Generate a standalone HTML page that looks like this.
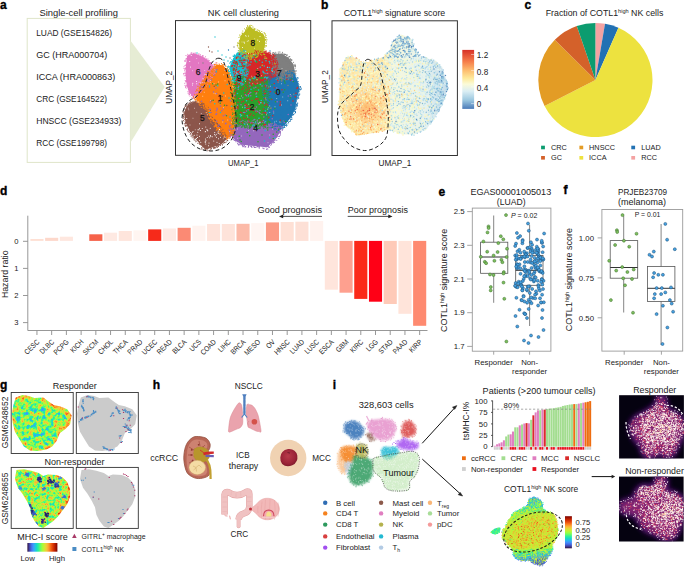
<!DOCTYPE html>
<html><head><meta charset="utf-8">
<style>
html,body{margin:0;padding:0;background:#fff;}
body{width:685px;height:569px;overflow:hidden;position:relative;font-family:"Liberation Sans",sans-serif;}
svg{position:absolute;left:0;top:0;}
svg text{font-family:"Liberation Sans",sans-serif;fill:#222;}
.pl{font-weight:bold;font-size:12px;fill:#000;stroke:#000;stroke-width:0.35px;}
.t9{font-size:8.8px;}
.t8{font-size:8.2px;}
</style></head><body>
<svg id="main" width="685" height="569" viewBox="0 0 685 569">


<text class="pl" x="0" y="9.2">a</text>
<text class="t9" x="39.4" y="16" font-size="9.2" textLength="78.6" lengthAdjust="spacingAndGlyphs">Single-cell profiling</text>
<rect x="27.2" y="18.4" width="103.2" height="144" fill="none" stroke="#dfe5c9" stroke-width="1"/>
<polygon points="130.4,40.5 130.4,142.7 164.7,87" fill="#e6ecd4"/>
<g class="t8">
<text x="36.2" y="36.2" font-size="8.7" textLength="75.8" lengthAdjust="spacingAndGlyphs">LUAD (GSE154826)</text>
<text x="36.2" y="58.1" font-size="8.7" textLength="71" lengthAdjust="spacingAndGlyphs">GC (HRA000704)</text>
<text x="36.2" y="80" font-size="8.7" textLength="79" lengthAdjust="spacingAndGlyphs">ICCA (HRA000863)</text>
<text x="36.2" y="101.9" font-size="8.7" textLength="70.8" lengthAdjust="spacingAndGlyphs">CRC (GSE164522)</text>
<text x="36.2" y="123.8" font-size="8.7" textLength="85.3" lengthAdjust="spacingAndGlyphs">HNSCC (GSE234933)</text>
<text x="36.2" y="145.7" font-size="8.7" textLength="70.8" lengthAdjust="spacingAndGlyphs">RCC (GSE199798)</text>
</g>
<text class="t9" x="207.8" y="16" textLength="71.1" lengthAdjust="spacingAndGlyphs">NK cell clustering</text>
<text class="t8" x="228.1" y="166" textLength="30.5" lengthAdjust="spacingAndGlyphs">UMAP_1</text>
<text class="t8" transform="translate(171.5,87.3) rotate(-90)" text-anchor="middle">UMAP_2</text>

<g id="umapA">
<path d="M269.3 74.6 L264.3 84.6 L264.3 84.7 L264.2 84.8 L264.2 84.9 L264.2 85 L264.2 85.1 L265.2 100 L266.1 122 L266.1 122.1 L266.1 122.2 L266.1 122.3 L266.2 122.4 L266.2 122.4 L266.3 122.5 L269.4 126.5 L269.4 126.6 L269.5 126.6 L269.5 126.7 L269.6 126.7 L269.7 126.7 L269.8 126.8 L269.8 126.8 L279 128.8 L279.1 128.8 L279.2 128.8 L279.3 128.8 L279.3 128.8 L279.4 128.8 L279.5 128.8 L279.5 128.7 L279.6 128.7 L279.7 128.6 L284.6 125 L284.6 125 L284.7 124.9 L290.9 117.5 L291 117.4 L291 117.4 L294.7 110 L294.7 109.9 L294.8 109.8 L294.8 109.8 L297.2 97.5 L299.7 88.9 L299.7 88.8 L299.7 88.8 L299.7 88.7 L299.7 88.6 L299.7 88.5 L299.7 88.5 L297.2 80.2 L297.1 80.1 L293.7 71.7 L293.7 71.6 L293.7 71.6 L293.6 71.5 L293.6 71.4 L293.5 71.4 L293.5 71.3 L293.4 71.3 L293.3 71.3 L293.2 71.2 L293.2 71.2 L293.1 71.2 L293 71.2 L292.9 71.2 L292.9 71.2 L292.8 71.2 L292.7 71.3 L292.6 71.3 L288.7 73.3 L279.9 76.2 L270.2 74.2 L270.1 74.2 L270 74.2 L269.9 74.2 L269.8 74.2 L269.8 74.2 L269.7 74.3 L269.6 74.3 L269.5 74.3 L269.5 74.4 L269.4 74.4 L269.4 74.5 L269.3 74.6 Z" fill="#1f77b4"/>
<path d="M272.2 54.6 L273.5 65.7 L273.5 65.7 L274.7 74.3 L274.7 74.4 L274.7 74.5 L274.8 74.5 L274.8 74.6 L274.8 74.7 L274.9 74.7 L274.9 74.8 L279.8 79.7 L279.9 79.7 L280 79.8 L280 79.8 L280.1 79.8 L280.2 79.9 L280.2 79.9 L280.3 79.9 L280.4 79.9 L280.5 79.9 L280.5 79.9 L280.6 79.9 L289.2 77.5 L289.3 77.4 L289.4 77.4 L289.4 77.4 L289.5 77.3 L289.6 77.3 L294.6 72.3 L294.6 72.2 L294.7 72.1 L294.7 72.1 L294.7 72 L294.8 71.9 L294.8 71.9 L294.8 71.8 L294.8 71.7 L294.8 71.6 L294.8 71.6 L293.5 64.3 L293.5 64.2 L293.4 64.1 L293.4 64 L293.4 64 L293.3 63.9 L288.4 57.7 L288.4 57.7 L288.3 57.6 L288.3 57.6 L288.2 57.5 L282.1 53.8 L282.1 53.8 L282 53.8 L281.9 53.7 L281.8 53.7 L281.8 53.7 L281.7 53.7 L273 53.7 L272.9 53.7 L272.8 53.7 L272.8 53.7 L272.7 53.8 L272.6 53.8 L272.6 53.8 L272.5 53.9 L272.4 53.9 L272.4 54 L272.3 54.1 L272.3 54.1 L272.3 54.2 L272.2 54.3 L272.2 54.4 L272.2 54.4 L272.2 54.5 Z" fill="#7f7f7f"/>
<path d="M231.7 124.9 L230.2 133.9 L230.2 133.9 L230.2 134 L230.2 134.1 L230.2 134.2 L230.2 134.2 L230.3 134.3 L230.3 134.4 L230.3 134.5 L230.4 134.5 L235.4 140.5 L235.4 140.6 L235.5 140.6 L235.6 140.7 L241.9 144.7 L241.9 144.7 L242 144.7 L242.1 144.8 L242.1 144.8 L242.2 144.8 L254.5 146.1 L254.5 146.1 L266.8 147.3 L266.9 147.3 L267 147.3 L267.1 147.3 L267.1 147.3 L267.2 147.2 L267.3 147.2 L267.3 147.2 L267.4 147.1 L267.5 147.1 L277.3 137.3 L277.3 137.2 L277.4 137.2 L277.4 137.1 L277.4 137 L281.1 128.8 L281.2 128.8 L281.2 128.7 L281.2 128.6 L281.2 128.5 L281.2 128.4 L281.2 128.4 L281.2 128.3 L281.1 128.2 L281.1 128.1 L281.1 128.1 L281 128 L281 127.9 L280.9 127.9 L280.8 127.8 L280.8 127.8 L280.7 127.8 L269.7 123.3 L269.6 123.2 L269.6 123.2 L269.5 123.2 L269.4 123.2 L258 123.2 L245.1 122.2 L245 122.2 L244.9 122.2 L232.4 124.2 L232.3 124.2 L232.2 124.2 L232.2 124.3 L232.1 124.3 L232 124.4 L232 124.4 L231.9 124.5 L231.9 124.5 L231.8 124.6 L231.8 124.6 L231.8 124.7 L231.7 124.8 Z" fill="#9467bd"/>
<path d="M233.7 79 L233.2 95 L233.2 95 L233.7 110 L233.7 124 L233.7 124.1 L233.7 124.2 L233.7 124.2 L233.8 124.3 L233.8 124.4 L233.8 124.4 L233.9 124.5 L233.9 124.6 L234 124.6 L234.1 124.7 L234.1 124.7 L234.2 124.7 L234.3 124.8 L234.3 124.8 L234.4 124.8 L244.9 125.8 L254.9 126.8 L255 126.8 L266 126.8 L266.1 126.8 L266.2 126.8 L266.2 126.8 L266.3 126.7 L266.4 126.7 L266.5 126.7 L266.5 126.6 L266.6 126.6 L266.6 126.5 L266.7 126.4 L266.7 126.4 L268.7 122.4 L268.7 122.3 L268.8 122.2 L268.8 122.1 L268.8 122 L268.8 122 L267.8 100 L267.8 79 L267.8 78.9 L267.8 78.8 L267.8 78.8 L267.7 78.7 L267.7 78.6 L267.7 78.6 L267.6 78.5 L267.6 78.4 L267.5 78.4 L267.4 78.3 L267.4 78.3 L267.3 78.3 L267.2 78.2 L267.2 78.2 L267.1 78.2 L267 78.2 L266.9 78.2 L266.8 78.2 L257 80.2 L245.1 78.2 L245.1 78.2 L245 78.2 L234.5 78.2 L234.4 78.2 L234.3 78.2 L234.3 78.2 L234.2 78.3 L234.1 78.3 L234.1 78.3 L234 78.4 L233.9 78.4 L233.9 78.5 L233.8 78.5 L233.8 78.6 L233.8 78.7 L233.7 78.7 L233.7 78.8 L233.7 78.9 Z" fill="#2ca02c"/>
<path d="M245.2 55.6 L244 61.7 L244 61.8 L244 61.9 L244 71.7 L244 71.8 L244 71.9 L244 71.9 L244.1 72 L247.8 80.7 L247.8 80.8 L247.8 80.9 L247.9 80.9 L248 81 L248 81 L248.1 81.1 L248.2 81.1 L248.2 81.2 L248.3 81.2 L248.4 81.2 L256.9 82.4 L257 82.4 L257 82.4 L257.1 82.4 L257.2 82.4 L267.1 79.9 L267.2 79.8 L267.3 79.8 L267.3 79.8 L274.7 74.9 L274.8 74.8 L274.9 74.8 L274.9 74.7 L275 74.6 L275 74.6 L275 74.5 L275.1 74.4 L277.5 65.8 L277.5 65.7 L277.5 65.7 L277.5 65.6 L277.5 65.5 L277.5 65.4 L277.5 65.4 L277.4 65.3 L273.7 56.7 L273.7 56.6 L273.7 56.5 L273.6 56.5 L273.5 56.4 L273.5 56.4 L273.4 56.3 L267.3 52.6 L267.3 52.6 L267.2 52.6 L267.1 52.5 L267 52.5 L267 52.5 L266.9 52.5 L255.8 52.5 L255.7 52.5 L255.7 52.5 L255.6 52.5 L245.8 55 L245.7 55 L245.6 55.1 L245.6 55.1 L245.5 55.2 L245.4 55.2 L245.4 55.3 L245.3 55.3 L245.3 55.4 L245.3 55.5 L245.2 55.6 Z" fill="#d62728"/>
<path d="M236.7 52.9 L233 59 L233 59.1 L229.3 67.7 L229.2 67.8 L229.2 67.8 L229.2 67.9 L229.2 68 L229.2 68.1 L229.2 68.2 L229.2 68.2 L232.9 80.6 L233 80.7 L233 80.8 L233 80.8 L233.1 80.9 L233.1 81 L233.2 81 L233.2 81.1 L233.3 81.1 L233.4 81.1 L233.5 81.2 L240.8 83.6 L240.8 83.6 L240.9 83.6 L241 83.6 L241.1 83.6 L241.1 83.6 L241.2 83.6 L241.3 83.5 L241.4 83.5 L241.4 83.5 L241.5 83.4 L241.5 83.4 L241.6 83.3 L241.6 83.3 L241.7 83.2 L246.7 74.6 L246.7 74.5 L246.8 74.4 L246.8 74.4 L246.8 74.3 L246.8 74.2 L246.8 61.9 L246.8 61.8 L246.8 61.8 L246.8 61.7 L244.3 51.8 L244.3 51.7 L244.2 51.7 L244.2 51.6 L244.1 51.5 L244.1 51.5 L244 51.4 L244 51.4 L243.9 51.3 L243.9 51.3 L243.8 51.3 L243.7 51.2 L243.6 51.2 L243.6 51.2 L243.5 51.2 L243.4 51.2 L243.3 51.2 L237.2 52.5 L237.2 52.5 L237.1 52.6 L237 52.6 L236.9 52.6 L236.9 52.7 L236.8 52.8 L236.8 52.8 Z" fill="#17becf"/>
<path d="M249 26.5 L246.9 29 L243.9 32.5 L243.9 32.5 L240.4 37 L240.3 37.1 L240.3 37.1 L240.3 37.2 L240.2 37.3 L240.2 37.4 L239 43.9 L239 43.9 L239 44 L239 44.1 L239.7 50.1 L239.7 50.2 L239.7 50.3 L239.8 50.3 L239.8 50.4 L239.9 50.5 L239.9 50.5 L244.4 55.5 L244.5 55.6 L244.5 55.6 L244.6 55.7 L244.6 55.7 L248.6 57.7 L248.7 57.7 L248.8 57.8 L248.9 57.8 L249 57.8 L249 57.8 L249.1 57.8 L249.2 57.8 L249.3 57.8 L256.3 55.3 L256.3 55.2 L262.3 52.7 L262.4 52.7 L262.4 52.7 L262.5 52.6 L262.6 52.6 L262.6 52.5 L262.7 52.4 L262.7 52.4 L262.7 52.3 L264.7 47.3 L264.8 47.2 L264.8 47.1 L264.8 47 L265.2 40 L265.2 40 L265.2 39.9 L265.2 39.8 L263.8 34.8 L263.7 34.7 L263.7 34.6 L263.7 34.6 L263.6 34.5 L263.6 34.4 L263.5 34.4 L263.4 34.3 L263.4 34.3 L259.4 32.3 L259.3 32.3 L255.4 30.8 L252.5 28.4 L250.1 26.4 L250 26.3 L250 26.3 L249.9 26.3 L249.8 26.2 L249.8 26.2 L249.7 26.2 L249.6 26.2 L249.5 26.2 L249.5 26.2 L249.4 26.2 L249.3 26.3 L249.2 26.3 L249.2 26.3 L249.1 26.4 L249 26.4 Z" fill="#bcbd22"/>
<path d="M191.3 53.8 L187.6 56.3 L187.5 56.4 L187.4 56.4 L187.4 56.5 L187.3 56.6 L187.3 56.6 L187.3 56.7 L187.2 56.8 L187.2 56.9 L186 64.3 L186 64.4 L185.4 74.2 L185.4 74.2 L185.4 74.3 L186.6 84.1 L186.6 84.2 L186.6 84.2 L189 91.6 L189.1 91.7 L189.1 91.8 L189.1 91.9 L192.3 96.5 L192.4 96.5 L192.4 96.6 L192.5 96.6 L192.6 96.7 L192.6 96.7 L192.7 96.7 L192.8 96.8 L192.9 96.8 L192.9 96.8 L193 96.8 L193.1 96.8 L193.2 96.8 L193.2 96.8 L193.3 96.7 L193.4 96.7 L193.5 96.7 L193.5 96.6 L199 92 L199.1 92 L204 87.1 L204 87 L204.1 86.9 L206.5 83.2 L206.5 83.2 L210.2 77.1 L213.8 72.2 L213.9 72.1 L213.9 72 L214 72 L214 71.9 L214 71.8 L214 71.7 L214 71.6 L214 71.5 L212.8 65.4 L212.8 65.4 L212.7 65.3 L212.7 65.2 L212.7 65.2 L212.6 65.1 L212.6 65 L208.9 61.3 L208.8 61.3 L203.9 57.6 L203.8 57.5 L203.8 57.5 L197.6 54.4 L197.5 54.4 L197.4 54.3 L197.4 54.3 L197.3 54.3 L191.8 53.7 L191.7 53.7 L191.6 53.7 L191.5 53.7 L191.5 53.7 L191.4 53.8 L191.3 53.8 Z" fill="#e377c2"/>
<path d="M186.6 106.2 L184.1 113 L184.1 113.1 L184.1 113.2 L184.1 113.3 L184.1 113.3 L184.1 113.4 L185.4 122 L185.4 122.1 L185.4 122.2 L185.5 122.2 L189.1 129.6 L189.1 129.7 L194.1 137.1 L194.2 137.2 L200.3 144.5 L200.3 144.6 L205.2 149.6 L205.3 149.6 L205.3 149.7 L205.4 149.7 L205.5 149.7 L205.6 149.8 L205.6 149.8 L205.7 149.8 L205.8 149.8 L205.9 149.8 L205.9 149.8 L206 149.8 L206.1 149.7 L212.3 147.3 L220.8 144.8 L220.9 144.7 L221 144.7 L221 144.7 L221.1 144.6 L221.2 144.6 L226.1 139.7 L226.1 139.6 L226.2 139.5 L226.2 139.5 L226.2 139.4 L226.3 139.3 L226.3 139.3 L226.3 139.2 L226.3 139.1 L226.3 139 L226.3 139 L226.3 138.9 L226.2 138.8 L226.2 138.7 L222.5 131.3 L222.5 131.3 L222.4 131.2 L222.4 131.1 L217.5 126.3 L212.7 119 L207.7 109.2 L207.7 109.2 L207.6 109.1 L207.6 109 L207.5 109 L201.4 104.1 L201.3 104 L201.3 104 L201.2 104 L195.1 101.5 L195 101.4 L194.9 101.4 L194.9 101.4 L194.8 101.4 L194.7 101.4 L194.6 101.4 L194.5 101.4 L194.5 101.5 L194.4 101.5 L187 105.8 L186.9 105.9 L186.9 105.9 L186.8 106 L186.8 106 L186.7 106.1 L186.7 106.2 Z" fill="#8c564b"/>
<path d="M216.3 64.9 L208.9 72.4 L208.9 72.5 L208.8 72.6 L204.3 79.6 L204.3 79.6 L199.3 87.6 L199.3 87.7 L195.3 96.7 L195.2 96.7 L195.2 96.8 L195.2 96.9 L195.2 97 L195.2 97.1 L195.2 97.1 L195.2 97.2 L195.2 97.3 L195.3 97.3 L195.3 97.4 L195.4 97.5 L198.4 101.5 L198.4 101.5 L206.3 110.1 L211.3 119.8 L211.3 119.8 L216.2 127.4 L216.3 127.5 L216.3 127.6 L221.2 132.6 L226.4 138 L226.5 138.1 L226.5 138.2 L226.6 138.2 L226.7 138.2 L226.7 138.3 L226.8 138.3 L226.9 138.3 L227 138.3 L227 138.3 L227.1 138.3 L227.2 138.3 L227.3 138.3 L227.3 138.2 L227.4 138.2 L233.4 134.7 L233.5 134.6 L233.5 134.6 L233.6 134.5 L233.6 134.5 L233.7 134.4 L233.7 134.4 L233.7 134.3 L233.8 134.2 L233.8 134.1 L233.8 134.1 L235.3 115.9 L235.3 115.8 L235.3 115.7 L233.8 96.9 L233.8 96.9 L231.8 79.9 L231.8 79.8 L231.8 79.8 L231.7 79.7 L227.7 69.7 L227.7 69.6 L227.7 69.6 L227.6 69.5 L227.6 69.4 L227.5 69.4 L222.5 65.4 L222.4 65.3 L222.4 65.3 L222.3 65.3 L222.2 65.2 L222.2 65.2 L222.1 65.2 L217 64.7 L216.9 64.7 L216.8 64.7 L216.7 64.7 L216.7 64.7 L216.6 64.8 L216.5 64.8 L216.5 64.8 L216.4 64.9 Z" fill="#ff7f0e"/>
<path transform="scale(.25)" d="M1164 284h0m-80 12h0m35 2h0m7-2h0m5 0h0m4 0h0m9-7h0m6 4h0m1-2h0m14 3h0m1 3h0m4-6h0m1 5h0m1 11h0m-2-2h0m-8-4h0m-15 7h0m-3-3h0m-11 3h0m-7-2h0m-12 3h0m-23-4h0m-1-4h0m-3-1h0m-23 19h0m2-7h0m1 10h0m10-8h0m11 4h0m11 0h0m9 0h0m67 3h0m0-1h0m5 2h0m8-5h0m5-5h0m-7 23h0m0-3h0m-1-5h0m-1 7h0m-1-8h0m-102 5h0m-4-4h0m-5 0h0m-1 0h0m-8 6h0m-3 0h0m-9 10h0m9 0h0m1-2h0m6 2h0m28 4h0m93-1h0m2-7h0m6 0h0m9 14h0m-1 5h0m-1-8h0m-6 9h0m-7-6h0m-6-1h0m-48 3h0m-7-2h0m-26 6h0m-36-3h0m-5-4h0m-1-1h0m-9 7h0m1 5h0m10 3h0m3 4h0m88-5h0m34 6h0m9-6h0m2 11h0m-1 4h0m-10-8h0m-14 0h0m-4 4h0m-39 7h0m-4-8h0m-3-1h0m-52 3h0m0-1h0m0 5h0m-3 1h0m-11-4h0m-2 1h0m11 9h0m7 5h0m29-2h0m17 1h0m58 3h0m10-6h0m5-4h0m0 4h0m-20 15h0m-14-2h0m-38 4h0m-51-10h0m-2 7h0m-10-5h0m-1 1h0m3 15h0m1-3h0m7 6h0m0-8h0m6-1h0m3 5h0m55 5h0m0-1h0m40-9h0m9 7h0m1 0h0m3 3h0m4 4h0m0 0h0m-1 4h0m-5 2h0m-4-1h0m-56 4h0m-48 0h0m-12-11h0m-5 0h0m1 21h0m8-5h0m29-4h0m4 5h0m22 3h0m27-5h0m24 0h0m7 2h0m0 1h0m2-1h0m2-2h0m-2 14h0m0 2h0m-13 4h0m-4-3h0m-2-4h0m-71 1h0m-8 5h0m-8-9h0m-2 4h0m-5 1h0m-12-2h0m0 5h0m-1-1h0m4 13h0m1 0h0m4-8h0m8 10h0m82-8h0m5 5h0m9-6h0m-1 18h0m-1-6h0m-1-2h0m-2 0h0m-3 8h0m-4-3h0m-9-1h0m-62-3h0m-14 0h0m-6 2h0m-9 12h0m2 1h0m0-4h0m15 2h0m52 1h0m8 1h0m3-2h0m4 7h0m3-9h0m0 9h0m10 1h0m8-7h0m-50 12h0m-13 6h0m-11-1h0m-1 3h0m-3-10h0m-3 0h0m0 1h0m-15 9h0m-1-5h0m-3-4h0m18 16h0m0 1h0m5-1h0m10-6h0m4 0h0m2 1h0m2 1h0m14 8h0m1-2h0m4-5h0m2 6h0m5-4h0m2 4h0m0-5h0m3 3h0m12-7h0m-41 15h0m-6 0h0" stroke="#1f77b4" stroke-width="4.8" stroke-linecap="round" fill="none"/>
<path transform="scale(.25)" d="M1100 215h0m-1-3h0m-17 1h0m1 14h0m6-3h0m7-7h0m4 9h0m11-7h0m8 8h0m5-11h0m7 4h0m10 7h0m6-5h0m0 0h0m17 15h0m-2-2h0m-3 2h0m-6-9h0m-15 5h0m-25-4h0m-14 9h0m-1-3h0m-10 1h0m-1 0h0m-3-8h0m4 15h0m10 7h0m1-8h0m0 3h0m15 0h0m3-5h0m28 0h0m9 5h0m11-4h0m3-1h0m13 21h0m-17-2h0m-1 3h0m-1-1h0m-39 0h0m-25-6h0m-7-2h0m2 19h0m7-4h0m1 2h0m32-1h0m30-3h0m1 2h0m1 1h0m0 6h0m17-10h0m2 20h0m-17-6h0m-2 0h0m-62 0h0m-4 5h0m-5-3h0m-1 18h0m3-10h0m7 10h0m2-9h0m3 7h0m3 0h0m6-7h0m1 8h0m60-10h0m-9 12h0m-1 8h0m-7 0h0m-2-5h0m-3 5h0m-4-4h0m-3-2h0m-4 4h0m-7-1h0m-3-2h0m-1 1h0m-1 5h0m-6-4h0m-28-2h0m10 9h0m1 3h0m1 6h0m3 1h0m4-3h0m6-3h0m1 4h0m3-8h0m1 11h0m8-6h0m6 3h0m8-1h0" stroke="#7f7f7f" stroke-width="4.8" stroke-linecap="round" fill="none"/>
<path transform="scale(.25)" d="M938 490h0m16 0h0m9-5h0m8 5h0m2-7h0m20 1h0m4 0h0m18 7h0m14-6h0m9 3h0m3 1h0m2 1h0m0-4h0m7-1h0m10 4h0m6-1h0m0 0h0m47 15h0m-5-1h0m-4-2h0m-5 2h0m-6 0h0m-8 0h0m-1-3h0m-1 2h0m-1 1h0m-17-2h0m-2 3h0m-4-11h0m-9 7h0m0-1h0m-7-6h0m-17 6h0m-22-4h0m-14 7h0m-10-7h0m-11 9h0m-7-7h0m-26 5h0m-4-5h0m-9 6h0m-4 1h0m-1 2h0m0-1h0m5 10h0m16-3h0m10-6h0m10 0h0m0 0h0m45 0h0m2 10h0m6-9h0m2-2h0m38 2h0m14 0h0m16 5h0m3-5h0m8-2h0m2 10h0m4 0h0m0-2h0m9-6h0m0 5h0m5-7h0m1 6h0m11-5h0m3 15h0m-6-2h0m-20-2h0m0 0h0m-14 6h0m-88-3h0m-47 1h0m-22-2h0m-3 8h0m-2-3h0m-8 3h0m-2-7h0m2 11h0m12 6h0m7 3h0m112-1h0m32-5h0m12 5h0m15-8h0m7 5h0m0 0h0m3-7h0m4 4h0m-23 19h0m-4-11h0m-1 0h0m-2 4h0m-26-2h0m-27 5h0m-92 3h0m0-1h0m-5-5h0m-10-2h0m1 16h0m9 5h0m4-7h0m5 6h0m1 0h0m1 0h0m7-4h0m8-5h0m8 4h0m116-5h0m15 9h0m-10 8h0m-5-1h0m-4 4h0m-3 1h0m-1-8h0m-35 0h0m-8 9h0m-8 0h0m-3-1h0m-7-2h0m0 1h0m-2 2h0m-31-1h0m-3 1h0m-6-3h0m-2 0h0m-2-5h0m-6 7h0m-1-9h0m-3 2h0m-1 1h0m-2 8h0m-6-7h0m0 0h0m-3 12h0m0 0h0m0-3h0m17 10h0m9 0h0m15-4h0m19 1h0m7-3h0m5-4h0m2 10h0m1-2h0m25-8h0m1 2h0m7-1h0m12 7h0m11-8h0m-10 11h0m-5 8h0m-16-2h0m-28-6h0m-5 1h0m-5 1h0m-24-1h0m-13-1h0" stroke="#9467bd" stroke-width="4.8" stroke-linecap="round" fill="none"/>
<path transform="scale(.25)" d="M1064 311h0m-1-3h0m-13 0h0m-8 2h0m-73-4h0m-1 3h0m-4-4h0m-7 0h0m-10 0h0m-8 6h0m-8 5h0m5 4h0m0-4h0m5 6h0m4-8h0m8 6h0m3-4h0m3-2h0m3 8h0m13 1h0m33-6h0m17 3h0m16-7h0m3 3h0m3-4h0m0 1h0m11 10h0m1-3h0m5-6h0m4 9h0m3-4h0m7 9h0m-5-1h0m-2 1h0m-1 0h0m-6 6h0m-4-1h0m-1-2h0m-2-5h0m-3 2h0m0-2h0m-7 3h0m-12-4h0m-6 0h0m-4-1h0m-4 6h0m-3 2h0m-4-7h0m-19 2h0m-3 0h0m-11-2h0m-2 0h0m-25-1h0m-5 1h0m-4 2h0m-1 5h0m-2 1h0m-1-3h0m-11-1h0m-3 5h0m2 7h0m23-2h0m37 8h0m10-2h0m34-5h0m15 7h0m9-11h0m1 1h0m1 2h0m3 8h0m3 0h0m3-2h0m10 0h0m1 9h0m-5-1h0m-3 2h0m-4-7h0m-126 4h0m-11 16h0m6 2h0m1-10h0m0 4h0m10 4h0m61 1h0m4 1h0m18-9h0m35 2h0m4 7h0m5-5h0m-3 15h0m-14 0h0m-28-8h0m-28 11h0m-34-2h0m-31-9h0m-6 8h0m-4 14h0m4-9h0m35 8h0m29-7h0m6-1h0m2 4h0m58 1h0m5-1h0m7 3h0m0-7h0m6 14h0m0 2h0m-75 6h0m-76 0h0m11 4h0m124-1h0m1 9h0m0-9h0m0 9h0m0-2h0m3-6h0m5 7h0m2-4h0m2-5h0m4 18h0m-11 4h0m-2-9h0m-5 0h0m-105 4h0m-1-5h0m-19 7h0m-7-5h0m-1 14h0m1 5h0m4-10h0m5 5h0m5 3h0m4-6h0m1 8h0m14 0h0m25-5h0m1-2h0m28 0h0m39 6h0m17-2h0m4-7h0m0 2h0m5 4h0m-14 17h0m-4-5h0m-3-3h0m-41 1h0m-22 4h0m-48-5h0m-3 5h0m-6 3h0m-10-11h0m39 20h0m93-1h0m10-6h0m5 3h0m-59 13h0m-78-2h0m-1 7h0m-1-1h0m-7 6h0m7 3h0m3 0h0m5 1h0m8 3h0m1-10h0m8 5h0m2 5h0m1-7h0m6 6h0m2-3h0m9 5h0m21-4h0m17-1h0m26 2h0m18-3h0m9-2h0m3 7h0m3 0h0m-1 3h0m-1 1h0m-6 7h0m-25-7h0m-1 5h0m-6-1h0m-8-3h0m-5 3h0m-1-1h0m-11-1h0m-18 0h0m-1-4h0m-4 1h0m0 9h0m-8-6h0m-17-3h0m-7 4h0m-1-4h0m-8 5h0m-19-2h0m-2 0h0m37 13h0m1-2h0m0-3h0m13 4h0m7-3h0m10 8h0m3-3h0m1 1h0m31 1h0m5 0h0m15-5h0m2 7h0m5-9h0m11 6h0" stroke="#2ca02c" stroke-width="4.8" stroke-linecap="round" fill="none"/>
<path transform="scale(.25)" d="M1080 209h0m-7 3h0m-16-4h0m-1-2h0m0 0h0m-1 4h0m-4-5h0m-4 1h0m-4 0h0m-10 1h0m-10 0h0m-15 8h0m-27 0h0m-8 8h0m2-4h0m3-1h0m3 0h0m16-2h0m9 6h0m18 1h0m3-5h0m0-1h0m1 4h0m5 3h0m9-8h0m4 6h0m14 4h0m8 0h0m6-3h0m2-6h0m5 0h0m3 10h0m9-2h0m2-8h0m1 4h0m3 5h0m2 10h0m-11-8h0m-58 8h0m-16 0h0m-24-7h0m0 0h0m-8 4h0m-1-4h0m-6 10h0m-2-4h0m-5 1h0m40 15h0m6-9h0m5 8h0m62-9h0m11 8h0m16 2h0m-13 9h0m-2 1h0m-30-7h0m-17 2h0m-19 4h0m-14-1h0m-32 2h0m-3 1h0m0-6h0m-9 0h0m0 17h0m0-7h0m11-2h0m2 4h0m1 0h0m3-4h0m2 6h0m28 0h0m75 5h0m4-2h0m4-9h0m8 5h0m0 12h0m0 4h0m-17-1h0m0 1h0m-64 2h0m-22-8h0m-16-2h0m0 8h0m-7-5h0m-6-1h0m-2 7h0m-1 6h0m23-4h0m8 11h0m1-2h0m3-9h0m8 4h0m66 5h0m3-5h0m14 1h0m2-2h0m3-2h0m4 6h0m-8 7h0m-2 5h0m-3-7h0m-2 5h0m-5 0h0m-75 4h0m-2-2h0m-13-1h0m-10-4h0m-2 3h0m-2 6h0m-1-3h0m-1-2h0m-2 12h0m4-3h0m3 8h0m9-1h0m5 1h0m45-2h0m5-1h0m2-3h0m8-5h0m1 2h0m23-2h0m-25 16h0m-6-1h0m-12 0h0m-4 5h0m-11 1h0m-9-9h0m-14 6h0m-10-6h0m-3 5h0" stroke="#d62728" stroke-width="4.8" stroke-linecap="round" fill="none"/>
<path transform="scale(.25)" d="M953 203h0m13 0h0m19 6h0m-10 6h0m-12 0h0m-3-8h0m-1 8h0m-6-1h0m0-3h0m-16 10h0m12-5h0m3 3h0m8 8h0m14-4h0m0 3h0m3-7h0m0 1h0m2 5h0m0-4h0m1-4h0m3 7h0m0 8h0m-13-4h0m-12 9h0m-11 0h0m-11-1h0m-2-2h0m-3 8h0m3 3h0m8-4h0m33 8h0m2-7h0m7 2h0m2 3h0m8-6h0m-7 17h0m-11-3h0m-52 1h0m-13 10h0m0 5h0m3-3h0m8 1h0m1 1h0m10-2h0m24-2h0m16 5h0m0-4h0m5 1h0m2-3h0m12 11h0m-7 4h0m-5-1h0m-2 8h0m0-8h0m-3 0h0m-47-1h0m-5 9h0m-1-1h0m-7 0h0m-1-4h0m0-1h0m11 14h0m1 4h0m7-8h0m11-1h0m43 9h0m7 0h0m-4 7h0m-5 3h0m-3 2h0m-1-6h0m-8 6h0m-7 0h0m-2-1h0m-19-1h0m-8-4h0m-4 5h0m-4-8h0m-4 0h0m24 18h0m27-2h0m4-2h0m3 3h0m-11 15h0m-5-5h0m-4 5h0m-14-6h0m-14 1h0m-9-2h0m21 9h0m17 3h0m1 2h0m5-3h0m3-1h0" stroke="#17becf" stroke-width="4.8" stroke-linecap="round" fill="none"/>
<path transform="scale(.25)" d="M990 103h0m8 0h0m3 4h0m30 12h0m-19-11h0m-1 0h0m-6 9h0m-2-6h0m-7 4h0m-1 2h0m0-5h0m-7-2h0m-17 14h0m11-4h0m3 5h0m6 6h0m2-8h0m9 2h0m4-3h0m2 9h0m8-11h0m2 8h0m12-1h0m8-3h0m4 6h0m7 3h0m0 8h0m-4-5h0m-16-3h0m-12 0h0m-6 3h0m-35 1h0m0 2h0m-1 0h0m-5 4h0m-2-2h0m-12 9h0m11-2h0m9 0h0m61-4h0m12 5h0m2-3h0m4-1h0m6 5h0m5 17h0m-4-9h0m-8 6h0m-5 3h0m-38-10h0m-39 9h0m-6-6h0m-15 16h0m2-4h0m3 2h0m7-6h0m1 6h0m2 5h0m1-6h0m2 3h0m4 1h0m6 1h0m21-5h0m65 0h0m1 10h0m-6-1h0m-6 2h0m-3 3h0m-3 3h0m-60-7h0m-18-2h0m-21 1h0m7 10h0m4 1h0m4 6h0m82-7h0m4 1h0m11 13h0m-8 3h0m-26 5h0m-2-2h0m-5-3h0m-32 5h0m-4-5h0m-3-1h0m-2 1h0m-11 4h0m-2 1h0m-10-4h0m7 6h0m10 10h0m5 1h0m20-9h0m1 7h0m2-3h0m2-5h0m6 1h0m2 4h0m3 0h0m8-5h0m20 0h0m5 3h0m-24 8h0m-17 2h0m0 5h0m-2-4h0m-16-1h0m-5 2h0m-5-3h0" stroke="#bcbd22" stroke-width="4.8" stroke-linecap="round" fill="none"/>
<path transform="scale(.25)" d="M782 212h0m-5 3h0m-1-3h0m-2 2h0m-6-2h0m-24 10h0m13-2h0m0-1h0m16-2h0m1 0h0m1 4h0m1 1h0m5-2h0m10 4h0m3-8h0m6 8h0m7 1h0m4 2h0m16 12h0m0-3h0m-13-2h0m-2-2h0m0 1h0m0 4h0m-13 0h0m-2-3h0m-5-3h0m-7 8h0m-1-8h0m-21-2h0m-24 14h0m5-3h0m12 3h0m61-1h0m2-2h0m1 6h0m15 0h0m5 5h0m2-1h0m17 12h0m-14-9h0m-3 7h0m-75-4h0m-9 3h0m-13 3h0m-9 5h0m0 7h0m12-6h0m3 3h0m13-7h0m82 10h0m12-10h0m1 6h0m1 7h0m-3 1h0m-5 3h0m-22-3h0m-13 5h0m-15-1h0m-19-5h0m-43 1h0m-6 17h0m1 1h0m0-2h0m4-2h0m9 6h0m0 1h0m11-3h0m23-1h0m58-7h0m12 4h0m3 6h0m-5 12h0m-8-4h0m-10 0h0m-2-2h0m-3 3h0m-1 2h0m-30 2h0m-50-2h0m-9-6h0m4 19h0m4-8h0m72 0h0m13 1h0m6 10h0m-3 1h0m-72 3h0m-3 2h0m-1 4h0m-2 0h0m0 0h0m-12-8h0m-3 14h0m9 3h0m1 1h0m1-5h0m4 4h0m3-5h0m5 7h0m42-4h0m2 3h0m6-1h0m18-7h0m-16 20h0m-3-6h0m-1 0h0m-3-2h0m0 8h0m0-2h0m-1-1h0m-5-1h0m-4 2h0m-5-1h0m-32-4h0m0 1h0m-2 4h0m-7 11h0m4-3h0m6 8h0m9-7h0m5 6h0m2-1h0m4-2h0m4-5h0m2 8h0m3-3h0m9-3h0m3-4h0m7 0h0m-20 15h0m-13-1h0m-20 2h0m-1-4h0m-4 0h0m8 12h0m17 1h0m1 7h0m7-6h0" stroke="#e377c2" stroke-width="4.8" stroke-linecap="round" fill="none"/>
<path transform="scale(.25)" d="M785 400h0m-1 6h0m-42 13h0m13-3h0m2-5h0m5 3h0m1 3h0m0-8h0m5 3h0m7 5h0m2-7h0m6 3h0m1 0h0m7-1h0m28 10h0m-8 9h0m-1-7h0m-2-3h0m-2 10h0m-2 0h0m-11-10h0m-1-1h0m-5 0h0m-20 8h0m-1 1h0m-5 1h0m-5-6h0m-3 5h0m-15 0h0m14 5h0m16 0h0m37-1h0m4 1h0m5 2h0m17 8h0m-44 10h0m-19 0h0m-20 0h0m-16-10h0m-1 16h0m3 5h0m13-8h0m19 5h0m21 0h0m4 5h0m2-9h0m48 7h0m18 13h0m0-1h0m-10-6h0m-8 5h0m-2 0h0m-2 3h0m-2-6h0m-45 0h0m-1 4h0m-23-7h0m-12 5h0m-15 3h0m-3-9h0m-3 3h0m11 18h0m5-9h0m6 3h0m42 4h0m5 0h0m39-3h0m2-5h0m4 7h0m1-5h0m2 1h0m8 7h0m6 0h0m12 12h0m-6 1h0m-3-5h0m-5-5h0m-3 2h0m-11-2h0m-45 5h0m-6-3h0m-5 2h0m-33-5h0m-9 1h0m-3 10h0m-10-8h0m21 20h0m3-4h0m7-7h0m89 3h0m5 0h0m16-1h0m1 1h0m4 8h0m8 8h0m-5-2h0m-2 3h0m-6 3h0m-2-10h0m-40 6h0m-22-1h0m-38 1h0m-4-6h0m-3 2h0m0 1h0m-1 2h0m0-4h0m-15 8h0m-2-4h0m6 7h0m17 8h0m47-6h0m63 6h0m1 1h0m4-9h0m4 3h0m7 0h0m-2 15h0m-4 4h0m-2-5h0m-3 1h0m-4-4h0m-5 1h0m-6 1h0m-6 5h0m-82-10h0m-6 6h0m-9-4h0m5 17h0m1-4h0m32 5h0m1-5h0m20 3h0m55 1h0m5-4h0m3 2h0m18-4h0m-7 16h0m-14-1h0m-7 1h0m-12-2h0m-15 3h0m-1 5h0m-13-7h0m-14 0h0m-16 7h0m-2-2h0m-3 0h0m-1-6h0m-21-3h0m-2 3h0m19 9h0m16 1h0m1 8h0m24-3h0m0-5h0m4 0h0m2 9h0m3-3h0m2-2h0m12 3h0m5-1h0m3 3h0m8-5h0m8-1h0m-20 9h0m-10 4h0m-3-1h0m-3 0h0m-1-3h0m-7 5h0m-16-2h0m-10 9h0m19 0h0" stroke="#8c564b" stroke-width="4.8" stroke-linecap="round" fill="none"/>
<path transform="scale(.25)" d="M867 251h0m9 5h0m0 0h0m-28 17h0m11-7h0m0 4h0m1 5h0m0-2h0m13-8h0m19 0h0m1 2h0m11-2h0m4 9h0m7 4h0m-11 7h0m-3-5h0m-9 0h0m-40-1h0m-10 7h0m-8-1h0m-3-1h0m-7 10h0m3-1h0m7 5h0m4-2h0m1-1h0m49-2h0m3-2h0m15-3h0m10 1h0m3 20h0m-1 2h0m-10-11h0m-9 5h0m-38 3h0m-25-1h0m-2-4h0m-9 3h0m-3-4h0m-12 21h0m3-1h0m8-3h0m8-2h0m96 2h0m6-2h0m0 13h0m-8 5h0m-2-2h0m-1 2h0m-11-1h0m-43-9h0m-1 10h0m-38-6h0m-13-3h0m-4-1h0m-3 17h0m9-6h0m55 10h0m11-9h0m36 10h0m1-7h0m4 0h0m2 6h0m7-5h0m1 4h0m2-8h0m2 9h0m0 8h0m-2 5h0m-5-5h0m0-4h0m-13 0h0m-65 9h0m-23-6h0m-23 0h0m-6-3h0m-11 6h0m-3 5h0m4 1h0m2-1h0m1 5h0m8 5h0m6-3h0m66-8h0m2 5h0m45-2h0m0 2h0m0-5h0m7 5h0m2 1h0m12 3h0m-12 5h0m-8 8h0m-32-1h0m-58-6h0m-18-1h0m-16 3h0m-9 4h0m-1-5h0m-1 2h0m0-1h0m-1 4h0m-5-5h0m-6 10h0m2 7h0m13-6h0m2 2h0m6 5h0m2 0h0m68 0h0m54-9h0m9 3h0m1 4h0m3-8h0m-49 16h0m-70-3h0m-6 9h0m-2-2h0m-15-6h0m-1 3h0m-1 4h0m-1-6h0m-2 0h0m9 12h0m13 8h0m6-9h0m0 0h0m3 7h0m11-1h0m39-6h0m4 3h0m17-4h0m38 6h0m7-6h0m6 5h0m2-3h0m-6 12h0m0 8h0m-4-3h0m-6 3h0m-51-4h0m0-1h0m-26-1h0m-41-5h0m-9 2h0m16 13h0m4 3h0m11 4h0m3-4h0m19-6h0m65 6h0m1-6h0m9 11h0m10-11h0m-2 21h0m-5-6h0m-8 7h0m-73 1h0m-6-8h0m0 2h0m-4-4h0m-6 10h0m-1-10h0m-10 6h0m8 11h0m3-5h0m8 2h0m49 1h0m50-2h0m2 3h0m5 17h0m-17-5h0m-4 5h0m-3-2h0m-3-6h0m-61 0h0m-4 9h0m1 7h0m8-2h0m23-1h0m3 1h0m26 4h0m21-5h0m2-2h0m1-1h0m4 14h0m-18 0h0m-34 4h0m-22-5h0m-4 5h0m-4 2h0m0 3h0m-5 0h0m0-4h0m-12-7h0m20 19h0m0-3h0m6-4h0m0 10h0m5-5h0m0 1h0m16 3h0m5 0h0m18-4h0m11 1h0m8 0h0m2-6h0m2 9h0m0-9h0m-5 23h0m-3-10h0m-1-1h0m-5 1h0m-1 3h0m-32 3h0m-1 2h0m-1-5h0m-11-4h0m-3 1h0m0 1h0m-2 1h0m-3 1h0m-4-4h0m-1 5h0m10 8h0m18 5h0m5 5h0m13-8h0m9 8h0m1-9h0m13 3h0m1 4h0m-15 9h0m-9-3h0m-10 1h0m-5-4h0m-2 8h0m-7-5h0" stroke="#ff7f0e" stroke-width="4.8" stroke-linecap="round" fill="none"/>
<path transform="scale(.25)" d="M1176 281h0m-17 1h0m-9 4h0m-81 13h0m5-6h0m5 1h0m7 0h0m10 1h0m13 0h0m34-1h0m2-3h0m13 2h0m5 1h0m1-3h0m3-2h0m10 7h0m6 7h0m-14 2h0m-13 4h0m-18 0h0m0-3h0m-1-4h0m-14 1h0m-1 3h0m-5-3h0m-9 2h0m-1-3h0m-4 4h0m-26 2h0m-1-5h0m-6 7h0m-1-5h0m-2 1h0m-7 16h0m11-9h0m3 2h0m1 3h0m2-4h0m3 3h0m21-4h0m5 2h0m32-3h0m26 2h0m1 8h0m7-4h0m3-5h0m5 10h0m3-8h0m6-3h0m1 13h0m-10 10h0m-31-6h0m-13-2h0m-19 2h0m-62 12h0m0-5h0m6 2h0m1 5h0m0-6h0m5 1h0m27 9h0m14-3h0m91 3h0m3-1h0m0 13h0m-3-3h0m-5-5h0m-1-3h0m-7 5h0m-22-2h0m-41-1h0m-48 2h0m-3 4h0m0-3h0m-8 6h0m-3-7h0m-11 12h0m1 6h0m4-8h0m3 9h0m11-1h0m11-4h0m9-4h0m38 6h0m14 1h0m21-3h0m18 4h0m2-5h0m2-4h0m3 10h0m-18 5h0m-21 7h0m-88-10h0m-5 3h0m-4 3h0m3 11h0m5 1h0m0-1h0m3-5h0m6 2h0m1-3h0m12 6h0m21-6h0m1 5h0m14 6h0m32-2h0m40-2h0m4 2h0m-4 3h0m-3 8h0m-1 0h0m-6-5h0m-4 4h0m-2 0h0m0-5h0m-103 1h0m0 3h0m-2 5h0m-5-8h0m-4 8h0m14 6h0m13 1h0m31-3h0m57-1h0m12 8h0m2-5h0m3-1h0m-6 10h0m-2 3h0m-2-2h0m-3 2h0m-3 5h0m-14-10h0m-1 11h0m-40-10h0m-14 9h0m-50 1h0m4 1h0m2 1h0m0 10h0m8-8h0m93 6h0m1 2h0m15-2h0m5-9h0m-5 13h0m-9 10h0m-5-5h0m-2 1h0m-33-5h0m-53 8h0m-3-7h0m-3 6h0m-15-5h0m2 17h0m4-3h0m10-1h0m2 2h0m81-4h0m0-3h0m3 1h0m3 7h0m5 0h0m3-2h0m5-4h0m-11 20h0m-10-1h0m-1-9h0m-21 0h0m-58 10h0m-8-4h0m-4 16h0m6-7h0m28 2h0m42 2h0m19-2h0m4 0h0m-8 10h0m-4 6h0m-2-2h0m-1 2h0m-6-9h0m-1 7h0m0 1h0m-42 3h0m-10-9h0m-3 5h0m-16-2h0m18 14h0m7-3h0m1 0h0m3 7h0m2-3h0m8-8h0m4 2h0m14 6h0m3-8h0m9 1h0m1-1h0m1 4h0m1 1h0m-25 12h0m-2 1h0m-7-6h0m-10 0h0" stroke="#1f77b4" stroke-width="4.8" stroke-linecap="round" fill="none"/>
<path transform="scale(.25)" d="M1120 208h0m-1 0h0m-4 5h0m-12-4h0m-11 2h0m-10 2h0m17 3h0m1 2h0m4 4h0m2-5h0m1 2h0m4 2h0m19 6h0m5-2h0m2-7h0m4-1h0m2 1h0m14 9h0m0 0h0m2-1h0m0 0h0m-4 6h0m-55-1h0m4 9h0m8 11h0m2 0h0m17-5h0m29 3h0m0-5h0m14 5h0m7 14h0m-1-6h0m-3 4h0m-7 0h0m-1-4h0m-14-5h0m-4 2h0m-32-1h0m-8 1h0m-4 8h0m-15-3h0m-4 16h0m2-1h0m2-8h0m2 3h0m5 0h0m1 6h0m0-7h0m3-2h0m2-1h0m8 8h0m50-5h0m1 2h0m8-2h0m7-3h0m2 7h0m-2 13h0m-7-2h0m-2 0h0m-1 2h0m-5-2h0m-6 0h0m-46 4h0m-2-7h0m-4 1h0m-2-2h0m-1 3h0m-1-4h0m-11 3h0m0 14h0m2 2h0m0-3h0m21-1h0m13 4h0m6 1h0m15 0h0m6-2h0m9 0h0m6 3h0m5-7h0m1 2h0m2 0h0m4-6h0m1 9h0m-9 7h0m-55 5h0m-6-3h0m3 16h0m24-10h0m9 6h0m3 0h0m4-4h0" stroke="#7f7f7f" stroke-width="4.8" stroke-linecap="round" fill="none"/>
<path transform="scale(.25)" d="M934 489h0m3 0h0m28-3h0m4-3h0m11 3h0m5 5h0m6-8h0m3 7h0m0-5h0m2 3h0m8 1h0m0-1h0m5 2h0m0-7h0m5 7h0m37-2h0m0 1h0m0 1h0m7-1h0m3-4h0m61 18h0m-5-1h0m-18-7h0m-1 4h0m-1-3h0m-1 6h0m-2 0h0m-5 1h0m-53-9h0m-3 2h0m-17 6h0m-24 0h0m-10-1h0m-6-8h0m-11 9h0m-2-8h0m-15 4h0m-1 3h0m-5-2h0m-1 0h0m-20 1h0m-2 4h0m9 11h0m33-10h0m50 3h0m0-3h0m46 5h0m22-3h0m22 5h0m12-6h0m3 1h0m3 5h0m7-4h0m4 12h0m-8 6h0m-10-8h0m-26 3h0m-40 3h0m-5-5h0m-17 3h0m-8-2h0m-55 7h0m-25-9h0m-5 9h0m-13 8h0m3 4h0m5-1h0m6-1h0m2-9h0m35 2h0m7 4h0m45 0h0m10 1h0m41-6h0m22 5h0m19-2h0m3-4h0m2 18h0m-3 0h0m-8-1h0m-6-2h0m-68-1h0m-54-2h0m-23 3h0m-14 5h0m-3-6h0m-5-2h0m-1 5h0m-2-5h0m-1 8h0m-2-7h0m-5 5h0m-2 4h0m-2-8h0m17 17h0m0 1h0m3 2h0m14-5h0m3 5h0m30-8h0m4 6h0m4 1h0m40 0h0m43 0h0m20 1h0m4-2h0m14-6h0m-18 15h0m-3-3h0m-5 4h0m-11-4h0m-24 8h0m0-3h0m-22 4h0m-1-8h0m-7 8h0m-2-2h0m-10 2h0m-4-6h0m0 3h0m-12-2h0m-4-3h0m-19-1h0m-8 5h0m-3-4h0m-18 0h0m14 9h0m5 0h0m4 3h0m5 4h0m0-3h0m9 6h0m2 1h0m19-3h0m3 2h0m1 1h0m1-1h0m1-6h0m10 1h0m1-4h0m3 5h0m12 5h0m0-8h0m1 8h0m2 0h0m12-11h0m10 8h0m5 3h0m5-3h0m3 1h0m1-9h0m4 13h0m-1 1h0m-25 2h0m-14 1h0m0-2h0m-18-2h0m-11 1h0" stroke="#9467bd" stroke-width="4.8" stroke-linecap="round" fill="none"/>
<path transform="scale(.25)" d="M1051 311h0m-3-1h0m-64 0h0m-2-1h0m-6-3h0m-2 1h0m-33 0h0m-3 4h0m-8 6h0m0-3h0m3 3h0m10 5h0m6-3h0m3 0h0m1-7h0m6 1h0m9 4h0m2-2h0m11 8h0m1-7h0m13 3h0m4-6h0m5 10h0m3-6h0m0-2h0m1 4h0m2-5h0m1-2h0m2 5h0m8-4h0m0 10h0m7-1h0m11-5h0m9-2h0m1 0h0m11 0h0m13 1h0m-6 9h0m-9 2h0m-12 3h0m-5-6h0m-15 6h0m-2-4h0m-20 5h0m-1-2h0m-7 6h0m-2-10h0m-13 1h0m-3 9h0m-31-11h0m-15 11h0m-2-3h0m6 9h0m10-2h0m1 2h0m0 5h0m1-10h0m60 6h0m24-5h0m15 10h0m11-11h0m1 10h0m9 0h0m5-9h0m4 4h0m0 9h0m-17 3h0m-2 4h0m-29-1h0m-9-2h0m-17-2h0m-4 4h0m-12-7h0m-31-1h0m-18 11h0m4 8h0m3 1h0m6-5h0m102 0h0m4 6h0m4-8h0m4 8h0m14 13h0m-7-4h0m-12-1h0m-2 4h0m-27-8h0m-16 4h0m0-4h0m-36 6h0m-6 3h0m-32-9h0m-14 10h0m1 1h0m2 4h0m9 5h0m8-5h0m109-2h0m4 0h0m10 0h0m1-2h0m3 0h0m1 8h0m-9 14h0m-9-8h0m-31 4h0m-81 3h0m-1-8h0m-5 7h0m0 1h0m-9-7h0m3 12h0m14 3h0m118-1h0m4 1h0m5-3h0m4 21h0m-6-4h0m-2-3h0m-4 3h0m-1 2h0m-2-8h0m-59 0h0m-9 6h0m-23-5h0m-25-1h0m0 5h0m-14 0h0m-4 13h0m1-6h0m65 1h0m39 9h0m26-4h0m0-5h0m3 0h0m3 9h0m0-5h0m3 3h0m7-4h0m-8 17h0m-1-7h0m-5 1h0m-46-4h0m-12 5h0m-27 4h0m-29-5h0m-4 0h0m-7 7h0m-1-4h0m-5-1h0m0 7h0m5 9h0m2-1h0m5-1h0m5-6h0m1 3h0m26 5h0m39 1h0m49-7h0m1 7h0m3-8h0m5 4h0m4 4h0m1-1h0m4-4h0m-12 14h0m-6-4h0m-63 2h0m-57-3h0m-6 0h0m-7 3h0m3 10h0m2-3h0m11 8h0m5 0h0m49 0h0m0 0h0m66-8h0m7 9h0m4-3h0m1 14h0m-7-8h0m-20 6h0m-6 0h0m-5-2h0m-17 3h0m-17-4h0m-11 3h0m-40-4h0m-1 7h0m-11-3h0m-3-6h0m-8-1h0m7 12h0m5 2h0m4-2h0m17 4h0m11-4h0m9 5h0m8 0h0m10-1h0m11-1h0m1 0h0m1 6h0m7-5h0m2-3h0m1 7h0m6 2h0m1-10h0m8 3h0m15 3h0m11 2h0m5-1h0m1-4h0" stroke="#2ca02c" stroke-width="4.8" stroke-linecap="round" fill="none"/>
<path transform="scale(.25)" d="M1021 202h0m58 11h0m-2-2h0m-10 1h0m-1-8h0m-6 0h0m-3 4h0m-7 1h0m-1 6h0m-9-5h0m-2 4h0m-12-6h0m-6 6h0m-10 0h0m-2-1h0m-2 2h0m-16 0h0m-2 0h0m-13 5h0m3 2h0m1-5h0m3 6h0m14-6h0m2-1h0m1 9h0m0-7h0m13 2h0m1-2h0m15 4h0m11-2h0m8-3h0m4 0h0m10 5h0m28-6h0m5 3h0m1 3h0m-1 12h0m-8 4h0m-2-9h0m-3 2h0m-1 1h0m-2-1h0m0 4h0m-65-6h0m-24-1h0m-5 9h0m-2-7h0m-6 9h0m14 7h0m33-5h0m48 6h0m29-2h0m2-2h0m1 2h0m1-2h0m6 5h0m-1 9h0m0-5h0m-7 11h0m-3-4h0m-50 3h0m-20-8h0m-7 0h0m-15 3h0m-18 1h0m-16 3h0m-3-7h0m-1 10h0m2 10h0m9-8h0m19 5h0m11 0h0m95 0h0m3-7h0m-5 12h0m-11 0h0m-4 8h0m-5-7h0m-1 8h0m-95-8h0m-3 6h0m-5 15h0m2-2h0m4-4h0m3 2h0m4-4h0m0 4h0m2 5h0m103-9h0m4 0h0m1 9h0m6-6h0m-4 12h0m-2 0h0m-3-2h0m-5 7h0m-6 0h0m-3-9h0m-17 8h0m-2 0h0m-2-2h0m0 4h0m-62 0h0m-8-10h0m0 6h0m-3-4h0m-10 4h0m-1 3h0m-7-9h0m18 21h0m10-7h0m1 2h0m1 3h0m14-6h0m2 8h0m4-1h0m4 0h0m1-1h0m13-2h0m2-1h0m1 2h0m31-4h0m2 8h0m-21 3h0m-22 4h0m-3 0h0m-12 3h0m-10 2h0m-4-3h0m-12-8h0m-5 4h0" stroke="#d62728" stroke-width="4.8" stroke-linecap="round" fill="none"/>
<path transform="scale(.25)" d="M960 202h0m23 2h0m-1 5h0m-1-4h0m-1-1h0m-3 1h0m-1 2h0m-12 3h0m-2 4h0m-30 10h0m2 2h0m1 0h0m2-6h0m1 2h0m16 5h0m5-10h0m18 5h0m3-6h0m1 5h0m6 6h0m2 3h0m-5 0h0m-1 3h0m-10-1h0m-30-4h0m0 2h0m-6-2h0m-14 18h0m0 3h0m5-2h0m4 1h0m2 2h0m9-9h0m29 3h0m7-3h0m1 3h0m6 2h0m7 0h0m-6 15h0m-3-1h0m-7-6h0m-1-1h0m-14 5h0m-6 0h0m-9-4h0m-4 9h0m-7-3h0m-3-2h0m-7 13h0m4 1h0m1-2h0m4-5h0m17 10h0m27-5h0m4-3h0m12 17h0m-4-4h0m-17-3h0m-22 2h0m-28-3h0m-2 18h0m9-3h0m16-1h0m40 5h0m4 0h0m3-4h0m-9 10h0m-11 6h0m-16 1h0m-15 2h0m-11-5h0m-1-1h0m-1 5h0m-4-4h0m-6 4h0m8 6h0m4 7h0m4 0h0m11 1h0m3 0h0m4-1h0m12-2h0m13 1h0m2-4h0m1-1h0m-6 16h0m-6 2h0m-7-3h0m-2-1h0m-7 4h0m-6-9h0m-16 3h0m14 8h0" stroke="#17becf" stroke-width="4.8" stroke-linecap="round" fill="none"/>
<path transform="scale(.25)" d="M990 104h0m11-3h0m17 18h0m-1-2h0m-1-4h0m-10 5h0m-8-9h0m-7 3h0m-4-1h0m-2 8h0m-1-1h0m-6-3h0m5 7h0m1 2h0m13-3h0m8 3h0m0-4h0m6 9h0m2-9h0m12 6h0m10-4h0m2 6h0m24 7h0m0 0h0m-3-3h0m-13 3h0m-8-2h0m-1 7h0m-1-6h0m-3 3h0m-1-4h0m-5-1h0m-6 2h0m-3 0h0m-14 8h0m-20-10h0m-2 6h0m-9-5h0m-4-1h0m-4 8h0m-6 0h0m3 6h0m4 2h0m12 3h0m4-5h0m59-1h0m4 5h0m13-2h0m1 15h0m-7 4h0m-1 0h0m-4-10h0m-1 9h0m-55 0h0m-6-10h0m-17 1h0m-10 10h0m-6 4h0m12-1h0m6-1h0m76 12h0m-12 8h0m-17-8h0m-3 6h0m-43 2h0m-5-8h0m-10 11h0m6 7h0m2-3h0m3 5h0m2 2h0m4-7h0m53-3h0m19 10h0m10-3h0m7 5h0m-11 3h0m-64 2h0m-1 3h0m-3-5h0m0-1h0m-1 7h0m-5-10h0m-1 2h0m-4 4h0m-11 0h0m0-2h0m4 9h0m11 5h0m20-3h0m4 2h0m1 0h0m1 4h0m11-1h0m1-1h0m4-1h0m12-2h0m4-4h0m10 2h0m3 1h0m-26 9h0m-12 2h0m-2 6h0m-4 1h0m-2-3h0m-4 4h0m-9-3h0m-4-3h0" stroke="#bcbd22" stroke-width="4.8" stroke-linecap="round" fill="none"/>
<path transform="scale(.25)" d="M753 223h0m1-1h0m2 1h0m9-6h0m11 10h0m1-7h0m7-4h0m3 9h0m1-3h0m4 3h0m5-9h0m5 3h0m30 17h0m-8-1h0m-6-3h0m-1 4h0m0 1h0m-8-2h0m-3 0h0m-5-6h0m-24-1h0m-7 1h0m-5 0h0m-19 6h0m9 11h0m60 1h0m6-3h0m1-4h0m11 2h0m22 15h0m-21 1h0m0 2h0m-9-7h0m-9 5h0m-9-2h0m-26 2h0m-4 3h0m-20-1h0m0-7h0m-3 9h0m-14 0h0m1 12h0m0 1h0m3-4h0m9-3h0m5-2h0m30 0h0m36 5h0m15-6h0m4 10h0m12-7h0m4 3h0m2 11h0m-15 3h0m-5 1h0m-9-3h0m-4 0h0m-39 3h0m-51-3h0m14 5h0m8 9h0m25-1h0m12-8h0m34 11h0m9 0h0m1-1h0m3-8h0m0 0h0m15 2h0m-13 17h0m-14-3h0m0-4h0m-3 9h0m-1-6h0m-49-3h0m-25 9h0m-2 0h0m-10-10h0m34 11h0m18 9h0m25-5h0m2 7h0m5-4h0m6-2h0m1 4h0m7-2h0m1-6h0m0 0h0m-83 16h0m-8 3h0m-4-8h0m-1 2h0m-1 1h0m-5 6h0m4 12h0m4-3h0m3 2h0m7-3h0m1 2h0m52 2h0m3 1h0m5-10h0m1 19h0m-8-3h0m-1-2h0m-3 8h0m0-3h0m-13-1h0m-4 0h0m0 0h0m-10 0h0m-10-4h0m-3 5h0m-4 3h0m-9 0h0m0-1h0m-3-6h0m-6 1h0m18 8h0m4 4h0m16 3h0m1-4h0m0-2h0m1 10h0m3-10h0m1 5h0m1 4h0m3-1h0m4 1h0m8-8h0m-15 21h0m-8-10h0m-3 0h0m-4 5h0m-4 2h0m-2 2h0m-1-2h0m0 10h0m16-4h0" stroke="#e377c2" stroke-width="4.8" stroke-linecap="round" fill="none"/>
<path transform="scale(.25)" d="M781 405h0m-18 2h0m-3 8h0m6-5h0m0 9h0m4-7h0m1 7h0m6-10h0m8 3h0m5 3h0m8-2h0m3-5h0m6 4h0m5 7h0m0-1h0m15 6h0m-10 2h0m0 0h0m-7-2h0m-14-1h0m-2-1h0m-29 2h0m-4 5h0m-6-7h0m-2 3h0m-14 7h0m1 6h0m0-1h0m1 2h0m5 0h0m7 3h0m2-3h0m0-3h0m10 7h0m25-5h0m23-5h0m4 5h0m9-1h0m2 3h0m7-3h0m9 14h0m-15-5h0m0 6h0m-10 2h0m-66-4h0m0-5h0m-1 4h0m-11-2h0m-8 2h0m1 7h0m71 2h0m28 1h0m1 1h0m10 5h0m-11 3h0m-79 3h0m-1 1h0m-7 4h0m-2-8h0m-12 6h0m10 15h0m7-3h0m24 5h0m74-11h0m6 10h0m1 1h0m8-9h0m14 21h0m-4-4h0m-2-6h0m-1 3h0m-12 0h0m-1 3h0m-1 1h0m-3 0h0m-1 1h0m-17-5h0m-1-1h0m-2 3h0m-45-5h0m-38 9h0m-4-7h0m-1 6h0m-2-9h0m-1 8h0m3 4h0m61 7h0m40 3h0m16-8h0m2 5h0m7-4h0m2 1h0m5-4h0m5 2h0m1 3h0m3 3h0m6 6h0m0-2h0m0 3h0m-2-1h0m-57 3h0m-40 3h0m-17 3h0m-11 0h0m0-5h0m-2 4h0m-3-3h0m0-4h0m-9-2h0m11 20h0m1-3h0m3-6h0m5 8h0m2 0h0m7-3h0m59 3h0m43 3h0m12-3h0m4-8h0m6 15h0m-16 3h0m-53-6h0m-55 3h0m-1-2h0m0 9h0m-1-2h0m-2 3h0m-6-7h0m-1 1h0m-1-5h0m11 13h0m2 8h0m17 1h0m1-8h0m13 6h0m25-5h0m10-1h0m42-2h0m7 6h0m2 0h0m7-3h0m6 7h0m1-1h0m-4 3h0m-14 9h0m0-6h0m-7 3h0m-14-2h0m-20 7h0m-20-7h0m-13 1h0m-9 11h0m1 0h0m3 2h0m17 4h0m1 0h0m14 0h0m6-8h0m2-2h0m14 3h0m0 6h0m3-6h0m2 2h0m-11 8h0m-4 1h0m-3 3h0m-8-5h0m-15 3h0m-5 3h0m-1-4h0m-4 8h0m-14-2h0m23 7h0" stroke="#8c564b" stroke-width="4.8" stroke-linecap="round" fill="none"/>
<path transform="scale(.25)" d="M895 258h0m-3 2h0m-1-1h0m-23-2h0m-10 0h0m-5 8h0m20 3h0m1-1h0m18 6h0m9-9h0m7 10h0m2-2h0m1 11h0m-4 2h0m0-4h0m-4 6h0m-2-6h0m-4-5h0m-11 0h0m-24 3h0m-3 8h0m-5-3h0m-3 2h0m-5 0h0m-2 1h0m-5 0h0m-8-2h0m-2 10h0m8-5h0m2 6h0m55-3h0m23-2h0m1 4h0m8 12h0m-1 1h0m-2-3h0m-6-3h0m-6 6h0m-5-1h0m-49-3h0m-27 7h0m-4-1h0m-3-6h0m-3 2h0m-6 2h0m4 6h0m1 2h0m2 6h0m7-5h0m51-1h0m37 0h0m8 0h0m2 16h0m-60-2h0m-4-6h0m-40 5h0m0 6h0m-4-3h0m-3 2h0m-10 0h0m-5 0h0m-8 11h0m6-9h0m8 1h0m6 5h0m2-4h0m6 1h0m30 4h0m71 1h0m8-5h0m2-3h0m1 1h0m4 10h0m-1 11h0m-2-1h0m-4-4h0m-4 1h0m-13 2h0m-100-3h0m0 0h0m-1-2h0m0 2h0m-3-1h0m-1-4h0m-2 10h0m-6-10h0m-9 6h0m-7 11h0m5-3h0m12-1h0m10 4h0m12 2h0m4 2h0m27-7h0m5 2h0m72 5h0m7 3h0m-4 5h0m-6 0h0m-4-3h0m-1 8h0m-99 0h0m-25-5h0m-2 4h0m-16 0h0m-6 9h0m6 3h0m5-5h0m3 3h0m6 4h0m3-8h0m39 8h0m58-3h0m0 1h0m36-2h0m4-3h0m2-1h0m0 1h0m-26 12h0m-49 5h0m-28 1h0m-10-3h0m-2 3h0m-15-3h0m-16-4h0m-4 9h0m7 0h0m8 4h0m1 1h0m11 0h0m34-5h0m7 11h0m4-9h0m19 4h0m53-4h0m4 6h0m3 2h0m9 10h0m-9 2h0m-9-8h0m-85 3h0m-8 4h0m-8-6h0m-2 4h0m-4-6h0m-7 7h0m-5-8h0m-2 9h0m-4-7h0m20 17h0m6 4h0m2-7h0m64 1h0m30-5h0m2 0h0m4 0h0m7 1h0m10 18h0m-21-7h0m0 3h0m-62 7h0m-20 0h0m-4-1h0m-2 10h0m3 4h0m9-6h0m20-1h0m15 3h0m44-5h0m4 9h0m1-11h0m2 3h0m2 7h0m6 11h0m-6-1h0m-3-3h0m-5 6h0m-3 0h0m-12-9h0m-58 2h0m-2-1h0m-1 8h0m-15-8h0m-1-2h0m-4 1h0m7 18h0m6-5h0m54 7h0m8-4h0m7 3h0m8 2h0m1-11h0m2 2h0m10-1h0m0 6h0m1 2h0m5 5h0m-8 5h0m-1-1h0m-2 5h0m0 0h0m-36-11h0m-30 9h0m-17-5h0m6 9h0m4 0h0m4 1h0m7 6h0m3-2h0m19 4h0m3 0h0m32-8h0m3 0h0m1 17h0m-2 4h0m-2-5h0m-10-3h0m-18 7h0m-7-2h0m-2 2h0m-3-9h0m-1 3h0m-1-4h0m-2 0h0m-6 3h0m-11 0h0m22 17h0m5-1h0m11-2h0m29 7h0m-2 8h0m-15-2h0m-1 5h0m-16-5h0m-1-3h0m-5-2h0m16 14h0m9-2h0" stroke="#ff7f0e" stroke-width="4.8" stroke-linecap="round" fill="none"/>
<path transform="scale(.25)" d="M1172 282h0m-13 2h0m-1 3h0m-77 3h0m13 4h0m18 2h0m22-1h0m15 4h0m4-5h0m1 0h0m15-3h0m3 1h0m4 1h0m1 0h0m12 17h0m-10-10h0m-3 1h0m-2 7h0m-6-6h0m-1 9h0m-17-7h0m-3-2h0m-2 5h0m-6 2h0m-4 1h0m-3-3h0m-2 1h0m-15-6h0m-5 8h0m-1-4h0m-1 0h0m0-5h0m-1 5h0m-23-5h0m-5 3h0m-5 3h0m-3-7h0m-12 23h0m2-1h0m11-5h0m6-2h0m3 4h0m13-7h0m7 2h0m14-1h0m0 0h0m21-1h0m3 1h0m10 6h0m26-5h0m0 5h0m12-3h0m7 11h0m-1 7h0m-5-3h0m-2-6h0m-4 7h0m-3-4h0m-101-1h0m-3 0h0m-3 3h0m-15-5h0m6 22h0m4 0h0m16-9h0m9 6h0m38-5h0m52 1h0m9-1h0m1 17h0m-1-1h0m-29-1h0m-92-3h0m-2 1h0m-4 0h0m-1 7h0m-5-6h0m-3 1h0m-4-2h0m2 10h0m17 1h0m12 7h0m30-9h0m37 6h0m35-4h0m9-2h0m3 11h0m-2 10h0m-1-4h0m-8-2h0m-2-4h0m-3 9h0m0-4h0m-108-4h0m-1-1h0m0 2h0m-4 6h0m-1-6h0m-7 2h0m-5 5h0m0 10h0m14 1h0m1-3h0m7-4h0m34 10h0m10-1h0m34 1h0m24 0h0m4-4h0m0 1h0m13 0h0m-123 4h0m-2 1h0m-15 4h0m3 11h0m13-1h0m1 6h0m43-2h0m36 1h0m12-3h0m12-3h0m15 6h0m-2 4h0m-11 10h0m-3-5h0m-1 6h0m-3-4h0m0-7h0m-11 5h0m-76-5h0m-8 1h0m-1 9h0m-1-10h0m-14 23h0m2-9h0m10 0h0m1-2h0m3 9h0m0-4h0m56-2h0m39 1h0m12 11h0m-2-1h0m-3 9h0m-16-5h0m-35 0h0m-30-1h0m-1-1h0m-24 5h0m-1-9h0m-5 6h0m-1-4h0m1 14h0m9 6h0m2-3h0m0-5h0m1 6h0m5 1h0m42-6h0m35-3h0m0 10h0m15-7h0m-8 18h0m-12-5h0m-4 3h0m-86-3h0m-1 7h0m0-3h0m-6 4h0m10 2h0m1-2h0m6 10h0m4-9h0m3 9h0m10-6h0m13-3h0m31 7h0m5 2h0m10-4h0m-4 10h0m-4 6h0m-1-1h0m-1-5h0m-4 4h0m-8 0h0m-11 0h0m-23-2h0m-4 3h0m0-6h0m-1 4h0m-9 3h0m-1-8h0m-1 4h0m-8 2h0m-2-8h0m-4 0h0m15 17h0m22-3h0m1 7h0m9-9h0m0 0h0m11 11h0m5 0h0m10-5h0" stroke="#1f77b4" stroke-width="4.8" stroke-linecap="round" fill="none"/>
<path transform="scale(.25)" d="M1136 215h0m-6-6h0m-1 4h0m-16-5h0m-20 2h0m-4 6h0m8 1h0m8 0h0m0 9h0m13-2h0m5-2h0m9-2h0m5-2h0m1 7h0m10-4h0m0-3h0m14 21h0m-11-2h0m-4-6h0m-2 5h0m0 3h0m-5-4h0m-1 3h0m-4-10h0m-2 1h0m-12-1h0m-18 2h0m0 5h0m-1 4h0m-1-11h0m-4 9h0m-1-4h0m0 5h0m-10-10h0m-1 14h0m4 9h0m1-6h0m12-1h0m42-1h0m6 2h0m9 6h0m5-2h0m2-9h0m-49 19h0m-11-7h0m-5 10h0m-2-5h0m-4 3h0m-6-2h0m1 14h0m4-4h0m1 0h0m6-1h0m1-1h0m6 1h0m1 3h0m23 4h0m21-4h0m11 3h0m6-2h0m4 2h0m10 9h0m-12-4h0m-17 9h0m-58 0h0m-7-2h0m0-1h0m0 4h0m8 7h0m7-4h0m3 2h0m21 3h0m1-2h0m5 1h0m48-1h0m-13 15h0m-5-5h0m-3 1h0m-8 0h0m-6 5h0m-14-4h0m-7-1h0m-5 2h0m-2 2h0m-12 2h0m-2-10h0m5 14h0m14 7h0m18-7h0m11 3h0m-28 7h0" stroke="#7f7f7f" stroke-width="4.8" stroke-linecap="round" fill="none"/>
<path transform="scale(.25)" d="M941 488h0m17 0h0m4 0h0m22 0h0m7-3h0m10 6h0m6-2h0m16-3h0m0 0h0m84 14h0m-3-3h0m-3-1h0m-16-2h0m-2 0h0m-3 5h0m-1 1h0m-1 3h0m-1-7h0m-1 4h0m-10 0h0m-7 1h0m-8 1h0m-10-1h0m-14 0h0m-3-7h0m-4 7h0m-1-6h0m-2 6h0m-1-3h0m-4-2h0m-1-1h0m-6-2h0m-3 1h0m-5 7h0m-6-9h0m-3 4h0m-22 7h0m-5-5h0m0 0h0m-7 4h0m-5 0h0m-9-4h0m-22 8h0m0 1h0m2 4h0m18 3h0m7-9h0m7 10h0m2-9h0m41 2h0m2 2h0m41-5h0m1 0h0m6 0h0m28-1h0m3 4h0m14 3h0m5-2h0m29 0h0m4-3h0m1 5h0m2 6h0m-9 1h0m-4 9h0m-10-8h0m-3 4h0m-49-7h0m-16 10h0m-34-6h0m-29 7h0m-6-11h0m-13 11h0m-30-9h0m-11 4h0m-1-3h0m22 18h0m0-1h0m60 1h0m104 2h0m1-11h0m12 4h0m5 0h0m1-3h0m1 3h0m0 7h0m-2 2h0m-13-1h0m-2 3h0m-9 2h0m-43 5h0m-36-4h0m-40 2h0m-36-4h0m0 7h0m-12-8h0m-13 0h0m20 10h0m6 5h0m0 2h0m5-3h0m5 1h0m6 1h0m54 3h0m4 0h0m37 1h0m30-7h0m8 4h0m3 11h0m-17 2h0m0-6h0m-54 3h0m-8-3h0m-14 6h0m-7-5h0m-3 2h0m-23 0h0m-2-3h0m-8-1h0m-7 8h0m-1-7h0m0 8h0m6 4h0m8 0h0m6 5h0m1-3h0m4 5h0m1-8h0m2 4h0m15-5h0m1 10h0m0-4h0m0 1h0m1-4h0m17-4h0m4 9h0m10-4h0m4-3h0m4 1h0m3 8h0m0-6h0m1 2h0m1-6h0m9 6h0m8 4h0m2-3h0m7 2h0m1-8h0m1 4h0m1-5h0m0-1h0m3 8h0m2-4h0m2-4h0m8 5h0m-15 14h0m-2 2h0m-10-2h0m-37-5h0" stroke="#9467bd" stroke-width="4.8" stroke-linecap="round" fill="none"/>
<path transform="scale(.25)" d="M1068 306h0m-4 3h0m-6-1h0m-12 2h0m-59 1h0m-14-2h0m-32-1h0m-2 6h0m6-1h0m0 8h0m19-1h0m3-5h0m7 1h0m17 4h0m2-8h0m7 0h0m1 8h0m3-5h0m9-3h0m2 9h0m0 2h0m3-8h0m0 6h0m5-4h0m14 3h0m11-6h0m9 5h0m11 4h0m11 1h0m-8 6h0m0-1h0m-2-1h0m-29 0h0m-1 4h0m-7-2h0m-20-4h0m-8-1h0m-4 2h0m-4-1h0m-2 3h0m-14 0h0m-1-3h0m-24-2h0m-7 3h0m0 6h0m-2-1h0m-1-2h0m0-2h0m-9 3h0m-4-3h0m-5 10h0m7 4h0m7 5h0m0 0h0m4-9h0m14 4h0m8 2h0m17-4h0m0 1h0m25 6h0m5-2h0m43-4h0m10-1h0m5 9h0m-5 5h0m-9-2h0m-22 1h0m-61-5h0m0 4h0m-31 4h0m-4-8h0m-7 6h0m34 12h0m92-4h0m13 6h0m4 5h0m-1 1h0m-7 3h0m-89-4h0m-44 2h0m-4 7h0m0-2h0m-3 12h0m4-8h0m5 4h0m82-3h0m23 6h0m19 3h0m14 4h0m0 0h0m-11-2h0m-49 3h0m-67-1h0m-3 9h0m0-8h0m-4 6h0m-2-9h0m0 5h0m-3 0h0m-7-2h0m9 10h0m0 10h0m56-4h0m28-2h0m35-2h0m13 2h0m4 16h0m-13-4h0m-2 2h0m-22-4h0m-13 6h0m-8-5h0m-32 7h0m-25-4h0m-8 2h0m-1-5h0m-10 4h0m-7-8h0m6 21h0m126 2h0m5-2h0m10 13h0m-18-8h0m-22-1h0m-17-1h0m-5 8h0m-30 0h0m-29-3h0m-11-3h0m0 5h0m-1-1h0m-3 5h0m-1-4h0m-11 2h0m-2 5h0m10 5h0m3-2h0m3 3h0m21 2h0m58-6h0m35-4h0m0 6h0m1 2h0m11 3h0m5 5h0m-4 2h0m-4 0h0m-44-2h0m-12 4h0m-22 3h0m-42 0h0m-5-7h0m-1-1h0m-1 8h0m-4-4h0m-3 2h0m-3-8h0m-1 19h0m8-1h0m12 4h0m18 0h0m25-3h0m5-5h0m42 4h0m24 4h0m3-3h0m2 2h0m6-2h0m3-2h0m2 4h0m-12 10h0m-1-3h0m-23-1h0m0 1h0m0 5h0m-21 1h0m-12-1h0m-1-8h0m-7 0h0m-13 0h0m-6 5h0m-2 3h0m-12-1h0m-8-1h0m0-4h0m-3-2h0m0 6h0m-5 3h0m-17 0h0m-4-8h0m8 10h0m8-1h0m6 2h0m13 1h0m7-3h0m2 0h0m0 7h0m3-1h0m1 1h0m5-4h0m1 0h0m2 5h0m7 0h0m1-4h0m0 4h0m0-6h0m6 0h0m12 3h0m10 4h0m7 1h0m4-2h0m5 0h0m20-2h0m9 1h0" stroke="#2ca02c" stroke-width="4.8" stroke-linecap="round" fill="none"/>
<path transform="scale(.25)" d="M1032 203h0m43 6h0m-3 5h0m-9-9h0m0 4h0m-1 4h0m-5-3h0m-28 2h0m-1 1h0m-2-8h0m0 5h0m-8-1h0m-2 6h0m-25 0h0m-14 3h0m2 0h0m4 5h0m13-2h0m8-2h0m12 5h0m0-1h0m32-6h0m9 4h0m5-5h0m3 6h0m2-2h0m4 6h0m1-10h0m12 5h0m8-4h0m9 6h0m4 10h0m-3 6h0m-4-4h0m-2-3h0m-5-1h0m-29 4h0m-68-5h0m-24 21h0m3-11h0m2 10h0m3-9h0m1 10h0m6 0h0m53-3h0m15-6h0m14 8h0m23-4h0m6-4h0m5 4h0m2-6h0m5 3h0m5 13h0m-15 1h0m-3 2h0m-103-2h0m-5-5h0m0 1h0m-2 8h0m-7 1h0m-1-1h0m-7 1h0m4 12h0m13-3h0m2-7h0m49 11h0m71-8h0m3 6h0m-4 11h0m0-2h0m-9 1h0m0-4h0m-47 3h0m-41-2h0m-27-3h0m-4 6h0m-8 14h0m11-9h0m16 11h0m6-1h0m63-6h0m9 3h0m3-1h0m17 4h0m10-3h0m-3 9h0m-12 4h0m-8-5h0m-4 2h0m-4-4h0m-7 2h0m0 6h0m-2 2h0m-6-1h0m-32-1h0m-29-7h0m-10 7h0m-5 3h0m0 0h0m2 7h0m2-6h0m4 1h0m7 1h0m7 4h0m21-4h0m1 3h0m0 2h0m1-1h0m1-4h0m5 5h0m7 3h0m16-6h0m2-5h0m0 5h0m4 5h0m5-7h0m10 3h0m4-3h0m-28 16h0m-20 3h0m0-2h0m-5 0h0m-2-5h0m-2-1h0m-10 8h0m0-4h0m-5-5h0m-1 7h0m-5 1h0m-2 1h0m-6-6h0" stroke="#d62728" stroke-width="4.8" stroke-linecap="round" fill="none"/>
<path transform="scale(.25)" d="M973 201h0m1-1h0m7 2h0m-9 3h0m-3 9h0m-31 11h0m0-5h0m34 3h0m5-2h0m5 5h0m4-6h0m1 1h0m0 5h0m2-3h0m2 12h0m-16 1h0m-3 1h0m-3-7h0m-22 8h0m-2-9h0m-7 4h0m-11 6h0m-7 12h0m5-4h0m11 4h0m18-6h0m24 1h0m4 1h0m11-6h0m0 21h0m0-6h0m-3-4h0m-5 11h0m-3-10h0m-1 6h0m-2 4h0m-1-5h0m-3-5h0m-37 7h0m-19-7h0m-5 11h0m3 2h0m4 9h0m4-5h0m4 3h0m3-4h0m46 5h0m13-10h0m-6 14h0m-7 9h0m-2-2h0m-2 2h0m-22-11h0m-5 4h0m0 0h0m-19-1h0m-1-3h0m-4 7h0m-4 3h0m-3 1h0m-1-6h0m-5-5h0m6 21h0m4-1h0m7-3h0m17 3h0m31 2h0m0-9h0m5 10h0m6-10h0m0 15h0m-6-3h0m-42 9h0m-13-2h0m0 13h0m5 2h0m5-5h0m5-1h0m2 6h0m0-11h0m6 3h0m0 5h0m6 3h0m0-4h0m5 3h0m1 1h0m3-9h0m19 1h0m-16 20h0m-6-10h0m-5 3h0m-9 3h0m-10-4h0" stroke="#17becf" stroke-width="4.8" stroke-linecap="round" fill="none"/>
<path transform="scale(.25)" d="M992 105h0m15-3h0m16 14h0m-5-1h0m-6 4h0m-14 0h0m-12-6h0m-1 15h0m7-6h0m1-2h0m1 5h0m5-4h0m13 8h0m3-4h0m1 0h0m5 6h0m7-8h0m11 1h0m8 2h0m9 5h0m8 11h0m-3-3h0m-17-1h0m-11-2h0m-27-4h0m-8 9h0m-12-5h0m-16-3h0m0 3h0m0 3h0m-4 3h0m-2 11h0m2-7h0m1-2h0m2 7h0m2-4h0m5 7h0m0-9h0m1 0h0m3 0h0m5 7h0m66 3h0m2-9h0m4 9h0m4-8h0m5 4h0m2 8h0m-3 1h0m-4-3h0m0 4h0m-6-5h0m-5 9h0m0-1h0m-2-2h0m-33-3h0m-53 6h0m-2-1h0m-2-3h0m2 12h0m4-5h0m1 11h0m2 0h0m59-9h0m17 7h0m5-3h0m10 4h0m4-6h0m-2 16h0m-13-8h0m-50 4h0m-22 0h0m-8 4h0m-16-1h0m0-5h0m4 20h0m3-6h0m12 4h0m0 3h0m10-8h0m72 1h0m2-1h0m1 4h0m4 0h0m-4 13h0m-4-7h0m-3 1h0m-12 9h0m-5-4h0m-11 4h0m-9-2h0m-9 2h0m-40-10h0m-5 2h0m14 11h0m1 7h0m22-6h0m10 4h0m4-1h0m0-3h0m3 2h0m3 2h0m20 0h0m19-5h0m-31 13h0m-25 0h0m-7 1h0m-2 4h0m-4-2h0" stroke="#bcbd22" stroke-width="4.8" stroke-linecap="round" fill="none"/>
<path transform="scale(.25)" d="M765 211h0m-1 2h0m-14 11h0m0 2h0m1-9h0m6 10h0m1-1h0m10-8h0m2 8h0m3-8h0m8 6h0m6 2h0m1-3h0m12 1h0m10-1h0m2-1h0m10 5h0m1 10h0m-9 1h0m-1-10h0m-2 1h0m-1 10h0m-2-1h0m-6 0h0m-15-7h0m-8-3h0m-1 1h0m0 1h0m-19 7h0m-3 1h0m0 1h0m-1-11h0m-1 7h0m-1-4h0m-2 0h0m-2-3h0m-4 6h0m-1 2h0m-4 9h0m2-1h0m9 0h0m4 2h0m21-2h0m37-1h0m2 4h0m11-5h0m0 0h0m5 2h0m0 0h0m1 0h0m5-2h0m8 7h0m7 13h0m-4-4h0m-6-3h0m-11 0h0m-1 7h0m-26-9h0m-32 6h0m-19 2h0m-1 1h0m-1-1h0m-1-6h0m-1 2h0m-6 3h0m-2 13h0m48-7h0m1 1h0m21 4h0m3 3h0m11-7h0m20 4h0m1-5h0m16 13h0m-6 8h0m-49-11h0m-14 2h0m-29 7h0m-17-4h0m-6 12h0m11-4h0m33 9h0m13-5h0m34 4h0m9-8h0m1 0h0m3 2h0m2 2h0m13 1h0m-32 16h0m-76-1h0m-7 14h0m6-7h0m26-3h0m34 6h0m17 4h0m2-1h0m1-10h0m5 5h0m-3 10h0m-18 3h0m-3 4h0m-48-1h0m-6-8h0m-1 6h0m-13 13h0m5-7h0m4 3h0m9 7h0m14-7h0m41 1h0m3-3h0m6 6h0m-22 10h0m-1 1h0m-8 4h0m-3-2h0m-50-8h0m15 14h0m1 7h0m6 0h0m4-7h0m4 7h0m6-3h0m12 0h0m2-6h0m9 9h0m5-3h0m-21 13h0m-7 2h0m-2-10h0m-1 2h0m-9 7h0m-8-4h0m-1-5h0m-1 7h0m16 15h0m5-3h0" stroke="#e377c2" stroke-width="4.8" stroke-linecap="round" fill="none"/>
<path transform="scale(.25)" d="M784 405h0m-11 0h0m-25 11h0m5 2h0m3-2h0m3-2h0m11-6h0m0 11h0m35-1h0m2-4h0m1 5h0m0-9h0m1 2h0m0 7h0m4-5h0m4 2h0m16 13h0m-17 2h0m-11-4h0m-2-2h0m-2 2h0m-3 3h0m-2-4h0m-5-4h0m-24 9h0m-1-4h0m-12-6h0m-7 1h0m-3 3h0m-2-1h0m-1 2h0m4 16h0m1-6h0m4 7h0m58-11h0m2 2h0m4 4h0m1-1h0m8-5h0m0 1h0m7 6h0m12 3h0m-7 8h0m-12 3h0m-46-1h0m-33-8h0m-4 11h0m-1-7h0m-6 11h0m0 5h0m1 1h0m1-6h0m5-3h0m59 10h0m39 0h0m19 13h0m-7-10h0m-8 8h0m-4-7h0m-1-2h0m-23 2h0m-1 4h0m-58 5h0m-5-6h0m-8 4h0m-1 0h0m0-5h0m-7 10h0m2 2h0m14-1h0m2 3h0m57-4h0m44 9h0m7-8h0m1-2h0m4 13h0m-7 5h0m-7-4h0m-101 8h0m-1-10h0m-8 1h0m2 12h0m8 7h0m1 0h0m8-6h0m3 5h0m1 1h0m3-1h0m1-2h0m51-1h0m18 2h0m2 1h0m6 1h0m11-9h0m16 4h0m3-4h0m1 1h0m5 1h0m-13 17h0m-1-6h0m0-1h0m-17 6h0m-77-3h0m-3 8h0m-22-9h0m31 21h0m13-1h0m7-4h0m20 3h0m25-3h0m15 0h0m5 0h0m14-6h0m5 9h0m5 1h0m9-3h0m3 3h0m8 5h0m-6-3h0m0 6h0m-8-3h0m0-1h0m-7 8h0m-18-8h0m-17 9h0m-31-9h0m-34 5h0m-13 0h0m-5 4h0m0 0h0m-5-7h0m31 10h0m75 6h0m17-8h0m9 0h0m5 1h0m4 0h0m-5 16h0m-1 2h0m-3-2h0m-24 4h0m-4-1h0m-8-4h0m-21-3h0m-24 8h0m-12-8h0m-6 9h0m-6-1h0m8 5h0m4 1h0m8 8h0m10-7h0m11 5h0m3-8h0m8 3h0m3 0h0m3-2h0m2 7h0m22-1h0m7-2h0m9-4h0m-23 10h0m-7 1h0m-15 10h0m-2-4h0m-1-6h0m-6 0h0m-5 7h0m-1-6h0m-13 8h0m-9-8h0m0 5h0m29 6h0" stroke="#8c564b" stroke-width="4.8" stroke-linecap="round" fill="none"/>
<path transform="scale(.25)" d="M892 262h0m-3-3h0m-3-5h0m-2 7h0m-6-4h0m-3 6h0m-9-3h0m-4-1h0m-2-2h0m-2 2h0m-3 10h0m6 3h0m2-5h0m11 1h0m4 1h0m1 3h0m1 0h0m5 1h0m1-4h0m3-2h0m5-1h0m2 4h0m11 14h0m-8-6h0m-31 8h0m-4-10h0m-12 2h0m-5 3h0m-6-2h0m2 17h0m1-7h0m1 3h0m44 1h0m15-3h0m8 2h0m9 4h0m6 9h0m-15-2h0m-63-2h0m-11 8h0m-2-4h0m-2 2h0m-1 0h0m-1-1h0m-3 0h0m-5 1h0m-2-1h0m-1 5h0m-9 8h0m6-4h0m7-1h0m98 0h0m0 1h0m6-3h0m3 23h0m-3-9h0m-3 6h0m-7-7h0m-64 5h0m-4-6h0m-25 2h0m-1 4h0m-4-4h0m-8 7h0m-6-5h0m-6 11h0m2 0h0m3 3h0m11-2h0m4-2h0m23-1h0m75 5h0m1-2h0m11-4h0m6 2h0m-5 20h0m-4-6h0m0 7h0m-8-3h0m-102 0h0m-8 0h0m-5-4h0m-4 2h0m-1-1h0m-4 0h0m-5-5h0m-4 11h0m1 2h0m10 3h0m1-3h0m12 6h0m27 1h0m22-2h0m42-6h0m19 9h0m1 0h0m10-8h0m7 17h0m-13-4h0m-2 4h0m-1 0h0m-12-5h0m-42 10h0m-23-9h0m-9 0h0m-30 1h0m-8 3h0m-5-6h0m-15 5h0m10 14h0m3 2h0m2 2h0m1-3h0m1-7h0m4 4h0m30 5h0m34-2h0m61-3h0m13 6h0m5 1h0m-34 1h0m-51 8h0m-54 2h0m0-8h0m-2 0h0m-2 3h0m-3-1h0m-7 1h0m-2-6h0m-6 2h0m-1 3h0m-3-5h0m19 23h0m0-4h0m8-7h0m2 1h0m2-1h0m116 3h0m1 6h0m1-8h0m9 3h0m5-1h0m2 7h0m-8 11h0m-2-9h0m-6 5h0m0 3h0m-48-3h0m-40-1h0m-8 0h0m-2 7h0m-2-7h0m-13-2h0m-9 8h0m9 2h0m5 3h0m9 2h0m1-3h0m7 7h0m0-2h0m69-5h0m25 7h0m1-5h0m8 0h0m1 3h0m7-7h0m-13 17h0m-4-2h0m-14 7h0m-59-10h0m-14 4h0m-11-3h0m-5 5h0m16 6h0m45 4h0m50-3h0m7-1h0m-15 21h0m-2 0h0m-1-1h0m-14 1h0m-61-2h0m-1 2h0m-3-3h0m-8-1h0m-1 4h0m0-1h0m-4-2h0m8 8h0m11 0h0m7 9h0m65-7h0m8 4h0m12-2h0m-13 16h0m-8-9h0m-62 4h0m-2-4h0m-4 15h0m1-4h0m12 6h0m3-1h0m0 5h0m8-2h0m4 2h0m1 0h0m4 1h0m21-4h0m24-3h0m8-3h0m-4 13h0m-1 3h0m-14 6h0m-28 0h0m-1-3h0m-2 1h0m-1 0h0m-23-8h0m-3 2h0m10 9h0m4 6h0m11 2h0m1 1h0m3-1h0m2-1h0m20-3h0m7 3h0m3 1h0m4 0h0m8-8h0m1 10h0m-8 3h0m-14 1h0m-8 0h0m-5 3h0m-6 1h0m7 11h0m5-3h0" stroke="#ff7f0e" stroke-width="4.8" stroke-linecap="round" fill="none"/>
<path transform="scale(.25)" d="M1051 323h0m-8 8h0m-14 3h0m-3 1h0m-4-2h0m0-1h0m-10-1h0m-9 2h0m-30-2h0m-11-6h0m-5 0h0m-1 9h0m-9-4h0m-5 8h0m4-2h0m5 9h0m6-9h0m27 4h0m6 7h0m1-11h0m14 0h0m0 2h0m3 4h0m13-4h0m39 4h0m2 5h0m-30 5h0m-33 1h0m-7 3h0m-19-5h0m-5 6h0m-25 6h0m36 7h0m5-10h0m13 5h0m24 1h0m8 1h0m27-3h0m6 10h0m-4 1h0m-64-2h0m-2 2h0m-12 7h0m-39-10h0m0 15h0m14 7h0m72 1h0m32-1h0m-25 12h0m-2-10h0m-10 1h0m-14 5h0m-14-6h0m-6 2h0m-14 7h0m-22 4h0m15-1h0m14 11h0m3-2h0m53-7h0m1 2h0m7-4h0m6 5h0m13 3h0m-5 5h0m-58 5h0m-11-3h0m-4 1h0m-34 1h0m-1 6h0m-10 3h0m11 0h0m34 0h0m6 3h0m0-3h0m5-1h0m2 8h0m13-1h0m3 2h0m4-10h0m35 4h0m11 15h0m-1-1h0m0 5h0m-4-5h0m-8 1h0m-27-2h0m-45-3h0m-2 9h0m-11-4h0m-5-2h0m29 13h0m8 0h0m5-6h0m10 6h0m26 17h0m-45 0h0m-9-5h0m-11-1h0m-14 5h0m-10-6h0m-9 1h0m17 17h0m11 1h0m26-2h0m52-3h0m14 12h0m-3 1h0m-3 1h0m-49-7h0" stroke="#d62728" stroke-width="6.4" stroke-linecap="round" fill="none"/>
<path transform="scale(.25)" d="M998 331h0m-43 14h0m13-5h0m32 4h0m48 0h0m-25 5h0m-7 3h0m-63 5h0m-11-5h0m61 18h0m21 6h0m-21 7h0m-5-10h0m-4 6h0m-8 4h0m-4-4h0m-44 3h0m33 9h0m93 8h0m-100 20h0m73-2h0m-11 11h0m-46 3h0m0-8h0m-30-2h0m-5 16h0m75-2h0m20 7h0m0 12h0m-3-4h0m-6-5h0m-7-1h0m-38 0h0m-12 6h0m81 18h0m-36 10h0m-4 2h0m14 1h0m25 1h0m-23 10h0" stroke="#9467bd" stroke-width="6.4" stroke-linecap="round" fill="none"/>
<path transform="scale(.25)" d="M1041 338h0m1-1h0m-38 20h0m-51-7h0m81 10h0m-84 14h0m44 10h0m32 2h0m19 16h0m-59 1h0m57 8h0m14 1h0m-78 18h0m14 9h0m75 13h0m-6-8h0m-83 6h0m-18 8h0m2 6h0m26-2h0m47 11h0m-14 16h0m40-3h0m-46 15h0m-37-4h0" stroke="#17becf" stroke-width="6.4" stroke-linecap="round" fill="none"/>
<path transform="scale(.25)" d="M1024 221h0m-12 10h0m-24 7h0m16 10h0m17-4h0m5 4h0m12-7h0m11 8h0m15-6h0m13 3h0m2 6h0m-79 7h0m41 10h0m16-5h0m13 6h0m8 0h0m12 4h0m-1 2h0m-2 6h0m-20-1h0m-15 4h0m-62 0h0m-1 13h0m64-9h0m4 3h0m7 2h0m33-6h0m-26 22h0m-5 1h0m-5-3h0m-4 3h0m-36 0h0m-3-4h0m-20 11h0m2 0h0m1 2h0m14-6h0m1 1h0m12 3h0m39-4h0" stroke="#17becf" stroke-width="6.4" stroke-linecap="round" fill="none"/>
<path transform="scale(.25)" d="M1014 222h0m10 4h0m3-1h0m28 13h0m-29 11h0m0-3h0m51 34h0m-50-1h0m-34 2h0m38 18h0m25 0h0m-4 12h0m-15-2h0m-27 2h0m19 3h0" stroke="#2ca02c" stroke-width="6.4" stroke-linecap="round" fill="none"/>
<path transform="scale(.25)" d="M987 226h0m42 0h0m29-8h0m8 15h0m-6-5h0m-33 1h0m-9 10h0m-33 10h0m115 6h0m-51 6h0m-40 51h0m19 7h0" stroke="#bcbd22" stroke-width="6.4" stroke-linecap="round" fill="none"/>
<path transform="scale(.25)" d="M1147 304h0m-36 18h0m36-5h0m15 3h0m-49 9h0m-16 5h0m93 16h0m-2 4h0m-60 5h0m-30-8h0m-27 2h0m9 14h0m2-1h0m102 7h0m-80 0h0m77 14h0m-9 17h0m-51 3h0m-34-9h0m34 18h0m-1 6h0m-49-2h0m20 43h0m-16 6h0m46 12h0" stroke="#d62728" stroke-width="6.4" stroke-linecap="round" fill="none"/>
<path transform="scale(.25)" d="M1169 303h0m-64 15h0m8 11h0m-46 14h0m85-1h0m-77 6h0m100 29h0m-94 56h0m4-1h0m38 57h0m10-5h0m-44 10h0" stroke="#7f7f7f" stroke-width="6.4" stroke-linecap="round" fill="none"/>
<path transform="scale(.25)" d="M1122 318h0m45-2h0m6 10h0m-33 6h0m-2-8h0m-50 15h0m51 20h0m-41 9h0m17-5h0m18 6h0m-49 26h0m77-4h0m-59 16h0m-3 27h0m44 52h0" stroke="#2ca02c" stroke-width="6.4" stroke-linecap="round" fill="none"/>
<path transform="scale(.25)" d="M1170 322h0m-63 30h0m46 32h0m11 0h0m-55 23h0m55 13h0m-70 25h0m59 13h0m-64 17h0m48 15h0" stroke="#9467bd" stroke-width="6.4" stroke-linecap="round" fill="none"/>
<path transform="scale(.25)" d="M903 281h0m-35-3h0m-3 11h0m-8 12h0m-31 21h0m19-2h0m18 33h0m-25-4h0m-32-1h0m48 20h0m12 6h0m56 29h0m-116 2h0m35 3h0m41 16h0m-43 15h0m2-2h0m25 6h0m2-10h0m1 4h0m18 6h0m6-8h0m-27 20h0m-23-5h0m21 8h0m29 5h0m8-3h0m-34 25h0m25-4h0m28 2h0m-16 10h0m-2 2h0m-25 4h0m-4 7h0m53 11h0" stroke="#9467bd" stroke-width="6.4" stroke-linecap="round" fill="none"/>
<path transform="scale(.25)" d="M865 285h0m-27 59h0m33-1h0m38-5h0m-14 34h0m21 20h0m-36 13h0m-21 10h0m67 10h0m-44 25h0m-44 0h0m82 18h0" stroke="#17becf" stroke-width="6.4" stroke-linecap="round" fill="none"/>
<path transform="scale(.25)" d="M851 335h0m13 5h0m7-4h0m52 35h0m-70 30h0m28 12h0m17 8h0m8 42h0" stroke="#2ca02c" stroke-width="6.4" stroke-linecap="round" fill="none"/>
<path transform="scale(.25)" d="M957 217h0m1 0h0m11 8h0m3-2h0m-11 9h0m-9-4h0m-5 2h0m-1 3h0m-12 17h0m3-7h0m4 5h0m4-1h0m3 2h0m9-7h0m3 6h0m1-7h0m5 8h0m6-6h0m4-3h0m4 2h0m-3 21h0m-10-7h0m-18-2h0m0 5h0m-7-4h0m-4 8h0m-2-11h0m-5 10h0m-5 2h0m2 2h0m6 7h0m3 1h0m9-5h0m7-5h0m7 2h0m14 0h0m2 2h0m-19 16h0m-3 2h0m-4 1h0m-4-10h0m-3 7h0m-1-3h0m-5-5h0m-3 6h0m-1-3h0m2 12h0m3 8h0m4-5h0m4-4h0m6-2h0m2 1h0m2 6h0m4 2h0m4 1h0m2-9h0m16 3h0m-19 15h0m-1-2h0m-14-4h0m-11 5h0m7 16h0m2-3h0m3-7h0m1 3h0m3 4h0m5-4h0m12-1h0m-6 11h0m0 3h0" stroke="#d62728" stroke-width="6.4" stroke-linecap="round" fill="none"/>
<path transform="scale(.25)" d="M945 250h0m21-9h0m12 22h0m-39 1h0m28 2h0m11 20h0m-43-8h0m40 29h0m-5 1h0m-2 6h0" stroke="#2ca02c" stroke-width="6.4" stroke-linecap="round" fill="none"/>
<path transform="scale(.25)" d="M1049 499h0m-50 1h0m-64 13h0m13-9h0m31 3h0m49 7h0m62-5h0m25 8h0m-44 3h0m-138 19h0m56-9h0m104 7h0m14-9h0m-59 12h0m-49 3h0m-42 2h0m3 15h0m133-6h0m-61 13h0m-67-1h0" stroke="#2ca02c" stroke-width="6.4" stroke-linecap="round" fill="none"/>
<path transform="scale(.25)" d="M1011 503h0m9 11h0m41 9h0m38 27h0m-20 1h0m-21 13h0" stroke="#17becf" stroke-width="6.4" stroke-linecap="round" fill="none"/>
<path transform="scale(.25)" d="M765 222h0m-6 24h0m3 22h0m58 29h0m-8 18h0m-9 17h0m-16 3h0m-1-9h0m-15 7h0m-1 7h0" stroke="#ffffff" stroke-width="4.4" stroke-linecap="round" fill="none"/>
<path transform="scale(.25)" d="M982 143h0m12 1h0m46 2h0m-2 19h0m-7-5h0m-38 3h0m-17 5h0m1 1h0m-7 21h0m24 23h0m-11-8h0m32 14h0" stroke="#ffffff" stroke-width="4.4" stroke-linecap="round" fill="none"/>
<path transform="scale(.25)" d="M747 474h0m51 21h0m25 13h0m-51 18h0m100 2h0m-74 17h0m-8 5h0m87 24h0" stroke="#ffffff" stroke-width="4.4" stroke-linecap="round" fill="none"/>
<path transform="scale(.25)" d="M857 345h0m20 36h0m12 5h0m-43 17h0m28 5h0m33 14h0" stroke="#8c564b" stroke-width="6.4" stroke-linecap="round" fill="none"/>
<path transform="scale(.25)" d="M1126 335h0m-45 10h0m80 33h0m-54 16h0m24-6h0m20 15h0m-25 17h0m-26 7h0m-21-3h0m-6 7h0m-2 6h0m24 15h0m-16-2h0m19 38h0m7-3h0m14 3h0" stroke="#ffffff" stroke-width="3.6" stroke-linecap="round" stroke-opacity="0.7" fill="none"/>
<path transform="scale(.25)" d="M1128 274h0m16 9h0m-22-1h0m-3 11h0" stroke="#ffffff" stroke-width="3.6" stroke-linecap="round" stroke-opacity="0.7" fill="none"/>
<path transform="scale(.25)" d="M990 497h0m-53 18h0m154 2h0m-77 6h0m-20-1h0m-44-6h0m129 24h0m-113 4h0m-15 9h0m121 18h0" stroke="#ffffff" stroke-width="3.6" stroke-linecap="round" stroke-opacity="0.7" fill="none"/>
<path transform="scale(.25)" d="M1029 333h0m-18 2h0m-29-9h0m45 46h0m-67 22h0m6-10h0m97 8h0m-68 25h0m49-6h0m-74 18h0m-3 32h0m81-4h0m18 2h0m-75 9h0m-46 6h0m92 17h0m3-2h0m-6 6h0" stroke="#ffffff" stroke-width="3.6" stroke-linecap="round" stroke-opacity="0.7" fill="none"/>
<path transform="scale(.25)" d="M1060 234h0m-75 18h0m46 22h0m39-5h0m19 16h0m-18 8h0m-25 10h0m-39 2h0" stroke="#ffffff" stroke-width="3.6" stroke-linecap="round" stroke-opacity="0.7" fill="none"/>
<path transform="scale(.25)" d="M954 263h0m-9 26h0m2 4h0m17 0h0" stroke="#ffffff" stroke-width="3.6" stroke-linecap="round" stroke-opacity="0.7" fill="none"/>
<path transform="scale(.25)" d="M986 145h0m33 10h0m-30 11h0m-21 2h0m10 6h0m40 19h0" stroke="#ffffff" stroke-width="3.6" stroke-linecap="round" stroke-opacity="0.7" fill="none"/>
<path transform="scale(.25)" d="M787 234h0m7 18h0m25 30h0m-49 1h0m58 14h0m-19 33h0m-13-1h0m-7 23h0" stroke="#ffffff" stroke-width="3.6" stroke-linecap="round" stroke-opacity="0.7" fill="none"/>
<path transform="scale(.25)" d="M753 433h0m2 6h0m23-6h0m49 18h0m-22 3h0m-18-5h0m42 9h0m11 14h0m-68 1h0m-12 27h0m21 19h0m112 36h0" stroke="#ffffff" stroke-width="3.6" stroke-linecap="round" stroke-opacity="0.7" fill="none"/>
<path transform="scale(.25)" d="M900 282h0m-5 17h0m-54 23h0m59 1h0m17 9h0m-43-4h0m-18 6h0m-15-5h0m-21 2h0m-3 38h0m46 6h0m-7-2h0m-45 12h0m91-1h0m-59 18h0m51 29h0m-3 57h0m20-8h0m15 9h0m-7 37h0" stroke="#ffffff" stroke-width="3.6" stroke-linecap="round" stroke-opacity="0.7" fill="none"/>
<path transform="scale(.25)" d="M798 513h0m11 1h0m32-1h0m37 5h0m-3 6h0m-44-1h0m-2-2h0m-1-3h0m-6 8h0m-1 1h0m-19-5h0m-6-3h0m-4 0h0m-23 10h0m22 0h0m67 8h0m1-7h0m6 7h0m8-3h0m7 2h0m17 12h0m-15 1h0m-16 0h0m-5-6h0m-12 4h0m-6-1h0m-1-4h0m-3 9h0m-4-7h0m-6 6h0m-41-10h0m-11 1h0m9 13h0m12 7h0m24-5h0m2 7h0m50-8h0m-6 14h0m-13-5h0m-19 8h0m-15-2h0m0-5h0m-18 4h0m20 7h0m11 7h0" stroke="#ffffff" stroke-width="4.4" stroke-linecap="round" fill="none"/>
<path transform="scale(.25)" d="M860 148h0" stroke="#17becf" stroke-width="5.2" stroke-linecap="round" fill="none"/>
<path transform="scale(.25)" d="M872 204h0" stroke="#17becf" stroke-width="5.2" stroke-linecap="round" fill="none"/>
<path transform="scale(.25)" d="M888 220h0" stroke="#17becf" stroke-width="5.2" stroke-linecap="round" fill="none"/>
<path transform="scale(.25)" d="M914 200h0" stroke="#1f77b4" stroke-width="5.2" stroke-linecap="round" fill="none"/>
<path transform="scale(.25)" d="M834 188h0" stroke="#8c564b" stroke-width="5.2" stroke-linecap="round" fill="none"/>
<path transform="scale(.25)" d="M838 204h0" stroke="#8c564b" stroke-width="5.2" stroke-linecap="round" fill="none"/>
<path transform="scale(.25)" d="M848 208h0" stroke="#8c564b" stroke-width="5.2" stroke-linecap="round" fill="none"/>
<path transform="scale(.25)" d="M904 228h0" stroke="#17becf" stroke-width="5.2" stroke-linecap="round" fill="none"/>
<path transform="scale(.25)" d="M896 240h0" stroke="#17becf" stroke-width="5.2" stroke-linecap="round" fill="none"/>
<path transform="scale(.25)" d="M912 244h0" stroke="#17becf" stroke-width="5.2" stroke-linecap="round" fill="none"/>
<path transform="scale(.25)" d="M920 232h0" stroke="#7f7f7f" stroke-width="5.2" stroke-linecap="round" fill="none"/>
<path transform="scale(.25)" d="M812 252h0" stroke="#7f7f7f" stroke-width="5.2" stroke-linecap="round" fill="none"/>
<path transform="scale(.25)" d="M864 252h0" stroke="#e377c2" stroke-width="5.2" stroke-linecap="round" fill="none"/>
<path transform="scale(.25)" d="M936 188h0" stroke="#7f7f7f" stroke-width="5.2" stroke-linecap="round" fill="none"/>
<path transform="scale(.25)" d="M788 212h0" stroke="#17becf" stroke-width="5.2" stroke-linecap="round" fill="none"/>
<path transform="scale(.25)" d="M1064 184h0" stroke="#bcbd22" stroke-width="5.2" stroke-linecap="round" fill="none"/>
<path transform="scale(.25)" d="M952 232h0" stroke="#bcbd22" stroke-width="5.2" stroke-linecap="round" fill="none"/>
<path transform="scale(.25)" d="M1080 204h0" stroke="#1f77b4" stroke-width="5.2" stroke-linecap="round" fill="none"/>
<path d="M219 58.2C220.1 58.3 221.4 58.8 222.3 59.8C223.2 60.8 223.8 62 224.5 64C225.2 66 225.8 68.9 226.6 72C227.4 75.1 228.3 79.4 229.2 82.8C230 86.2 230.7 87.9 231.7 92.4C232.7 96.9 234.4 104.7 235.2 109.6C236 114.5 236.5 117.9 236.4 121.9C236.3 125.9 235.6 130.1 234.4 133.5C233.2 136.9 231.7 139.9 229.5 142.5C227.3 145.1 224.1 147.6 221 149C217.9 150.4 214.2 151 210.8 151C207.4 151 203.8 150.5 200.5 149.2C197.2 147.9 193.7 145.8 191 143C188.3 140.2 186.1 136.5 184.6 132.5C183.1 128.5 182 123.2 182 119C182 114.8 183.2 110.1 184.5 107C185.8 103.9 188.1 101.9 190 100.2C191.9 98.5 194.3 98.5 196 97C197.7 95.5 198.6 93.3 200 91.5C201.4 89.7 203.1 88 204.2 86C205.3 84 205.9 82.1 206.6 79.5C207.3 76.9 207.7 73.2 208.6 70.5C209.5 67.8 210.7 64.9 211.8 63C213 61.1 214.3 60.1 215.5 59.3C216.7 58.5 217.9 58.1 219 58.2Z" fill="none" stroke="#1e1e1e" stroke-width="1" stroke-dasharray="3.8 2.6"/>
<text x="252.8" y="46" text-anchor="middle" font-size="8.4" style="fill:#111;stroke:#111;stroke-width:0.25px">8</text>
<text x="198.2" y="74.7" text-anchor="middle" font-size="8.4" style="fill:#111;stroke:#111;stroke-width:0.25px">6</text>
<text x="220" y="101.3" text-anchor="middle" font-size="8.4" style="fill:#111;stroke:#111;stroke-width:0.25px">1</text>
<text x="202.3" y="121" text-anchor="middle" font-size="8.4" style="fill:#111;stroke:#111;stroke-width:0.25px">5</text>
<text x="239" y="81.1" text-anchor="middle" font-size="8.4" style="fill:#111;stroke:#111;stroke-width:0.25px">9</text>
<text x="257.5" y="77" text-anchor="middle" font-size="8.4" style="fill:#111;stroke:#111;stroke-width:0.25px">3</text>
<text x="279.4" y="76.4" text-anchor="middle" font-size="8.4" style="fill:#111;stroke:#111;stroke-width:0.25px">7</text>
<text x="278.2" y="95.3" text-anchor="middle" font-size="8.4" style="fill:#111;stroke:#111;stroke-width:0.25px">0</text>
<text x="252.1" y="109.6" text-anchor="middle" font-size="8.4" style="fill:#111;stroke:#111;stroke-width:0.25px">2</text>
<text x="255.6" y="131" text-anchor="middle" font-size="8.4" style="fill:#111;stroke:#111;stroke-width:0.25px">4</text>
</g>
<rect x="175.5" y="20.6" width="135.2" height="134.7" fill="none" stroke="#333" stroke-width="1"/>

<text class="pl" x="320.9" y="8.8">b</text>
<text class="t9" x="343.7" y="16">COTL1<tspan font-size="5.6" dy="-3.2">high</tspan><tspan dy="3.2"> signature score</tspan></text>
<rect x="332" y="20.8" width="125.4" height="134.7" fill="none" stroke="#333" stroke-width="1"/>
<text class="t8" x="394.9" y="166" text-anchor="middle">UMAP_1</text>
<text class="t8" transform="translate(327.5,86.7) rotate(-90)" text-anchor="middle">UMAP_2</text>
<defs>
<linearGradient id="rdylbu" x1="0" y1="0" x2="0" y2="1">
<stop offset="0" stop-color="#d73027"/><stop offset="0.2" stop-color="#f67e4b"/><stop offset="0.35" stop-color="#fdbe70"/>
<stop offset="0.48" stop-color="#fee99a"/><stop offset="0.58" stop-color="#fbfbd8"/><stop offset="0.7" stop-color="#dbeef4"/>
<stop offset="0.85" stop-color="#9cc8e0"/><stop offset="1" stop-color="#4a7ab8"/>
</linearGradient>
</defs>
<rect x="462.3" y="49.9" width="11.8" height="59" fill="url(#rdylbu)"/>
<path d="M471.1 54.5H474.1M471.1 70.6H474.1M471.1 86.9H474.1M471.1 103.6H474.1" stroke="#fff" stroke-width="0.6" stroke-opacity="0.8"/>
<g class="t8">
<text x="476.8" y="57.8">1.2</text>
<text x="476.8" y="74.6">0.8</text>
<text x="476.8" y="90.7">0.4</text>
<text x="476.8" y="106.9">0</text>
</g>

<g id="umapB">
<defs><linearGradient id="bgB" x1="339" y1="0" x2="448" y2="0" gradientUnits="userSpaceOnUse"><stop offset="0" stop-color="#fdeab0"/><stop offset="0.4" stop-color="#fde8b0"/><stop offset="0.5" stop-color="#f8f8dc"/><stop offset="0.8" stop-color="#e6f1ee"/><stop offset="1" stop-color="#c4dcea"/></linearGradient><radialGradient id="hiB" cx="366" cy="108" r="24" gradientUnits="userSpaceOnUse"><stop offset="0" stop-color="#fdb46a" stop-opacity="0.8"/><stop offset="1" stop-color="#fdb46a" stop-opacity="0"/></radialGradient></defs>
<path d="M346.4 57 L352 56.5 L356 58.5 L362 62 L368 62 L375 60 L383 57 L389 52 L392.5 42 L400.8 34.5 L408 37 L412.4 39.7 L414.5 48.2 L420.8 56.6 L435.6 60.8 L441.9 67.1 L448.2 86.1 L444 100.8 L437.7 113.5 L427.1 128.2 L414.5 134.5 L401.9 134.5 L391.3 130.3 L385 130 L374.6 132.7 L357.4 135.4 L345 125 L339 106.4 L339.6 90 L339.6 70.7 Z" fill="url(#bgB)"/>
<path d="M346.4 57 L352 56.5 L356 58.5 L362 62 L368 62 L375 60 L383 57 L389 52 L392.5 42 L400.8 34.5 L408 37 L412.4 39.7 L414.5 48.2 L420.8 56.6 L435.6 60.8 L441.9 67.1 L448.2 86.1 L444 100.8 L437.7 113.5 L427.1 128.2 L414.5 134.5 L401.9 134.5 L391.3 130.3 L385 130 L374.6 132.7 L357.4 135.4 L345 125 L339 106.4 L339.6 90 L339.6 70.7 Z" fill="url(#hiB)"/>
<path transform="scale(.25)" d="M1544 215h0m-31 35h0m9 4h0m-132 9h0m44 6h0m320 9h0m-88 5h0m78 39h0m10 4h0m-336 18h0m256 26h0m-80 13h0m-5-8h0m-15-2h0m-81 13h0m34 1h0m23 29h0m67 7h0m-2 1h0m14 15h0m44 10h0m-78 6h0m-26 11h0m24-7h0m79 20h0m-106 22h0m-86-2h0m90 20h0" stroke="#ebf7e4" stroke-width="5.4" stroke-linecap="round" fill="none"/>
<path transform="scale(.25)" d="M1634 185h0m-238 65h0m16 22h0m2 3h0m272 78h0m-155 0h0m-124 35h0m276-2h0m-329 19h0m126 50h0m-105 30h0m299 24h0m7 4h0m-244 9h0" stroke="#fff6b1" stroke-width="5.4" stroke-linecap="round" fill="none"/>
<path transform="scale(.25)" d="M1388 292h0m59 1h0m-81 33h0m150 26h0m-127 28h0m168 37h0m-106 8h0m-48 2h0m71 91h0" stroke="#fecd7e" stroke-width="5.4" stroke-linecap="round" fill="none"/>
<path transform="scale(.25)" d="M1638 153h0m-105 79h0m58 9h0m143 0h0m11 16h0m-56 17h0m-313 2h0m211 18h0m68-1h0m108 24h0m-192 51h0m27-3h0m180 27h0m-7 9h0m-143 56h0m85 28h0" stroke="#98cae1" stroke-width="5.4" stroke-linecap="round" fill="none"/>
<path transform="scale(.25)" d="M1625 235h0m-64 1h0m-7 2h0m145 11h0m-1 11h0m-77-6h0m-6 13h0m37-2h0m39 8h0m-19 8h0m-6 16h0m10 5h0m-270 7h0m-22 9h0m101 33h0m-88 23h0m144 14h0m27 30h0m99 25h0m-36 2h0m50 56h0m-263-9h0m186 17h0m-18 8h0m-142 23h0" stroke="#f3fad5" stroke-width="5.4" stroke-linecap="round" fill="none"/>
<path transform="scale(.25)" d="M1482 274h0m185 6h0m6 30h0m-79 60h0m116-10h0m-74 27h0m-40 30h0m126-7h0m-221 26h0m121 19h0m29 12h0" stroke="#e7f6ec" stroke-width="5.4" stroke-linecap="round" fill="none"/>
<path transform="scale(.25)" d="M1649 257h0m-90 23h0m-78 13h0m-94 29h0m23 7h0m254 54h0m-103 38h0m-118 79h0m34 11h0m65-2h0m97 6h0" stroke="#fff3ac" stroke-width="5.4" stroke-linecap="round" fill="none"/>
<path transform="scale(.25)" d="M1626 187h0m37 23h0m122 111h0m-74 174h0" stroke="#93c6de" stroke-width="5.4" stroke-linecap="round" fill="none"/>
<path transform="scale(.25)" d="M1611 250h0m-16 26h0m-179 67h0m39 44h0m139 68h0m106 4h0m-60 23h0m-159 47h0" stroke="#fdfec2" stroke-width="5.4" stroke-linecap="round" fill="none"/>
<path transform="scale(.25)" d="M1571 302h0m-21 18h0m-73 41h0m167 12h0m37 12h0m-274 32h0m185-4h0m129 13h0m-67 13h0m-235 42h0m90 4h0m184 0h0m-186 25h0m-64 6h0m73 12h0" stroke="#f9fdcb" stroke-width="5.4" stroke-linecap="round" fill="none"/>
<path transform="scale(.25)" d="M1491 437h0m-47 84h0" stroke="#fa9656" stroke-width="5.4" stroke-linecap="round" fill="none"/>
<path transform="scale(.25)" d="M1611 168h0m-179 103h0m155 1h0m147 3h0m-335 20h0m303-4h0m36 0h0m-25 19h0m-44-10h0m-11 5h0m-302 26h0m382 28h0m0 36h0m-189 2h0m164 24h0m-54 9h0m34 20h0m-91 52h0m57 29h0" stroke="#c7e7f1" stroke-width="5.4" stroke-linecap="round" fill="none"/>
<path transform="scale(.25)" d="M1410 225h0m339 32h0m-187-3h0m66 37h0m-156 24h0m79 46h0m-31 17h0m-152 54h0m135 1h0m103 10h0m-205 2h0m65 45h0" stroke="#fff6b2" stroke-width="5.4" stroke-linecap="round" fill="none"/>
<path transform="scale(.25)" d="M1383 234h0m130 8h0m-111 102h0m277 8h0m-269 15h0m76 15h0m-57 46h0m-55 5h0m111 85h0m-37 19h0" stroke="#fedc8c" stroke-width="5.4" stroke-linecap="round" fill="none"/>
<path transform="scale(.25)" d="M1583 287h0m-75 31h0m114 11h0m-109 4h0m101 21h0m-260 59h0m239 82h0m50 19h0m-33 19h0" stroke="#eef9de" stroke-width="5.4" stroke-linecap="round" fill="none"/>
<path transform="scale(.25)" d="M1417 245h0m93 17h0m-7 0h0m-123 15h0m318 17h0m-257 11h0m106 16h0m49-8h0m-64 33h0m79 5h0m-230 16h0m283-4h0m-36 44h0m64 19h0m-128 40h0m68-8h0m43 52h0" stroke="#f0f9da" stroke-width="5.4" stroke-linecap="round" fill="none"/>
<path transform="scale(.25)" d="M1582 157h0m35 46h0m3 25h0m96 104h0m-8 38h0m73 12h0m-187 24h0" stroke="#6ea6cd" stroke-width="5.4" stroke-linecap="round" fill="none"/>
<path transform="scale(.25)" d="M1652 273h0m-159 59h0m68 72h0m83 36h0m-217 12h0" stroke="#e4f5f1" stroke-width="5.4" stroke-linecap="round" fill="none"/>
<path transform="scale(.25)" d="M1563 188h0m-144 76h0m235 0h0m-21 12h0m-193 40h0m139 26h0m5-2h0m117 10h0m-87 21h0m58 20h0m-206 11h0m237 25h0m-46 0h0m-62 9h0m83 3h0m-61 22h0m-18 8h0m86 12h0m-254 46h0m220 12h0" stroke="#e4f5f0" stroke-width="5.4" stroke-linecap="round" fill="none"/>
<path transform="scale(.25)" d="M1724 238h0m-297 77h0m250 56h0m-162 1h0m-14 44h0m16 56h0m-89 2h0m163 13h0m-174 17h0m53 9h0m32 1h0m95 13h0" stroke="#feeda3" stroke-width="5.4" stroke-linecap="round" fill="none"/>
<path transform="scale(.25)" d="M1485 241h0m-90 90h0m160 61h0m-192 50h0m27 21h0m146 8h0m5 19h0m-49 16h0m-59 20h0" stroke="#fdc274" stroke-width="5.4" stroke-linecap="round" fill="none"/>
<path transform="scale(.25)" d="M1534 402h0m-94 43h0m3 92h0" stroke="#fdac60" stroke-width="5.4" stroke-linecap="round" fill="none"/>
<path transform="scale(.25)" d="M1427 251h0m-34 24h0m66-10h0m46 15h0m-92 5h0m152 48h0m24 17h0m-120 8h0m41 22h0m123 24h0m69 8h0m7 15h0m-324 38h0m241 11h0m18 14h0" stroke="#eff9dc" stroke-width="5.4" stroke-linecap="round" fill="none"/>
<path transform="scale(.25)" d="M1649 235h0m13 9h0m-63 29h0m-184 56h0m75 16h0m133-5h0m33 47h0m71 8h0m-156 2h0m131 20h0m-39 10h0m-78 26h0m-4 9h0m112 0h0" stroke="#dff3f8" stroke-width="5.4" stroke-linecap="round" fill="none"/>
<path transform="scale(.25)" d="M1646 233h0m53 44h0m-17 24h0m-271 15h0m271 25h0m-129 12h0m-96-2h0m268 19h0m-150 10h0m-174 62h0m203 21h0m128-4h0m-48 17h0m-89-7h0m111 21h0m-135 11h0m68 28h0" stroke="#d8eff6" stroke-width="5.4" stroke-linecap="round" fill="none"/>
<path transform="scale(.25)" d="M1593 154h0m-4 36h0m87 33h0m3 44h0m27 1h0m80 60h0m-21 46h0m-64 27h0m-128 47h0m133 39h0m17 8h0m-138 4h0" stroke="#a5d4e6" stroke-width="5.4" stroke-linecap="round" fill="none"/>
<path transform="scale(.25)" d="M1750 264h0m39 93h0m-48 23h0m-2-2h0m-159-3h0m44 136h0" stroke="#7cb3d4" stroke-width="5.4" stroke-linecap="round" fill="none"/>
<path transform="scale(.25)" d="M1617 241h0m41 3h0m-26 44h0m49 37h0m-182 13h0m71 27h0m85 61h0m-144 27h0m-8 61h0m-77 9h0" stroke="#fafdc9" stroke-width="5.4" stroke-linecap="round" fill="none"/>
<path transform="scale(.25)" d="M1594 263h0m-149 46h0m-22 22h0m171 14h0m21-7h0m-193 19h0m-41-5h0m129 62h0m-50 99h0m64 5h0" stroke="#fff5b0" stroke-width="5.4" stroke-linecap="round" fill="none"/>
<path transform="scale(.25)" d="M1595 271h0m135 9h0m-18-3h0m-313 11h0m188 51h0m203 15h0m-37-2h0m-20-2h0m-115 9h0m-36-7h0m165 16h0m43-6h0m-135 35h0m-42 13h0m135 20h0m-16-8h0m-118 45h0" stroke="#bde2ee" stroke-width="5.4" stroke-linecap="round" fill="none"/>
<path transform="scale(.25)" d="M1530 356h0m135 48h0m-167 12h0m37 13h0m-135 10h0m216 35h0m-124 28h0m22 9h0m22 12h0" stroke="#fed081" stroke-width="5.4" stroke-linecap="round" fill="none"/>
<path transform="scale(.25)" d="M1698 260h0m-119-5h0m134 9h0m36 14h0m-300-2h0m106 32h0m-105 6h0m247 0h0m-316 18h0m308 14h0m-220 15h0m297 28h0m-128 28h0m-17 16h0m26 13h0m-3-1h0m-6 14h0m-31 25h0m53 4h0m-23 25h0m5-3h0m44 7h0" stroke="#e0f3f8" stroke-width="5.4" stroke-linecap="round" fill="none"/>
<path transform="scale(.25)" d="M1552 229h0m44 29h0m-184 8h0m80 14h0m-66 5h0m-12-7h0m-19-1h0m241 27h0m-269 33h0m22 61h0m16 11h0m96 3h0m-27 64h0m67 28h0m-136 15h0" stroke="#fffebe" stroke-width="5.4" stroke-linecap="round" fill="none"/>
<path transform="scale(.25)" d="M1454 250h0m40-7h0m85-3h0m113 6h0m52 17h0m-235 6h0m-148 11h0m158 13h0m100 41h0m-101 41h0m-160 3h0m337 24h0m-121 19h0m-216 5h0m319 98h0" stroke="#eff9dd" stroke-width="5.4" stroke-linecap="round" fill="none"/>
<path transform="scale(.25)" d="M1503 262h0m93 6h0m-202 16h0m53 10h0m-44 15h0m-21 9h0m18-5h0m45 34h0m119 22h0m-55 50h0" stroke="#f1fad8" stroke-width="5.4" stroke-linecap="round" fill="none"/>
<path transform="scale(.25)" d="M1538 219h0m-12 31h0m-34 7h0m197 26h0m-206 38h0m22 8h0m-28 5h0m60 33h0m83 23h0m-82 43h0m-121 24h0m133 10h0m111 21h0m-272 20h0" stroke="#f5fbd2" stroke-width="5.4" stroke-linecap="round" fill="none"/>
<path transform="scale(.25)" d="M1406 256h0m250 33h0m-94 20h0m-131 9h0m209 23h0m-30 26h0m-41 67h0m-172 28h0m10 2h0" stroke="#edf8df" stroke-width="5.4" stroke-linecap="round" fill="none"/>
<path transform="scale(.25)" d="M1558 241h0m120 19h0m-90 2h0m-23-8h0m-74 22h0m-45 34h0m268 18h0m-139 1h0m69 13h0m-263 7h0m190 15h0m112 0h0m-44 18h0m19 29h0m-285 44h0m330 7h0m13 4h0m-89 25h0m-50 8h0" stroke="#e8f6e9" stroke-width="5.4" stroke-linecap="round" fill="none"/>
<path transform="scale(.25)" d="M1606 240h0m77 14h0m-109 20h0m-15 9h0m130 25h0m-35 21h0m113 16h0m-141 51h0m-25 15h0m162-2h0m-112 13h0m-12 28h0m-115 2h0m81 50h0" stroke="#d4edf5" stroke-width="5.4" stroke-linecap="round" fill="none"/>
<path transform="scale(.25)" d="M1392 246h0m73 3h0m32-6h0m-104 13h0m330 21h0m-342 21h0m-14 47h0m34 0h0m253 4h0m-225 18h0m38 24h0m217 13h0m-325 29h0m28 5h0m314 28h0m-152 18h0m-61 18h0m-68 1h0" stroke="#fff2ab" stroke-width="5.4" stroke-linecap="round" fill="none"/>
<path transform="scale(.25)" d="M1724 259h0m-294 19h0m-41 84h0m209 21h0m-135-4h0m44 66h0m192 45h0m-94 9h0" stroke="#f1f9d9" stroke-width="5.4" stroke-linecap="round" fill="none"/>
<path transform="scale(.25)" d="M1543 291h0m-104 16h0m219 15h0m-262 17h0m141 1h0m-146 29h0m33-4h0m276-5h0m-338 33h0m58-6h0m-3 23h0m257 19h0m-140-3h0m-27 25h0m-137 9h0m143-3h0m38 2h0m-162 15h0m149 29h0m-130-2h0m22 36h0m227-9h0" stroke="#fee699" stroke-width="5.4" stroke-linecap="round" fill="none"/>
<path transform="scale(.25)" d="M1664 237h0m-282 0h0m288 24h0m-294 8h0m153 2h0m239 11h0m-176 3h0m-222 8h0m150 4h0m246 3h0m4 14h0m-65 10h0m-17 7h0m-68 4h0m16 31h0m71 12h0m-95-6h0m-24 29h0m-3 10h0m111 9h0m-126 14h0m174 2h0m-115 16h0m84 8h0m-55 14h0m-85 53h0" stroke="#cae8f2" stroke-width="5.4" stroke-linecap="round" fill="none"/>
<path transform="scale(.25)" d="M1542 252h0m-128 15h0m-9 37h0m262 11h0m-200 14h0m209 9h0m-170 40h0m-49 15h0m129 36h0m-27-5h0m-45 0h0m21 14h0m148 26h0m-79 24h0m25-2h0m-82 9h0m-85 18h0m-36 4h0" stroke="#fffdbc" stroke-width="5.4" stroke-linecap="round" fill="none"/>
<path transform="scale(.25)" d="M1574 247h0m137-5h0m43 17h0m-6 48h0m-271 29h0m217 82h0m44 21h0m-9 45h0" stroke="#d1ecf4" stroke-width="5.4" stroke-linecap="round" fill="none"/>
<path transform="scale(.25)" d="M1567 237h0m-113 11h0m30 31h0m11 61h0m86 62h0m-78 19h0m10 57h0m-116-7h0m57 34h0m29 17h0" stroke="#feeba0" stroke-width="5.4" stroke-linecap="round" fill="none"/>
<path transform="scale(.25)" d="M1530 273h0m-153 34h0m21 39h0m34 22h0m209 5h0m-246 22h0m162 21h0m-160 13h0m49 21h0m-33-4h0" stroke="#fedd8d" stroke-width="5.4" stroke-linecap="round" fill="none"/>
<path transform="scale(.25)" d="M1512 257h0m-62 29h0m77 20h0m-116 6h0m43 5h0m71 38h0m-167 4h0m190 6h0m12 10h0m-168 76h0m244 26h0m-1 0h0m20 12h0m-216 11h0m-48 4h0m117 9h0" stroke="#fee79b" stroke-width="5.4" stroke-linecap="round" fill="none"/>
<path transform="scale(.25)" d="M1464 410h0" stroke="#fed282" stroke-width="5.4" stroke-linecap="round" fill="none"/>
<path transform="scale(.25)" d="M1558 470h0" stroke="#f99455" stroke-width="5.4" stroke-linecap="round" fill="none"/>
<path transform="scale(.25)" d="M1649 178h0m54 145h0m-135 139h0m72 0h0m11 55h0" stroke="#aad8e8" stroke-width="5.4" stroke-linecap="round" fill="none"/>
<path transform="scale(.25)" d="M1473 325h0m-59 11h0m41 54h0m52 9h0m-50 3h0m287 25h0m-272 21h0m-35 24h0m-57 13h0m23 5h0m122 28h0m-99 22h0" stroke="#fee598" stroke-width="5.4" stroke-linecap="round" fill="none"/>
<path transform="scale(.25)" d="M1538 328h0m-32 15h0m195 18h0m-250 36h0m96 53h0m133 24h0m-76 39h0m-6 15h0" stroke="#feffc0" stroke-width="5.4" stroke-linecap="round" fill="none"/>
<path transform="scale(.25)" d="M1430 304h0m8 22h0m116 28h0m-72 11h0m-55 13h0m124 21h0m-167-1h0m101 48h0m-74 0h0m186 29h0m-104 10h0m15-5h0m-109 16h0" stroke="#fee496" stroke-width="5.4" stroke-linecap="round" fill="none"/>
<path transform="scale(.25)" d="M1590 181h0m-139 90h0m59-4h0m196 19h0m36 2h0m-236 48h0m116 26h0m116 55h0m-103 60h0m-19 5h0" stroke="#bbe1ed" stroke-width="5.4" stroke-linecap="round" fill="none"/>
<path transform="scale(.25)" d="M1456 426h0m-30 52h0m-30 10h0" stroke="#fed889" stroke-width="5.4" stroke-linecap="round" fill="none"/>
<path transform="scale(.25)" d="M1598 166h0m25 8h0m-30 11h0m42 29h0m-18 39h0m84 22h0m20 24h0m47 31h0m-167-2h0m-185 10h0m181 57h0m182 1h0m-9 4h0m-153 133h0m39 8h0" stroke="#afdbea" stroke-width="5.4" stroke-linecap="round" fill="none"/>
<path transform="scale(.25)" d="M1564 217h0m74 2h0m17 16h0m-120 23h0m-56 3h0m238 19h0m-249 1h0m-7 27h0m304 20h0m-115 4h0m-76-8h0m-56 5h0m52 13h0m196 0h0m-112 7h0m27 16h0m18 8h0m-97 3h0m122 61h0m-89 53h0m76-9h0m-219 50h0m105 3h0" stroke="#dcf1f7" stroke-width="5.4" stroke-linecap="round" fill="none"/>
<path transform="scale(.25)" d="M1703 245h0m-235 39h0m180 23h0m-89 7h0m-194 19h0m152 41h0m-33 21h0m-112 38h0m290 10h0m-255 8h0m227 39h0m-110 2h0" stroke="#fcfec5" stroke-width="5.4" stroke-linecap="round" fill="none"/>
<path transform="scale(.25)" d="M1695 238h0m-245 30h0m89 37h0m-118 70h0m57 34h0m157 21h0m98 17h0m-239 36h0" stroke="#e7f6eb" stroke-width="5.4" stroke-linecap="round" fill="none"/>
<path transform="scale(.25)" d="M1394 246h0m287 3h0m-77 16h0m3-1h0m46 22h0m-250 60h0m-19 9h0m150 19h0m120 32h0m-106-5h0m-133 26h0m-4 7h0m244 14h0m-235 22h0m284 46h0m-110 18h0" stroke="#fffcba" stroke-width="5.4" stroke-linecap="round" fill="none"/>
<path transform="scale(.25)" d="M1447 283h0m-25 0h0m197 32h0m1 1h0m118 13h0m-270 7h0m173 0h0m-79 29h0m130 0h0m10 6h0m-151 8h0m59 20h0m-160 17h0m194 42h0m22 18h0m-6 15h0m33 0h0m-131 31h0" stroke="#b9e0ed" stroke-width="5.4" stroke-linecap="round" fill="none"/>
<path transform="scale(.25)" d="M1632 152h0m-85 123h0m121 112h0m26 118h0" stroke="#7eb5d6" stroke-width="5.4" stroke-linecap="round" fill="none"/>
<path transform="scale(.25)" d="M1632 154h0m21 33h0m-91 41h0m31 15h0m17 5h0m81 33h0m33 24h0m-8 2h0m-83 87h0m106-10h0m-124 44h0m-251 15h0m312 70h0m-46 17h0" stroke="#c5e6f0" stroke-width="5.4" stroke-linecap="round" fill="none"/>
<path transform="scale(.25)" d="M1457 265h0m102 26h0m-8 74h0m107 113h0m-224 10h0m155 43h0" stroke="#fbfec6" stroke-width="5.4" stroke-linecap="round" fill="none"/>
<path transform="scale(.25)" d="M1549 220h0m-137 89h0m54 19h0m-61 22h0m118 20h0m101 7h0m-41-2h0m-188 15h0m238 4h0m68 1h0m19-4h0m-250 12h0m155 7h0m97 21h0m-68 43h0m-49 5h0" stroke="#ffffbe" stroke-width="5.4" stroke-linecap="round" fill="none"/>
<path transform="scale(.25)" d="M1476 319h0m0 89h0m48 16h0m-67 35h0m1 46h0" stroke="#fed485" stroke-width="5.4" stroke-linecap="round" fill="none"/>
<path transform="scale(.25)" d="M1625 174h0m78 82h0m-159 18h0m4-4h0m34 16h0m45 25h0m-151-8h0m242 10h0m-134 66h0m146 9h0m-79 16h0m-25-6h0m68 49h0m-19 2h0m-100 78h0" stroke="#b7dfec" stroke-width="5.4" stroke-linecap="round" fill="none"/>
<path transform="scale(.25)" d="M1404 476h0" stroke="#f36a42" stroke-width="5.4" stroke-linecap="round" fill="none"/>
<path transform="scale(.25)" d="M1594 153h0m27 52h0m-62 5h0m-1 20h0m36 44h0m121 28h0m74 34h0m4 16h0m-205 30h0m143 5h0m-92 138h0" stroke="#95c7df" stroke-width="5.4" stroke-linecap="round" fill="none"/>
<path transform="scale(.25)" d="M1661 227h0m-304 88h0m394 36h0m-47 56h0m-115-1h0m161 15h0m-165 59h0m95 3h0m-70 45h0" stroke="#bce1ee" stroke-width="5.4" stroke-linecap="round" fill="none"/>
<path transform="scale(.25)" d="M1713 398h0m-33 13h0" stroke="#75aed1" stroke-width="5.4" stroke-linecap="round" fill="none"/>
<path transform="scale(.25)" d="M1579 211h0m57 14h0m0 3h0m65 42h0m21 7h0m-73 19h0m62 2h0m-345 21h0m387 3h0m-81 22h0m20 2h0m22-2h0m-97 22h0m41 63h0" stroke="#addaea" stroke-width="5.4" stroke-linecap="round" fill="none"/>
<path transform="scale(.25)" d="M1708 252h0m-267 0h0m-47 5h0m-13 11h0m242 11h0m-61 8h0m-61 1h0m92 3h0m61 18h0m-186 23h0m-74 15h0m93 17h0m-4 29h0m-79 34h0m255 7h0m-49 18h0m-58 16h0m20 52h0m-164-3h0" stroke="#fffab8" stroke-width="5.4" stroke-linecap="round" fill="none"/>
<path transform="scale(.25)" d="M1501 268h0m125-3h0m26 9h0m-49 34h0m-24-2h0m-123 19h0m-36 22h0m231 2h0m-250 18h0m223 10h0m-217 13h0m106-5h0m151-1h0m-17 130h0" stroke="#fbfdc7" stroke-width="5.4" stroke-linecap="round" fill="none"/>
<path transform="scale(.25)" d="M1625 192h0m-67 29h0m-195 96h0m314-4h0m-56 125h0m79 77h0" stroke="#85bbd8" stroke-width="5.4" stroke-linecap="round" fill="none"/>
<path transform="scale(.25)" d="M1646 165h0m-90 46h0m-74 64h0m99-7h0m100-3h0m-98 13h0m88 25h0m24 22h0m-92 2h0m78 10h0m-178 50h0m259 16h0m-130 97h0" stroke="#d7eff5" stroke-width="5.4" stroke-linecap="round" fill="none"/>
<path transform="scale(.25)" d="M1450 251h0m69 61h0m-58 39h0m293 27h0m-43 22h0m-61 71h0" stroke="#c9e8f1" stroke-width="5.4" stroke-linecap="round" fill="none"/>
<path transform="scale(.25)" d="M1641 236h0m-188 18h0m73 21h0m-87 16h0m236 8h0m-4 80h0m-16 35h0m-84 8h0m50 33h0m7 3h0m77 15h0m-106-4h0m-18 8h0m-126 45h0" stroke="#e8f6ea" stroke-width="5.4" stroke-linecap="round" fill="none"/>
<path transform="scale(.25)" d="M1631 191h0m-81 45h0m67 5h0m-49 13h0m-137-2h0m148 34h0m-188-5h0m239 10h0m-179 31h0m54 0h0m-138 5h0m359 9h0m-200 27h0m194 13h0m-28-4h0m-287 6h0m-22 26h0m282 25h0m-301-8h0m191 29h0m61 21h0m-239 1h0" stroke="#f9fdca" stroke-width="5.4" stroke-linecap="round" fill="none"/>
<path transform="scale(.25)" d="M1628 149h0m-48 13h0m46 6h0m6 7h0m2 13h0m42 36h0m-37 5h0m122 72h0m27 37h0m-20 44h0" stroke="#4575b4" stroke-width="5.4" stroke-linecap="round" fill="none"/>
<path transform="scale(.25)" d="M1550 210h0m-4 25h0m1 11h0m131 9h0m-75 6h0m-14 0h0m-185-3h0m133 8h0m-49 19h0m-14 7h0m180 1h0m-89 67h0m166 14h0m-38 1h0m-80 13h0m27 48h0m38 22h0m-51 24h0m69 37h0" stroke="#e3f4f3" stroke-width="5.4" stroke-linecap="round" fill="none"/>
<path transform="scale(.25)" d="M1561 252h0m-119 59h0m52 13h0m-14 6h0m-112 18h0m89 36h0m35 4h0m20 13h0m5 16h0m-90 28h0m283 15h0m-332 22h0m14 9h0m102-5h0m22 33h0" stroke="#feea9f" stroke-width="5.4" stroke-linecap="round" fill="none"/>
<path transform="scale(.25)" d="M1537 233h0m-160 15h0m172 7h0m-165 2h0m26 24h0m25 13h0m-4 35h0m120 26h0m-175 4h0m40 9h0m125 22h0m-142 9h0m133 32h0m-150-3h0m-1-6h0m60 27h0m217 52h0m-99 7h0m-48 8h0m-101 6h0" stroke="#feeba1" stroke-width="5.4" stroke-linecap="round" fill="none"/>
<path transform="scale(.25)" d="M1626 175h0m76 72h0m-225 51h0m292 0h0m-196 10h0m-1 27h0m-205-11h0m332 150h0" stroke="#a4d4e6" stroke-width="5.4" stroke-linecap="round" fill="none"/>
<path transform="scale(.25)" d="M1530 241h0m-147 34h0m-24 78h0m107 20h0m-86 4h0m155 14h0m-87 8h0m-28 26h0m132 12h0m-138 23h0m31 16h0m-24-1h0m21 31h0" stroke="#fee395" stroke-width="5.4" stroke-linecap="round" fill="none"/>
<path transform="scale(.25)" d="M1610 168h0m89 68h0m-141 16h0m98 193h0" stroke="#dbf0f6" stroke-width="5.4" stroke-linecap="round" fill="none"/>
<path transform="scale(.25)" d="M1611 156h0m124 83h0m-241 10h0m162-8h0m34 17h0m-65 6h0m19 5h0m118 9h0m15 56h0m-70-7h0m21 54h0m-24 14h0m-14 36h0m-10 36h0m-51 5h0m-60 20h0m74 15h0m-8 9h0" stroke="#daf0f6" stroke-width="5.4" stroke-linecap="round" fill="none"/>
<path transform="scale(.25)" d="M1589 273h0m-54 34h0m-142 11h0m40-1h0m53 27h0m124 38h0m-125 55h0m-53 46h0m36 5h0" stroke="#fee192" stroke-width="5.4" stroke-linecap="round" fill="none"/>
<path transform="scale(.25)" d="M1399 232h0m7 114h0m147 3h0m-18 0h0m-51 3h0m-3 5h0m-4 18h0m-15 40h0m67 10h0m-125 0h0m28 9h0m86 19h0m-79 0h0m-57 25h0m167 33h0m-112 10h0" stroke="#fecf80" stroke-width="5.4" stroke-linecap="round" fill="none"/>
<path transform="scale(.25)" d="M1654 236h0m-46 25h0m-36 76h0m-8 18h0m119 22h0m-81 5h0m52 9h0m103 3h0m-35 16h0m-175 35h0m153 33h0m21 17h0m-64 7h0" stroke="#d0ebf3" stroke-width="5.4" stroke-linecap="round" fill="none"/>
<path transform="scale(.25)" d="M1510 332h0m22 28h0m50 36h0m-143 21h0m60-8h0m-43 97h0m99 5h0m-138 18h0" stroke="#fed687" stroke-width="5.4" stroke-linecap="round" fill="none"/>
<path transform="scale(.25)" d="M1686 234h0m-261-1h0m297 36h0m-79 13h0m-74-5h0m219 50h0m-30 14h0m-8 13h0m-4 4h0m-193 14h0m194 29h0m-145 16h0" stroke="#a2d2e5" stroke-width="5.4" stroke-linecap="round" fill="none"/>
<path transform="scale(.25)" d="M1543 306h0m-1 65h0m1 0h0m115-9h0m-148 11h0m-41 62h0m73 40h0m-25 47h0m-93 14h0" stroke="#fed182" stroke-width="5.4" stroke-linecap="round" fill="none"/>
<path transform="scale(.25)" d="M1679 261h0m-315 25h0m275 25h0m-69 0h0m84 2h0m5 41h0m-55 16h0m63 24h0m57 19h0m-60 30h0m84 1h0m-21 33h0m-45 3h0" stroke="#eaf7e6" stroke-width="5.4" stroke-linecap="round" fill="none"/>
<path transform="scale(.25)" d="M1430 242h0m77 34h0m160 42h0m-261 30h0m97 69h0m141 18h0m-81 16h0m15 10h0m66 9h0m-95 0h0m157 13h0m-219 17h0m10 9h0m69 0h0" stroke="#f6fccf" stroke-width="5.4" stroke-linecap="round" fill="none"/>
<path transform="scale(.25)" d="M1524 295h0m-54 26h0m61-1h0m-57 59h0m-49 8h0m91 23h0m-154 21h0m64 18h0m22 29h0" stroke="#fed788" stroke-width="5.4" stroke-linecap="round" fill="none"/>
<path transform="scale(.25)" d="M1484 475h0m7 13h0" stroke="#fdc678" stroke-width="5.4" stroke-linecap="round" fill="none"/>
<path transform="scale(.25)" d="M1385 246h0m106 0h0m112 39h0m-38-5h0m-174 19h0m165-7h0m144 0h0m-31 14h0m-8 6h0m-223 42h0m289 7h0m-190 20h0m95 6h0m117 20h0m-277-5h0m135 88h0m-13 2h0m-198 22h0m226-10h0" stroke="#f4fbd3" stroke-width="5.4" stroke-linecap="round" fill="none"/>
<path transform="scale(.25)" d="M1403 256h0m170 14h0m-209 45h0m133 49h0m82 4h0m-133 4h0m154 103h0" stroke="#e5f5ee" stroke-width="5.4" stroke-linecap="round" fill="none"/>
<path transform="scale(.25)" d="M1437 265h0m113 12h0m185 41h0m-278 17h0m103 5h0m-11 33h0m116 25h0m-215 19h0m238 0h0m-69 34h0m-164 20h0m78 14h0m-143 14h0" stroke="#fff4af" stroke-width="5.4" stroke-linecap="round" fill="none"/>
<path transform="scale(.25)" d="M1364 431h0m320 85h0" stroke="#fafdc7" stroke-width="5.4" stroke-linecap="round" fill="none"/>
<path transform="scale(.25)" d="M1506 439h0m-24 72h0" stroke="#f67c4a" stroke-width="5.4" stroke-linecap="round" fill="none"/>
<path transform="scale(.25)" d="M1419 385h0" stroke="#f7804c" stroke-width="5.4" stroke-linecap="round" fill="none"/>
<path transform="scale(.25)" d="M1597 141h0m32 12h0" stroke="#5c91c2" stroke-width="5.4" stroke-linecap="round" fill="none"/>
<path transform="scale(.25)" d="M1401 290h0m250 24h0m-68 70h0m88 42h0m-27 29h0m-10 0h0m47 13h0m-58 0h0m-165 44h0" stroke="#f3fad6" stroke-width="5.4" stroke-linecap="round" fill="none"/>
<path transform="scale(.25)" d="M1508 248h0m235-1h0m-350 12h0m11 18h0m287 17h0m-8 6h0m-308 9h0m315 12h0m19-9h0m-17 20h0m-3 51h0m-33 7h0m-48 49h0m110 3h0m-125 52h0" stroke="#eef8de" stroke-width="5.4" stroke-linecap="round" fill="none"/>
<path transform="scale(.25)" d="M1559 204h0m-27 31h0m-30 37h0m42-8h0m224 42h0m1 20h0m-391 3h0m267 85h0m77 32h0" stroke="#87bcd9" stroke-width="5.4" stroke-linecap="round" fill="none"/>
<path transform="scale(.25)" d="M1515 250h0m20 47h0m84 39h0m-136 50h0m142 36h0" stroke="#fee597" stroke-width="5.4" stroke-linecap="round" fill="none"/>
<path transform="scale(.25)" d="M1769 288h0" stroke="#4b7db8" stroke-width="5.4" stroke-linecap="round" fill="none"/>
<path transform="scale(.25)" d="M1457 332h0m101 73h0m-5-1h0m75 16h0m-250 1h0m111 33h0m-108 0h0m-10-9h0m39 62h0" stroke="#fed586" stroke-width="5.4" stroke-linecap="round" fill="none"/>
<path transform="scale(.25)" d="M1439 306h0m-19 88h0m-3 131h0" stroke="#fecb7d" stroke-width="5.4" stroke-linecap="round" fill="none"/>
<path transform="scale(.25)" d="M1568 316h0m-75 33h0m84 159h0" stroke="#aad9e9" stroke-width="5.4" stroke-linecap="round" fill="none"/>
<path transform="scale(.25)" d="M1598 196h0m67 85h0m84 75h0m-10-2h0m-140 35h0m157-3h0m-12 34h0" stroke="#89beda" stroke-width="5.4" stroke-linecap="round" fill="none"/>
<path transform="scale(.25)" d="M1412 292h0m156 45h0m-198 36h0m150 18h0m-31 16h0m-24 36h0m27-3h0m-33 14h0m175 31h0" stroke="#fed989" stroke-width="5.4" stroke-linecap="round" fill="none"/>
<path transform="scale(.25)" d="M1582 190h0m152 201h0m-50 115h0" stroke="#5a8ec1" stroke-width="5.4" stroke-linecap="round" fill="none"/>
<path transform="scale(.25)" d="M1426 267h0m31 20h0m-88 29h0m60 73h0m61 4h0m65 3h0m-95 1h0m169 11h0m-217 68h0m25 48h0m1 14h0" stroke="#fee191" stroke-width="5.4" stroke-linecap="round" fill="none"/>
<path transform="scale(.25)" d="M1599 153h0m-10 35h0m86 58h0m98 34h0m-50 80h0m-54 43h0m-55 39h0m110 43h0" stroke="#96c8e0" stroke-width="5.4" stroke-linecap="round" fill="none"/>
<path transform="scale(.25)" d="M1419 263h0m125 12h0m126 9h0m-227-7h0m-49 15h0m43-2h0m-58 53h0m35-6h0m-34 30h0m97 16h0m-86 26h0m140 17h0m-23 17h0m-94 28h0m173 17h0m70 9h0m-196 22h0m38 10h0" stroke="#feeea5" stroke-width="5.4" stroke-linecap="round" fill="none"/>
<path transform="scale(.25)" d="M1680 235h0m-64-2h0m34 13h0m71 6h0m-40 45h0m-11 18h0m-31 21h0m106 7h0m-357 88h0" stroke="#d7eef5" stroke-width="5.4" stroke-linecap="round" fill="none"/>
<path transform="scale(.25)" d="M1461 254h0m233 19h0m73 42h0m-26 17h0m16 34h0m11 10h0" stroke="#83b9d8" stroke-width="5.4" stroke-linecap="round" fill="none"/>
<path transform="scale(.25)" d="M1496 461h0" stroke="#f88b51" stroke-width="5.4" stroke-linecap="round" fill="none"/>
<path transform="scale(.25)" d="M1603 245h0m-47 11h0m-78 16h0m-18 14h0m-102-9h0m232 17h0m86-1h0m-160 38h0m-104 5h0m16 8h0m194 12h0m-255 15h0m-4 39h0m311 5h0m1 7h0m-309 10h0m126 30h0m61 20h0m134 13h0m-131 0h0m-49 32h0m-82-9h0" stroke="#fff9b6" stroke-width="5.4" stroke-linecap="round" fill="none"/>
<path transform="scale(.25)" d="M1500 237h0m203 22h0m-80-6h0m-187 16h0m194 11h0m-73-4h0m-77 21h0m7-4h0m-14 21h0m-100 26h0m351 3h0m-280 16h0m136 26h0m-58 13h0m-15 20h0m-143 19h0m318 2h0m35 27h0m20 11h0m-174-2h0m-101 17h0m181 34h0m-167 7h0" stroke="#fafdc8" stroke-width="5.4" stroke-linecap="round" fill="none"/>
<path transform="scale(.25)" d="M1618 191h0m-53-8h0m17 38h0m-125 50h0m-68 11h0m193 40h0m159-7h0m22 110h0m-174 43h0" stroke="#9ccde3" stroke-width="5.4" stroke-linecap="round" fill="none"/>
<path transform="scale(.25)" d="M1608 270h0m17 8h0m34 65h0m85-4h0m24 4h0m-84 19h0m85 14h0m-109 82h0" stroke="#c2e4ef" stroke-width="5.4" stroke-linecap="round" fill="none"/>
<path transform="scale(.25)" d="M1407 262h0m308 7h0m-154 11h0m-37-3h0m51 21h0m59-8h0m66 53h0m17-2h0m65-5h0m9 2h0m-395 15h0m157 10h0m84 17h0m-56-4h0m-100-1h0m250 31h0m-10-6h0m-144 6h0m91 6h0m-45 35h0m-42 17h0m10 23h0m-67 7h0m5 20h0m164 7h0" stroke="#d6eef5" stroke-width="5.4" stroke-linecap="round" fill="none"/>
<path transform="scale(.25)" d="M1620 160h0m30 88h0m83 19h0m-114 19h0m111 61h0m-166 76h0m122 43h0" stroke="#a6d5e7" stroke-width="5.4" stroke-linecap="round" fill="none"/>
<path transform="scale(.25)" d="M1615 370h0m117 22h0m-163 113h0m5 14h0" stroke="#d1ebf4" stroke-width="5.4" stroke-linecap="round" fill="none"/>
<path transform="scale(.25)" d="M1624 226h0m29 8h0m85 75h0m-29-7h0m-84-1h0m-16 11h0m138 20h0m-86 10h0m-31 39h0m28 25h0m-42-6h0m-53 15h0m46 11h0m-93 12h0m46 9h0m56 34h0m15 50h0" stroke="#c1e4ef" stroke-width="5.4" stroke-linecap="round" fill="none"/>
<path transform="scale(.25)" d="M1593 241h0m2 31h0m-209 19h0m254 5h0m-73 6h0m116 27h0m102 14h0m-370 9h0m158 17h0m7 20h0m82 7h0m20 57h0m-46 11h0m81 24h0m-156 12h0" stroke="#b1dceb" stroke-width="5.4" stroke-linecap="round" fill="none"/>
<path transform="scale(.25)" d="M1714 239h0m-69-4h0m-85 16h0m78 1h0m-214 0h0m86 24h0m240 33h0m-106 71h0m51 40h0m35 64h0m-68 30h0" stroke="#bbe1ee" stroke-width="5.4" stroke-linecap="round" fill="none"/>
<path transform="scale(.25)" d="M1509 237h0m69 12h0m41-1h0m-153 26h0m19 20h0m147 25h0m64-1h0m-24 18h0m91 15h0m-356 7h0m78 12h0m208 9h0m-19 36h0m52 14h0m-35 50h0m-97-9h0m-78 49h0m95 12h0" stroke="#ffffbf" stroke-width="5.4" stroke-linecap="round" fill="none"/>
<path transform="scale(.25)" d="M1438 309h0m44 102h0m-17 18h0" stroke="#f98f53" stroke-width="5.4" stroke-linecap="round" fill="none"/>
<path transform="scale(.25)" d="M1372 251h0m142 12h0m20 90h0m4 26h0m-70 18h0m-17 0h0m275 11h0m-231 14h0m-101 40h0m264 57h0" stroke="#feeea6" stroke-width="5.4" stroke-linecap="round" fill="none"/>
<path transform="scale(.25)" d="M1438 250h0m195 25h0m-230 11h0m213 6h0m39 17h0m125 83h0m-289 4h0m186 33h0m-6 39h0m-74 3h0m72 48h0m-26 4h0" stroke="#ebf7e3" stroke-width="5.4" stroke-linecap="round" fill="none"/>
<path transform="scale(.25)" d="M1592 215h0m70 4h0m-109 14h0m205 91h0m-120 9h0m84 74h0m-70 10h0m1 76h0m-2 27h0" stroke="#9bcce2" stroke-width="5.4" stroke-linecap="round" fill="none"/>
<path transform="scale(.25)" d="M1374 427h0m145 5h0m-139 22h0" stroke="#fecc7d" stroke-width="5.4" stroke-linecap="round" fill="none"/>
<path transform="scale(.25)" d="M1650 160h0m-97 71h0m198 105h0m14 20h0m-31-4h0m-11 23h0m0 7h0m-111 92h0m98 20h0" stroke="#a1d1e5" stroke-width="5.4" stroke-linecap="round" fill="none"/>
<path transform="scale(.25)" d="M1445 250h0m-32 16h0m86 20h0m-33 16h0m-27 11h0m18 3h0m132 6h0m89 10h0m36 9h0m-240 9h0m137 62h0m-50 28h0m159 0h0m18 8h0m-285 79h0" stroke="#e9f7e7" stroke-width="5.4" stroke-linecap="round" fill="none"/>
<path transform="scale(.25)" d="M1393 281h0m117 48h0m-78 14h0m-46 37h0m153 35h0m-82 122h0" stroke="#fed283" stroke-width="5.4" stroke-linecap="round" fill="none"/>
<path transform="scale(.25)" d="M1620 245h0m-4 14h0m-245 1h0m38 17h0m121 14h0m-78 28h0m261-7h0m-170 30h0m0-4h0m154 4h0m27 1h0m-296 15h0m-27-1h0m159 3h0m145 34h0m-128 107h0m2 11h0m90 15h0m-71-3h0m16 9h0" stroke="#f0f9db" stroke-width="5.4" stroke-linecap="round" fill="none"/>
<path transform="scale(.25)" d="M1674 318h0m87 62h0" stroke="#ecf8e3" stroke-width="5.4" stroke-linecap="round" fill="none"/>
<path transform="scale(.25)" d="M1361 356h0m144 95h0" stroke="#f7844e" stroke-width="5.4" stroke-linecap="round" fill="none"/>
<path transform="scale(.25)" d="M1568 369h0m-189 16h0" stroke="#dbf0f7" stroke-width="5.4" stroke-linecap="round" fill="none"/>
<path transform="scale(.25)" d="M1668 242h0m-179 77h0m73 169h0" stroke="#fff7b4" stroke-width="5.4" stroke-linecap="round" fill="none"/>
<path transform="scale(.25)" d="M1690 233h0m-26 21h0m-43 4h0m-217 5h0m4 61h0m292 51h0m-32 62h0m39 75h0" stroke="#dff2f8" stroke-width="5.4" stroke-linecap="round" fill="none"/>
<path transform="scale(.25)" d="M1716 263h0m-341 96h0" stroke="#fdfec4" stroke-width="5.4" stroke-linecap="round" fill="none"/>
<path transform="scale(.25)" d="M1643 242h0m-129 14h0m25 8h0m105 10h0m32 6h0m-237 7h0m131 89h0m-20 0h0m152 10h0m-337 22h0m262 2h0m69 21h0m-83 68h0" stroke="#c8e7f1" stroke-width="5.4" stroke-linecap="round" fill="none"/>
<path transform="scale(.25)" d="M1571 189h0m22 57h0m-141 32h0m70 44h0m204 3h0m15 29h0m-55 9h0m-104 87h0m121 63h0" stroke="#b8dfed" stroke-width="5.4" stroke-linecap="round" fill="none"/>
<path transform="scale(.25)" d="M1629 221h0m40-4h0m-40 24h0m-45 75h0m165 20h0m-21 20h0m31 7h0m13 3h0m-22 37h0m-11 34h0" stroke="#92c5de" stroke-width="5.4" stroke-linecap="round" fill="none"/>
<path transform="scale(.25)" d="M1666 226h0m21 15h0m-46 52h0m-53 12h0m33 10h0m56 44h0m13 11h0m-102 5h0m-144 56h0m122 6h0m149 12h0m-32-2h0m39 26h0m-128 28h0m28 17h0" stroke="#cce9f2" stroke-width="5.4" stroke-linecap="round" fill="none"/>
<path transform="scale(.25)" d="M1460 422h0m-86 18h0m82 12h0m15 16h0m-24 4h0m112 16h0" stroke="#fdc072" stroke-width="5.4" stroke-linecap="round" fill="none"/>
<path transform="scale(.25)" d="M1469 412h0" stroke="#f7834d" stroke-width="5.4" stroke-linecap="round" fill="none"/>
<path transform="scale(.25)" d="M1606 153h0m153 106h0m-17 5h0m6 62h0m-85 44h0m28-7h0m-127 34h0m158 30h0" stroke="#acd9e9" stroke-width="5.4" stroke-linecap="round" fill="none"/>
<path transform="scale(.25)" d="M1624 230h0m48 32h0m-31 13h0m-194 8h0m270 28h0m-22 74h0m71 10h0m-136 1h0m-16 10h0m-233 9h0m319 8h0m-95-3h0m21 32h0m-205 3h0m195 50h0m39 8h0" stroke="#e2f4f5" stroke-width="5.4" stroke-linecap="round" fill="none"/>
<path transform="scale(.25)" d="M1392 246h0m247 34h0m-96 3h0m52 27h0m-128 11h0m257 13h0m-35-7h0m-292 14h0m208 0h0m-66 35h0m-103 2h0m44 10h0m98-1h0m19 10h0m-18 48h0m138 20h0m-79 6h0m-178 19h0m119 12h0" stroke="#f7fcce" stroke-width="5.4" stroke-linecap="round" fill="none"/>
<path transform="scale(.25)" d="M1619 152h0m-31 53h0m148 63h0" stroke="#6095c5" stroke-width="5.4" stroke-linecap="round" fill="none"/>
<path transform="scale(.25)" d="M1579 260h0m-174 5h0m165 32h0m-14 10h0m-91 35h0m76 10h0m124 15h0m-56 10h0m-160 16h0m7-8h0m204 25h0m-180 13h0m106 19h0m-127 15h0m54 9h0m-30 4h0m70 22h0" stroke="#fffebd" stroke-width="5.4" stroke-linecap="round" fill="none"/>
<path transform="scale(.25)" d="M1647 240h0m14 7h0m-206 26h0m220 1h0m18 19h0m66 12h0m-214 11h0m220-1h0m-170 28h0m-4 10h0m-136 10h0m236 14h0m-49 9h0m-69 69h0m141 22h0m-106 33h0m60 4h0" stroke="#def2f7" stroke-width="5.4" stroke-linecap="round" fill="none"/>
<path transform="scale(.25)" d="M1651 159h0m-64 6h0m69 11h0m-78 25h0m26 20h0m-143 39h0m39 21h0m270 25h0m-53 155h0m-63 35h0m39 23h0" stroke="#a0d0e4" stroke-width="5.4" stroke-linecap="round" fill="none"/>
<path transform="scale(.25)" d="M1435 250h0m-16 39h0m21 47h0m190 10h0m-194 15h0m3 4h0m55-3h0m-44 23h0m131 20h0m-159 1h0m-16 83h0m183 43h0" stroke="#feeca2" stroke-width="5.4" stroke-linecap="round" fill="none"/>
<path transform="scale(.25)" d="M1617 177h0m55 33h0m-154 149h0m88 19h0m138 17h0" stroke="#76afd2" stroke-width="5.4" stroke-linecap="round" fill="none"/>
<path transform="scale(.25)" d="M1554 262h0m-165 11h0m121 18h0m204 16h0m-324-7h0m166 15h0m109 21h0m-74 126h0m-168 31h0" stroke="#f8fccb" stroke-width="5.4" stroke-linecap="round" fill="none"/>
<path transform="scale(.25)" d="M1385 231h0m193 11h0m-184 34h0m242 59h0m74 33h0m-82 8h0m135 8h0m-37 18h0m-113-5h0m118 30h0m27 7h0m-68 59h0m-124 3h0" stroke="#abd9e9" stroke-width="5.4" stroke-linecap="round" fill="none"/>
<path transform="scale(.25)" d="M1445 247h0m74 11h0m83 23h0m-79 83h0m27 20h0m-161 46h0m164 67h0m-115 9h0m6 7h0" stroke="#feda8a" stroke-width="5.4" stroke-linecap="round" fill="none"/>
<path transform="scale(.25)" d="M1635 150h0m-57 47h0m-29 15h0m53 12h0m-207 45h0m177 34h0m131 73h0m26 12h0m20 7h0m-33 31h0" stroke="#9fcfe4" stroke-width="5.4" stroke-linecap="round" fill="none"/>
<path transform="scale(.25)" d="M1721 336h0" stroke="#6499c7" stroke-width="5.4" stroke-linecap="round" fill="none"/>
<path transform="scale(.25)" d="M1591 182h0m116 51h0m42 19h0m-146 7h0m-35-2h0m-143 0h0m213 19h0m-15 155h0m6 32h0" stroke="#b2dceb" stroke-width="5.4" stroke-linecap="round" fill="none"/>
<path transform="scale(.25)" d="M1385 249h0m283 16h0m-204 16h0m27 11h0m180-3h0m-287 24h0m309 14h0m-187 3h0m-70 11h0m295 16h0m-305 7h0m114 9h0m-136 40h0" stroke="#fff8b4" stroke-width="5.4" stroke-linecap="round" fill="none"/>
<path transform="scale(.25)" d="M1512 329h0m2 49h0m-56 25h0m44 7h0m25 99h0m-13 10h0" stroke="#fedb8b" stroke-width="5.4" stroke-linecap="round" fill="none"/>
<path transform="scale(.25)" d="M1610 446h0" stroke="#f8fccd" stroke-width="5.4" stroke-linecap="round" fill="none"/>
<path transform="scale(.25)" d="M1706 237h0m-121 8h0m90-5h0m49 12h0m-55 9h0m-304 10h0m162-6h0m156 9h0m-13 14h0m-111 18h0m89 27h0m-68-6h0m182 84h0m-103 22h0m71 29h0m-94 8h0m-73 30h0" stroke="#cdeaf3" stroke-width="5.4" stroke-linecap="round" fill="none"/>
<path transform="scale(.25)" d="M1584 239h0m106 19h0m-124-5h0m-136 96h0m148 21h0m71 2h0m-62 42h0m100-5h0m-19 75h0" stroke="#dbf1f7" stroke-width="5.4" stroke-linecap="round" fill="none"/>
<path transform="scale(.25)" d="M1406 223h0m149 38h0m149 96h0m-24 28h0m-220 113h0" stroke="#feefa6" stroke-width="5.4" stroke-linecap="round" fill="none"/>
<path transform="scale(.25)" d="M1649 164h0m-21 3h0m-171 86h0m-3 9h0m16 8h0m290-2h0m-85 30h0m40 5h0m-208 1h0m278 54h0m-61 16h0m44 43h0m-12 3h0m-115 47h0m-5 18h0m84 6h0m-17 9h0m-30 21h0m-74 8h0m50 5h0" stroke="#a7d6e7" stroke-width="5.4" stroke-linecap="round" fill="none"/>
<path transform="scale(.25)" d="M1706 231h0m-215 18h0m169 1h0m-254 24h0m133 39h0m56 9h0m-38 2h0m-179 16h0m170 2h0m140 4h0m-193 28h0m-115 15h0m166-5h0m-155 34h0m343 13h0m-311-11h0m-7 9h0m-58-7h0m78 48h0m-5 32h0m211 2h0m-39 14h0m-12 7h0" stroke="#fffbb9" stroke-width="5.4" stroke-linecap="round" fill="none"/>
<path transform="scale(.25)" d="M1488 245h0m202 10h0m-204 22h0m-99 11h0m166 0h0m-70 19h0m-21-3h0m-45 11h0m-25 35h0m191 27h0m58 17h0m-143 18h0m160 4h0m-134 17h0m102 0h0m-249 54h0" stroke="#fff1aa" stroke-width="5.4" stroke-linecap="round" fill="none"/>
<path transform="scale(.25)" d="M1618 179h0m-19 28h0m-197 20h0m162 2h0m36 16h0m-130 72h0m292 85h0m-157 86h0m126-8h0m-102 23h0" stroke="#a3d3e6" stroke-width="5.4" stroke-linecap="round" fill="none"/>
<path transform="scale(.25)" d="M1524 258h0m-161 16h0m193 11h0m-44 4h0m144 21h0m-240-6h0m-6 26h0m17 64h0m120 8h0m-182 33h0m261 16h0m-61 13h0m75 0h0m-233 25h0m153 22h0m-90 12h0m142 17h0" stroke="#fff3ad" stroke-width="5.4" stroke-linecap="round" fill="none"/>
<path transform="scale(.25)" d="M1693 227h0m25 67h0" stroke="#77b0d2" stroke-width="5.4" stroke-linecap="round" fill="none"/>
<path transform="scale(.25)" d="M1425 235h0m98 21h0m-76 25h0m228 25h0m-282 3h0m162 7h0m71 1h0m112-4h0m34 2h0m-343 32h0m311-7h0m-7 8h0m-289 52h0m-57 24h0m363 12h0m-168 11h0m73 32h0m-44 6h0m6-3h0" stroke="#c0e3ef" stroke-width="5.4" stroke-linecap="round" fill="none"/>
<path transform="scale(.25)" d="M1528 258h0m-76 24h0m149 14h0m51 9h0m-272 29h0m289 22h0m24 13h0m4 8h0m17 10h0m-50 27h0m-21 31h0m-20 15h0m83 39h0" stroke="#e6f5ed" stroke-width="5.4" stroke-linecap="round" fill="none"/>
<path transform="scale(.25)" d="M1460 368h0m-54 12h0m119 34h0m-71 6h0m4 55h0m-33 44h0" stroke="#feca7b" stroke-width="5.4" stroke-linecap="round" fill="none"/>
<path transform="scale(.25)" d="M1638 175h0m36 87h0m-77-4h0m128 72h0m-102 3h0m16 89h0m26 13h0" stroke="#9acce2" stroke-width="5.4" stroke-linecap="round" fill="none"/>
<path transform="scale(.25)" d="M1564 270h0m-75 24h0m168 4h0m-41 23h0m5 35h0m-89 0h0m-16-6h0m35 26h0m-144-4h0m114 23h0m68 2h0m-77 15h0m97 17h0m-210 17h0m180 16h0m50 15h0m-232 3h0m47 12h0" stroke="#fcfec4" stroke-width="5.4" stroke-linecap="round" fill="none"/>
<path transform="scale(.25)" d="M1378 407h0m210 1h0m91 62h0m11 19h0" stroke="#e1f4f5" stroke-width="5.4" stroke-linecap="round" fill="none"/>
<path transform="scale(.25)" d="M1408 227h0m148-1h0m-130 25h0m242 39h0m-149 33h0m-25 17h0m210 37h0" stroke="#d9eff6" stroke-width="5.4" stroke-linecap="round" fill="none"/>
<path transform="scale(.25)" d="M1569 168h0m67 47h0m-233 52h0m191 22h0m109 30h0m7 21h0m-56 34h0m74 81h0m-159 31h0" stroke="#9ccde2" stroke-width="5.4" stroke-linecap="round" fill="none"/>
<path transform="scale(.25)" d="M1733 261h0m-51 40h0m43 15h0m-220 45h0m127 0h0m-227 19h0m248 32h0m91 13h0m-121 14h0m27-3h0m36 6h0" stroke="#d5eef5" stroke-width="5.4" stroke-linecap="round" fill="none"/>
<path transform="scale(.25)" d="M1414 418h0m105-3h0m-70 53h0" stroke="#fdab60" stroke-width="5.4" stroke-linecap="round" fill="none"/>
<path transform="scale(.25)" d="M1684 264h0m-287 17h0m282 7h0m-5 30h0m-208 13h0m-90 16h0m301-5h0m27 158h0m-82 8h0m26 2h0m32 1h0m-244 32h0" stroke="#e9f6e8" stroke-width="5.4" stroke-linecap="round" fill="none"/>
<path transform="scale(.25)" d="M1484 273h0m59 129h0m-98 50h0" stroke="#fec97b" stroke-width="5.4" stroke-linecap="round" fill="none"/>
<path transform="scale(.25)" d="M1437 240h0m218 70h0m74 38h0m-46 8h0m-42 58h0" stroke="#b6dfec" stroke-width="5.4" stroke-linecap="round" fill="none"/>
<path transform="scale(.25)" d="M1415 310h0m-40-3h0m269 58h0m-10 17h0m-139 104h0" stroke="#fee79a" stroke-width="5.4" stroke-linecap="round" fill="none"/>
<path transform="scale(.25)" d="M1458 408h0" stroke="#f3fad4" stroke-width="5.4" stroke-linecap="round" fill="none"/>
<path transform="scale(.25)" d="M1692 283h0m79 11h0m1-5h0m-4 22h0" stroke="#7db4d5" stroke-width="5.4" stroke-linecap="round" fill="none"/>
<path transform="scale(.25)" d="M1462 286h0m-83 172h0m71 76h0" stroke="#fca95f" stroke-width="5.4" stroke-linecap="round" fill="none"/>
<path transform="scale(.25)" d="M1461 262h0m88 66h0m119 148h0m-43 31h0" stroke="#e7f6ea" stroke-width="5.4" stroke-linecap="round" fill="none"/>
<path transform="scale(.25)" d="M1391 249h0m242 1h0m-38 2h0m42 43h0m56 39h0m31 44h0m-207 50h0m225 4h0m-86 15h0m62 36h0m-167 25h0m29 6h0m106 12h0" stroke="#ceeaf3" stroke-width="5.4" stroke-linecap="round" fill="none"/>
<path transform="scale(.25)" d="M1368 322h0m159 132h0m-91 84h0" stroke="#fdb568" stroke-width="5.4" stroke-linecap="round" fill="none"/>
<path transform="scale(.25)" d="M1545 378h0" stroke="#e85337" stroke-width="5.4" stroke-linecap="round" fill="none"/>
<path transform="scale(.25)" d="M1753 399h0" stroke="#82b9d7" stroke-width="5.4" stroke-linecap="round" fill="none"/>
<path transform="scale(.25)" d="M1534 270h0m-68 23h0m12 3h0m197 15h0m-229 6h0m175 87h0m-67 0h0m111 6h0m-302 40h0m62 40h0" stroke="#feeda4" stroke-width="5.4" stroke-linecap="round" fill="none"/>
<path transform="scale(.25)" d="M1552 234h0m-73 9h0m164 46h0m-102 23h0m-137 31h0m168 12h0m-195 7h0m48 59h0m225 34h0m-268-9h0m135 10h0m19 37h0m-130 8h0m-29 0h0m163 19h0" stroke="#fffcbb" stroke-width="5.4" stroke-linecap="round" fill="none"/>
<path transform="scale(.25)" d="M1394 228h0m275 35h0m-10-3h0m-240 42h0m49 20h0m203-1h0m88 43h0m18 13h0m-182-1h0m173 11h0m-401 11h0m355 52h0m-34 50h0" stroke="#d2ecf4" stroke-width="5.4" stroke-linecap="round" fill="none"/>
<path transform="scale(.25)" d="M1488 357h0m-70 98h0m111 70h0" stroke="#fdba6d" stroke-width="5.4" stroke-linecap="round" fill="none"/>
<path transform="scale(.25)" d="M1428 245h0m112 1h0m-79 53h0m5 17h0m50 54h0" stroke="#f1f9da" stroke-width="5.4" stroke-linecap="round" fill="none"/>
<path transform="scale(.25)" d="M1648 185h0m-57 20h0m198 128h0" stroke="#6aa1cb" stroke-width="5.4" stroke-linecap="round" fill="none"/>
<path transform="scale(.25)" d="M1428 322h0m85 36h0m23 9h0m-23 87h0m-129-1h0" stroke="#fed383" stroke-width="5.4" stroke-linecap="round" fill="none"/>
<path transform="scale(.25)" d="M1596 146h0m71 149h0m-232 16h0m307 2h0m-23 51h0m-26 38h0m74 6h0m-83 61h0" stroke="#b5deec" stroke-width="5.4" stroke-linecap="round" fill="none"/>
<path transform="scale(.25)" d="M1471 444h0" stroke="#e95639" stroke-width="5.4" stroke-linecap="round" fill="none"/>
<path transform="scale(.25)" d="M1638 289h0m105 23h0m-21 60h0m-28 27h0" stroke="#b4deec" stroke-width="5.4" stroke-linecap="round" fill="none"/>
<path transform="scale(.25)" d="M1605 220h0m-23 38h0m96 11h0m0 108h0m-112 47h0m52 95h0m45 9h0" stroke="#e1f3f7" stroke-width="5.4" stroke-linecap="round" fill="none"/>
<path transform="scale(.25)" d="M1538 342h0m15 4h0m-92 30h0" stroke="#fca85e" stroke-width="5.4" stroke-linecap="round" fill="none"/>
<path transform="scale(.25)" d="M1532 237h0m29 9h0m49 32h0m-125 41h0m96 15h0m-157 5h0m174 41h0m-197-3h0m50 9h0m197 38h0m-43 1h0m8 48h0m-204 21h0m266 28h0m-60 2h0m-13 4h0" stroke="#f2fad7" stroke-width="5.4" stroke-linecap="round" fill="none"/>
<path transform="scale(.25)" d="M1430 234h0m-31 81h0m149 12h0m59 20h0m-90 5h0m-125 0h0m200 23h0m-114 24h0m36 11h0m103 46h0m-205 49h0m113 16h0" stroke="#fee99e" stroke-width="5.4" stroke-linecap="round" fill="none"/>
<path transform="scale(.25)" d="M1414 279h0m-22 43h0m381 11h0m-110 169h0" stroke="#8cc0db" stroke-width="5.4" stroke-linecap="round" fill="none"/>
<path transform="scale(.25)" d="M1556 241h0m-157 101h0m125 26h0m48-1h0m-205 65h0m294 2h0" stroke="#f2fad8" stroke-width="5.4" stroke-linecap="round" fill="none"/>
<path transform="scale(.25)" d="M1591 236h0m70 11h0m-34 30h0m-265 23h0m83 21h0m98 22h0m126 5h0m-118 28h0m97 54h0m-147 20h0m58 27h0m-33 9h0m-112 21h0m-7 20h0" stroke="#fffab7" stroke-width="5.4" stroke-linecap="round" fill="none"/>
<path transform="scale(.25)" d="M1475 456h0" stroke="#fa9958" stroke-width="5.4" stroke-linecap="round" fill="none"/>
<path transform="scale(.25)" d="M1573 189h0m108 53h0m-266 29h0m128 8h0m163 33h0m69 10h0m-410 23h0m242 0h0m35 11h0m115 7h0m-59 32h0m36-2h0m-92 56h0m42 10h0m-73 54h0" stroke="#b3ddeb" stroke-width="5.4" stroke-linecap="round" fill="none"/>
<path transform="scale(.25)" d="M1525 393h0" stroke="#7db5d5" stroke-width="5.4" stroke-linecap="round" fill="none"/>
<path transform="scale(.25)" d="M1609 178h0m116 148h0m-7 11h0m-276 54h0m261 60h0" stroke="#d4edf4" stroke-width="5.4" stroke-linecap="round" fill="none"/>
<path transform="scale(.25)" d="M1604 154h0m10 29h0m-142 115h0m266 14h0m-334 70h0m330 71h0m-41 65h0" stroke="#8fc2dd" stroke-width="5.4" stroke-linecap="round" fill="none"/>
<path transform="scale(.25)" d="M1543 246h0m61 79h0m-169 58h0m237 2h0m17 123h0" stroke="#fbfdc6" stroke-width="5.4" stroke-linecap="round" fill="none"/>
<path transform="scale(.25)" d="M1557 401h0" stroke="#fdc677" stroke-width="5.4" stroke-linecap="round" fill="none"/>
<path transform="scale(.25)" d="M1595 144h0m-6 14h0m162 148h0m2 20h0m-59 2h0m-127 23h0m152 19h0m44-1h0m-147 62h0" stroke="#99cbe1" stroke-width="5.4" stroke-linecap="round" fill="none"/>
<path transform="scale(.25)" d="M1641 206h0" stroke="#73acd0" stroke-width="5.4" stroke-linecap="round" fill="none"/>
<path transform="scale(.25)" d="M1578 236h0m24 37h0m66 2h0m39 9h0m-142-3h0m-96 7h0m230 7h0m-104 10h0m-124-1h0m186 14h0m29 101h0m-14 1h0m-38 17h0m57 18h0m-74-10h0m-3 28h0m-172 27h0m56 7h0" stroke="#e3f4f2" stroke-width="5.4" stroke-linecap="round" fill="none"/>
<path transform="scale(.25)" d="M1615 187h0m82 87h0m-128 22h0m110 14h0m36 22h0m-25 0h0m10 34h0m28 2h0m10-8h0m-15 63h0m-68 27h0m9 25h0m-74-2h0m21 13h0m-4 23h0" stroke="#cbe9f2" stroke-width="5.4" stroke-linecap="round" fill="none"/>
<path transform="scale(.25)" d="M1718 251h0m-90 88h0m101 20h0m23 3h0m-23 36h0" stroke="#aedbea" stroke-width="5.4" stroke-linecap="round" fill="none"/>
<path transform="scale(.25)" d="M1496 244h0m90 0h0m-96 19h0m21 12h0m184-5h0m-139 10h0m90 27h0m-85 9h0m145-4h0m3 8h0m-151 7h0m169 10h0m36 86h0m-100 19h0m-42 20h0m97 0h0m-225 37h0m-95 3h0m304 4h0" stroke="#e1f3f6" stroke-width="5.4" stroke-linecap="round" fill="none"/>
<path transform="scale(.25)" d="M1639 190h0m-45 13h0m28 17h0m-242 22h0m245 48h0m122 11h0m-115 96h0m49 46h0" stroke="#8fc3dd" stroke-width="5.4" stroke-linecap="round" fill="none"/>
<path transform="scale(.25)" d="M1385 328h0m150 34h0m-137 32h0m-32 5h0m142 53h0" stroke="#fed888" stroke-width="5.4" stroke-linecap="round" fill="none"/>
<path transform="scale(.25)" d="M1673 209h0m-69 145h0m123 20h0m25 64h0" stroke="#78b0d3" stroke-width="5.4" stroke-linecap="round" fill="none"/>
<path transform="scale(.25)" d="M1554 252h0m93 31h0m-197-5h0m-1 0h0m-34 27h0m54 25h0m81 42h0m-22 19h0m137 2h0m-142 3h0m-69 7h0m-75 61h0m35 22h0m113 16h0" stroke="#fee090" stroke-width="5.4" stroke-linecap="round" fill="none"/>
<path transform="scale(.25)" d="M1571 205h0m-26 20h0m129 17h0m85 53h0m-22 10h0m12 11h0m-105 20h0m100 78h0m-133 40h0" stroke="#a8d7e8" stroke-width="5.4" stroke-linecap="round" fill="none"/>
<path transform="scale(.25)" d="M1572 233h0m164 88h0m-147 7h0m133 16h0m18-2h0m10 0h0m-45 60h0m-59 11h0m-127 42h0m147 1h0" stroke="#c3e5f0" stroke-width="5.4" stroke-linecap="round" fill="none"/>
<path transform="scale(.25)" d="M1664 202h0m-1 23h0m-264 80h0m350 13h0m-4 51h0m13 37h0m-90 75h0" stroke="#8bc0db" stroke-width="5.4" stroke-linecap="round" fill="none"/>
<path transform="scale(.25)" d="M1659 223h0m-56 31h0m149 75h0m-44 76h0m-68 20h0m-46 47h0" stroke="#8ec2dc" stroke-width="5.4" stroke-linecap="round" fill="none"/>
<path transform="scale(.25)" d="M1591 169h0" stroke="#75aed2" stroke-width="5.4" stroke-linecap="round" fill="none"/>
<path transform="scale(.25)" d="M1593 228h0m197 129h0" stroke="#5d91c3" stroke-width="5.4" stroke-linecap="round" fill="none"/>
<path transform="scale(.25)" d="M1542 221h0m31 112h0m-58 102h0m-136 43h0" stroke="#fed787" stroke-width="5.4" stroke-linecap="round" fill="none"/>
<path transform="scale(.25)" d="M1558 232h0m-131 5h0m242 3h0m-204 17h0m161 38h0m125 10h0m-2 3h0m-385 8h0m367 17h0m-250-4h0m88 28h0m-46 10h0m167 4h0m13 0h0m-187 17h0m167 1h0m29 0h0m-75 11h0m93 21h0m-83 36h0m18 46h0m-188 12h0m104-4h0m64 16h0m-197-9h0" stroke="#edf8e0" stroke-width="5.4" stroke-linecap="round" fill="none"/>
<path transform="scale(.25)" d="M1522 395h0m-37 125h0m-14 13h0m35-5h0" stroke="#fdae61" stroke-width="5.4" stroke-linecap="round" fill="none"/>
<path transform="scale(.25)" d="M1568 177h0m35 6h0m100 48h0m-48 60h0m27 23h0m81 9h0m-51 29h0m-2 57h0m60 10h0m-205 44h0m144 13h0m-87 31h0" stroke="#a8d6e8" stroke-width="5.4" stroke-linecap="round" fill="none"/>
<path transform="scale(.25)" d="M1602 194h0m5 146h0m20 121h0" stroke="#a2d1e5" stroke-width="5.4" stroke-linecap="round" fill="none"/>
<path transform="scale(.25)" d="M1479 440h0" stroke="#f8864f" stroke-width="5.4" stroke-linecap="round" fill="none"/>
<path transform="scale(.25)" d="M1677 244h0m-194 36h0m55 22h0m-166 0h0m273 28h0m-111 23h0m-149 11h0m24 2h0m46-6h0m163 42h0m-194 23h0m0 22h0m73 40h0m130-1h0m-108 24h0m-88 26h0" stroke="#feefa7" stroke-width="5.4" stroke-linecap="round" fill="none"/>
<path transform="scale(.25)" d="M1538 276h0m32 12h0m-171 85h0m8 75h0m190 23h0m-168 21h0" stroke="#fff7b2" stroke-width="5.4" stroke-linecap="round" fill="none"/>
<path transform="scale(.25)" d="M1504 326h0m15 44h0m88 15h0m-128 27h0m-103 18h0m181 19h0m-186 26h0m72 47h0" stroke="#fee69a" stroke-width="5.4" stroke-linecap="round" fill="none"/>
<path transform="scale(.25)" d="M1386 257h0m116 120h0m-95 135h0" stroke="#fec87a" stroke-width="5.4" stroke-linecap="round" fill="none"/>
<path transform="scale(.25)" d="M1413 419h0m81 11h0m-84-1h0m129 49h0m-95 47h0" stroke="#fedb8c" stroke-width="5.4" stroke-linecap="round" fill="none"/>
<path transform="scale(.25)" d="M1476 276h0m138 42h0m-24 13h0m-123 6h0m58 39h0m-21 2h0m-120 33h0m4 1h0m124 4h0m140 12h0m-138 12h0m19 25h0m45 2h0m-151 20h0m73 1h0m10 19h0m-17 20h0m-57 6h0" stroke="#fff4ae" stroke-width="5.4" stroke-linecap="round" fill="none"/>
<path transform="scale(.25)" d="M1511 246h0m35 14h0m-161 14h0m120 27h0m-43 12h0m21 8h0m-101 44h0m196 18h0m-139 130h0" stroke="#fff5af" stroke-width="5.4" stroke-linecap="round" fill="none"/>
<path transform="scale(.25)" d="M1538 239h0m141 49h0m-120 70h0m-88 76h0m39 38h0" stroke="#fedf8f" stroke-width="5.4" stroke-linecap="round" fill="none"/>
<path transform="scale(.25)" d="M1662 196h0m47 134h0m-19 84h0m-35 36h0" stroke="#80b6d6" stroke-width="5.4" stroke-linecap="round" fill="none"/>
<path transform="scale(.25)" d="M1549 213h0m218 98h0m18 32h0m-80 106h0" stroke="#80b7d6" stroke-width="5.4" stroke-linecap="round" fill="none"/>
<path transform="scale(.25)" d="M1480 286h0m124 21h0m-77 3h0m-64 54h0m162 64h0m-269 6h0" stroke="#f2fad6" stroke-width="5.4" stroke-linecap="round" fill="none"/>
<path transform="scale(.25)" d="M1437 239h0m-55 35h0m139-9h0m-1 67h0m-91 56h0m8-4h0m38 6h0m-67 27h0m104-8h0m-30 18h0m-103 15h0m16-3h0" stroke="#fee293" stroke-width="5.4" stroke-linecap="round" fill="none"/>
<path transform="scale(.25)" d="M1397 286h0" stroke="#fee292" stroke-width="5.4" stroke-linecap="round" fill="none"/>
<path transform="scale(.25)" d="M1392 225h0m115 61h0m-101 83h0m-12 15h0m354 27h0m-330 57h0" stroke="#ffffc0" stroke-width="5.4" stroke-linecap="round" fill="none"/>
<path transform="scale(.25)" d="M1486 434h0" stroke="#fa9756" stroke-width="5.4" stroke-linecap="round" fill="none"/>
<path transform="scale(.25)" d="M1574 165h0m84 59h0m-42 32h0m111 175h0m-60 87h0" stroke="#69a0ca" stroke-width="5.4" stroke-linecap="round" fill="none"/>
<path transform="scale(.25)" d="M1610 282h0m94 23h0m-330 34h0m222 10h0m155 31h0m-101 42h0" stroke="#b6deec" stroke-width="5.4" stroke-linecap="round" fill="none"/>
<path transform="scale(.25)" d="M1587 155h0m-208 123h0m161 58h0m55 11h0m137 7h0m-310 5h0m283 41h0m-60 5h0m85 44h0" stroke="#acdae9" stroke-width="5.4" stroke-linecap="round" fill="none"/>
<path transform="scale(.25)" d="M1581 192h0m53 5h0m53 31h0m-189 9h0m240 25h0m7 63h0m16 78h0" stroke="#8cc0dc" stroke-width="5.4" stroke-linecap="round" fill="none"/>
<path transform="scale(.25)" d="M1624 153h0m39 65h0m62 67h0m43 8h0m-133 39h0m-3 33h0m-266 97h0" stroke="#8abfdb" stroke-width="5.4" stroke-linecap="round" fill="none"/>
<path transform="scale(.25)" d="M1489 243h0m134 5h0m-177 50h0m-30 17h0m204 62h0m-225 6h0m-30 67h0m4 20h0m99 19h0" stroke="#fee99d" stroke-width="5.4" stroke-linecap="round" fill="none"/>
<path transform="scale(.25)" d="M1419 309h0m92 5h0m-17 77h0m-22 124h0" stroke="#fee294" stroke-width="5.4" stroke-linecap="round" fill="none"/>
<path transform="scale(.25)" d="M1596 163h0m16 65h0m-102 9h0m100 22h0m-186 12h0m-49 61h0m189 11h0m-185 39h0m203 13h0m48-5h0m-248 7h0m269 11h0m95 47h0m-208 23h0" stroke="#bfe3ef" stroke-width="5.4" stroke-linecap="round" fill="none"/>
<path transform="scale(.25)" d="M1390 304h0m370 80h0m-154 27h0m102 46h0" stroke="#e8f6e8" stroke-width="5.4" stroke-linecap="round" fill="none"/>
<path transform="scale(.25)" d="M1728 236h0m-104 10h0m-48 55h0m-34 14h0m-75 17h0m301 49h0m-353 29h0m278 8h0m-184 2h0m105 24h0m55 28h0" stroke="#ddf2f7" stroke-width="5.4" stroke-linecap="round" fill="none"/>
<path transform="scale(.25)" d="M1584 246h0m89 5h0m45 24h0m-268 133h0m110 83h0m67-9h0" stroke="#f7fccd" stroke-width="5.4" stroke-linecap="round" fill="none"/>
<path transform="scale(.25)" d="M1616 173h0m-16 12h0m113 68h0" stroke="#689fca" stroke-width="5.4" stroke-linecap="round" fill="none"/>
<path transform="scale(.25)" d="M1570 218h0m-107 27h0m270 16h0m-35 1h0m-173 16h0m-53 28h0m-99 17h0m163 1h0m155 57h0m-66-8h0m-241 34h0" stroke="#d7eff6" stroke-width="5.4" stroke-linecap="round" fill="none"/>
<path transform="scale(.25)" d="M1653 185h0" stroke="#6399c7" stroke-width="5.4" stroke-linecap="round" fill="none"/>
<path transform="scale(.25)" d="M1583 169h0m-27 37h0m-46 36h0m264 131h0m-158 50h0" stroke="#86bbd9" stroke-width="5.4" stroke-linecap="round" fill="none"/>
<path transform="scale(.25)" d="M1602 169h0m-57 48h0m37 71h0m-65 27h0m14 1h0m-103 23h0m182 19h0m-169-9h0m18 21h0m157 92h0m14 21h0m7 27h0" stroke="#c6e6f1" stroke-width="5.4" stroke-linecap="round" fill="none"/>
<path transform="scale(.25)" d="M1635 151h0m-24 20h0m21 8h0m56 90h0m-125 39h0m12 50h0m37 52h0" stroke="#90c4dd" stroke-width="5.4" stroke-linecap="round" fill="none"/>
<path transform="scale(.25)" d="M1588 227h0m179 42h0m-78 17h0m-268 15h0m-59 19h0m166-4h0m112-2h0m15 10h0m-210 20h0m73-8h0m184 13h0m-107 54h0m33 14h0m115 4h0m-131 10h0m-50-8h0m56 25h0m-15 0h0m33 17h0m84 27h0m-100 5h0m-42 6h0m12 15h0" stroke="#e5f5ef" stroke-width="5.4" stroke-linecap="round" fill="none"/>
<path transform="scale(.25)" d="M1400 382h0m-11 10h0m111 48h0m-33 12h0m-9 38h0m10-3h0m23-7h0m132 34h0m-199 24h0m69-8h0" stroke="#fdbf71" stroke-width="5.4" stroke-linecap="round" fill="none"/>
<path transform="scale(.25)" d="M1479 404h0m71 42h0" stroke="#f88c51" stroke-width="5.4" stroke-linecap="round" fill="none"/>
<path transform="scale(.25)" d="M1612 243h0m-218 43h0m266 58h0m77 3h0m-146 18h0m46 1h0m-30 42h0m-78 34h0m119 2h0" stroke="#a4d3e6" stroke-width="5.4" stroke-linecap="round" fill="none"/>
<path transform="scale(.25)" d="M1402 498h0" stroke="#fdba6c" stroke-width="5.4" stroke-linecap="round" fill="none"/>
<path transform="scale(.25)" d="M1621 257h0m-195 57h0m23 6h0m-55 27h0m86 9h0m-24-5h0m5 27h0m39 28h0m-58 19h0m-25 7h0m259 3h0m8-2h0m-165 22h0m-91-7h0m0 4h0m218 47h0" stroke="#fff0a8" stroke-width="5.4" stroke-linecap="round" fill="none"/>
<path transform="scale(.25)" d="M1593 174h0m55 32h0m-92 43h0m19 44h0m102 10h0m59 30h0m-108 46h0m140 28h0m-122-1h0m-43 3h0m-9 54h0m31 34h0m-155 0h0m223 20h0" stroke="#c4e5f0" stroke-width="5.4" stroke-linecap="round" fill="none"/>
<path transform="scale(.25)" d="M1526 340h0m-115 46h0m55 3h0m-6 19h0m-58 24h0m76 22h0m-61 18h0m-27 3h0m32 49h0" stroke="#fdc375" stroke-width="5.4" stroke-linecap="round" fill="none"/>
<path transform="scale(.25)" d="M1547 386h0" stroke="#fed585" stroke-width="5.4" stroke-linecap="round" fill="none"/>
<path transform="scale(.25)" d="M1711 255h0m-284 3h0m322 126h0m-123 37h0m-50 83h0" stroke="#b4ddec" stroke-width="5.4" stroke-linecap="round" fill="none"/>
<path transform="scale(.25)" d="M1503 386h0m38 10h0" stroke="#f7824d" stroke-width="5.4" stroke-linecap="round" fill="none"/>
<path transform="scale(.25)" d="M1700 239h0m29 12h0m-64 15h0m-94 56h0m54 8h0m145 85h0m-48 33h0m-169 47h0m136 13h0m-66 10h0" stroke="#bee2ee" stroke-width="5.4" stroke-linecap="round" fill="none"/>
<path transform="scale(.25)" d="M1589 147h0m-9 79h0m182 189h0m-173 7h0m135 18h0" stroke="#88bdda" stroke-width="5.4" stroke-linecap="round" fill="none"/>
<path transform="scale(.25)" d="M1533 292h0m46 74h0m68 8h0m-9 57h0m-71-9h0m74 72h0m-51 4h0" stroke="#b0dbea" stroke-width="5.4" stroke-linecap="round" fill="none"/>
<path transform="scale(.25)" d="M1478 434h0" stroke="#f57245" stroke-width="5.4" stroke-linecap="round" fill="none"/>
<path transform="scale(.25)" d="M1380 300h0m392 15h0m-140 103h0m28 76h0" stroke="#91c4de" stroke-width="5.4" stroke-linecap="round" fill="none"/>
<path transform="scale(.25)" d="M1540 239h0m42 9h0m83 30h0m80 62h0m-388 28h0m290 30h0m-76 1h0m59 30h0m51 50h0m-97 0h0m28 11h0m21 25h0m14 25h0" stroke="#cfebf3" stroke-width="5.4" stroke-linecap="round" fill="none"/>
<path transform="scale(.25)" d="M1392 232h0m187 19h0m48 2h0m-107 3h0m198 46h0m-112 13h0m5 65h0m-50 1h0m189 15h0m-40 2h0m-116 19h0m52-4h0m90 34h0" stroke="#c2e4f0" stroke-width="5.4" stroke-linecap="round" fill="none"/>
<path transform="scale(.25)" d="M1671 236h0m-97 20h0m-118-4h0m7 37h0m-17 17h0m125 44h0m10 69h0m69 21h0m-79 23h0m-45 51h0m66-7h0" stroke="#ecf8e2" stroke-width="5.4" stroke-linecap="round" fill="none"/>
<path transform="scale(.25)" d="M1610 143h0m32 95h0m-184 33h0m-34 28h0m173-11h0m-93 13h0m261 38h0m-154 21h0m-207 37h0m190 30h0m-23 29h0m5 37h0m-164 30h0" stroke="#f4fbd4" stroke-width="5.4" stroke-linecap="round" fill="none"/>
<path transform="scale(.25)" d="M1568 196h0m109 314h0" stroke="#89bdda" stroke-width="5.4" stroke-linecap="round" fill="none"/>
<path transform="scale(.25)" d="M1499 415h0m-38 11h0m-34 25h0" stroke="#fba15b" stroke-width="5.4" stroke-linecap="round" fill="none"/>
<path transform="scale(.25)" d="M1634 270h0m44 30h0m-145 1h0m134 123h0m-19 40h0" stroke="#e0f3f7" stroke-width="5.4" stroke-linecap="round" fill="none"/>
<path transform="scale(.25)" d="M1628 160h0m-39 173h0m129 96h0" stroke="#91c5de" stroke-width="5.4" stroke-linecap="round" fill="none"/>
<path transform="scale(.25)" d="M1578 229h0m149 24h0m-197 0h0m-97 61h0m147 179h0m-20 27h0" stroke="#93c6df" stroke-width="5.4" stroke-linecap="round" fill="none"/>
<path transform="scale(.25)" d="M1630 151h0m-111 84h0m-136 1h0m275 69h0m-224 7h0m34 52h0m44 2h0m37 1h0m-35 56h0m200 60h0m-157 13h0m-106 24h0" stroke="#feffc1" stroke-width="5.4" stroke-linecap="round" fill="none"/>
<path transform="scale(.25)" d="M1364 303h0m26 150h0m76 38h0m-42 40h0" stroke="#feda8b" stroke-width="5.4" stroke-linecap="round" fill="none"/>
<path transform="scale(.25)" d="M1654 182h0m-44 11h0m9 13h0m-55 5h0m84 202h0m55 74h0" stroke="#74add1" stroke-width="5.4" stroke-linecap="round" fill="none"/>
<path transform="scale(.25)" d="M1579 238h0m-24 1h0m-120 18h0m162 14h0m-71 17h0m155 44h0m-263 2h0m348 68h0m-44-1h0m-22-5h0m-31 21h0m-7 23h0" stroke="#d3edf4" stroke-width="5.4" stroke-linecap="round" fill="none"/>
<path transform="scale(.25)" d="M1643 200h0m-273 63h0m347 46h0m-17 105h0m-29 8h0m-48 4h0m34 25h0m49 24h0m-37 58h0" stroke="#9fd0e4" stroke-width="5.4" stroke-linecap="round" fill="none"/>
<path transform="scale(.25)" d="M1508 390h0m-23 78h0" stroke="#fed686" stroke-width="5.4" stroke-linecap="round" fill="none"/>
<path transform="scale(.25)" d="M1566 180h0m17 13h0m52 10h0m-33 9h0m122 28h0m-80 33h0m-66 10h0m112 7h0m82 19h0m-95 83h0m-103 22h0m31 88h0" stroke="#9dcee3" stroke-width="5.4" stroke-linecap="round" fill="none"/>
<path transform="scale(.25)" d="M1773 330h0m-81 27h0m76 32h0m-25 9h0" stroke="#7fb6d6" stroke-width="5.4" stroke-linecap="round" fill="none"/>
<path transform="scale(.25)" d="M1377 260h0m98 8h0m265-3h0m-57 52h0m-81 137h0m-33 17h0m7 38h0" stroke="#d5edf5" stroke-width="5.4" stroke-linecap="round" fill="none"/>
<path transform="scale(.25)" d="M1542 348h0m9 31h0" stroke="#fba05b" stroke-width="5.4" stroke-linecap="round" fill="none"/>
<path transform="scale(.25)" d="M1594 190h0m-174 83h0m185-3h0m47 3h0m16 32h0m-281 13h0m10-2h0m119 26h0m63 48h0m11 6h0m-189 10h0m152 20h0m-154 77h0m205 12h0m-182 6h0" stroke="#f6fbd0" stroke-width="5.4" stroke-linecap="round" fill="none"/>
<path transform="scale(.25)" d="M1456 263h0m17 33h0m-6 13h0m-101 2h0m-4 17h0m258 183h0" stroke="#fffbba" stroke-width="5.4" stroke-linecap="round" fill="none"/>
<path transform="scale(.25)" d="M1652 196h0m-81 25h0m20 23h0m-98 16h0m-88 9h0m22-1h0m279 27h0m78 84h0m-74 16h0m-136 25h0m68 90h0m5 29h0" stroke="#a9d7e8" stroke-width="5.4" stroke-linecap="round" fill="none"/>
<path transform="scale(.25)" d="M1737 263h0m-57 24h0m-104 64h0m171 21h0m-41 21h0" stroke="#aedaea" stroke-width="5.4" stroke-linecap="round" fill="none"/>
<path transform="scale(.25)" d="M1628 216h0m145 163h0" stroke="#4878b6" stroke-width="5.4" stroke-linecap="round" fill="none"/>
<path transform="scale(.25)" d="M1536 452h0m-60 3h0" stroke="#f16740" stroke-width="5.4" stroke-linecap="round" fill="none"/>
<path transform="scale(.25)" d="M1399 382h0m88 2h0" stroke="#fba25c" stroke-width="5.4" stroke-linecap="round" fill="none"/>
<path transform="scale(.25)" d="M1628 277h0m13 53h0m-65 5h0m-111 177h0" stroke="#e1f4f6" stroke-width="5.4" stroke-linecap="round" fill="none"/>
<path transform="scale(.25)" d="M1566 268h0m91 2h0m100 23h0m-190 15h0m102 22h0m-135-1h0m-23 29h0m52 25h0m25 45h0m-110 62h0m228-5h0m7 17h0" stroke="#d9f0f6" stroke-width="5.4" stroke-linecap="round" fill="none"/>
<path transform="scale(.25)" d="M1591 287h0m17 144h0m59 2h0m-15 74h0" stroke="#def2f8" stroke-width="5.4" stroke-linecap="round" fill="none"/>
<path transform="scale(.25)" d="M1414 476h0" stroke="#f36b42" stroke-width="5.4" stroke-linecap="round" fill="none"/>
<path transform="scale(.25)" d="M1612 165h0m-4 17h0m51 261h0" stroke="#5183bb" stroke-width="5.4" stroke-linecap="round" fill="none"/>
<path transform="scale(.25)" d="M1714 441h0" stroke="#85bad8" stroke-width="5.4" stroke-linecap="round" fill="none"/>
<path transform="scale(.25)" d="M1470 331h0m-22 78h0m1 89h0m-13 18h0" stroke="#fdb063" stroke-width="5.4" stroke-linecap="round" fill="none"/>
<path transform="scale(.25)" d="M1396 246h0m60 40h0m-20 10h0m20-5h0m240 14h0m-78-2h0m98 15h0m-205 24h0m109-2h0m68 22h0m-130 17h0m83 13h0m-51 8h0m45 30h0m64 91h0" stroke="#eaf7e5" stroke-width="5.4" stroke-linecap="round" fill="none"/>
<path transform="scale(.25)" d="M1534 244h0m115 36h0m-19 9h0m-218 55h0" stroke="#fff9b5" stroke-width="5.4" stroke-linecap="round" fill="none"/>
<path transform="scale(.25)" d="M1559 268h0m152 85h0m-196-4h0" stroke="#e6f5ee" stroke-width="5.4" stroke-linecap="round" fill="none"/>
<path transform="scale(.25)" d="M1632 255h0m-77 21h0m-195 4h0m94 30h0m-79-2h0m122 36h0m77 100h0m-202 23h0m282-5h0m-67 31h0m-6 23h0" stroke="#f5fbd1" stroke-width="5.4" stroke-linecap="round" fill="none"/>
<path transform="scale(.25)" d="M1425 232h0m88 246h0" stroke="#f67949" stroke-width="5.4" stroke-linecap="round" fill="none"/>
<path transform="scale(.25)" d="M1665 244h0m30 0h0m-284 93h0m354 16h0" stroke="#b2ddeb" stroke-width="5.4" stroke-linecap="round" fill="none"/>
<path transform="scale(.25)" d="M1624 156h0m-27 224h0" stroke="#72aacf" stroke-width="5.4" stroke-linecap="round" fill="none"/>
<path transform="scale(.25)" d="M1370 275h0m392 110h0m-193 137h0" stroke="#94c6df" stroke-width="5.4" stroke-linecap="round" fill="none"/>
<path transform="scale(.25)" d="M1624 336h0m-189 28h0m-18 50h0m-1 26h0" stroke="#fff1a9" stroke-width="5.4" stroke-linecap="round" fill="none"/>
<path transform="scale(.25)" d="M1628 188h0" stroke="#568abf" stroke-width="5.4" stroke-linecap="round" fill="none"/>
<path transform="scale(.25)" d="M1360 299h0m180-8h0m-106 29h0m7-8h0m234 87h0m-38 62h0m-20 30h0" stroke="#f1fad9" stroke-width="5.4" stroke-linecap="round" fill="none"/>
<path transform="scale(.25)" d="M1534 385h0m12 77h0" stroke="#f57748" stroke-width="5.4" stroke-linecap="round" fill="none"/>
<path transform="scale(.25)" d="M1632 169h0m9 124h0" stroke="#6ca4cc" stroke-width="5.4" stroke-linecap="round" fill="none"/>
<path transform="scale(.25)" d="M1703 230h0m4 15h0m3 21h0m-31 45h0m-285-6h0m23 11h0m351 74h0m-131 47h0m-268 21h0m311 33h0m-95 18h0" stroke="#bae0ed" stroke-width="5.4" stroke-linecap="round" fill="none"/>
<path transform="scale(.25)" d="M1513 274h0m67 9h0m-186 4h0m167 60h0m31-8h0m-42 30h0m13 2h0m-3 57h0m108 13h0m4 83h0" stroke="#eef8df" stroke-width="5.4" stroke-linecap="round" fill="none"/>
<path transform="scale(.25)" d="M1594 186h0m-18 20h0m2 14h0m145 178h0m41 16h0" stroke="#8dc1dc" stroke-width="5.4" stroke-linecap="round" fill="none"/>
<path transform="scale(.25)" d="M1485 328h0m6 122h0" stroke="#fff9b7" stroke-width="5.4" stroke-linecap="round" fill="none"/>
<path transform="scale(.25)" d="M1533 392h0m-180 27h0m155 107h0" stroke="#fedc8d" stroke-width="5.4" stroke-linecap="round" fill="none"/>
<path transform="scale(.25)" d="M1603 147h0m1 15h0m33 14h0m28 22h0m-85 9h0" stroke="#679dc9" stroke-width="5.4" stroke-linecap="round" fill="none"/>
<path transform="scale(.25)" d="M1543 235h0m149 43h0m-150 18h0m194 8h0m-307 41h0m191 38h0m-108-4h0m140 39h0m-1 3h0m-60 9h0m-49-1h0m107 11h0m-252 6h0m109 53h0m-10 8h0m78 20h0" stroke="#fdfec3" stroke-width="5.4" stroke-linecap="round" fill="none"/>
<path transform="scale(.25)" d="M1511 252h0m-69 154h0m-7 41h0m-1 17h0m-45 14h0m7 12h0m11 1h0m13 37h0" stroke="#fee394" stroke-width="5.4" stroke-linecap="round" fill="none"/>
<path transform="scale(.25)" d="M1609 227h0m134 142h0" stroke="#72abd0" stroke-width="5.4" stroke-linecap="round" fill="none"/>
<path transform="scale(.25)" d="M1485 267h0m-53 14h0m133 20h0m-31-1h0m45 18h0m-15 19h0m-38 18h0m-28 3h0m139 15h0m-242 20h0m41-8h0m176 4h0m28 15h0m-268 23h0m279 28h0m-254 0h0m241 2h0m-134 33h0m-39 7h0m-49 0h0m-8-4h0m260 31h0m-236-6h0" stroke="#fff7b3" stroke-width="5.4" stroke-linecap="round" fill="none"/>
<path transform="scale(.25)" d="M1501 349h0m-114 54h0m138 70h0m-32 5h0" stroke="#fcaa5f" stroke-width="5.4" stroke-linecap="round" fill="none"/>
<path transform="scale(.25)" d="M1490 315h0" stroke="#a5d4e7" stroke-width="5.4" stroke-linecap="round" fill="none"/>
<path transform="scale(.25)" d="M1487 395h0m66 5h0m-59 18h0m-30 9h0m34 42h0m21 30h0m29 12h0" stroke="#fed384" stroke-width="5.4" stroke-linecap="round" fill="none"/>
<path transform="scale(.25)" d="M1678 226h0m-179 22h0m-2 6h0m241 16h0m-175 34h0m-31 0h0m-172-4h0m226 23h0m93-3h0m-37 48h0m90 8h0m-64 2h0m-102 2h0m35 14h0m155-2h0m-134 9h0m73 26h0m-112 0h0m102 16h0m13-4h0m-94 32h0m-20 0h0m16 24h0m-33 2h0m45 10h0" stroke="#e2f4f4" stroke-width="5.4" stroke-linecap="round" fill="none"/>
<path transform="scale(.25)" d="M1627 239h0m-144 9h0m229 6h0m-98-2h0m-179 18h0m72-4h0m-23 56h0m145 45h0m-245 10h0m160 29h0m-113-7h0m85 37h0m54 7h0m-128 41h0m154 0h0m101 11h0" stroke="#f8fccc" stroke-width="5.4" stroke-linecap="round" fill="none"/>
<path transform="scale(.25)" d="M1618 202h0m-44 15h0m62 181h0" stroke="#7bb2d4" stroke-width="5.4" stroke-linecap="round" fill="none"/>
<path transform="scale(.25)" d="M1471 301h0m33 111h0m-98 28h0" stroke="#fca45c" stroke-width="5.4" stroke-linecap="round" fill="none"/>
<path transform="scale(.25)" d="M1612 158h0m1 44h0" stroke="#4d7eb9" stroke-width="5.4" stroke-linecap="round" fill="none"/>
<path transform="scale(.25)" d="M1377 357h0m280 43h0" stroke="#ecf7e3" stroke-width="5.4" stroke-linecap="round" fill="none"/>
<path transform="scale(.25)" d="M1432 302h0m-8 157h0" stroke="#fede8f" stroke-width="5.4" stroke-linecap="round" fill="none"/>
<path transform="scale(.25)" d="M1405 236h0m116 172h0m-63 34h0m101-2h0m-120 9h0" stroke="#fdbb6d" stroke-width="5.4" stroke-linecap="round" fill="none"/>
<path transform="scale(.25)" d="M1736 276h0" stroke="#5285bc" stroke-width="5.4" stroke-linecap="round" fill="none"/>
<path transform="scale(.25)" d="M1437 254h0m211 265h0" stroke="#96c9e0" stroke-width="5.4" stroke-linecap="round" fill="none"/>
<path transform="scale(.25)" d="M1593 244h0m148 27h0m-176 116h0m-144 92h0" stroke="#e5f5f0" stroke-width="5.4" stroke-linecap="round" fill="none"/>
<path transform="scale(.25)" d="M1598 213h0m-20 1h0m-173 22h0m165 87h0m115-6h0m-109 63h0m138 4h0" stroke="#e4f4f1" stroke-width="5.4" stroke-linecap="round" fill="none"/>
<path transform="scale(.25)" d="M1480 329h0m-70 33h0m55 12h0m-75 102h0m123 53h0" stroke="#fece7f" stroke-width="5.4" stroke-linecap="round" fill="none"/>
<path transform="scale(.25)" d="M1489 256h0m-116 1h0m262 79h0m-133 40h0m-16 12h0m20 2h0m49 31h0m-126 20h0m57-8h0m-20 102h0" stroke="#fede8e" stroke-width="5.4" stroke-linecap="round" fill="none"/>
<path transform="scale(.25)" d="M1712 481h0" stroke="#feea9e" stroke-width="5.4" stroke-linecap="round" fill="none"/>
<path transform="scale(.25)" d="M1633 166h0m28 102h0m104 28h0m-6 33h0m-171 33h0m86 43h0m-78 10h0m-30 62h0m27 40h0" stroke="#90c3dd" stroke-width="5.4" stroke-linecap="round" fill="none"/>
<path transform="scale(.25)" d="M1588 387h0m89 32h0m-97 52h0" stroke="#9acbe1" stroke-width="5.4" stroke-linecap="round" fill="none"/>
<path transform="scale(.25)" d="M1500 433h0" stroke="#c51e27" stroke-width="5.4" stroke-linecap="round" fill="none"/>
<path transform="scale(.25)" d="M1588 216h0" stroke="#4e80ba" stroke-width="5.4" stroke-linecap="round" fill="none"/>
<path transform="scale(.25)" d="M1721 329h0" stroke="#4777b5" stroke-width="5.4" stroke-linecap="round" fill="none"/>
<path transform="scale(.25)" d="M1460 453h0" stroke="#ea593a" stroke-width="5.4" stroke-linecap="round" fill="none"/>
<path transform="scale(.25)" d="M1677 255h0m-223 21h0m319 52h0m-256 0h0m-64 11h0m163 3h0m135 20h0m-144 86h0" stroke="#d0ebf4" stroke-width="5.4" stroke-linecap="round" fill="none"/>
<path transform="scale(.25)" d="M1386 327h0m28 49h0m29 45h0m174 17h0m-186 34h0m132 18h0" stroke="#e6f5ec" stroke-width="5.4" stroke-linecap="round" fill="none"/>
<path transform="scale(.25)" d="M1628 150h0m-31 69h0m39 4h0m107 46h0m24 52h0m0 48h0m-86 159h0" stroke="#84bad8" stroke-width="5.4" stroke-linecap="round" fill="none"/>
<path transform="scale(.25)" d="M1782 302h0" stroke="#588bbf" stroke-width="5.4" stroke-linecap="round" fill="none"/>
<path transform="scale(.25)" d="M1538 392h0m-59 46h0m7 63h0" stroke="#fdb668" stroke-width="5.4" stroke-linecap="round" fill="none"/>
<path transform="scale(.25)" d="M1486 330h0m-69 149h0m60 2h0m53-1h0" stroke="#fdc476" stroke-width="5.4" stroke-linecap="round" fill="none"/>
<path transform="scale(.25)" d="M1639 156h0m1 49h0m49 66h0m91 114h0m-325 119h0m229 1h0m-18 15h0" stroke="#97c9e0" stroke-width="5.4" stroke-linecap="round" fill="none"/>
<path transform="scale(.25)" d="M1458 293h0m65 99h0m-57 36h0m-19 54h0" stroke="#fdb467" stroke-width="5.4" stroke-linecap="round" fill="none"/>
<path transform="scale(.25)" d="M1532 345h0m-34 14h0m-22 10h0" stroke="#fff5b1" stroke-width="5.4" stroke-linecap="round" fill="none"/>
<path transform="scale(.25)" d="M1481 243h0m31 81h0m-136 43h0m58 77h0m-13 43h0" stroke="#fdbe70" stroke-width="5.4" stroke-linecap="round" fill="none"/>
<path transform="scale(.25)" d="M1578 188h0m159 103h0m-82 176h0" stroke="#8abedb" stroke-width="5.4" stroke-linecap="round" fill="none"/>
<path transform="scale(.25)" d="M1637 264h0m55 1h0m-119 38h0m0 13h0m35 13h0m-169 24h0" stroke="#ddf1f7" stroke-width="5.4" stroke-linecap="round" fill="none"/>
<path transform="scale(.25)" d="M1601 152h0m187 195h0m-2 19h0" stroke="#588cc0" stroke-width="5.4" stroke-linecap="round" fill="none"/>
<path transform="scale(.25)" d="M1680 219h0m39 26h0m-170 54h0" stroke="#83b9d7" stroke-width="5.4" stroke-linecap="round" fill="none"/>
<path transform="scale(.25)" d="M1670 245h0m-226 244h0" stroke="#fefec1" stroke-width="5.4" stroke-linecap="round" fill="none"/>
<path transform="scale(.25)" d="M1402 263h0m85 112h0m209 10h0m-230 22h0m-74 2h0m304 24h0m-305 58h0m140-10h0" stroke="#fee89c" stroke-width="5.4" stroke-linecap="round" fill="none"/>
<path transform="scale(.25)" d="M1631 149h0m73 168h0m-22 178h0" stroke="#70a8cf" stroke-width="5.4" stroke-linecap="round" fill="none"/>
<path transform="scale(.25)" d="M1433 248h0m-69 106h0m326 44h0m-39 63h0" stroke="#c9e8f2" stroke-width="5.4" stroke-linecap="round" fill="none"/>
<path transform="scale(.25)" d="M1540 288h0m18 32h0m-49 102h0m-45-2h0m12 39h0m63 59h0m-104 3h0" stroke="#fdbd6f" stroke-width="5.4" stroke-linecap="round" fill="none"/>
<path transform="scale(.25)" d="M1522 441h0" stroke="#fecd7f" stroke-width="5.4" stroke-linecap="round" fill="none"/>
<path transform="scale(.25)" d="M1626 215h0m18 20h0" stroke="#6398c6" stroke-width="5.4" stroke-linecap="round" fill="none"/>
<path transform="scale(.25)" d="M1445 497h0" stroke="#feeca1" stroke-width="5.4" stroke-linecap="round" fill="none"/>
<path transform="scale(.25)" d="M1557 364h0m-91 21h0m-85 12h0m91 36h0m-13 42h0m-71 15h0m93 27h0" stroke="#fdb164" stroke-width="5.4" stroke-linecap="round" fill="none"/>
<path transform="scale(.25)" d="M1530 257h0m97 59h0m-173 8h0m-81 3h0m53 63h0m5 20h0m127 38h0m-168 43h0" stroke="#fff8b5" stroke-width="5.4" stroke-linecap="round" fill="none"/>
<path transform="scale(.25)" d="M1421 443h0" stroke="#f46e43" stroke-width="5.4" stroke-linecap="round" fill="none"/>
<path transform="scale(.25)" d="M1462 456h0" stroke="#e54d34" stroke-width="5.4" stroke-linecap="round" fill="none"/>
<path transform="scale(.25)" d="M1488 432h0m17 95h0" stroke="#fb9f5a" stroke-width="5.4" stroke-linecap="round" fill="none"/>
<path transform="scale(.25)" d="M1607 377h0m-220 107h0" stroke="#feca7c" stroke-width="5.4" stroke-linecap="round" fill="none"/>
<path transform="scale(.25)" d="M1646 191h0m-10-9h0m99 135h0m34 33h0m-21 93h0" stroke="#7ab2d4" stroke-width="5.4" stroke-linecap="round" fill="none"/>
<path transform="scale(.25)" d="M1513 233h0m261 79h0m-15 118h0m-34 14h0m-148 68h0" stroke="#8bbfdb" stroke-width="5.4" stroke-linecap="round" fill="none"/>
<path transform="scale(.25)" d="M1725 241h0m-282 26h0m282 149h0" stroke="#9acbe2" stroke-width="5.4" stroke-linecap="round" fill="none"/>
<path transform="scale(.25)" d="M1651 157h0m-220 193h0m161 178h0" stroke="#cde9f2" stroke-width="5.4" stroke-linecap="round" fill="none"/>
<path transform="scale(.25)" d="M1622 271h0" stroke="#5c90c2" stroke-width="5.4" stroke-linecap="round" fill="none"/>
<path transform="scale(.25)" d="M1503 439h0m-59 18h0" stroke="#f88d52" stroke-width="5.4" stroke-linecap="round" fill="none"/>
<path transform="scale(.25)" d="M1614 168h0m-8 55h0" stroke="#598cc0" stroke-width="5.4" stroke-linecap="round" fill="none"/>
<path transform="scale(.25)" d="M1566 182h0m-2 20h0m95-2h0m-51 29h0" stroke="#6da5cd" stroke-width="5.4" stroke-linecap="round" fill="none"/>
<path transform="scale(.25)" d="M1611 175h0m156 226h0" stroke="#6ba2cb" stroke-width="5.4" stroke-linecap="round" fill="none"/>
<path transform="scale(.25)" d="M1739 443h0" stroke="#497ab6" stroke-width="5.4" stroke-linecap="round" fill="none"/>
<path transform="scale(.25)" d="M1447 265h0m178 32h0m103 70h0m-199 15h0" stroke="#fffdbb" stroke-width="5.4" stroke-linecap="round" fill="none"/>
<path transform="scale(.25)" d="M1448 362h0m53 59h0m1 34h0m36 16h0m11 24h0m-1 14h0" stroke="#fecb7c" stroke-width="5.4" stroke-linecap="round" fill="none"/>
<path transform="scale(.25)" d="M1757 355h0" stroke="#91c4dd" stroke-width="5.4" stroke-linecap="round" fill="none"/>
<path transform="scale(.25)" d="M1492 359h0m-80 48h0m29 6h0m-82 13h0m13 8h0" stroke="#fa9957" stroke-width="5.4" stroke-linecap="round" fill="none"/>
<path transform="scale(.25)" d="M1638 199h0m20 329h0" stroke="#73acd1" stroke-width="5.4" stroke-linecap="round" fill="none"/>
<path transform="scale(.25)" d="M1622 271h0m135 43h0m3 62h0m-142 19h0m61-1h0" stroke="#8cc1dc" stroke-width="5.4" stroke-linecap="round" fill="none"/>
<path transform="scale(.25)" d="M1664 230h0" stroke="#e2f4f3" stroke-width="5.4" stroke-linecap="round" fill="none"/>
<path transform="scale(.25)" d="M1487 420h0m-19 52h0" stroke="#fba05a" stroke-width="5.4" stroke-linecap="round" fill="none"/>
<path transform="scale(.25)" d="M1605 166h0m-15 64h0" stroke="#6fa8ce" stroke-width="5.4" stroke-linecap="round" fill="none"/>
<path transform="scale(.25)" d="M1500 362h0m-14 143h0" stroke="#fca35c" stroke-width="5.4" stroke-linecap="round" fill="none"/>
<path transform="scale(.25)" d="M1572 198h0m45 171h0" stroke="#6ba3cc" stroke-width="5.4" stroke-linecap="round" fill="none"/>
<path transform="scale(.25)" d="M1460 314h0m61 115h0" stroke="#feeaa0" stroke-width="5.4" stroke-linecap="round" fill="none"/>
<path transform="scale(.25)" d="M1646 187h0" stroke="#497ab7" stroke-width="5.4" stroke-linecap="round" fill="none"/>
<path transform="scale(.25)" d="M1636 258h0m-238 13h0m82 112h0m12 22h0m157 19h0m-104 54h0" stroke="#f9fdc9" stroke-width="5.4" stroke-linecap="round" fill="none"/>
<path transform="scale(.25)" d="M1494 284h0m-45 157h0m-21 30h0m-43 28h0m74 11h0m-8 8h0" stroke="#fdb96b" stroke-width="5.4" stroke-linecap="round" fill="none"/>
<path transform="scale(.25)" d="M1523 469h0" stroke="#ec5c3b" stroke-width="5.4" stroke-linecap="round" fill="none"/>
<path transform="scale(.25)" d="M1396 337h0m215 96h0" stroke="#bce2ee" stroke-width="5.4" stroke-linecap="round" fill="none"/>
<path transform="scale(.25)" d="M1631 146h0m134 211h0" stroke="#7bb3d4" stroke-width="5.4" stroke-linecap="round" fill="none"/>
<path transform="scale(.25)" d="M1608 160h0m-219 92h0m52 27h0m307 57h0m-28 33h0m11 0h0m-21 29h0" stroke="#a9d8e8" stroke-width="5.4" stroke-linecap="round" fill="none"/>
<path transform="scale(.25)" d="M1366 430h0" stroke="#fedd8e" stroke-width="5.4" stroke-linecap="round" fill="none"/>
<path transform="scale(.25)" d="M1361 341h0m104 20h0m36 32h0" stroke="#fdb567" stroke-width="5.4" stroke-linecap="round" fill="none"/>
<path transform="scale(.25)" d="M1713 287h0m-332 20h0m192 97h0m95 58h0m-71 45h0m22 6h0" stroke="#aad8e9" stroke-width="5.4" stroke-linecap="round" fill="none"/>
<path transform="scale(.25)" d="M1403 467h0" stroke="#f16841" stroke-width="5.4" stroke-linecap="round" fill="none"/>
<path transform="scale(.25)" d="M1580 181h0m177 259h0" stroke="#689ec9" stroke-width="5.4" stroke-linecap="round" fill="none"/>
<path transform="scale(.25)" d="M1425 403h0m38 49h0" stroke="#f99154" stroke-width="5.4" stroke-linecap="round" fill="none"/>
<path transform="scale(.25)" d="M1637 207h0m135 100h0" stroke="#6ea5cd" stroke-width="5.4" stroke-linecap="round" fill="none"/>
<path transform="scale(.25)" d="M1498 291h0m143-3h0m-136 104h0" stroke="#f7fccf" stroke-width="5.4" stroke-linecap="round" fill="none"/>
<path transform="scale(.25)" d="M1580 225h0" stroke="#659bc8" stroke-width="5.4" stroke-linecap="round" fill="none"/>
<path transform="scale(.25)" d="M1576 161h0m-26 113h0" stroke="#4e7fb9" stroke-width="5.4" stroke-linecap="round" fill="none"/>
<path transform="scale(.25)" d="M1492 422h0m-50 86h0" stroke="#fb9e5a" stroke-width="5.4" stroke-linecap="round" fill="none"/>
<path transform="scale(.25)" d="M1620 210h0m-114 28h0m240 190h0m-113 106h0" stroke="#86bcd9" stroke-width="5.4" stroke-linecap="round" fill="none"/>
<path transform="scale(.25)" d="M1648 171h0m-45 40h0m-48 20h0m222 159h0" stroke="#70a8ce" stroke-width="5.4" stroke-linecap="round" fill="none"/>
<path transform="scale(.25)" d="M1541 441h0m-137 9h0m57 25h0" stroke="#fec879" stroke-width="5.4" stroke-linecap="round" fill="none"/>
<path transform="scale(.25)" d="M1406 396h0m40 35h0m3 36h0" stroke="#fdad61" stroke-width="5.4" stroke-linecap="round" fill="none"/>
<path transform="scale(.25)" d="M1385 254h0m120 163h0m12-9h0m-86 79h0" stroke="#fefec2" stroke-width="5.4" stroke-linecap="round" fill="none"/>
<path transform="scale(.25)" d="M1633 147h0m-27 31h0m2 75h0m-181 30h0" stroke="#a1d1e4" stroke-width="5.4" stroke-linecap="round" fill="none"/>
<path transform="scale(.25)" d="M1414 423h0m122 86h0" stroke="#fdbc6f" stroke-width="5.4" stroke-linecap="round" fill="none"/>
<path transform="scale(.25)" d="M1447 321h0m157 2h0m37-8h0m37 14h0m-186 143h0" stroke="#fff2ac" stroke-width="5.4" stroke-linecap="round" fill="none"/>
<path transform="scale(.25)" d="M1407 350h0m29 88h0" stroke="#fdb265" stroke-width="5.4" stroke-linecap="round" fill="none"/>
<path transform="scale(.25)" d="M1463 489h0m-18 35h0" stroke="#fa9a58" stroke-width="5.4" stroke-linecap="round" fill="none"/>
<path transform="scale(.25)" d="M1610 508h0" stroke="#b0dceb" stroke-width="5.4" stroke-linecap="round" fill="none"/>
<path transform="scale(.25)" d="M1571 306h0m-18 186h0m-109 12h0" stroke="#fffbb8" stroke-width="5.4" stroke-linecap="round" fill="none"/>
<path transform="scale(.25)" d="M1493 305h0m-65 31h0m-28 116h0m34 12h0" stroke="#fdc577" stroke-width="5.4" stroke-linecap="round" fill="none"/>
<path transform="scale(.25)" d="M1643 235h0m-215 12h0m128 52h0m76-5h0m-225 45h0m138 7h0" stroke="#edf8e1" stroke-width="5.4" stroke-linecap="round" fill="none"/>
<path transform="scale(.25)" d="M1516 258h0m152 40h0m86 24h0m-58 72h0" stroke="#94c7df" stroke-width="5.4" stroke-linecap="round" fill="none"/>
<path transform="scale(.25)" d="M1596 180h0m-27 19h0m93 6h0m-28 1h0m-57 19h0m31 45h0m159 42h0m-19 42h0" stroke="#79b1d3" stroke-width="5.4" stroke-linecap="round" fill="none"/>
<path transform="scale(.25)" d="M1510 448h0m-49 18h0m32-3h0m-16 11h0" stroke="#f99254" stroke-width="5.4" stroke-linecap="round" fill="none"/>
<path transform="scale(.25)" d="M1421 363h0m111 22h0m-46 84h0" stroke="#f98e52" stroke-width="5.4" stroke-linecap="round" fill="none"/>
<path transform="scale(.25)" d="M1604 158h0m-63 110h0m208 29h0" stroke="#76aed2" stroke-width="5.4" stroke-linecap="round" fill="none"/>
<path transform="scale(.25)" d="M1786 335h0m-105 138h0" stroke="#649ac7" stroke-width="5.4" stroke-linecap="round" fill="none"/>
<path transform="scale(.25)" d="M1618 152h0" stroke="#8abeda" stroke-width="5.4" stroke-linecap="round" fill="none"/>
<path transform="scale(.25)" d="M1480 424h0m33 41h0m-115 12h0" stroke="#fca55d" stroke-width="5.4" stroke-linecap="round" fill="none"/>
<path transform="scale(.25)" d="M1588 182h0m142 162h0m-41 96h0m-71 16h0" stroke="#b4ddeb" stroke-width="5.4" stroke-linecap="round" fill="none"/>
<path transform="scale(.25)" d="M1508 442h0" stroke="#f88a50" stroke-width="5.4" stroke-linecap="round" fill="none"/>
<path transform="scale(.25)" d="M1752 363h0m7 29h0" stroke="#71a9cf" stroke-width="5.4" stroke-linecap="round" fill="none"/>
<path transform="scale(.25)" d="M1616 358h0m128 109h0" stroke="#a7d5e7" stroke-width="5.4" stroke-linecap="round" fill="none"/>
<path transform="scale(.25)" d="M1511 498h0" stroke="#ec5d3c" stroke-width="5.4" stroke-linecap="round" fill="none"/>
<path transform="scale(.25)" d="M1525 244h0m-95 107h0m-31 42h0m153 57h0" stroke="#fee89d" stroke-width="5.4" stroke-linecap="round" fill="none"/>
<path transform="scale(.25)" d="M1507 238h0m31 104h0m-23 31h0m-90 119h0" stroke="#fdc576" stroke-width="5.4" stroke-linecap="round" fill="none"/>
<path transform="scale(.25)" d="M1714 260h0m49 134h0m9-6h0m-4 16h0m-5 6h0m-76 50h0" stroke="#a3d2e5" stroke-width="5.4" stroke-linecap="round" fill="none"/>
<path transform="scale(.25)" d="M1468 448h0" stroke="#f8874f" stroke-width="5.4" stroke-linecap="round" fill="none"/>
<path transform="scale(.25)" d="M1527 252h0" stroke="#5487bd" stroke-width="5.4" stroke-linecap="round" fill="none"/>
<path transform="scale(.25)" d="M1530 457h0" stroke="#f7844d" stroke-width="5.4" stroke-linecap="round" fill="none"/>
<path transform="scale(.25)" d="M1442 393h0m77 100h0" stroke="#fee091" stroke-width="5.4" stroke-linecap="round" fill="none"/>
<path transform="scale(.25)" d="M1765 365h0m-103 19h0" stroke="#93c5de" stroke-width="5.4" stroke-linecap="round" fill="none"/>
<path transform="scale(.25)" d="M1517 268h0m-9 59h0m-31 69h0m-4 15h0m-17 39h0" stroke="#fec779" stroke-width="5.4" stroke-linecap="round" fill="none"/>
<path transform="scale(.25)" d="M1376 320h0" stroke="#fdb366" stroke-width="5.4" stroke-linecap="round" fill="none"/>
<path transform="scale(.25)" d="M1549 304h0m76 15h0m6 35h0m27 16h0" stroke="#d3ecf4" stroke-width="5.4" stroke-linecap="round" fill="none"/>
<path transform="scale(.25)" d="M1614 159h0m7 16h0" stroke="#71aacf" stroke-width="5.4" stroke-linecap="round" fill="none"/>
<path transform="scale(.25)" d="M1713 472h0" stroke="#eaf7e7" stroke-width="5.4" stroke-linecap="round" fill="none"/>
<path transform="scale(.25)" d="M1684 498h0" stroke="#f6fcd0" stroke-width="5.4" stroke-linecap="round" fill="none"/>
<path transform="scale(.25)" d="M1621 253h0m-47 178h0" stroke="#a8d6e7" stroke-width="5.4" stroke-linecap="round" fill="none"/>
<path transform="scale(.25)" d="M1696 256h0m-309-1h0m291 16h0m-164 33h0m-95 53h0" stroke="#fffdbd" stroke-width="5.4" stroke-linecap="round" fill="none"/>
<path transform="scale(.25)" d="M1532 355h0" stroke="#fdb669" stroke-width="5.4" stroke-linecap="round" fill="none"/>
<path transform="scale(.25)" d="M1735 474h0m-5-6h0" stroke="#b7dfed" stroke-width="5.4" stroke-linecap="round" fill="none"/>
<path transform="scale(.25)" d="M1731 248h0m-16 96h0m50 35h0" stroke="#84b9d8" stroke-width="5.4" stroke-linecap="round" fill="none"/>
<path transform="scale(.25)" d="M1553 292h0" stroke="#e6f6ec" stroke-width="5.4" stroke-linecap="round" fill="none"/>
<path transform="scale(.25)" d="M1719 330h0" stroke="#6aa2cb" stroke-width="5.4" stroke-linecap="round" fill="none"/>
<path transform="scale(.25)" d="M1462 377h0" stroke="#fdaf61" stroke-width="5.4" stroke-linecap="round" fill="none"/>
<path transform="scale(.25)" d="M1583 201h0m-14 12h0m-141 185h0m305 25h0m-23 71h0" stroke="#7cb4d5" stroke-width="5.4" stroke-linecap="round" fill="none"/>
<path transform="scale(.25)" d="M1477 441h0" stroke="#e24631" stroke-width="5.4" stroke-linecap="round" fill="none"/>
<path transform="scale(.25)" d="M1706 401h0" stroke="#fff0a9" stroke-width="5.4" stroke-linecap="round" fill="none"/>
<path transform="scale(.25)" d="M1653 226h0m-75 91h0m166 1h0" stroke="#669cc8" stroke-width="5.4" stroke-linecap="round" fill="none"/>
<path transform="scale(.25)" d="M1613 219h0m-235 83h0" stroke="#5e93c4" stroke-width="5.4" stroke-linecap="round" fill="none"/>
<path transform="scale(.25)" d="M1719 285h0m58 102h0m-63 71h0" stroke="#b8e0ed" stroke-width="5.4" stroke-linecap="round" fill="none"/>
<path transform="scale(.25)" d="M1458 291h0m63 177h0" stroke="#f7854e" stroke-width="5.4" stroke-linecap="round" fill="none"/>
<path transform="scale(.25)" d="M1423 365h0m40 26h0m-20 8h0" stroke="#fdc173" stroke-width="5.4" stroke-linecap="round" fill="none"/>
<path transform="scale(.25)" d="M1519 270h0m257 47h0" stroke="#a0d1e4" stroke-width="5.4" stroke-linecap="round" fill="none"/>
<path transform="scale(.25)" d="M1513 251h0m81 7h0m-223 107h0m173 59h0" stroke="#fdb769" stroke-width="5.4" stroke-linecap="round" fill="none"/>
<path transform="scale(.25)" d="M1485 457h0" stroke="#f57647" stroke-width="5.4" stroke-linecap="round" fill="none"/>
<path transform="scale(.25)" d="M1663 223h0m-20 240h0" stroke="#6fa7ce" stroke-width="5.4" stroke-linecap="round" fill="none"/>
<path transform="scale(.25)" d="M1460 362h0m7 35h0m245 26h0m-293 49h0m39 38h0" stroke="#feeca3" stroke-width="5.4" stroke-linecap="round" fill="none"/>
<path transform="scale(.25)" d="M1402 278h0" stroke="#c9e7f1" stroke-width="5.4" stroke-linecap="round" fill="none"/>
<path transform="scale(.25)" d="M1587 226h0" stroke="#679ec9" stroke-width="5.4" stroke-linecap="round" fill="none"/>
<path transform="scale(.25)" d="M1469 287h0m84 23h0m-82 154h0m3 4h0" stroke="#ecf8e1" stroke-width="5.4" stroke-linecap="round" fill="none"/>
<path transform="scale(.25)" d="M1455 529h0" stroke="#fa9757" stroke-width="5.4" stroke-linecap="round" fill="none"/>
<path transform="scale(.25)" d="M1584 223h0m87-6h0m44 107h0" stroke="#9ecee3" stroke-width="5.4" stroke-linecap="round" fill="none"/>
<path transform="scale(.25)" d="M1765 328h0" stroke="#75add1" stroke-width="5.4" stroke-linecap="round" fill="none"/>
<path transform="scale(.25)" d="M1404 450h0" stroke="#fa9857" stroke-width="5.4" stroke-linecap="round" fill="none"/>
<path transform="scale(.25)" d="M1612 188h0m-82 70h0m94 16h0m131 132h0" stroke="#82b8d7" stroke-width="5.4" stroke-linecap="round" fill="none"/>
<path transform="scale(.25)" d="M1523 392h0m-139 98h0" stroke="#fb9d59" stroke-width="5.4" stroke-linecap="round" fill="none"/>
<path transform="scale(.25)" d="M1675 262h0m-187-8h0m116 112h0" stroke="#99cae1" stroke-width="5.4" stroke-linecap="round" fill="none"/>
<path transform="scale(.25)" d="M1445 446h0m-75 13h0" stroke="#fdad60" stroke-width="5.4" stroke-linecap="round" fill="none"/>
<path transform="scale(.25)" d="M1693 269h0" stroke="#c4e6f0" stroke-width="5.4" stroke-linecap="round" fill="none"/>
<path transform="scale(.25)" d="M1476 425h0" stroke="#fdc273" stroke-width="5.4" stroke-linecap="round" fill="none"/>
<path transform="scale(.25)" d="M1582 285h0m87 132h0" stroke="#b0dcea" stroke-width="5.4" stroke-linecap="round" fill="none"/>
<path transform="scale(.25)" d="M1669 305h0" stroke="#7eb5d5" stroke-width="5.4" stroke-linecap="round" fill="none"/>
<path transform="scale(.25)" d="M1429 438h0" stroke="#ed5e3c" stroke-width="5.4" stroke-linecap="round" fill="none"/>
<path transform="scale(.25)" d="M1729 350h0" stroke="#c0e4ef" stroke-width="5.4" stroke-linecap="round" fill="none"/>
<path transform="scale(.25)" d="M1373 260h0m38 85h0m10 38h0m115 64h0" stroke="#fdaf62" stroke-width="5.4" stroke-linecap="round" fill="none"/>
<path transform="scale(.25)" d="M1552 230h0" stroke="#5a8fc1" stroke-width="5.4" stroke-linecap="round" fill="none"/>
<path transform="scale(.25)" d="M1428 484h0" stroke="#f99355" stroke-width="5.4" stroke-linecap="round" fill="none"/>
<path transform="scale(.25)" d="M1461 467h0" stroke="#f57346" stroke-width="5.4" stroke-linecap="round" fill="none"/>
<path transform="scale(.25)" d="M1475 393h0m-40 38h0" stroke="#fdb86a" stroke-width="5.4" stroke-linecap="round" fill="none"/>
<path transform="scale(.25)" d="M1607 259h0" stroke="#f4fbd2" stroke-width="5.4" stroke-linecap="round" fill="none"/>
<path transform="scale(.25)" d="M1502 469h0m25 45h0" stroke="#fba35c" stroke-width="5.4" stroke-linecap="round" fill="none"/>
<path transform="scale(.25)" d="M1374 311h0m112 188h0" stroke="#fdbb6e" stroke-width="5.4" stroke-linecap="round" fill="none"/>
<path transform="scale(.25)" d="M1594 202h0m120 194h0m-85 118h0" stroke="#77afd2" stroke-width="5.4" stroke-linecap="round" fill="none"/>
<path transform="scale(.25)" d="M1479 487h0" stroke="#fdb96c" stroke-width="5.4" stroke-linecap="round" fill="none"/>
<path transform="scale(.25)" d="M1561 226h0" stroke="#5083bb" stroke-width="5.4" stroke-linecap="round" fill="none"/>
<path transform="scale(.25)" d="M1645 216h0m56 72h0m24 200h0" stroke="#6ca3cc" stroke-width="5.4" stroke-linecap="round" fill="none"/>
<path transform="scale(.25)" d="M1526 333h0m-139 30h0m171 120h0" stroke="#fed484" stroke-width="5.4" stroke-linecap="round" fill="none"/>
<path transform="scale(.25)" d="M1787 337h0" stroke="#95c8df" stroke-width="5.4" stroke-linecap="round" fill="none"/>
<path transform="scale(.25)" d="M1514 477h0" stroke="#fee89b" stroke-width="5.4" stroke-linecap="round" fill="none"/>
<path transform="scale(.25)" d="M1695 245h0m-172 91h0m123 203h0" stroke="#9ecfe3" stroke-width="5.4" stroke-linecap="round" fill="none"/>
<path transform="scale(.25)" d="M1723 394h0" stroke="#81b7d6" stroke-width="5.4" stroke-linecap="round" fill="none"/>
<path transform="scale(.25)" d="M1755 446h0" stroke="#81b7d7" stroke-width="5.4" stroke-linecap="round" fill="none"/>
<path transform="scale(.25)" d="M1488 477h0" stroke="#fdbc6e" stroke-width="5.4" stroke-linecap="round" fill="none"/>
<path transform="scale(.25)" d="M1690 265h0" stroke="#70a9cf" stroke-width="5.4" stroke-linecap="round" fill="none"/>
<path transform="scale(.25)" d="M1536 257h0" stroke="#fee698" stroke-width="5.4" stroke-linecap="round" fill="none"/>
<path transform="scale(.25)" d="M1640 182h0" stroke="#4f81ba" stroke-width="5.4" stroke-linecap="round" fill="none"/>
<path transform="scale(.25)" d="M1761 368h0m-95 110h0" stroke="#5b8fc1" stroke-width="5.4" stroke-linecap="round" fill="none"/>
<path transform="scale(.25)" d="M1576 185h0" stroke="#5082bb" stroke-width="5.4" stroke-linecap="round" fill="none"/>
<path transform="scale(.25)" d="M1483 424h0" stroke="#fdc475" stroke-width="5.4" stroke-linecap="round" fill="none"/>
<path transform="scale(.25)" d="M1581 211h0m138 167h0" stroke="#8ec2dd" stroke-width="5.4" stroke-linecap="round" fill="none"/>
<path transform="scale(.25)" d="M1427 428h0m36 37h0" stroke="#f46d43" stroke-width="5.4" stroke-linecap="round" fill="none"/>
<path transform="scale(.25)" d="M1523 516h0" stroke="#ea5839" stroke-width="5.4" stroke-linecap="round" fill="none"/>
<path transform="scale(.25)" d="M1637 201h0" stroke="#c7e6f1" stroke-width="5.4" stroke-linecap="round" fill="none"/>
<path transform="scale(.25)" d="M1368 305h0m14 147h0" stroke="#fca75e" stroke-width="5.4" stroke-linecap="round" fill="none"/>
<path transform="scale(.25)" d="M1530 322h0" stroke="#87bdd9" stroke-width="5.4" stroke-linecap="round" fill="none"/>
<path transform="scale(.25)" d="M1372 386h0" stroke="#fdc778" stroke-width="5.4" stroke-linecap="round" fill="none"/>
<path transform="scale(.25)" d="M1496 428h0m-3 6h0" stroke="#fb9c59" stroke-width="5.4" stroke-linecap="round" fill="none"/>
<path transform="scale(.25)" d="M1425 523h0" stroke="#f99153" stroke-width="5.4" stroke-linecap="round" fill="none"/>
<path transform="scale(.25)" d="M1684 463h0" stroke="#eef9dd" stroke-width="5.4" stroke-linecap="round" fill="none"/>
<path transform="scale(.25)" d="M1696 229h0" stroke="#669dc8" stroke-width="5.4" stroke-linecap="round" fill="none"/>
<path transform="scale(.25)" d="M1500 449h0" stroke="#e95538" stroke-width="5.4" stroke-linecap="round" fill="none"/>
<path transform="scale(.25)" d="M1533 231h0" stroke="#6aa0cb" stroke-width="5.4" stroke-linecap="round" fill="none"/>
<path transform="scale(.25)" d="M1684 500h0" stroke="#95c8e0" stroke-width="5.4" stroke-linecap="round" fill="none"/>
<path transform="scale(.25)" d="M1546 305h0" stroke="#fbfec5" stroke-width="5.4" stroke-linecap="round" fill="none"/>
<path transform="scale(.25)" d="M1613 455h0" stroke="#e4f4f2" stroke-width="5.4" stroke-linecap="round" fill="none"/>
<path transform="scale(.25)" d="M1438 422h0" stroke="#de3f2e" stroke-width="5.4" stroke-linecap="round" fill="none"/>
<path transform="scale(.25)" d="M1621 488h0" stroke="#e9f6e7" stroke-width="5.4" stroke-linecap="round" fill="none"/>
<path transform="scale(.25)" d="M1463 309h0m95 64h0" stroke="#fa9555" stroke-width="5.4" stroke-linecap="round" fill="none"/>
<path transform="scale(.25)" d="M1428 451h0" stroke="#fec97a" stroke-width="5.4" stroke-linecap="round" fill="none"/>
<path transform="scale(.25)" d="M1587 172h0" stroke="#5588be" stroke-width="5.4" stroke-linecap="round" fill="none"/>
<path transform="scale(.25)" d="M1584 486h0" stroke="#5b8fc2" stroke-width="5.4" stroke-linecap="round" fill="none"/>
<path transform="scale(.25)" d="M1637 185h0" stroke="#5589be" stroke-width="5.4" stroke-linecap="round" fill="none"/>
<path transform="scale(.25)" d="M1767 306h0" stroke="#5e92c3" stroke-width="5.4" stroke-linecap="round" fill="none"/>
<path transform="scale(.25)" d="M1604 238h0m102 110h0m25 29h0" stroke="#9bcde2" stroke-width="5.4" stroke-linecap="round" fill="none"/>
<path transform="scale(.25)" d="M1450 353h0m59 150h0m-96 14h0" stroke="#fed98a" stroke-width="5.4" stroke-linecap="round" fill="none"/>
<path transform="scale(.25)" d="M1396 445h0" stroke="#f26841" stroke-width="5.4" stroke-linecap="round" fill="none"/>
<path transform="scale(.25)" d="M1484 406h0" stroke="#fca65d" stroke-width="5.4" stroke-linecap="round" fill="none"/>
<path transform="scale(.25)" d="M1362 370h0m133 147h0" stroke="#fdc374" stroke-width="5.4" stroke-linecap="round" fill="none"/>
<path transform="scale(.25)" d="M1652 258h0" stroke="#ebf7e5" stroke-width="5.4" stroke-linecap="round" fill="none"/>
<path transform="scale(.25)" d="M1516 364h0" stroke="#f8884f" stroke-width="5.4" stroke-linecap="round" fill="none"/>
<path transform="scale(.25)" d="M1615 261h0" stroke="#98c9e0" stroke-width="5.4" stroke-linecap="round" fill="none"/>
<path transform="scale(.25)" d="M1425 379h0" stroke="#f57145" stroke-width="5.4" stroke-linecap="round" fill="none"/>
<path transform="scale(.25)" d="M1758 287h0" stroke="#5f94c4" stroke-width="5.4" stroke-linecap="round" fill="none"/>
<path transform="scale(.25)" d="M1766 323h0" stroke="#598dc0" stroke-width="5.4" stroke-linecap="round" fill="none"/>
<path transform="scale(.25)" d="M1487 400h0" stroke="#fdc172" stroke-width="5.4" stroke-linecap="round" fill="none"/>
<path transform="scale(.25)" d="M1766 413h0" stroke="#6196c5" stroke-width="5.4" stroke-linecap="round" fill="none"/>
<path transform="scale(.25)" d="M1455 455h0" stroke="#f99555" stroke-width="5.4" stroke-linecap="round" fill="none"/>
<path transform="scale(.25)" d="M1599 198h0" stroke="#5689bf" stroke-width="5.4" stroke-linecap="round" fill="none"/>
<path transform="scale(.25)" d="M1663 205h0" stroke="#a5d5e7" stroke-width="5.4" stroke-linecap="round" fill="none"/>
<path transform="scale(.25)" d="M1479 389h0m-43 32h0" stroke="#fee495" stroke-width="5.4" stroke-linecap="round" fill="none"/>
<path transform="scale(.25)" d="M1453 442h0" stroke="#e85438" stroke-width="5.4" stroke-linecap="round" fill="none"/>
<path transform="scale(.25)" d="M1646 287h0" stroke="#669dc9" stroke-width="5.4" stroke-linecap="round" fill="none"/>
<path d="M368 59.3C369.7 59.4 372 61.4 374 63.5C376 65.6 378.3 67.5 380 72C381.7 76.5 383.2 84.8 384.4 90.5C385.6 96.2 386.6 101.6 387.3 106.4C388 111.2 388.5 114.5 388.3 119.6C388.1 124.6 388 132.3 386.4 136.7C384.8 141.1 381.8 143.6 378.5 145.9C375.2 148.2 370.6 150.2 366.6 150.5C362.7 150.8 358.3 149.6 354.8 147.9C351.3 146.2 348.1 143.6 345.5 140.6C342.9 137.6 340.3 134.4 339 130C337.7 125.6 337.2 118.7 337.6 114.3C338 109.9 339 107.3 341.6 103.7C344.2 100.1 350.4 95.6 353.5 92.5C356.6 89.4 359 88.9 360.5 85.3C362 81.7 361.8 74.7 362.4 71C363 67.3 363.1 65 364 63C364.9 61 366.3 59.2 368 59.3Z" fill="none" stroke="#1e1e1e" stroke-width="1" stroke-dasharray="3.8 2.6"/>
</g>

<text class="pl" x="524.5" y="9">c</text>
<text class="t9" x="545.7" y="16">Fraction of COTL1<tspan font-size="5.6" dy="-3.2">high</tspan><tspan dy="3.2"> NK cells</tspan></text>

<g id="pie">
<path d="M595.4 80.0L595.40 22.90A57.1 57.1 0 0 1 605.02 23.72Z" fill="#f4a2a2"/>
<path d="M595.4 80.0L605.02 23.72A57.1 57.1 0 0 1 618.44 27.76Z" fill="#2271b3"/>
<path d="M595.4 80.0L618.44 27.76A57.1 57.1 0 1 1 544.57 106.01Z" fill="#ede23f"/>
<path d="M595.4 80.0L544.57 106.01A57.1 57.1 0 0 1 554.81 39.84Z" fill="#e39c25"/>
<path d="M595.4 80.0L554.81 39.84A57.1 57.1 0 0 1 576.81 26.01Z" fill="#d4612a"/>
<path d="M595.4 80.0L576.81 26.01A57.1 57.1 0 0 1 595.40 22.90Z" fill="#0c9c6f"/>
<rect x="541.1" y="145.7" width="3.8" height="3.6" fill="#0c9c6f"/>
<text x="551" y="149.6" font-size="7.3">CRC</text>
<rect x="579.4" y="145.7" width="3.8" height="3.6" fill="#e39c25"/>
<text x="589.1" y="149.6" font-size="7.3">HNSCC</text>
<rect x="631.3" y="145.7" width="3.8" height="3.6" fill="#2271b3"/>
<text x="641.2" y="149.6" font-size="7.3">LUAD</text>
<rect x="541.1" y="156" width="3.8" height="3.6" fill="#d4612a"/>
<text x="551" y="160" font-size="7.3">GC</text>
<rect x="579.4" y="156" width="3.8" height="3.6" fill="#ede23f"/>
<text x="589.1" y="160" font-size="7.3">ICCA</text>
<rect x="631.3" y="156" width="3.8" height="3.6" fill="#f4a2a2"/>
<text x="641.2" y="160" font-size="7.3">RCC</text>
</g>
<g id="hr">
<path d="M27.8 215.7V330.5H427.5" fill="none" stroke="#8c8c8c" stroke-width="0.9"/>
<path d="M23 241.3H27.8" stroke="#8c8c8c" stroke-width="0.9"/>
<text x="16.3" y="244.0" font-size="7.6" text-anchor="middle">0</text>
<path d="M23 268.4H27.8" stroke="#8c8c8c" stroke-width="0.9"/>
<text x="16.3" y="271.09999999999997" font-size="7.6" text-anchor="middle">1</text>
<path d="M23 295.5H27.8" stroke="#8c8c8c" stroke-width="0.9"/>
<text x="16.3" y="298.2" font-size="7.6" text-anchor="middle">2</text>
<path d="M23 322.6H27.8" stroke="#8c8c8c" stroke-width="0.9"/>
<text x="16.3" y="325.3" font-size="7.6" text-anchor="middle">3</text>
<text transform="translate(8.4,298.1) rotate(-90)" font-size="8.7" textLength="47.8" lengthAdjust="spacingAndGlyphs">Hazard ratio</text>
<rect x="30.40" y="239.0" width="13.1" height="1.90" fill="#fee0d4"/>
<path d="M36.95 330.5V335" stroke="#8c8c8c" stroke-width="0.9"/>
<text transform="translate(39.95,342.4) rotate(-45)" font-size="7.4" text-anchor="end" textLength="17.9" lengthAdjust="spacingAndGlyphs">CESC</text>
<rect x="45.12" y="237.8" width="13.1" height="3.10" fill="#fdd8cb"/>
<path d="M51.67 330.5V335" stroke="#8c8c8c" stroke-width="0.9"/>
<text transform="translate(54.67,342.4) rotate(-45)" font-size="7.4" text-anchor="end" textLength="17.2" lengthAdjust="spacingAndGlyphs">DLBC</text>
<rect x="59.84" y="236.7" width="13.1" height="4.20" fill="#fee7df"/>
<path d="M66.39 330.5V335" stroke="#8c8c8c" stroke-width="0.9"/>
<text transform="translate(69.39,342.4) rotate(-45)" font-size="7.4" text-anchor="end" textLength="18.2" lengthAdjust="spacingAndGlyphs">PCPG</text>
<path d="M81.11 330.5V335" stroke="#8c8c8c" stroke-width="0.9"/>
<text transform="translate(84.11,342.4) rotate(-45)" font-size="7.4" text-anchor="end" textLength="15.4" lengthAdjust="spacingAndGlyphs">KICH</text>
<rect x="89.28" y="234.3" width="13.1" height="6.60" fill="#f6624a"/>
<path d="M95.83 330.5V335" stroke="#8c8c8c" stroke-width="0.9"/>
<text transform="translate(98.83,342.4) rotate(-45)" font-size="7.4" text-anchor="end" textLength="18.6" lengthAdjust="spacingAndGlyphs">SKCM</text>
<rect x="104.00" y="232.7" width="13.1" height="8.20" fill="#fee9e2"/>
<path d="M110.55 330.5V335" stroke="#8c8c8c" stroke-width="0.9"/>
<text transform="translate(113.55,342.4) rotate(-45)" font-size="7.4" text-anchor="end" textLength="17.9" lengthAdjust="spacingAndGlyphs">CHOL</text>
<rect x="118.72" y="231.0" width="13.1" height="9.90" fill="#fee5dc"/>
<path d="M125.27 330.5V335" stroke="#8c8c8c" stroke-width="0.9"/>
<text transform="translate(128.27,342.4) rotate(-45)" font-size="7.4" text-anchor="end" textLength="17.5" lengthAdjust="spacingAndGlyphs">THCA</text>
<rect x="133.44" y="230.4" width="13.1" height="10.50" fill="#fff5f1"/>
<path d="M139.99 330.5V335" stroke="#8c8c8c" stroke-width="0.9"/>
<text transform="translate(142.99,342.4) rotate(-45)" font-size="7.4" text-anchor="end" textLength="17.9" lengthAdjust="spacingAndGlyphs">PRAD</text>
<rect x="148.16" y="229.4" width="13.1" height="11.50" fill="#f62a1a"/>
<path d="M154.71 330.5V335" stroke="#8c8c8c" stroke-width="0.9"/>
<text transform="translate(157.71,342.4) rotate(-45)" font-size="7.4" text-anchor="end" textLength="18.2" lengthAdjust="spacingAndGlyphs">UCEC</text>
<rect x="162.88" y="228.5" width="13.1" height="12.40" fill="#feeae4"/>
<path d="M169.43 330.5V335" stroke="#8c8c8c" stroke-width="0.9"/>
<text transform="translate(172.43,342.4) rotate(-45)" font-size="7.4" text-anchor="end" textLength="17.9" lengthAdjust="spacingAndGlyphs">READ</text>
<rect x="177.60" y="227.8" width="13.1" height="13.10" fill="#fb8a74"/>
<path d="M184.15 330.5V335" stroke="#8c8c8c" stroke-width="0.9"/>
<text transform="translate(187.15,342.4) rotate(-45)" font-size="7.4" text-anchor="end" textLength="16.8" lengthAdjust="spacingAndGlyphs">BLCA</text>
<rect x="192.32" y="225.7" width="13.1" height="15.20" fill="#fff3ef"/>
<path d="M198.87 330.5V335" stroke="#8c8c8c" stroke-width="0.9"/>
<text transform="translate(201.87,342.4) rotate(-45)" font-size="7.4" text-anchor="end" textLength="13.6" lengthAdjust="spacingAndGlyphs">UCS</text>
<rect x="207.04" y="224.0" width="13.1" height="16.90" fill="#fee3da"/>
<path d="M213.59 330.5V335" stroke="#8c8c8c" stroke-width="0.9"/>
<text transform="translate(216.59,342.4) rotate(-45)" font-size="7.4" text-anchor="end" textLength="18.6" lengthAdjust="spacingAndGlyphs">COAD</text>
<rect x="221.76" y="224.0" width="13.1" height="16.90" fill="#fee3da"/>
<path d="M228.31 330.5V335" stroke="#8c8c8c" stroke-width="0.9"/>
<text transform="translate(231.31,342.4) rotate(-45)" font-size="7.4" text-anchor="end" textLength="14.7" lengthAdjust="spacingAndGlyphs">LIHC</text>
<rect x="236.48" y="223.8" width="13.1" height="17.10" fill="#fcbaa8"/>
<path d="M243.03 330.5V335" stroke="#8c8c8c" stroke-width="0.9"/>
<text transform="translate(246.03,342.4) rotate(-45)" font-size="7.4" text-anchor="end" textLength="17.9" lengthAdjust="spacingAndGlyphs">BRCA</text>
<rect x="251.20" y="223.1" width="13.1" height="17.80" fill="#fff5f2"/>
<path d="M257.75 330.5V335" stroke="#8c8c8c" stroke-width="0.9"/>
<text transform="translate(260.75,342.4) rotate(-45)" font-size="7.4" text-anchor="end" textLength="19.0" lengthAdjust="spacingAndGlyphs">MESO</text>
<rect x="265.92" y="222.4" width="13.1" height="18.50" fill="#fb9a85"/>
<path d="M272.47 330.5V335" stroke="#8c8c8c" stroke-width="0.9"/>
<text transform="translate(275.47,342.4) rotate(-45)" font-size="7.4" text-anchor="end" textLength="9.3" lengthAdjust="spacingAndGlyphs">OV</text>
<rect x="280.64" y="222.0" width="13.1" height="18.90" fill="#fee0d5"/>
<path d="M287.19 330.5V335" stroke="#8c8c8c" stroke-width="0.9"/>
<text transform="translate(290.19,342.4) rotate(-45)" font-size="7.4" text-anchor="end" textLength="18.2" lengthAdjust="spacingAndGlyphs">HNSC</text>
<rect x="295.36" y="221.7" width="13.1" height="19.20" fill="#fde0d6"/>
<path d="M301.91 330.5V335" stroke="#8c8c8c" stroke-width="0.9"/>
<text transform="translate(304.91,342.4) rotate(-45)" font-size="7.4" text-anchor="end" textLength="17.2" lengthAdjust="spacingAndGlyphs">LUAD</text>
<rect x="310.08" y="221.0" width="13.1" height="19.90" fill="#fff2ee"/>
<path d="M316.63 330.5V335" stroke="#8c8c8c" stroke-width="0.9"/>
<text transform="translate(319.63,342.4) rotate(-45)" font-size="7.4" text-anchor="end" textLength="17.2" lengthAdjust="spacingAndGlyphs">LUSC</text>
<rect x="324.80" y="240.9" width="13.1" height="48.80" fill="#ffe5dc"/>
<path d="M331.35 330.5V335" stroke="#8c8c8c" stroke-width="0.9"/>
<text transform="translate(334.35,342.4) rotate(-45)" font-size="7.4" text-anchor="end" textLength="17.5" lengthAdjust="spacingAndGlyphs">ESCA</text>
<rect x="339.52" y="240.9" width="13.1" height="51.80" fill="#fea08f"/>
<path d="M346.07 330.5V335" stroke="#8c8c8c" stroke-width="0.9"/>
<text transform="translate(349.07,342.4) rotate(-45)" font-size="7.4" text-anchor="end" textLength="14.7" lengthAdjust="spacingAndGlyphs">GBM</text>
<rect x="354.24" y="240.9" width="13.1" height="58.00" fill="#fb2a19"/>
<path d="M360.79 330.5V335" stroke="#8c8c8c" stroke-width="0.9"/>
<text transform="translate(363.79,342.4) rotate(-45)" font-size="7.4" text-anchor="end" textLength="15.4" lengthAdjust="spacingAndGlyphs">KIRC</text>
<rect x="368.96" y="240.9" width="13.1" height="60.80" fill="#ff0016"/>
<path d="M375.51 330.5V335" stroke="#8c8c8c" stroke-width="0.9"/>
<text transform="translate(378.51,342.4) rotate(-45)" font-size="7.4" text-anchor="end" textLength="13.6" lengthAdjust="spacingAndGlyphs">LGG</text>
<rect x="383.68" y="240.9" width="13.1" height="63.10" fill="#fecab8"/>
<path d="M390.23 330.5V335" stroke="#8c8c8c" stroke-width="0.9"/>
<text transform="translate(393.23,342.4) rotate(-45)" font-size="7.4" text-anchor="end" textLength="16.7" lengthAdjust="spacingAndGlyphs">STAD</text>
<rect x="398.40" y="240.9" width="13.1" height="72.90" fill="#ffe4da"/>
<path d="M404.95 330.5V335" stroke="#8c8c8c" stroke-width="0.9"/>
<text transform="translate(407.95,342.4) rotate(-45)" font-size="7.4" text-anchor="end" textLength="17.1" lengthAdjust="spacingAndGlyphs">PAAD</text>
<rect x="413.12" y="240.9" width="13.1" height="84.90" fill="#fe8a70"/>
<path d="M419.67 330.5V335" stroke="#8c8c8c" stroke-width="0.9"/>
<text transform="translate(422.67,342.4) rotate(-45)" font-size="7.4" text-anchor="end" textLength="15.0" lengthAdjust="spacingAndGlyphs">KIRP</text>
<text x="257.6" y="212.8" font-size="8.9" textLength="64.4" lengthAdjust="spacingAndGlyphs">Good prognosis</text>
<path d="M322 216.4H281" stroke="#222" stroke-width="0.8"/><path d="M279 216.4l4.2-1.8v3.6z" fill="#222"/>
<text x="347.7" y="212.8" font-size="8.9" textLength="60.3" lengthAdjust="spacingAndGlyphs">Poor prognosis</text>
<path d="M347.7 216.4H390" stroke="#222" stroke-width="0.8"/><path d="M392.5 216.4l-4.2-1.8v3.6z" fill="#222"/>
</g>

<text class="pl" x="0" y="194.6">d</text>
<text class="pl" x="438.5" y="195.5">e</text>
<text class="pl" x="563.5" y="194.3">f</text>
<text class="pl" x="0" y="389">g</text>
<text class="pl" x="152.8" y="388.8">h</text>
<text class="pl" x="332.8" y="388.6">i</text>

<g id="pe">
<text x="470.4" y="194.6" font-size="8.9" textLength="80.8" lengthAdjust="spacingAndGlyphs">EGAS00001005013</text>
<text x="496.8" y="204.8" font-size="8.9" textLength="28.8" lengthAdjust="spacingAndGlyphs">(LUAD)</text>
<rect x="472.3" y="208.1" width="78.6" height="143.1" fill="none" stroke="#9a9a9a" stroke-width="0.9"/>
<path d="M467.2 211.6H472.3" stroke="#9a9a9a" stroke-width="0.9"/>
<text x="464.6" y="214.3" font-size="7.8" text-anchor="end">2.5</text>
<path d="M467.2 245.3H472.3" stroke="#9a9a9a" stroke-width="0.9"/>
<text x="464.6" y="248.0" font-size="7.8" text-anchor="end">2.3</text>
<path d="M467.2 279.0H472.3" stroke="#9a9a9a" stroke-width="0.9"/>
<text x="464.6" y="281.7" font-size="7.8" text-anchor="end">2.1</text>
<path d="M467.2 312.7H472.3" stroke="#9a9a9a" stroke-width="0.9"/>
<text x="464.6" y="315.4" font-size="7.8" text-anchor="end">1.9</text>
<path d="M467.2 346.4H472.3" stroke="#9a9a9a" stroke-width="0.9"/>
<text x="464.6" y="349.1" font-size="7.8" text-anchor="end">1.7</text>
<text transform="translate(446.6,280.3) rotate(-90)" font-size="9" text-anchor="middle">COTL1<tspan font-size="5.4" dy="-3">high</tspan><tspan dy="3"> signature score</tspan></text>
<path d="M493.7 351.2V354.7" stroke="#9a9a9a" stroke-width="0.9"/>
<path d="M529.6 351.2V354.7" stroke="#9a9a9a" stroke-width="0.9"/>
<text x="493.7" y="365" font-size="7.8" text-anchor="middle">Responder</text>
<text x="529.6" y="365" font-size="7.8" text-anchor="middle">Non-</text>
<text x="529.6" y="373.5" font-size="7.8" text-anchor="middle">responder</text>
<path d="M493.7 215.5V242.2M493.7 273.3V302.8" stroke="#666" stroke-width="0.8"/>
<rect x="480.6" y="242.2" width="27.2" height="31.1" fill="none" stroke="#555" stroke-width="0.8"/>
<path d="M480.6 257H507.8" stroke="#333" stroke-width="1"/>
<path d="M529.6 224.8V255.4M529.6 285.3V326" stroke="#666" stroke-width="0.8"/>
<rect x="515.7" y="255.4" width="27.3" height="29.9" fill="none" stroke="#555" stroke-width="0.8"/>
<path d="M515.7 270.3H543" stroke="#333" stroke-width="1"/>
<text x="511" y="218" font-size="7.8" textLength="26.3" lengthAdjust="spacingAndGlyphs"><tspan font-style="italic">P</tspan> = 0.02</text>
<circle cx="532.6" cy="279.4" r="1.5" fill="#45a2e2" stroke="#1d4c74" stroke-width="0.5"/>
<circle cx="517.0" cy="268.3" r="1.5" fill="#45a2e2" stroke="#1d4c74" stroke-width="0.5"/>
<circle cx="521.9" cy="257.0" r="1.5" fill="#45a2e2" stroke="#1d4c74" stroke-width="0.5"/>
<circle cx="528.7" cy="299.7" r="1.5" fill="#45a2e2" stroke="#1d4c74" stroke-width="0.5"/>
<circle cx="519.5" cy="309.8" r="1.5" fill="#45a2e2" stroke="#1d4c74" stroke-width="0.5"/>
<circle cx="540.3" cy="260.3" r="1.5" fill="#45a2e2" stroke="#1d4c74" stroke-width="0.5"/>
<circle cx="517.0" cy="265.2" r="1.5" fill="#45a2e2" stroke="#1d4c74" stroke-width="0.5"/>
<circle cx="532.2" cy="288.9" r="1.5" fill="#45a2e2" stroke="#1d4c74" stroke-width="0.5"/>
<circle cx="528.8" cy="230.7" r="1.5" fill="#45a2e2" stroke="#1d4c74" stroke-width="0.5"/>
<circle cx="540.6" cy="257.3" r="1.5" fill="#45a2e2" stroke="#1d4c74" stroke-width="0.5"/>
<circle cx="538.3" cy="249.0" r="1.5" fill="#45a2e2" stroke="#1d4c74" stroke-width="0.5"/>
<circle cx="542.2" cy="271.9" r="1.5" fill="#45a2e2" stroke="#1d4c74" stroke-width="0.5"/>
<circle cx="521.4" cy="284.8" r="1.5" fill="#45a2e2" stroke="#1d4c74" stroke-width="0.5"/>
<circle cx="527.7" cy="286.6" r="1.5" fill="#45a2e2" stroke="#1d4c74" stroke-width="0.5"/>
<circle cx="526.3" cy="270.2" r="1.5" fill="#45a2e2" stroke="#1d4c74" stroke-width="0.5"/>
<circle cx="532.1" cy="244.8" r="1.5" fill="#45a2e2" stroke="#1d4c74" stroke-width="0.5"/>
<circle cx="542.0" cy="242.8" r="1.5" fill="#45a2e2" stroke="#1d4c74" stroke-width="0.5"/>
<circle cx="543.8" cy="302.3" r="1.5" fill="#45a2e2" stroke="#1d4c74" stroke-width="0.5"/>
<circle cx="543.1" cy="246.5" r="1.5" fill="#45a2e2" stroke="#1d4c74" stroke-width="0.5"/>
<circle cx="531.6" cy="267.9" r="1.5" fill="#45a2e2" stroke="#1d4c74" stroke-width="0.5"/>
<circle cx="531.7" cy="256.1" r="1.5" fill="#45a2e2" stroke="#1d4c74" stroke-width="0.5"/>
<circle cx="516.9" cy="233.0" r="1.5" fill="#45a2e2" stroke="#1d4c74" stroke-width="0.5"/>
<circle cx="538.3" cy="285.0" r="1.5" fill="#45a2e2" stroke="#1d4c74" stroke-width="0.5"/>
<circle cx="519.5" cy="264.3" r="1.5" fill="#45a2e2" stroke="#1d4c74" stroke-width="0.5"/>
<circle cx="516.4" cy="259.8" r="1.5" fill="#45a2e2" stroke="#1d4c74" stroke-width="0.5"/>
<circle cx="516.4" cy="297.8" r="1.5" fill="#45a2e2" stroke="#1d4c74" stroke-width="0.5"/>
<circle cx="543.5" cy="280.8" r="1.5" fill="#45a2e2" stroke="#1d4c74" stroke-width="0.5"/>
<circle cx="544.1" cy="233.5" r="1.5" fill="#45a2e2" stroke="#1d4c74" stroke-width="0.5"/>
<circle cx="516.0" cy="243.6" r="1.5" fill="#45a2e2" stroke="#1d4c74" stroke-width="0.5"/>
<circle cx="526.9" cy="253.2" r="1.5" fill="#45a2e2" stroke="#1d4c74" stroke-width="0.5"/>
<circle cx="540.3" cy="261.1" r="1.5" fill="#45a2e2" stroke="#1d4c74" stroke-width="0.5"/>
<circle cx="542.9" cy="259.7" r="1.5" fill="#45a2e2" stroke="#1d4c74" stroke-width="0.5"/>
<circle cx="530.2" cy="301.6" r="1.5" fill="#45a2e2" stroke="#1d4c74" stroke-width="0.5"/>
<circle cx="532.4" cy="250.8" r="1.5" fill="#45a2e2" stroke="#1d4c74" stroke-width="0.5"/>
<circle cx="529.8" cy="293.0" r="1.5" fill="#45a2e2" stroke="#1d4c74" stroke-width="0.5"/>
<circle cx="536.0" cy="291.3" r="1.5" fill="#45a2e2" stroke="#1d4c74" stroke-width="0.5"/>
<circle cx="530.2" cy="278.5" r="1.5" fill="#45a2e2" stroke="#1d4c74" stroke-width="0.5"/>
<circle cx="515.7" cy="283.0" r="1.5" fill="#45a2e2" stroke="#1d4c74" stroke-width="0.5"/>
<circle cx="533.4" cy="252.6" r="1.5" fill="#45a2e2" stroke="#1d4c74" stroke-width="0.5"/>
<circle cx="534.8" cy="277.0" r="1.5" fill="#45a2e2" stroke="#1d4c74" stroke-width="0.5"/>
<circle cx="535.6" cy="277.4" r="1.5" fill="#45a2e2" stroke="#1d4c74" stroke-width="0.5"/>
<circle cx="534.7" cy="257.9" r="1.5" fill="#45a2e2" stroke="#1d4c74" stroke-width="0.5"/>
<circle cx="522.4" cy="290.1" r="1.5" fill="#45a2e2" stroke="#1d4c74" stroke-width="0.5"/>
<circle cx="525.7" cy="276.2" r="1.5" fill="#45a2e2" stroke="#1d4c74" stroke-width="0.5"/>
<circle cx="525.8" cy="272.0" r="1.5" fill="#45a2e2" stroke="#1d4c74" stroke-width="0.5"/>
<circle cx="537.5" cy="268.9" r="1.5" fill="#45a2e2" stroke="#1d4c74" stroke-width="0.5"/>
<circle cx="531.6" cy="248.3" r="1.5" fill="#45a2e2" stroke="#1d4c74" stroke-width="0.5"/>
<circle cx="538.4" cy="268.2" r="1.5" fill="#45a2e2" stroke="#1d4c74" stroke-width="0.5"/>
<circle cx="520.5" cy="252.7" r="1.5" fill="#45a2e2" stroke="#1d4c74" stroke-width="0.5"/>
<circle cx="524.4" cy="266.3" r="1.5" fill="#45a2e2" stroke="#1d4c74" stroke-width="0.5"/>
<circle cx="539.3" cy="271.2" r="1.5" fill="#45a2e2" stroke="#1d4c74" stroke-width="0.5"/>
<circle cx="524.9" cy="257.5" r="1.5" fill="#45a2e2" stroke="#1d4c74" stroke-width="0.5"/>
<circle cx="540.8" cy="271.9" r="1.5" fill="#45a2e2" stroke="#1d4c74" stroke-width="0.5"/>
<circle cx="530.5" cy="262.5" r="1.5" fill="#45a2e2" stroke="#1d4c74" stroke-width="0.5"/>
<circle cx="538.5" cy="255.4" r="1.5" fill="#45a2e2" stroke="#1d4c74" stroke-width="0.5"/>
<circle cx="538.5" cy="286.4" r="1.5" fill="#45a2e2" stroke="#1d4c74" stroke-width="0.5"/>
<circle cx="538.5" cy="251.4" r="1.5" fill="#45a2e2" stroke="#1d4c74" stroke-width="0.5"/>
<circle cx="538.1" cy="254.2" r="1.5" fill="#45a2e2" stroke="#1d4c74" stroke-width="0.5"/>
<circle cx="525.1" cy="253.6" r="1.5" fill="#45a2e2" stroke="#1d4c74" stroke-width="0.5"/>
<circle cx="541.8" cy="279.0" r="1.5" fill="#45a2e2" stroke="#1d4c74" stroke-width="0.5"/>
<circle cx="515.2" cy="255.5" r="1.5" fill="#45a2e2" stroke="#1d4c74" stroke-width="0.5"/>
<circle cx="527.7" cy="261.9" r="1.5" fill="#45a2e2" stroke="#1d4c74" stroke-width="0.5"/>
<circle cx="542.0" cy="318.0" r="1.5" fill="#45a2e2" stroke="#1d4c74" stroke-width="0.5"/>
<circle cx="534.3" cy="264.7" r="1.5" fill="#45a2e2" stroke="#1d4c74" stroke-width="0.5"/>
<circle cx="523.5" cy="295.9" r="1.5" fill="#45a2e2" stroke="#1d4c74" stroke-width="0.5"/>
<circle cx="532.2" cy="262.9" r="1.5" fill="#45a2e2" stroke="#1d4c74" stroke-width="0.5"/>
<circle cx="538.6" cy="257.6" r="1.5" fill="#45a2e2" stroke="#1d4c74" stroke-width="0.5"/>
<circle cx="541.9" cy="242.5" r="1.5" fill="#45a2e2" stroke="#1d4c74" stroke-width="0.5"/>
<circle cx="541.2" cy="302.6" r="1.5" fill="#45a2e2" stroke="#1d4c74" stroke-width="0.5"/>
<circle cx="520.1" cy="236.1" r="1.5" fill="#45a2e2" stroke="#1d4c74" stroke-width="0.5"/>
<circle cx="534.3" cy="261.5" r="1.5" fill="#45a2e2" stroke="#1d4c74" stroke-width="0.5"/>
<circle cx="532.9" cy="298.0" r="1.5" fill="#45a2e2" stroke="#1d4c74" stroke-width="0.5"/>
<circle cx="522.4" cy="243.3" r="1.5" fill="#45a2e2" stroke="#1d4c74" stroke-width="0.5"/>
<circle cx="525.3" cy="314.1" r="1.5" fill="#45a2e2" stroke="#1d4c74" stroke-width="0.5"/>
<circle cx="530.6" cy="259.6" r="1.5" fill="#45a2e2" stroke="#1d4c74" stroke-width="0.5"/>
<circle cx="541.8" cy="279.5" r="1.5" fill="#45a2e2" stroke="#1d4c74" stroke-width="0.5"/>
<circle cx="539.0" cy="269.8" r="1.5" fill="#45a2e2" stroke="#1d4c74" stroke-width="0.5"/>
<circle cx="516.5" cy="287.0" r="1.5" fill="#45a2e2" stroke="#1d4c74" stroke-width="0.5"/>
<circle cx="522.9" cy="288.1" r="1.5" fill="#45a2e2" stroke="#1d4c74" stroke-width="0.5"/>
<circle cx="537.6" cy="280.7" r="1.5" fill="#45a2e2" stroke="#1d4c74" stroke-width="0.5"/>
<circle cx="516.7" cy="255.0" r="1.5" fill="#45a2e2" stroke="#1d4c74" stroke-width="0.5"/>
<circle cx="543.4" cy="259.3" r="1.5" fill="#45a2e2" stroke="#1d4c74" stroke-width="0.5"/>
<circle cx="517.6" cy="287.2" r="1.5" fill="#45a2e2" stroke="#1d4c74" stroke-width="0.5"/>
<circle cx="525.3" cy="269.7" r="1.5" fill="#45a2e2" stroke="#1d4c74" stroke-width="0.5"/>
<circle cx="532.1" cy="250.4" r="1.5" fill="#45a2e2" stroke="#1d4c74" stroke-width="0.5"/>
<circle cx="518.7" cy="258.4" r="1.5" fill="#45a2e2" stroke="#1d4c74" stroke-width="0.5"/>
<circle cx="535.9" cy="249.8" r="1.5" fill="#45a2e2" stroke="#1d4c74" stroke-width="0.5"/>
<circle cx="525.9" cy="254.6" r="1.5" fill="#45a2e2" stroke="#1d4c74" stroke-width="0.5"/>
<circle cx="537.8" cy="258.7" r="1.5" fill="#45a2e2" stroke="#1d4c74" stroke-width="0.5"/>
<circle cx="527.6" cy="256.4" r="1.5" fill="#45a2e2" stroke="#1d4c74" stroke-width="0.5"/>
<circle cx="529.5" cy="286.2" r="1.5" fill="#45a2e2" stroke="#1d4c74" stroke-width="0.5"/>
<circle cx="528.5" cy="286.6" r="1.5" fill="#45a2e2" stroke="#1d4c74" stroke-width="0.5"/>
<circle cx="530.6" cy="251.4" r="1.5" fill="#45a2e2" stroke="#1d4c74" stroke-width="0.5"/>
<circle cx="527.4" cy="247.9" r="1.5" fill="#45a2e2" stroke="#1d4c74" stroke-width="0.5"/>
<circle cx="542.3" cy="284.6" r="1.5" fill="#45a2e2" stroke="#1d4c74" stroke-width="0.5"/>
<circle cx="522.7" cy="240.0" r="1.5" fill="#45a2e2" stroke="#1d4c74" stroke-width="0.5"/>
<circle cx="518.7" cy="281.7" r="1.5" fill="#45a2e2" stroke="#1d4c74" stroke-width="0.5"/>
<circle cx="538.1" cy="305.5" r="1.5" fill="#45a2e2" stroke="#1d4c74" stroke-width="0.5"/>
<circle cx="536.4" cy="293.8" r="1.5" fill="#45a2e2" stroke="#1d4c74" stroke-width="0.5"/>
<circle cx="515.2" cy="246.0" r="1.5" fill="#45a2e2" stroke="#1d4c74" stroke-width="0.5"/>
<circle cx="537.6" cy="250.3" r="1.5" fill="#45a2e2" stroke="#1d4c74" stroke-width="0.5"/>
<circle cx="540.6" cy="257.4" r="1.5" fill="#45a2e2" stroke="#1d4c74" stroke-width="0.5"/>
<circle cx="515.8" cy="259.6" r="1.5" fill="#45a2e2" stroke="#1d4c74" stroke-width="0.5"/>
<circle cx="534.6" cy="272.0" r="1.5" fill="#45a2e2" stroke="#1d4c74" stroke-width="0.5"/>
<circle cx="542.7" cy="272.9" r="1.5" fill="#45a2e2" stroke="#1d4c74" stroke-width="0.5"/>
<circle cx="537.4" cy="262.5" r="1.5" fill="#45a2e2" stroke="#1d4c74" stroke-width="0.5"/>
<circle cx="535.8" cy="268.2" r="1.5" fill="#45a2e2" stroke="#1d4c74" stroke-width="0.5"/>
<circle cx="516.9" cy="264.1" r="1.5" fill="#45a2e2" stroke="#1d4c74" stroke-width="0.5"/>
<circle cx="531.5" cy="303.2" r="1.5" fill="#45a2e2" stroke="#1d4c74" stroke-width="0.5"/>
<circle cx="522.3" cy="290.4" r="1.5" fill="#45a2e2" stroke="#1d4c74" stroke-width="0.5"/>
<circle cx="537.0" cy="253.2" r="1.5" fill="#45a2e2" stroke="#1d4c74" stroke-width="0.5"/>
<circle cx="525.3" cy="275.2" r="1.5" fill="#45a2e2" stroke="#1d4c74" stroke-width="0.5"/>
<circle cx="517.5" cy="251.3" r="1.5" fill="#45a2e2" stroke="#1d4c74" stroke-width="0.5"/>
<circle cx="536.8" cy="246.7" r="1.5" fill="#45a2e2" stroke="#1d4c74" stroke-width="0.5"/>
<circle cx="535.1" cy="266.8" r="1.5" fill="#45a2e2" stroke="#1d4c74" stroke-width="0.5"/>
<circle cx="529.1" cy="273.2" r="1.5" fill="#45a2e2" stroke="#1d4c74" stroke-width="0.5"/>
<circle cx="541.1" cy="281.9" r="1.5" fill="#45a2e2" stroke="#1d4c74" stroke-width="0.5"/>
<circle cx="541.7" cy="240.8" r="1.5" fill="#45a2e2" stroke="#1d4c74" stroke-width="0.5"/>
<circle cx="527.9" cy="248.0" r="1.5" fill="#45a2e2" stroke="#1d4c74" stroke-width="0.5"/>
<circle cx="520.9" cy="258.6" r="1.5" fill="#45a2e2" stroke="#1d4c74" stroke-width="0.5"/>
<circle cx="524.2" cy="251.6" r="1.5" fill="#45a2e2" stroke="#1d4c74" stroke-width="0.5"/>
<circle cx="523.7" cy="278.9" r="1.5" fill="#45a2e2" stroke="#1d4c74" stroke-width="0.5"/>
<circle cx="527.1" cy="302.7" r="1.5" fill="#45a2e2" stroke="#1d4c74" stroke-width="0.5"/>
<circle cx="521.4" cy="300.0" r="1.5" fill="#45a2e2" stroke="#1d4c74" stroke-width="0.5"/>
<circle cx="529.0" cy="270.6" r="1.5" fill="#45a2e2" stroke="#1d4c74" stroke-width="0.5"/>
<circle cx="524.4" cy="256.4" r="1.5" fill="#45a2e2" stroke="#1d4c74" stroke-width="0.5"/>
<circle cx="519.3" cy="249.8" r="1.5" fill="#45a2e2" stroke="#1d4c74" stroke-width="0.5"/>
<circle cx="528.7" cy="308.9" r="1.5" fill="#45a2e2" stroke="#1d4c74" stroke-width="0.5"/>
<circle cx="538.9" cy="288.5" r="1.5" fill="#45a2e2" stroke="#1d4c74" stroke-width="0.5"/>
<circle cx="539.9" cy="290.6" r="1.5" fill="#45a2e2" stroke="#1d4c74" stroke-width="0.5"/>
<circle cx="536.4" cy="260.7" r="1.5" fill="#45a2e2" stroke="#1d4c74" stroke-width="0.5"/>
<circle cx="521.9" cy="300.3" r="1.5" fill="#45a2e2" stroke="#1d4c74" stroke-width="0.5"/>
<circle cx="534.7" cy="261.4" r="1.5" fill="#45a2e2" stroke="#1d4c74" stroke-width="0.5"/>
<circle cx="520.6" cy="284.7" r="1.5" fill="#45a2e2" stroke="#1d4c74" stroke-width="0.5"/>
<circle cx="520.5" cy="273.8" r="1.5" fill="#45a2e2" stroke="#1d4c74" stroke-width="0.5"/>
<circle cx="522.5" cy="241.0" r="1.5" fill="#45a2e2" stroke="#1d4c74" stroke-width="0.5"/>
<circle cx="524.2" cy="313.2" r="1.5" fill="#45a2e2" stroke="#1d4c74" stroke-width="0.5"/>
<circle cx="517.8" cy="264.8" r="1.5" fill="#45a2e2" stroke="#1d4c74" stroke-width="0.5"/>
<circle cx="523.6" cy="296.5" r="1.5" fill="#45a2e2" stroke="#1d4c74" stroke-width="0.5"/>
<circle cx="515.3" cy="286.0" r="1.5" fill="#45a2e2" stroke="#1d4c74" stroke-width="0.5"/>
<circle cx="527.8" cy="276.1" r="1.5" fill="#45a2e2" stroke="#1d4c74" stroke-width="0.5"/>
<circle cx="542.8" cy="258.3" r="1.5" fill="#45a2e2" stroke="#1d4c74" stroke-width="0.5"/>
<circle cx="530.9" cy="242.2" r="1.5" fill="#45a2e2" stroke="#1d4c74" stroke-width="0.5"/>
<circle cx="518.4" cy="267.7" r="1.5" fill="#45a2e2" stroke="#1d4c74" stroke-width="0.5"/>
<circle cx="541.5" cy="271.1" r="1.5" fill="#45a2e2" stroke="#1d4c74" stroke-width="0.5"/>
<circle cx="537.5" cy="248.6" r="1.5" fill="#45a2e2" stroke="#1d4c74" stroke-width="0.5"/>
<circle cx="523.7" cy="269.7" r="1.5" fill="#45a2e2" stroke="#1d4c74" stroke-width="0.5"/>
<circle cx="522.8" cy="281.1" r="1.5" fill="#45a2e2" stroke="#1d4c74" stroke-width="0.5"/>
<circle cx="543.0" cy="289.0" r="1.5" fill="#45a2e2" stroke="#1d4c74" stroke-width="0.5"/>
<circle cx="529.4" cy="271.9" r="1.5" fill="#45a2e2" stroke="#1d4c74" stroke-width="0.5"/>
<circle cx="535.9" cy="265.7" r="1.5" fill="#45a2e2" stroke="#1d4c74" stroke-width="0.5"/>
<circle cx="533.8" cy="273.6" r="1.5" fill="#45a2e2" stroke="#1d4c74" stroke-width="0.5"/>
<circle cx="520.3" cy="268.2" r="1.5" fill="#45a2e2" stroke="#1d4c74" stroke-width="0.5"/>
<circle cx="542.1" cy="294.7" r="1.5" fill="#45a2e2" stroke="#1d4c74" stroke-width="0.5"/>
<circle cx="524.7" cy="271.0" r="1.5" fill="#45a2e2" stroke="#1d4c74" stroke-width="0.5"/>
<circle cx="533.9" cy="281.4" r="1.5" fill="#45a2e2" stroke="#1d4c74" stroke-width="0.5"/>
<circle cx="524.2" cy="276.2" r="1.5" fill="#45a2e2" stroke="#1d4c74" stroke-width="0.5"/>
<circle cx="537.0" cy="239.6" r="1.5" fill="#45a2e2" stroke="#1d4c74" stroke-width="0.5"/>
<circle cx="536.5" cy="252.7" r="1.5" fill="#45a2e2" stroke="#1d4c74" stroke-width="0.5"/>
<circle cx="540.4" cy="265.5" r="1.5" fill="#45a2e2" stroke="#1d4c74" stroke-width="0.5"/>
<circle cx="529.7" cy="247.3" r="1.5" fill="#45a2e2" stroke="#1d4c74" stroke-width="0.5"/>
<circle cx="524.8" cy="262.0" r="1.5" fill="#45a2e2" stroke="#1d4c74" stroke-width="0.5"/>
<circle cx="530.8" cy="279.5" r="1.5" fill="#45a2e2" stroke="#1d4c74" stroke-width="0.5"/>
<circle cx="518.4" cy="283.5" r="1.5" fill="#45a2e2" stroke="#1d4c74" stroke-width="0.5"/>
<circle cx="518.0" cy="237.8" r="1.5" fill="#45a2e2" stroke="#1d4c74" stroke-width="0.5"/>
<circle cx="520.5" cy="258.9" r="1.5" fill="#45a2e2" stroke="#1d4c74" stroke-width="0.5"/>
<circle cx="527.2" cy="290.5" r="1.5" fill="#45a2e2" stroke="#1d4c74" stroke-width="0.5"/>
<circle cx="532.3" cy="252.6" r="1.5" fill="#45a2e2" stroke="#1d4c74" stroke-width="0.5"/>
<circle cx="526.7" cy="289.5" r="1.5" fill="#45a2e2" stroke="#1d4c74" stroke-width="0.5"/>
<circle cx="521.0" cy="285.3" r="1.5" fill="#45a2e2" stroke="#1d4c74" stroke-width="0.5"/>
<circle cx="537.8" cy="267.6" r="1.5" fill="#45a2e2" stroke="#1d4c74" stroke-width="0.5"/>
<circle cx="542.6" cy="252.2" r="1.5" fill="#45a2e2" stroke="#1d4c74" stroke-width="0.5"/>
<circle cx="531.1" cy="297.4" r="1.5" fill="#45a2e2" stroke="#1d4c74" stroke-width="0.5"/>
<circle cx="535.0" cy="294.7" r="1.5" fill="#45a2e2" stroke="#1d4c74" stroke-width="0.5"/>
<circle cx="540.0" cy="298.3" r="1.5" fill="#45a2e2" stroke="#1d4c74" stroke-width="0.5"/>
<circle cx="515.2" cy="285.7" r="1.5" fill="#45a2e2" stroke="#1d4c74" stroke-width="0.5"/>
<circle cx="534.3" cy="280.0" r="1.5" fill="#45a2e2" stroke="#1d4c74" stroke-width="0.5"/>
<circle cx="520.7" cy="282.3" r="1.5" fill="#45a2e2" stroke="#1d4c74" stroke-width="0.5"/>
<circle cx="516.2" cy="266.6" r="1.5" fill="#45a2e2" stroke="#1d4c74" stroke-width="0.5"/>
<circle cx="531.5" cy="274.9" r="1.5" fill="#45a2e2" stroke="#1d4c74" stroke-width="0.5"/>
<circle cx="541.0" cy="302.4" r="1.5" fill="#45a2e2" stroke="#1d4c74" stroke-width="0.5"/>
<circle cx="516.6" cy="257.6" r="1.5" fill="#45a2e2" stroke="#1d4c74" stroke-width="0.5"/>
<circle cx="521.9" cy="286.6" r="1.5" fill="#45a2e2" stroke="#1d4c74" stroke-width="0.5"/>
<circle cx="524.5" cy="301.5" r="1.5" fill="#45a2e2" stroke="#1d4c74" stroke-width="0.5"/>
<circle cx="535.2" cy="298.3" r="1.5" fill="#45a2e2" stroke="#1d4c74" stroke-width="0.5"/>
<circle cx="528.0" cy="223.5" r="1.5" fill="#45a2e2" stroke="#1d4c74" stroke-width="0.5"/>
<circle cx="517.3" cy="326.5" r="1.5" fill="#45a2e2" stroke="#1d4c74" stroke-width="0.5"/>
<circle cx="528.5" cy="343.0" r="1.5" fill="#45a2e2" stroke="#1d4c74" stroke-width="0.5"/>
<circle cx="531.0" cy="335.5" r="1.5" fill="#45a2e2" stroke="#1d4c74" stroke-width="0.5"/>
<circle cx="538.5" cy="337.0" r="1.5" fill="#45a2e2" stroke="#1d4c74" stroke-width="0.5"/>
<circle cx="543.5" cy="330.0" r="1.5" fill="#45a2e2" stroke="#1d4c74" stroke-width="0.5"/>
<circle cx="525.0" cy="314.0" r="1.5" fill="#45a2e2" stroke="#1d4c74" stroke-width="0.5"/>
<circle cx="527.0" cy="318.0" r="1.5" fill="#45a2e2" stroke="#1d4c74" stroke-width="0.5"/>
<circle cx="515.5" cy="316.0" r="1.5" fill="#45a2e2" stroke="#1d4c74" stroke-width="0.5"/>
<circle cx="542.5" cy="310.0" r="1.5" fill="#45a2e2" stroke="#1d4c74" stroke-width="0.5"/>
<circle cx="524.0" cy="340.5" r="1.5" fill="#45a2e2" stroke="#1d4c74" stroke-width="0.5"/>
<circle cx="488.5" cy="226.4" r="1.5" fill="#7cbf5d" stroke="#3f6e2e" stroke-width="0.5"/>
<circle cx="488.6" cy="228.0" r="1.5" fill="#7cbf5d" stroke="#3f6e2e" stroke-width="0.5"/>
<circle cx="487.5" cy="232.4" r="1.5" fill="#7cbf5d" stroke="#3f6e2e" stroke-width="0.5"/>
<circle cx="500.8" cy="236.2" r="1.5" fill="#7cbf5d" stroke="#3f6e2e" stroke-width="0.5"/>
<circle cx="503.3" cy="239.3" r="1.5" fill="#7cbf5d" stroke="#3f6e2e" stroke-width="0.5"/>
<circle cx="483.4" cy="241.5" r="1.5" fill="#7cbf5d" stroke="#3f6e2e" stroke-width="0.5"/>
<circle cx="498.3" cy="243.1" r="1.5" fill="#7cbf5d" stroke="#3f6e2e" stroke-width="0.5"/>
<circle cx="507.0" cy="248.7" r="1.5" fill="#7cbf5d" stroke="#3f6e2e" stroke-width="0.5"/>
<circle cx="487.2" cy="251.7" r="1.5" fill="#7cbf5d" stroke="#3f6e2e" stroke-width="0.5"/>
<circle cx="497.6" cy="252.0" r="1.5" fill="#7cbf5d" stroke="#3f6e2e" stroke-width="0.5"/>
<circle cx="480.8" cy="256.8" r="1.5" fill="#7cbf5d" stroke="#3f6e2e" stroke-width="0.5"/>
<circle cx="506.6" cy="257.0" r="1.5" fill="#7cbf5d" stroke="#3f6e2e" stroke-width="0.5"/>
<circle cx="493.6" cy="255.5" r="1.5" fill="#7cbf5d" stroke="#3f6e2e" stroke-width="0.5"/>
<circle cx="484.8" cy="261.8" r="1.5" fill="#7cbf5d" stroke="#3f6e2e" stroke-width="0.5"/>
<circle cx="486.1" cy="263.2" r="1.5" fill="#7cbf5d" stroke="#3f6e2e" stroke-width="0.5"/>
<circle cx="494.4" cy="260.8" r="1.5" fill="#7cbf5d" stroke="#3f6e2e" stroke-width="0.5"/>
<circle cx="501.4" cy="259.8" r="1.5" fill="#7cbf5d" stroke="#3f6e2e" stroke-width="0.5"/>
<circle cx="502.4" cy="262.2" r="1.5" fill="#7cbf5d" stroke="#3f6e2e" stroke-width="0.5"/>
<circle cx="503.8" cy="272.1" r="1.5" fill="#7cbf5d" stroke="#3f6e2e" stroke-width="0.5"/>
<circle cx="490.0" cy="274.5" r="1.5" fill="#7cbf5d" stroke="#3f6e2e" stroke-width="0.5"/>
<circle cx="503.5" cy="273.5" r="1.5" fill="#7cbf5d" stroke="#3f6e2e" stroke-width="0.5"/>
<circle cx="493.5" cy="275.0" r="1.5" fill="#7cbf5d" stroke="#3f6e2e" stroke-width="0.5"/>
<circle cx="490.8" cy="287.0" r="1.5" fill="#7cbf5d" stroke="#3f6e2e" stroke-width="0.5"/>
<circle cx="503.5" cy="282.6" r="1.5" fill="#7cbf5d" stroke="#3f6e2e" stroke-width="0.5"/>
<circle cx="490.7" cy="290.4" r="1.5" fill="#7cbf5d" stroke="#3f6e2e" stroke-width="0.5"/>
<circle cx="504.3" cy="298.8" r="1.5" fill="#7cbf5d" stroke="#3f6e2e" stroke-width="0.5"/>
<circle cx="506.0" cy="215.1" r="1.5" fill="#7cbf5d" stroke="#3f6e2e" stroke-width="0.5"/>
<circle cx="506.4" cy="341.5" r="1.5" fill="#7cbf5d" stroke="#3f6e2e" stroke-width="0.5"/>
</g>
<g id="pf">
<text x="618" y="194.6" font-size="8.9" textLength="49" lengthAdjust="spacingAndGlyphs">PRJEB23709</text>
<text x="618" y="204.8" font-size="8.9" textLength="48" lengthAdjust="spacingAndGlyphs">(melanoma)</text>
<rect x="601.9" y="209.5" width="80.8" height="141.6" fill="none" stroke="#9a9a9a" stroke-width="0.9"/>
<path d="M597.6 237.9H601.9" stroke="#9a9a9a" stroke-width="0.9"/>
<text x="594" y="240.6" font-size="7.8" text-anchor="end">1.00</text>
<path d="M597.6 277.9H601.9" stroke="#9a9a9a" stroke-width="0.9"/>
<text x="594" y="280.6" font-size="7.8" text-anchor="end">0.75</text>
<path d="M597.6 317.8H601.9" stroke="#9a9a9a" stroke-width="0.9"/>
<text x="594" y="320.5" font-size="7.8" text-anchor="end">0.50</text>
<text transform="translate(571.8,279.5) rotate(-90)" font-size="9" text-anchor="middle">COTL1<tspan font-size="5.4" dy="-3">high</tspan><tspan dy="3"> signature score</tspan></text>
<path d="M624.2 351.1V354.7" stroke="#9a9a9a" stroke-width="0.9"/>
<path d="M661.4 351.1V354.7" stroke="#9a9a9a" stroke-width="0.9"/>
<text x="624.2" y="365" font-size="7.8" text-anchor="middle">Responder</text>
<text x="661.4" y="365" font-size="7.8" text-anchor="middle">Non-</text>
<text x="661.4" y="373.5" font-size="7.8" text-anchor="middle">responder</text>
<text x="634.7" y="216.6" font-size="7.8" textLength="25.6" lengthAdjust="spacingAndGlyphs">P = 0.01</text>
<path d="M623.7 215.8V240.6M623.7 278.2V312.5" stroke="#666" stroke-width="0.8"/>
<rect x="610.2" y="240.6" width="27.5" height="37.6" fill="none" stroke="#555" stroke-width="0.8"/>
<path d="M610.2 267.5H637.7" stroke="#333" stroke-width="1"/>
<path d="M661.1 224V266.4M661.1 301.4V345" stroke="#666" stroke-width="0.8"/>
<rect x="647.4" y="266.4" width="27.5" height="35.0" fill="none" stroke="#555" stroke-width="0.8"/>
<path d="M647.4 288.3H674.9" stroke="#333" stroke-width="1"/>
<circle cx="665.3" cy="223.9" r="1.5" fill="#45a2e2" stroke="#1d4c74" stroke-width="0.5"/>
<circle cx="667.1" cy="239.7" r="1.5" fill="#45a2e2" stroke="#1d4c74" stroke-width="0.5"/>
<circle cx="674.8" cy="249.2" r="1.5" fill="#45a2e2" stroke="#1d4c74" stroke-width="0.5"/>
<circle cx="649.5" cy="254.8" r="1.5" fill="#45a2e2" stroke="#1d4c74" stroke-width="0.5"/>
<circle cx="653.8" cy="251.6" r="1.5" fill="#45a2e2" stroke="#1d4c74" stroke-width="0.5"/>
<circle cx="652.0" cy="256.5" r="1.5" fill="#45a2e2" stroke="#1d4c74" stroke-width="0.5"/>
<circle cx="654.1" cy="273.0" r="1.5" fill="#45a2e2" stroke="#1d4c74" stroke-width="0.5"/>
<circle cx="658.3" cy="274.8" r="1.5" fill="#45a2e2" stroke="#1d4c74" stroke-width="0.5"/>
<circle cx="662.9" cy="274.8" r="1.5" fill="#45a2e2" stroke="#1d4c74" stroke-width="0.5"/>
<circle cx="653.1" cy="277.3" r="1.5" fill="#45a2e2" stroke="#1d4c74" stroke-width="0.5"/>
<circle cx="656.6" cy="288.1" r="1.5" fill="#45a2e2" stroke="#1d4c74" stroke-width="0.5"/>
<circle cx="661.8" cy="288.1" r="1.5" fill="#45a2e2" stroke="#1d4c74" stroke-width="0.5"/>
<circle cx="671.0" cy="287.4" r="1.5" fill="#45a2e2" stroke="#1d4c74" stroke-width="0.5"/>
<circle cx="654.8" cy="294.1" r="1.5" fill="#45a2e2" stroke="#1d4c74" stroke-width="0.5"/>
<circle cx="661.1" cy="294.1" r="1.5" fill="#45a2e2" stroke="#1d4c74" stroke-width="0.5"/>
<circle cx="665.3" cy="292.4" r="1.5" fill="#45a2e2" stroke="#1d4c74" stroke-width="0.5"/>
<circle cx="654.1" cy="298.3" r="1.5" fill="#45a2e2" stroke="#1d4c74" stroke-width="0.5"/>
<circle cx="669.9" cy="300.1" r="1.5" fill="#45a2e2" stroke="#1d4c74" stroke-width="0.5"/>
<circle cx="671.7" cy="303.6" r="1.5" fill="#45a2e2" stroke="#1d4c74" stroke-width="0.5"/>
<circle cx="673.1" cy="311.7" r="1.5" fill="#45a2e2" stroke="#1d4c74" stroke-width="0.5"/>
<circle cx="662.9" cy="305.7" r="1.5" fill="#45a2e2" stroke="#1d4c74" stroke-width="0.5"/>
<circle cx="656.6" cy="314.1" r="1.5" fill="#45a2e2" stroke="#1d4c74" stroke-width="0.5"/>
<circle cx="667.4" cy="327.5" r="1.5" fill="#45a2e2" stroke="#1d4c74" stroke-width="0.5"/>
<circle cx="662.5" cy="344.0" r="1.5" fill="#45a2e2" stroke="#1d4c74" stroke-width="0.5"/>
<circle cx="622.5" cy="215.1" r="1.5" fill="#7cbf5d" stroke="#3f6e2e" stroke-width="0.5"/>
<circle cx="616.9" cy="230.2" r="1.5" fill="#7cbf5d" stroke="#3f6e2e" stroke-width="0.5"/>
<circle cx="617.2" cy="232.0" r="1.5" fill="#7cbf5d" stroke="#3f6e2e" stroke-width="0.5"/>
<circle cx="636.5" cy="233.7" r="1.5" fill="#7cbf5d" stroke="#3f6e2e" stroke-width="0.5"/>
<circle cx="623.9" cy="240.7" r="1.5" fill="#7cbf5d" stroke="#3f6e2e" stroke-width="0.5"/>
<circle cx="615.1" cy="245.0" r="1.5" fill="#7cbf5d" stroke="#3f6e2e" stroke-width="0.5"/>
<circle cx="629.2" cy="246.7" r="1.5" fill="#7cbf5d" stroke="#3f6e2e" stroke-width="0.5"/>
<circle cx="609.2" cy="260.8" r="1.5" fill="#7cbf5d" stroke="#3f6e2e" stroke-width="0.5"/>
<circle cx="622.2" cy="267.1" r="1.5" fill="#7cbf5d" stroke="#3f6e2e" stroke-width="0.5"/>
<circle cx="616.2" cy="270.6" r="1.5" fill="#7cbf5d" stroke="#3f6e2e" stroke-width="0.5"/>
<circle cx="627.4" cy="272.0" r="1.5" fill="#7cbf5d" stroke="#3f6e2e" stroke-width="0.5"/>
<circle cx="633.7" cy="269.5" r="1.5" fill="#7cbf5d" stroke="#3f6e2e" stroke-width="0.5"/>
<circle cx="623.2" cy="278.3" r="1.5" fill="#7cbf5d" stroke="#3f6e2e" stroke-width="0.5"/>
<circle cx="632.0" cy="279.0" r="1.5" fill="#7cbf5d" stroke="#3f6e2e" stroke-width="0.5"/>
<circle cx="625.0" cy="285.3" r="1.5" fill="#7cbf5d" stroke="#3f6e2e" stroke-width="0.5"/>
<circle cx="610.9" cy="300.1" r="1.5" fill="#7cbf5d" stroke="#3f6e2e" stroke-width="0.5"/>
<circle cx="633.0" cy="312.7" r="1.5" fill="#7cbf5d" stroke="#3f6e2e" stroke-width="0.5"/>
</g>
<g id="pg">
<defs>
<filter id="tb1" x="0" y="0" width="100%" height="100%" color-interpolation-filters="sRGB"><feTurbulence type="fractalNoise" baseFrequency="0.24" numOctaves="3" seed="4" result="n"/><feColorMatrix in="n" type="matrix" values="1 0 0 0 0  1 0 0 0 0  1 0 0 0 0  0 0 0 0 1" result="nn"/><feGaussianBlur in="SourceGraphic" stdDeviation="2.6" result="m"/><feComposite in="nn" in2="m" operator="arithmetic" k1="0" k2="1" k3="0.3" k4="0" result="v"/><feComponentTransfer in="v"><feFuncR type="table" tableValues="0.239 0.239 0.239 0.239 0.239 0.239 0.239 0.239 0.239 0.239 0.239 0.199 0.158 0.132 0.106 0.113 0.155 0.197 0.289 0.382 0.471 0.557 0.644 0.708 0.764 0.815 0.858 0.901 0.938 0.957 0.976 0.993 0.990 0.987 0.984 0.969 0.954 0.939 0.924 0.900 0.875"/><feFuncG type="table" tableValues="0.611 0.611 0.611 0.611 0.611 0.611 0.611 0.611 0.611 0.611 0.611 0.673 0.736 0.788 0.840 0.882 0.916 0.949 0.967 0.985 0.993 0.992 0.990 0.964 0.941 0.916 0.878 0.841 0.801 0.757 0.713 0.667 0.609 0.551 0.493 0.450 0.407 0.365 0.322 0.289 0.258"/><feFuncB type="table" tableValues="0.984 0.984 0.984 0.984 0.984 0.984 0.984 0.984 0.984 0.984 0.984 0.953 0.923 0.859 0.794 0.729 0.662 0.595 0.511 0.428 0.355 0.294 0.234 0.222 0.212 0.206 0.214 0.221 0.225 0.217 0.210 0.200 0.176 0.152 0.128 0.111 0.093 0.075 0.058 0.047 0.039"/><feFuncA type="linear" slope="0" intercept="1"/></feComponentTransfer></filter>
<filter id="tb3" x="0" y="0" width="100%" height="100%" color-interpolation-filters="sRGB"><feTurbulence type="fractalNoise" baseFrequency="0.32" numOctaves="3" seed="9" result="n"/><feColorMatrix in="n" type="matrix" values="1 0 0 0 0  1 0 0 0 0  1 0 0 0 0  0 0 0 0 1" result="nn"/><feGaussianBlur in="SourceGraphic" stdDeviation="1.8" result="m"/><feComposite in="nn" in2="m" operator="arithmetic" k1="0" k2="1" k3="0.3" k4="0" result="v"/><feComponentTransfer in="v"><feFuncR type="table" tableValues="0.106 0.106 0.106 0.106 0.106 0.106 0.106 0.106 0.106 0.106 0.106 0.105 0.138 0.170 0.206 0.275 0.345 0.416 0.493 0.568 0.644 0.692 0.740 0.789 0.841 0.892 0.938 0.962 0.986 0.992 0.989 0.987 0.984 0.970 0.954 0.940 0.927 0.908 0.886 0.864 0.841"/><feFuncG type="table" tableValues="0.840 0.840 0.840 0.840 0.840 0.840 0.840 0.840 0.840 0.840 0.840 0.876 0.902 0.927 0.951 0.964 0.978 0.992 0.993 0.991 0.990 0.970 0.951 0.931 0.893 0.848 0.801 0.746 0.691 0.648 0.599 0.551 0.503 0.455 0.407 0.369 0.332 0.299 0.271 0.244 0.216"/><feFuncB type="table" tableValues="0.794 0.794 0.794 0.794 0.794 0.794 0.794 0.794 0.794 0.794 0.794 0.742 0.689 0.638 0.586 0.524 0.461 0.396 0.340 0.287 0.234 0.225 0.216 0.207 0.211 0.220 0.225 0.216 0.206 0.192 0.172 0.152 0.132 0.113 0.093 0.077 0.062 0.050 0.043 0.035 0.027"/><feFuncA type="linear" slope="0" intercept="1"/></feComponentTransfer></filter>
<clipPath id="cg1"><path d="M15.7 397.4 L22.4 395.1 L29.1 395.9 L34.3 398.1 L43.3 397.4 L49.3 401.9 L53.7 404.9 L59.7 406.3 L67.2 409.3 L71.6 415.3 L70.1 424.3 L65.7 428.7 L59.7 433.2 L56.7 440.7 L52.2 446.6 L46.3 449.6 L37.3 451.1 L29.9 450.4 L23.9 446.6 L19.4 439.2 L14.9 431.7 L12.7 422.8 L11.9 413.8 L13.4 404.9 Z"/></clipPath>
<clipPath id="cg3"><path d="M16.4 469.9 L23.9 469.2 L31.3 470.7 L38.8 472.9 L43.3 475.9 L47.8 474.4 L56.7 475.1 L62.7 477.4 L67.2 481.9 L70.1 489.3 L70.1 496.8 L67.2 504.3 L62.7 510.2 L58.2 516.2 L53.7 520.7 L47.8 525.1 L43.3 528.1 L38.8 526.6 L34.3 520.7 L31.3 514.7 L29.9 507.2 L26.9 501.3 L22.4 493.8 L17.9 487.8 L14.9 478.9 Z"/></clipPath>
<filter id="bl2"><feGaussianBlur stdDeviation="2.2"/></filter>
<linearGradient id="turboH" x1="0" y1="0" x2="1" y2="0"><stop offset="0.000" stop-color="#30123b"/><stop offset="0.062" stop-color="#4040a1"/><stop offset="0.125" stop-color="#466be3"/><stop offset="0.188" stop-color="#4193fe"/><stop offset="0.250" stop-color="#28bbeb"/><stop offset="0.312" stop-color="#17dcc2"/><stop offset="0.375" stop-color="#32f197"/><stop offset="0.438" stop-color="#6dfd62"/><stop offset="0.500" stop-color="#a4fc3b"/><stop offset="0.562" stop-color="#cdeb34"/><stop offset="0.625" stop-color="#edcf39"/><stop offset="0.688" stop-color="#fdab33"/><stop offset="0.750" stop-color="#fa7d20"/><stop offset="0.812" stop-color="#ea500d"/><stop offset="0.875" stop-color="#d02f04"/><stop offset="0.938" stop-color="#a91501"/><stop offset="1.000" stop-color="#7a0402"/></linearGradient>
</defs>
<g clip-path="url(#cg1)">
<g filter="url(#tb1)"><rect x="11" y="392" width="63" height="62" fill="#000"/><path d="M12.5 404L14.9 396.6L20 394.9L27 396L32 398" fill="none" stroke="#fff" stroke-width="5"/><path d="M44 397.5L50 401.5L55 405L61 407.2L68 410.2L72 415.5L71 421L66 427L60 433L57.5 441" fill="none" stroke="#fff" stroke-width="7"/><path d="M57 442L53 447L47 450.5L40 452L30 451" fill="none" stroke="#fff" stroke-width="4.5"/><path d="M12 408L12.5 423L15 432L19 440L23 446" fill="none" stroke="#888" stroke-width="3.5"/></g>
</g>
<g clip-path="url(#cg3)">
<g filter="url(#tb3)"><rect x="11" y="467" width="63" height="62" fill="#000"/><path d="M56.7 475.1L62.7 477.4L67.2 481.9L70.1 489.3L70.1 496.8L67.2 504.3L62.7 510.2L58.2 516.2" fill="none" stroke="#fff" stroke-width="4"/></g>
<path transform="scale(.25)" d="M165 1916h0m-4 0h0m0-6h0m0 7h0m0-3h0m-2-1h0m-1-4h0m-1 3h0m0 6h0m0-6h0m-1 6h0m-2-3h0m-1 1h0m-1-5h0m0 5h0m-2 2h0m3 4h0m5 5h0m2-3h0m1 2h0m4 0h0" stroke="#2a2a8a" stroke-width="5.6" stroke-linecap="square" fill="none"/>
<path transform="scale(.25)" d="M202 1918h0m-4 1h0m-1-8h0m-6 13h0m1-2h0m1 2h0m1 2h0m1 1h0m1 1h0m0 3h0m5-3h0m2-7h0m1 2h0m0 6h0m1-3h0m3 4h0m1-4h0m5 4h0m1-9h0m2 3h0m-13 8h0m-12 3h0" stroke="#26227a" stroke-width="5.6" stroke-linecap="square" fill="none"/>
<path transform="scale(.25)" d="M234 1930h0m1-1h0m-4 10h0m-2-4h0m-2-2h0m0 4h0m-3-3h0m-1-2h0m0 3h0m-1 4h0m0-7h0m-3 6h0m0-1h0m-11 5h0m14 4h0" stroke="#3060c8" stroke-width="5.6" stroke-linecap="square" fill="none"/>
<path transform="scale(.25)" d="M233 1941h0m0 2h0m-10-4h0m-1 2h0m-2 4h0m2 3h0m2-3h0m0 0h0m4 1h0m3-2h0m1 2h0m3 1h0" stroke="#2c3c9c" stroke-width="5.6" stroke-linecap="square" fill="none"/>
<path transform="scale(.25)" d="M129 2033h0m-3-1h0m-3 19h0m1-8h0m1 1h0m2-3h0m0 2h0m1 3h0m1 1h0m1-5h0m0 4h0m3-1h0m0-1h0m2 4h0m-2 6h0m-2-1h0m-3 1h0m-9-1h0" stroke="#262a80" stroke-width="5.6" stroke-linecap="square" fill="none"/>
<path transform="scale(.25)" d="M135 2046h0m10 13h0m0 0h0m-4-4h0m-1-1h0m-2 1h0m0 2h0m-2-5h0m-3 6h0m0 4h0m-2-9h0m-2 3h0m0-1h0m0 12h0" stroke="#3a58c0" stroke-width="5.6" stroke-linecap="square" fill="none"/>
<path transform="scale(.25)" d="M180 2051h0m14 4h0m-2 7h0m0 1h0m-1-10h0m-4 6h0m-2-3h0m0 6h0m0-1h0m-1-2h0m-1-5h0m-2 6h0m3 4h0m4 3h0" stroke="#221c6c" stroke-width="5.6" stroke-linecap="square" fill="none"/>
<path transform="scale(.25)" d="M178 2076h0m-5 8h0m-1-4h0m-2-1h0m0 8h0m0-2h0m0-1h0m-3-6h0m0 9h0m1 5h0m4-1h0m9-2h0" stroke="#2c2a8a" stroke-width="5.6" stroke-linecap="square" fill="none"/>
<path transform="scale(.25)" d="M113 1895h0m-1 0h0m-5-1h0m-1-1h0m-4 5h0m2 2h0m1-2h0m2 1h0m0-1h0m1 5h0m2-2h0m2-1h0m1 4h0" stroke="#3a70d8" stroke-width="5.6" stroke-linecap="square" fill="none"/>
<path transform="scale(.25)" d="M262 1989h0m-1-3h0m0 3h0m0-1h0m-1 1h0m-1 1h0m-1-8h0m-3 3h0m0 4h0m-6 1h0" stroke="#3a70d8" stroke-width="5.6" stroke-linecap="square" fill="none"/>
<path transform="scale(.25)" d="M248 2027h0m2 0h0m5 2h0m0 6h0m-2-3h0m-4 3h0m0-2h0m-2-1h0m-2-1h0" stroke="#3a70d8" stroke-width="5.6" stroke-linecap="square" fill="none"/>
<path transform="scale(.25)" d="M117 2021h0m1-2h0m1 3h0m1 3h0m1-4h0m0 2h0m1-4h0m2 7h0m0-1h0m-4 3h0m-2 1h0" stroke="#2a48a8" stroke-width="5.6" stroke-linecap="square" fill="none"/>
<path transform="scale(.25)" d="M75 1955h0m3-5h0m1-2h0m0 0h0m1 5h0m1 0h0m3-3h0m2 5h0m-2 3h0m-7-2h0" stroke="#4090e0" stroke-width="5.6" stroke-linecap="square" fill="none"/>
<path transform="scale(.25)" d="M170 1955h0m5-1h0m2-4h0m1 0h0m1 5h0m3-1h0m-6 2h0m-2 3h0" stroke="#3a70d8" stroke-width="5.6" stroke-linecap="square" fill="none"/>
<path transform="scale(.25)" d="M139 2092h0m4 2h0m2-4h0m0 3h0m1 1h0m1 0h0m0 4h0m1-4h0m1 2h0m-3 4h0" stroke="#3a70d8" stroke-width="5.6" stroke-linecap="square" fill="none"/>
<path transform="scale(.25)" d="M241 1907h0m4 6h0m-1-3h0m-1 0h0m-1 3h0m-1-1h0m-1 1h0m-4 1h0m-1 0h0" stroke="#4090e0" stroke-width="5.6" stroke-linecap="square" fill="none"/>
</g>
<path d="M80.8 397.4 L87.5 395.1 L94.2 395.9 L99.4 398.1 L108.4 397.4 L114.4 401.9 L118.8 404.9 L124.8 406.3 L132.3 409.3 L136.7 415.3 L135.2 424.3 L130.8 428.7 L124.8 433.2 L121.8 440.7 L117.3 446.6 L111.4 449.6 L102.4 451.1 L95 450.4 L89 446.6 L84.5 439.2 L80 431.7 L77.8 422.8 L77 413.8 L78.5 404.9 Z" fill="#cbcbcb"/>
<path d="M81.5 469.9 L89 469.2 L96.4 470.7 L103.9 472.9 L108.4 475.9 L112.9 474.4 L121.8 475.1 L127.8 477.4 L132.3 481.9 L135.2 489.3 L135.2 496.8 L132.3 504.3 L127.8 510.2 L123.3 516.2 L118.8 520.7 L112.9 525.1 L108.4 528.1 L103.9 526.6 L99.4 520.7 L96.4 514.7 L95 507.2 L92 501.3 L87.5 493.8 L83 487.8 L80 478.9 Z" fill="#cbcbcb"/>
<path transform="scale(.25)" d="M347 1588h0m5-4h0m1 4h0m1-1h0m4 0h0m0 1h0m5 0h0m0 3h0m6 0h0m0 0h0m3 0h0m0-2h0m0 2h0m1 0h0m2 3h0m-1 5h0m-1-1h0m0-1h0m-40 9h0m0-7h0m-1 0h0m0 3h0m0 1h0m-1 4h0m0-3h0m2 9h0m132 14h0m-132 3h0m-2-1h0m-2-3h0m-1 3h0m-1-3h0m0-4h0m0-1h0m0 4h0m-1 1h0m4 6h0m2 2h0m2 5h0m0 1h0m0-4h0m0-2h0m1 6h0m0 0h0m0-1h0m2 2h0m37 1h0m89-10h0m0 1h0m3-1h0m2 3h0m2 2h0m2 5h0m0-2h0m4 2h0m18 1h0m2-3h0m1 2h0m3-5h0m1 0h0m3 5h0m16 4h0m-1 7h0m0 1h0m-1-5h0m-5-2h0m-1 5h0m0-6h0m-2 4h0m0-2h0m-3 0h0m-2 0h0m-3-4h0m-1 4h0m-20 6h0m-1 1h0m-1-10h0m-2 9h0m-1-9h0m0 2h0m-1 3h0m-1-6h0m-1 1h0m-20 6h0m0 1h0m-1 0h0m0 2h0m-1-3h0m-3 2h0m-65-8h0m0 4h0m-2-1h0m0 1h0m0-1h0m-4 5h0m0-4h0m-1-1h0m-2 5h0m0-9h0m0 2h0m-1 8h0m0 1h0m-1-3h0m-2 3h0m-1 0h0m0 0h0m-34-11h0m10 23h0m4-2h0m4 2h0m0-2h0m1 1h0m1-2h0m6 0h0m4-5h0m0-1h0m2 2h0m1-4h0m74 10h0m0-1h0m1 0h0m3-5h0m0 3h0m2-3h0m70-1h0m3 2h0m1 1h0m1-4h0m0 0h0m1 5h0m0 0h0m5-3h0m-8 8h0m-1 2h0m-1-1h0m-1 7h0m0-5h0m-1 1h0m-2 3h0m0-1h0m-1 0h0m0-3h0m-1 4h0m-169-3h0m-3-1h0m0-3h0m-1 5h0m-1-3h0m-8 9h0m-2-7h0m0 2h0m-3 0h0m0 5h0m0-4h0m0 3h0m0-2h0m-4 2h0m-5 9h0m6-5h0m2-2h0m184 0h0m1 0h0m-3 21h0m-3 0h0m-3-5h0m-8 10h0m5 0h0m3 4h0m0-4h0m3 4h0m2-1h0m1-3h0m2 8h0m0 0h0m4-3h0m0-2h0m4 6h0m8 9h0m-1-6h0m-1 1h0m0 1h0m-1 5h0m-1-4h0m0 1h0m0 0h0m0-1h0m-4 1h0m-1-3h0m-1 1h0m-1 0h0m-1-4h0m2 14h0m5 0h0m5 1h0m-41 11h0m-2 2h0m-1 0h0m0-1h0m0 2h0m-4-1h0m12 22h0m-4 2h0m-1 1h0m-1 1h0m-71 17h0m44 9h0m-6 2h0m-1 0h0m-1 1h0m-1-1h0m-5 1h0m-11 0h0m-1-3h0m0 1h0m-2 2h0m-1-4h0m-2 0h0m0 0h0m-1-1h0m-4-2h0m0 2h0m-2-2h0m-2-2h0m0-2h0m-1 6h0m0-2h0m21 11h0m15-2h0m-109 111h0m-16 9h0m7 0h0m202 20h0m-3 0h0m-155 27h0m-4 22h0m119 48h0m2 16h0m-20 20h0m-42 16h0m4 0h0" stroke="#4a8cc4" stroke-width="4.6" stroke-linecap="square" fill="none"/>
<path transform="scale(.25)" d="M348 1586h0m-35 42h0m155 4h0m22 7h0m4 11h0m-39 13h0m39 11h0m-146-4h0m-18 2h0m187 11h0m4 18h0m-13 0h0m-9 9h0m13 9h0m-8 7h0m-25 26h0m7 18h0m-49 30h0m5 1h0m-102 76h0m3-2h0m151 21h0m6 2h0m6 4h0m6 4h0m-75 4h0m89 20h0m3 6h0m5 12h0m5 13h0m0 22h0m-166 5h0m22 8h0m117 40h0m-3 4h0m-10 14h0m-21 21h0m3-3h0m3-3h0m-38 16h0m9 13h0" stroke="#ae3566" stroke-width="4.6" stroke-linecap="square" fill="none"/>
<rect x="11.2" y="392.5" width="62" height="61" fill="none" stroke="#333" stroke-width="0.9"/>
<rect x="76.3" y="392.5" width="62" height="61" fill="none" stroke="#333" stroke-width="0.9"/>
<rect x="11.2" y="467.4" width="62" height="61" fill="none" stroke="#333" stroke-width="0.9"/>
<rect x="76.3" y="467.4" width="62" height="61" fill="none" stroke="#333" stroke-width="0.9"/>
<text x="74.7" y="388.8" font-size="9" text-anchor="middle">Responder</text>
<text x="74.5" y="464.5" font-size="9" text-anchor="middle">Non-responder</text>
<text transform="translate(8.2,422.5) rotate(-90)" font-size="8.4" text-anchor="middle">GSM6248652</text>
<text transform="translate(8.2,498.5) rotate(-90)" font-size="8.4" text-anchor="middle">GSM6248655</text>
<text x="42.4" y="539.6" font-size="9" text-anchor="middle">MHC-I score</text>
<rect x="27.4" y="543" width="30" height="8.7" fill="url(#turboH)"/>
<text x="27.7" y="561" font-size="7.8" text-anchor="middle">Low</text>
<text x="57" y="561" font-size="7.8" text-anchor="middle">High</text>
<path d="M74.4 533.8l2.3 4.2h-4.6z" fill="#a93a68"/>
<text x="81.5" y="539.4" font-size="7.2" textLength="64.1" lengthAdjust="spacingAndGlyphs">GITRL<tspan font-size="5" dy="-3">+</tspan><tspan dy="3"> macrophage</tspan></text>
<rect x="72.4" y="547" width="4" height="4" fill="#4a8cc4"/>
<text x="81.5" y="552" font-size="7.2" textLength="42.5" lengthAdjust="spacingAndGlyphs">COTL1<tspan font-size="5" dy="-3">high</tspan><tspan dy="3"> NK</tspan></text>
</g>
<g id="ph">
<text x="234.7" y="388.6" font-size="8.8" textLength="28.1" lengthAdjust="spacingAndGlyphs">NSCLC</text>
<path d="M239.1 402.8C238.2 403.1 237 405 236 406.5C235 408 233.9 409.9 233 411.6C232.1 413.4 231.1 415.2 230.5 417C229.9 418.8 229.7 420.4 229.4 422.1C229.1 423.8 228.9 425.4 228.8 427C228.7 428.6 228.2 431.1 228.6 431.8C229 432.6 230.5 431.8 231.5 431.5C232.5 431.2 233.6 430.5 234.7 430C235.8 429.5 237 429 238 428.6C239 428.2 239.7 428.2 240.5 427.4C241.3 426.6 242.2 425.3 242.6 423.9C243 422.5 242.8 420.6 242.8 419C242.8 417.4 242.7 415.9 242.6 414.2C242.5 412.5 242.4 410.6 242.2 409C242 407.4 241.9 405.6 241.4 404.6C240.9 403.6 240 402.5 239.1 402.8Z" fill="#eaa3ad" stroke="#d98893" stroke-width="0.5"/>
<path d="M247 404.6C247.7 403 249.1 404.7 250 404.8C250.9 404.9 251.5 404.9 252.3 405.5C253.1 406.1 254.1 407.2 254.8 408.2C255.5 409.2 256 410.4 256.6 411.6C257.2 412.8 257.8 414.1 258.2 415.6C258.6 417.1 258.9 418.7 259.3 420.4C259.7 422.1 260 424.1 260.3 426C260.6 427.9 261.3 430.9 261 431.8C260.7 432.7 259.4 431.6 258.5 431.5C257.6 431.4 256.7 431.2 255.8 430.9C254.9 430.6 253.9 430 253 429.6C252.1 429.2 251.2 428.7 250.5 428.3C249.8 427.9 248.9 427.7 248.5 427.4C248.1 427.1 248.1 427.5 247.9 426.5C247.7 425.5 247.4 422.9 247.2 421.3C247 419.7 246.8 418.2 246.6 417C246.4 415.8 246 416.3 246.1 414.2C246.2 412.1 246.3 406.2 247 404.6Z" fill="#eaa3ad" stroke="#d98893" stroke-width="0.5"/>
<path d="M248.2 425.5q-1.5 -3 0.8 -4.5" fill="none" stroke="#c97882" stroke-width="0.5"/>
<path d="M244.4 395.5V414.5" stroke="#4f7fbf" stroke-width="2.2"/>
<path d="M242.2 394.2h4.4l-1 2.2h-2.4z" fill="#4f7fbf"/>
<path d="M244.4 414l-2.8 3.5M244.4 414l2.8 3.5" stroke="#4f7fbf" stroke-width="1.2"/>
<path d="M243.4 397v16M245.4 397v16" stroke="#3a68a8" stroke-width="0.3" stroke-dasharray="0.6 0.8"/>
<circle cx="254.4" cy="421.8" r="2.8" fill="#d4524a"/>
<path d="M196.1 436.5C197.3 436.4 199.4 436.6 201 436.8C202.6 437.1 204.4 437.4 205.7 438C206.9 438.6 207.8 439.6 208.5 440.6C209.2 441.6 209.8 443 210.1 444.1C210.3 445.2 210.2 446.1 210 447C209.8 447.9 209.7 448.6 209.2 449.4C208.7 450.2 207.7 451.1 207 451.8C206.3 452.5 205.2 452.9 204.9 453.7C204.6 454.5 204.8 455.8 204.9 456.8C205 457.8 205.2 458.9 205.7 459.9C206.2 460.9 207.2 462 207.8 463C208.4 464 208.8 464.9 209.2 466C209.6 467.1 209.9 468.3 210.1 469.5C210.2 470.7 210.4 472 210.1 473.1C209.8 474.2 208.9 475.3 208 476C207.1 476.7 206.2 477.1 204.9 477.5C203.7 477.9 202 478.4 200.5 478.5C199 478.6 197.6 478.6 196.1 478.3C194.6 478 193 477.4 191.5 476.5C190 475.6 188.4 474.7 187.3 473.1C186.2 471.5 185.6 469.4 185 467C184.4 464.6 183.9 461.4 183.8 459C183.7 456.6 183.9 454.6 184.2 452.5C184.5 450.4 184.9 448.4 185.5 446.7C186.1 445 186.8 443.5 187.7 442.2C188.6 440.9 189.8 439.6 190.8 438.8C191.8 438 192.6 437.5 193.5 437.1C194.4 436.7 194.8 436.6 196.1 436.5Z" fill="#b86656" stroke="#93503f" stroke-width="0.8"/>
<path d="M196 439.2C197.5 439 199.5 439.3 201 439.6C202.5 439.9 203.8 440.4 204.8 441C205.9 441.6 206.8 442.5 207.3 443.5C207.8 444.5 207.9 445.8 207.6 447C207.3 448.2 206.4 449.4 205.5 450.5C204.6 451.6 202.9 452.2 202.3 453.5C201.7 454.8 201.7 456.6 202 458C202.3 459.4 203.2 460.7 204 462C204.8 463.3 205.9 464.6 206.5 466C207.1 467.4 207.4 469.2 207.4 470.5C207.4 471.8 207.3 473.1 206.5 474C205.7 474.9 204.2 475.6 202.5 476C200.8 476.4 198.4 476.6 196.5 476.3C194.6 476.1 192.4 475.5 191 474.5C189.6 473.5 188.8 472.2 188 470.5C187.2 468.8 186.8 466.2 186.5 464C186.2 461.8 186.2 459.3 186.3 457C186.4 454.7 186.6 452.1 187 450C187.4 447.9 188.2 446 189 444.5C189.8 443 190.8 441.7 192 440.8C193.2 439.9 194.5 439.4 196 439.2Z" fill="#cd8271" stroke="#a85a4a" stroke-width="0.35"/>
<path d="M189 447l5 3M188 455h5M189 463l4-2M199 441l1 5M205 445l-3 3" stroke="#a04c40" stroke-width="0.7"/>
<path d="M191 449.5l1.5 0.8M190.5 455h1.8M192 461l1.4 -0.8M198.5 444l0.3 1.5M203 447l-0.8 0.8" stroke="#8e3a30" stroke-width="1.6"/>
<path d="M194.5 448.5q4-2.5 8 -1.5q4.5 1 6.5 4.5l0.8 5q-1 3 -3.5 4.5q-3 2 -7 1q-4 -1.5 -5.5 -5q-1 -5 0.7 -8.5z" fill="#b7962c" stroke="#8c7020" stroke-width="0.3" stroke-dasharray="0.6 0.9"/>
<path d="M207 460q3 5 3.3 10q0.3 5 0.3 9" fill="none" stroke="#c2a032" stroke-width="2.2"/>
<path d="M203 452.5q5 -1.5 10.8 -1l0 2.2q-5 0 -10 1.5z" fill="#d22b2b"/>
<path d="M205.5 454.8l8.3 0.2v2.3l-8.3 -0.4z" fill="#6a5fb5"/>
<path d="M200 450l3.5 2.5" stroke="#d22b2b" stroke-width="0.8"/>
<ellipse cx="197.3" cy="467.5" rx="8.3" ry="7.2" fill="#f4dba4" stroke="#c9a060" stroke-width="0.4"/>
<path d="M193 466l3 1.5l3-2.5M196 467.5l0.5 4M199 465l2.5 2.5M193.5 470l2.5-2" fill="none" stroke="#c9a060" stroke-width="0.45"/>
<text x="164.2" y="460.9" font-size="8.8" text-anchor="middle">ccRCC</text>
<text x="236.1" y="458.4" font-size="8.8" textLength="13.5" lengthAdjust="spacingAndGlyphs">ICB</text>
<text x="243.5" y="468.5" font-size="8.8" text-anchor="middle">therapy</text>
<circle cx="288.2" cy="458" r="18.2" fill="#f0d2b2"/>
<defs><radialGradient id="mel" cx="0.45" cy="0.42" r="0.6"><stop offset="0" stop-color="#b83a4a"/><stop offset="0.7" stop-color="#9c2438"/><stop offset="1" stop-color="#7e1a2c"/></radialGradient></defs>
<path d="M280.3 457.5q0.3 -7 7.8 -8.5q7.5 -0.6 9.2 6.5q1 7 -5 9.8q-6 2.4 -10.2 -1.3q-2 -2.5 -1.8 -6.5z" fill="url(#mel)"/>
<path d="M287.5 452.5l2.5 0.6" stroke="#4a1020" stroke-width="0.6"/>
<text x="312.2" y="461" font-size="8.8" textLength="18.6" lengthAdjust="spacingAndGlyphs">MCC</text>
<path d="M224.6 514.5V494.5Q224.8 491.5 228.5 492.3Q237 498.2 245.8 492.2Q249.2 490.2 249.3 494.2V507Q249 512 243.5 513.6Q238.8 515 238.6 519.5" fill="none" stroke="#e4a7a7" stroke-width="6.6" stroke-linejoin="round"/>
<path d="M238.6 518V526.3" stroke="#e4a7a7" stroke-width="3.9" stroke-linecap="round"/>
<path d="M224.6 514.5V494.5Q224.8 491.5 228.5 492.3Q237 498.2 245.8 492.2Q249.2 490.2 249.3 494.2V507Q249 512 243.5 513.6Q238.8 515 238.6 519.5" fill="none" stroke="#f0c2c2" stroke-width="5.6" stroke-linejoin="round"/>
<path d="M238.6 518V526.3" stroke="#f0c2c2" stroke-width="3" stroke-linecap="round"/>
<path d="M224.6 514.5q0.5 1.5 2.5 1.5M229.6 516.2l0.8 2.6" fill="none" stroke="#efbcbc" stroke-width="1.3" stroke-linecap="round"/>
<path d="M222.4 497h4.4M222.4 502h4.4M222.4 507h4.4M222.4 511.5h4.4M247 497h4.4M247 501.5h4.4M247 506h4.4M231 495.2l0.5 -4M236 497.4v-4.2M241 496.2l-0.5 -4.2" stroke="#e7b0b0" stroke-width="0.45"/>
<path d="M250.6 509L257 503.6A12 10.8 0 1 1 257 514.4Z" fill="#f2b8b8" stroke="#e4a2a2" stroke-width="0.5"/>
<path d="M262 501.5q-1.5 7.5 0 16M265.5 499.5q-1.3 9.5 0 20M270 499q-0.8 10.5 0 21M274.5 500q1.2 9.5 0 19.5M278 502.5q1.3 7 0 14M258 506q-0.6 3.5 0 7" fill="none" stroke="#e7a3a3" stroke-width="0.5"/>
<path d="M263.5 516.2q0 -6 5.2 -6.2q5.2 0.2 5.3 6.2" fill="#f4a8b0" stroke="#cf4a5e" stroke-width="1.1"/>
<path d="M266.2 516.4q-0.3 -4.3 2.6 -4.8q2.8 0.5 2.6 4.8z" fill="#f4e08c"/>
<path d="M262 517.3h13.5" stroke="#f7cfd0" stroke-width="0.8"/>
<circle cx="250.5" cy="509" r="1.5" fill="#c3323c"/>
<text x="230.5" y="537.3" font-size="8.8" textLength="17.8" lengthAdjust="spacingAndGlyphs">CRC</text>
</g>
<g id="pi">
<defs><filter id="glow" x="-30%" y="-30%" width="160%" height="160%"><feGaussianBlur stdDeviation="2.6"/></filter><filter id="fb" x="-20%" y="-20%" width="140%" height="140%"><feGaussianBlur stdDeviation="0.9"/></filter></defs>
<text x="358.7" y="408" font-size="9.1" textLength="54.9" lengthAdjust="spacingAndGlyphs">328,603 cells</text>
<g id="umapI">
<path d="M339 452C339.9 450.1 341.5 448.5 343 448.5C344.5 448.5 346.8 449.8 348 452C349.2 454.2 350.3 458.7 350 462C349.7 465.3 347.2 470.2 346 472C344.8 473.8 344 473.5 342.9 473C341.8 472.5 340.4 471.2 339.5 469C338.6 466.8 337.7 462.8 337.6 460C337.5 457.2 338.1 453.9 339 452Z" fill="#f9b677" fill-opacity="0.72" filter="url(#fb)"/>
<path transform="scale(.25)" d="M1393 1798h0m-6-1h0m-16-1h0m-3-5h0m-4 0h0m-8 13h0m2 5h0m27-8h0m12 10h0m0-2h0m6 11h0m-3-1h0m-3 3h0m0-5h0m-4 3h0m-40-4h0m-4-1h0m0-2h0m3 11h0m44 5h0m8 13h0m-6 4h0m-1-2h0m0 3h0m0-3h0m-47 2h0m-3 11h0m2-1h0m2-3h0m1 3h0m43-1h0m1 1h0m4-3h0m1 0h0m2 0h0m2-5h0m-6 13h0m-2 4h0m-46 2h0m-2-2h0m3 9h0m3-2h0m1 9h0m0-7h0m36 7h0m1-4h0m3 3h0m-17 13h0m-10-3h0m-2 4h0m0 0h0m-1-7h0m-2 0h0m-3 1h0m6 8h0m11 2h0m5-2h0" stroke="#f9b677" stroke-width="3.6" stroke-linecap="round" stroke-opacity="0.6" fill="none"/>
<path transform="scale(.25)" d="M1380 1811h0m1-9h0m2 3h0m3 13h0m-2-4h0m0 3h0m-3 4h0m-2 1h0m-5-8h0m-10 17h0m5 1h0m0 0h0m9-6h0m4 3h0m6 3h0m1-7h0m2 2h0m-1 12h0m-9 5h0m-8-3h0m-11 10h0m7 2h0m1-5h0m2 8h0m7 2h0m15-1h0m-7 9h0m-2-1h0m-4 5h0m-3-5h0m-9-3h0m-9 1h0" stroke="#ffffff" stroke-width="3.2" stroke-linecap="round" stroke-opacity="0.5" fill="none"/>
<path d="M345.5 461.1C346.2 459.6 348.8 459.2 350 460C351.2 460.8 352.6 463.8 353 466C353.4 468.2 352.9 471.7 352.1 473C351.3 474.3 349.1 474.7 348 474C346.9 473.3 345.9 471.1 345.5 469C345.1 466.9 344.8 462.6 345.5 461.1Z" fill="#b3cbe4" fill-opacity="0.72" filter="url(#fb)"/>
<path transform="scale(.25)" d="M1410 1843h0m-4 2h0m-4-5h0m0-3h0m-20 6h0m-2-1h0m-3 15h0m4-8h0m25-1h0m9 14h0m-35 5h0m-1-7h0m-1 9h0m-2-2h0m7 15h0m1-7h0m1 7h0m25-6h0m0 1h0m1 2h0m2 1h0m4-4h0m-1 9h0m-3 3h0m-25 6h0m-5-10h0m-1 3h0m4 11h0m6 0h0m4 5h0m1-7h0m2 5h0m6-3h0m1 3h0m3-5h0m1 1h0" stroke="#b3cbe4" stroke-width="3.6" stroke-linecap="round" stroke-opacity="0.6" fill="none"/>
<path transform="scale(.25)" d="M1387 1852h0m2-4h0m4 1h0m0 10h0m7-2h0m1-5h0m0 13h0m0 0h0m-3 0h0m-2 6h0m1 1h0m1 7h0m0-3h0" stroke="#ffffff" stroke-width="3.2" stroke-linecap="round" stroke-opacity="0.5" fill="none"/>
<path d="M341.6 447.9C342.7 445.7 347.1 446 349.5 446C351.9 446 354.8 446.5 356.1 447.9C357.4 449.3 357.6 452.5 357.4 454.5C357.2 456.5 356.3 458.7 354.8 459.8C353.3 460.9 350.2 461.1 348.2 461C346.2 460.9 344 461.2 342.9 459C341.8 456.8 340.5 450.1 341.6 447.9Z" fill="#f5821f" fill-opacity="0.85" filter="url(#fb)"/>
<path transform="scale(.25)" d="M1381 1787h0m5-4h0m5 3h0m5-5h0m8 3h0m9-4h0m2 4h0m13 1h0m1 8h0m-3 1h0m-1-5h0m-7 0h0m-50 8h0m0-1h0m-2-5h0m-3-1h0m-4 7h0m3 5h0m1 8h0m2-4h0m2 1h0m1 4h0m62-8h0m1 3h0m3 17h0m-3-8h0m-1 6h0m-2-6h0m0 7h0m-60 1h0m-1-3h0m-5 7h0m9 4h0m54-3h0m-1 9h0m-6 6h0m-11-2h0m-3 0h0m-2 2h0m-1 4h0m-15-4h0m-2 2h0m-1-2h0m-1 0h0m-3-1h0m-11-4h0m-2 2h0m19 9h0m22 0h0m4-1h0" stroke="#f5821f" stroke-width="3.6" stroke-linecap="round" stroke-opacity="0.6" fill="none"/>
<path transform="scale(.25)" d="M1403 1797h0m-11-9h0m-10 3h0m-10 3h0m-2 17h0m1-10h0m2 4h0m0 2h0m5 2h0m4-5h0m2 6h0m10-10h0m6 2h0m6-2h0m1 7h0m0-2h0m4 4h0m6 2h0m4-2h0m4 0h0m-6 9h0m0 3h0m-1-9h0m-2 10h0m-43-2h0m12 6h0m8 8h0m1-1h0m22 1h0" stroke="#ffffff" stroke-width="3.2" stroke-linecap="round" stroke-opacity="0.5" fill="none"/>
<path d="M354.8 455.8C356.1 454.6 358.2 456.3 360 456.5C361.8 456.7 363.3 456.4 365.3 457.2C367.3 458 370.7 458.9 371.9 461.1C373.1 463.3 372.8 467.5 372.6 470.3C372.4 473.1 372 476 370.6 478.2C369.2 480.4 366.6 482.4 364 483.5C361.4 484.6 357.2 485.4 354.8 484.8C352.4 484.2 350.4 481.6 349.5 479.6C348.6 477.6 349.1 475.6 349.5 473C349.9 470.4 351.2 466.7 352.1 463.8C353 460.9 353.5 457 354.8 455.8Z" fill="#2e9a5e" fill-opacity="0.85" filter="url(#fb)"/>
<path transform="scale(.25)" d="M1455 1823h0m-7-1h0m-14 1h0m-1-2h0m-10-1h0m-11 3h0m-3 8h0m7-5h0m0 9h0m3-7h0m2-2h0m20 3h0m1-5h0m5 3h0m2-2h0m1 3h0m11 4h0m4 0h0m3-2h0m3 3h0m1-7h0m22 17h0m-5-7h0m-4 2h0m-77 3h0m-6 16h0m84-8h0m9 7h0m0 5h0m-5 7h0m-1-2h0m-85-5h0m-1 2h0m-6 6h0m-4 11h0m3 1h0m1 1h0m3 0h0m6-10h0m84 3h0m7 10h0m-2 8h0m-9 1h0m-87 0h0m-3-2h0m0-4h0m0 3h0m-4 4h0m-1 0h0m1 9h0m2 2h0m92-2h0m3-5h0m3 2h0m1 5h0m-10 7h0m-1-1h0m-91-1h0m-2-3h0m11 21h0m3-1h0m0-1h0m63-2h0m4-1h0m1 3h0m5 2h0m0-1h0m-17 5h0m-9 10h0m-2-2h0m-1-2h0m-10 0h0m-3 1h0m-1-2h0m-4-1h0m-4 4h0m-10 0h0m0-2h0m-6-4h0m14 12h0m2 0h0" stroke="#2e9a5e" stroke-width="3.6" stroke-linecap="round" stroke-opacity="0.6" fill="none"/>
<path transform="scale(.25)" d="M1425 1833h0m4-5h0m20 3h0m4 1h0m25 10h0m-17 4h0m-14-6h0m-2-2h0m0 3h0m-1-2h0m-6-1h0m-12 1h0m-12 20h0m0-4h0m1 0h0m8-1h0m4 4h0m10-3h0m10-2h0m3 3h0m1 2h0m22-1h0m12-5h0m-12 19h0m-20-2h0m-8 2h0m-34-3h0m-1-1h0m8 11h0m6 4h0m13-2h0m9-5h0m2-2h0m9 6h0m1-4h0m2 4h0m6 1h0m6-5h0m4 1h0m8 7h0m-3 5h0m-4 4h0m-7-8h0m-3 11h0m-7 0h0m-3-5h0m-4 0h0m-11-6h0m-17 0h0m-6 6h0m-3-6h0m-3 17h0m3 2h0m7-5h0m26-1h0m13 21h0m-21-5h0m-5-4h0m-3 4h0m-8-1h0m-2 7h0m-1-4h0m-10 1h0m-2-8h0m-8 0h0m12 14h0m11 3h0m9 3h0m1 0h0m5-6h0m2 0h0m5 2h0m2-2h0m4 3h0m0 5h0m9-6h0" stroke="#ffffff" stroke-width="3.2" stroke-linecap="round" stroke-opacity="0.5" fill="none"/>
<path d="M357.4 444.6C358.7 443.3 363 443.5 364.6 444.6C366.2 445.7 367.1 449.1 367.3 451.2C367.5 453.3 367.2 456.2 366 457.2C364.8 458.2 361.6 458 360 457.2C358.4 456.4 357.1 454.7 356.7 452.6C356.3 450.5 356.1 445.9 357.4 444.6Z" fill="#b4b24e" fill-opacity="0.85" filter="url(#fb)"/>
<path transform="scale(.25)" d="M1440 1768h0m-15 16h0m1-7h0m1 8h0m0 1h0m9-9h0m23 0h0m7 2h0m1 2h0m2-1h0m5 19h0m-2-1h0m-1-10h0m-2 4h0m-41 6h0m-8 1h0m0-6h0m0 15h0m5-3h0m1 2h0m0-5h0m2 3h0m42 0h0m0-4h0m4 7h0m-1 7h0m-1 1h0m-43 5h0m-6-8h0m7 18h0m0-4h0m8 0h0m1 4h0m8 0h0m0-2h0m13 2h0m3 1h0m1 0h0m5-7h0m-8 11h0" stroke="#b4b24e" stroke-width="3.6" stroke-linecap="round" stroke-opacity="0.6" fill="none"/>
<path transform="scale(.25)" d="M1440 1787h0m0-5h0m17 6h0m-9 11h0m-2-9h0m-9 7h0m-1-5h0m0 1h0m-3 4h0m-2-8h0m2 12h0m0-1h0m7 6h0m7 0h0m15 9h0m-5 1h0m0 2h0" stroke="#ffffff" stroke-width="3.2" stroke-linecap="round" stroke-opacity="0.5" fill="none"/>
<path d="M346.2 422.9C347.5 421.8 350.5 421.1 352.1 420.9C353.7 420.7 354.7 421.1 356 421.6C357.3 422.2 358.7 422.9 360 424.2C361.3 425.5 363.6 427.7 364 429.5C364.4 431.3 363.6 433.4 362.7 434.8C361.8 436.2 360.2 437.5 358.7 438.1C357.1 438.8 354.9 439 353.4 438.7C351.9 438.4 350.9 437.2 349.5 436.1C348.1 435 345.8 433.5 344.9 432.1C344 430.7 344 429 344.2 427.5C344.4 426 344.9 424 346.2 422.9Z" fill="#2f6db4" fill-opacity="0.85" filter="url(#fb)"/>
<path transform="scale(.25)" d="M1381 1689h0m2-2h0m8 4h0m7-5h0m3-1h0m5-1h0m1-3h0m8 3h0m4-1h0m2 1h0m11 7h0m6-4h0m4 14h0m-2-8h0m-51-1h0m-7 8h0m-2-1h0m-3-5h0m-3 9h0m-1-4h0m2 14h0m71-9h0m3 6h0m4 4h0m3-7h0m5 6h0m0 3h0m-6 8h0m-76 3h0m-7-4h0m0 5h0m6 1h0m9 5h0m1 0h0m0-1h0m64-2h0m1 9h0m-8 9h0m-3-1h0m-36 2h0m-4 1h0m-1-6h0m-4-3h0m5 13h0m4-2h0m5 5h0m2-1h0m2-4h0m1 8h0m5-4h0m4-2h0m5 4h0m3-4h0m1 4h0m0-3h0m4 1h0" stroke="#2f6db4" stroke-width="3.6" stroke-linecap="round" stroke-opacity="0.6" fill="none"/>
<path transform="scale(.25)" d="M1399 1690h0m33 12h0m-4-4h0m-9 2h0m-6-3h0m-4-3h0m-3-2h0m-12 2h0m-2 0h0m-1 21h0m10-11h0m9 8h0m24-6h0m2 6h0m11 2h0m3 4h0m-2 7h0m-6-6h0m-3 5h0m-5-2h0m-6-4h0m-3 6h0m-1-4h0m-2 4h0m-13-3h0m-1-1h0m-4-3h0m-5 3h0m-3-4h0m6 16h0m1 1h0m1 5h0m20 1h0m5 0h0m22-11h0m-16 19h0m-23-3h0" stroke="#ffffff" stroke-width="3.2" stroke-linecap="round" stroke-opacity="0.5" fill="none"/>
<path d="M367 434C367.2 433.1 368.7 432.6 369.5 432.8C370.3 433 371.2 433.9 372 435C372.8 436.1 374.6 438.6 374.5 439.5C374.4 440.4 372.6 440.8 371.5 440.5C370.4 440.2 368.8 439.1 368 438C367.2 436.9 366.8 434.9 367 434Z" fill="#8c5a4b" fill-opacity="0.85" filter="url(#fb)"/>
<path transform="scale(.25)" d="M1463 1738h0m5-2h0m17-4h0m0 6h0m0-6h0m4 5h0m3-3h0m1 1h0m-3 5h0m-2 2h0m-17 2h0m-1 3h0m0-5h0m-9-2h0m15 20h0m21 3h0m0-4h0m6-6h0m1 6h0m-17 5h0m-3 3h0m-3-3h0m-3 2h0m0-2h0" stroke="#8c5a4b" stroke-width="3.6" stroke-linecap="round" stroke-opacity="0.6" fill="none"/>
<path transform="scale(.25)" d="M1484 1746h0m-2-4h0m-2 3h0m5 9h0m8 2h0" stroke="#ffffff" stroke-width="3.2" stroke-linecap="round" stroke-opacity="0.5" fill="none"/>
<path d="M368 422.9C369.1 421.5 371.6 420.2 374.5 419.6C377.4 419 382 418.7 385.1 419C388.2 419.3 391.2 420.1 393 421.6C394.8 423.1 395.6 425.8 395.6 428.2C395.6 430.6 394.5 434.1 393 436.1C391.5 438.1 389 439.6 386.4 440C383.8 440.4 379.6 439.8 377.2 438.7C374.8 437.6 373.4 435.1 371.9 433.4C370.4 431.6 368.6 429.9 368 428.2C367.4 426.4 366.9 424.3 368 422.9Z" fill="#e07ec0" fill-opacity="0.72" filter="url(#fb)"/>
<path transform="scale(.25)" d="M1567 1677h0m-9-2h0m-7 4h0m-8-4h0m-13-5h0m0 6h0m-1-7h0m-1 5h0m-2 0h0m-2 0h0m-36 2h0m-1 1h0m-19 14h0m2-3h0m0 3h0m10-8h0m4 2h0m3-1h0m0-2h0m1 0h0m5 1h0m68 0h0m4 2h0m5-4h0m3 5h0m8 4h0m2 9h0m-4 1h0m-4-4h0m-108 0h0m-1-2h0m-2 3h0m8 11h0m1-3h0m1 6h0m0-1h0m108-6h0m0 0h0m3 7h0m1 3h0m1-8h0m0 11h0m-3 6h0m-3-5h0m-2 6h0m-98 1h0m-3-1h0m-1-2h0m-7-5h0m9 13h0m6 2h0m4 7h0m85 0h0m4 2h0m-3 10h0m-84-7h0m-3-1h0m12 13h0m19 2h0m3 2h0m0-2h0m22 0h0m4 4h0m7-3h0m7 1h0m4-7h0m0 3h0m-23 10h0m-1 1h0m-2-1h0m-7-1h0m-5-1h0m-3 1h0m-3 1h0" stroke="#e07ec0" stroke-width="3.6" stroke-linecap="round" stroke-opacity="0.6" fill="none"/>
<path transform="scale(.25)" d="M1496 1684h0m17 7h0m0-8h0m16 6h0m3 2h0m16-7h0m16 7h0m5 6h0m-10-1h0m-7-3h0m-22 3h0m-7 7h0m-3-6h0m-3-1h0m0 7h0m-1-1h0m-4-4h0m-5 3h0m-6 1h0m-12-6h0m-3 6h0m4 3h0m6 2h0m36 0h0m4 6h0m22-5h0m10 1h0m2-1h0m3 8h0m-6 7h0m-6 2h0m-5-5h0m-15 6h0m-4-5h0m-4 6h0m-1-3h0m-2-5h0m-13 0h0m-9 2h0m-4 5h0m-12-1h0m12 5h0m7-1h0m8 7h0m9-5h0m2-1h0m0 5h0m7 3h0m0-3h0m22-4h0m0-2h0m2 1h0m0-2h0m1 6h0m11-4h0m-17 18h0m-4-6h0m0-1h0m-2 2h0m0 3h0m-8-3h0m-3 8h0m-6-2h0m-8 4h0m18 2h0" stroke="#ffffff" stroke-width="3.2" stroke-linecap="round" stroke-opacity="0.5" fill="none"/>
<path d="M403.5 422.9C404.8 421.7 408.2 420.5 410.1 420.9C412 421.3 413.8 423.6 414.7 425.5C415.6 427.4 415.9 430.3 415.4 432.1C414.8 433.9 413.2 435.3 411.4 436.1C409.6 436.9 406.4 437.1 404.8 436.7C403.2 436.2 401.9 434.8 401.5 433.4C401.1 432 401.9 429.9 402.2 428.2C402.5 426.4 402.2 424.1 403.5 422.9Z" fill="#d84040" fill-opacity="0.85" filter="url(#fb)"/>
<path transform="scale(.25)" d="M1637 1678h0m-2-1h0m-24 9h0m9-5h0m3 3h0m1-1h0m11 2h0m3-3h0m7 3h0m1-3h0m14 16h0m-56 6h0m1 3h0m56 5h0m2 2h0m2-10h0m1 13h0m-3 4h0m-3 5h0m-52-1h0m-1-1h0m-2-2h0m-2-3h0m3 10h0m1 2h0m49 5h0m2-4h0m1 6h0m3-7h0m1-3h0m2 5h0m-4 8h0m-4 4h0m-5 2h0m-3 2h0m-1-4h0m-10 4h0m-3 0h0m-1-2h0m-4 1h0m-1-3h0m-1 4h0m-7-4h0m-5 4h0m-4 2h0m-1-7h0m-3 4h0" stroke="#d84040" stroke-width="3.6" stroke-linecap="round" stroke-opacity="0.6" fill="none"/>
<path transform="scale(.25)" d="M1638 1696h0m-4 4h0m-2-6h0m-9 2h0m-5 12h0m0 6h0m6-8h0m13 3h0m10-1h0m4-3h0m0 4h0m2 4h0m-17 10h0m-2 4h0m-2-4h0m-4-1h0m-5-6h0m-2 10h0m-8 0h0m0 10h0m1 0h0m6-3h0m1 6h0m11-11h0m4 6h0" stroke="#ffffff" stroke-width="3.2" stroke-linecap="round" stroke-opacity="0.5" fill="none"/>
<path d="M400 441C401.1 440 401.6 438.6 403.5 438.7C405.4 438.8 409 440.6 411.4 441.4C413.8 442.2 417 442.1 418 443.3C419 444.5 418.9 447.5 417.4 448.6C415.9 449.7 411.6 450 408.8 449.9C406.1 449.8 402.9 448.8 400.9 447.9C398.9 447 397.1 445.6 397 444.5C396.9 443.4 398.9 442 400 441Z" fill="#a24ff0" fill-opacity="0.85" filter="url(#fb)"/>
<path transform="scale(.25)" d="M1616 1751h0m-1-1h0m-22 13h0m14-5h0m1 2h0m6-8h0m0 4h0m0 2h0m5-6h0m3 2h0m2 5h0m3-7h0m4 4h0m0 3h0m9-2h0m2 4h0m7 2h0m6 0h0m19 8h0m-2 4h0m0-2h0m-4-9h0m-14 7h0m-5-4h0m0 2h0m-53-2h0m-5-1h0m-1 9h0m-2-7h0m-2 4h0m0 13h0m1-9h0m1 9h0m1-4h0m7 2h0m62 12h0m-44 0h0m-6 3h0m-3-6h0m-1 5h0m-3 1h0m-5-7h0m0 4h0m-1-5h0m-3-2h0m22 15h0m14 0h0m19 2h0m2-5h0m3 5h0" stroke="#a24ff0" stroke-width="3.6" stroke-linecap="round" stroke-opacity="0.6" fill="none"/>
<path transform="scale(.25)" d="M1662 1774h0m-6-1h0m-16-3h0m-12 5h0m-4-11h0m-1 5h0m-15-4h0m-4 6h0m18 16h0m10 0h0m4-5h0m3-6h0m6 6h0m3 5h0m1-4h0m12-4h0m6 7h0m2-9h0m-7 16h0m-8 1h0m-1-2h0m-8 2h0m-17 0h0" stroke="#ffffff" stroke-width="3.2" stroke-linecap="round" stroke-opacity="0.5" fill="none"/>
<path d="M382.4 447.9C383.9 446.5 389.2 447.2 391.7 447.3C394.2 447.4 396.6 447.6 397.6 448.6C398.6 449.6 398.4 451.8 397.6 453.2C396.8 454.6 394.9 456.2 393 457.2C391.1 458.2 388.2 459.3 386.4 459.1C384.6 458.9 383.1 457.7 382.4 455.8C381.7 453.9 380.8 449.3 382.4 447.9Z" fill="#22b9d2" fill-opacity="0.85" filter="url(#fb)"/>
<path transform="scale(.25)" d="M1536 1787h0m8-2h0m25 2h0m4 0h0m8-1h0m9 1h0m-1 9h0m-5-4h0m-3-1h0m-2 1h0m-2 1h0m-5-5h0m-4 4h0m-2-2h0m-26 2h0m-1-1h0m-5 2h0m-11 8h0m3 7h0m2-5h0m1-1h0m0 9h0m62-2h0m3-4h0m1 6h0m1 0h0m1-6h0m-7 10h0m-3-1h0m-1 4h0m-3 0h0m-53 2h0m-2-5h0m-1 6h0m-6-3h0m2 7h0m10 1h0m2 8h0m6-2h0m37-2h0m-11 6h0m-9 0h0m-8 5h0m-2-5h0m-1 2h0" stroke="#22b9d2" stroke-width="3.6" stroke-linecap="round" stroke-opacity="0.6" fill="none"/>
<path transform="scale(.25)" d="M1576 1798h0m-9 1h0m-1-6h0m-5 2h0m-3 0h0m-20-1h0m-4 6h0m3 3h0m13-2h0m5-1h0m10 0h0m9 11h0m12-3h0m-14 4h0m-10 10h0m-1-4h0m-1 2h0m-7-5h0m-1 0h0m-11-3h0m-1 4h0m11 12h0" stroke="#ffffff" stroke-width="3.2" stroke-linecap="round" stroke-opacity="0.5" fill="none"/>
<path d="M374.5 458.5C375.9 457.4 379.8 457.8 382.4 457.2C385 456.6 387.2 455.8 390.3 455.2C393.4 454.6 397.2 454.3 400.9 453.9C404.6 453.5 409.8 452.1 412.7 452.6C415.6 453.2 417.2 454.7 418 457.2C418.8 459.7 418 464.6 417.4 467.7C416.8 470.8 415.5 473.4 414.1 475.6C412.7 477.8 409.9 478.7 408.8 480.9C407.7 483.1 409.7 487.3 407.5 488.8C405.3 490.3 399.1 490.3 395.6 490.1C392.1 489.9 388.6 489.5 386.4 487.5C384.2 485.5 383.7 480.4 382.4 478.2C381.1 476 379.8 475.6 378.5 474.3C377.2 473 375.3 472.1 374.5 470.3C373.7 468.6 373.9 465.8 373.9 463.8C373.9 461.8 373.1 459.6 374.5 458.5Z" fill="#a8dd98" fill-opacity="0.5" filter="url(#fb)"/>
<path transform="scale(.25)" d="M1595 1811h0m5-1h0m20 1h0m9-2h0m1-4h0m4 1h0m2 1h0m35 14h0m-1-9h0m-2 6h0m-8-2h0m0-2h0m-16-1h0m-2 0h0m-15 1h0m-13 0h0m-10-2h0m-4 0h0m-1 5h0m-3-4h0m-8 0h0m-18 0h0m-2 5h0m-19 3h0m-2 1h0m-1-1h0m-6 0h0m-6 2h0m-41 11h0m13 0h0m1-5h0m1 4h0m0-5h0m1 2h0m2-1h0m2 1h0m0 1h0m4-6h0m19-1h0m0 3h0m7 1h0m1-1h0m3-3h0m4 0h0m119 1h0m0 0h0m1 0h0m2 20h0m0-3h0m-1 0h0m-176-3h0m-7 8h0m184 16h0m-5 1h0m-172-4h0m-3 3h0m-1 7h0m-1-8h0m-1 3h0m-1 6h0m0 2h0m0 3h0m8 7h0m171-1h0m3-1h0m1-2h0m-1 11h0m-5-4h0m-3 6h0m-147 3h0m-1-1h0m-4 1h0m-1 0h0m-8-2h0m0 1h0m9 7h0m2 1h0m4 3h0m2 1h0m0-5h0m130 5h0m4 0h0m6-2h0m-1 6h0m-1 1h0m-10-2h0m-1 2h0m-121 8h0m3 2h0m2 3h0m1 1h0m1 2h0m4-2h0m2 2h0m0 3h0m99-3h0m3 10h0m-3 0h0m-2 0h0m-96-3h0m-3 12h0m3 0h0m9 3h0m2 4h0m0 0h0m84 2h0m5-4h0m1-3h0m-7 11h0m-3 3h0m-2-1h0m-3 2h0m-12 0h0m-15 2h0m0-3h0m-7 4h0m-2-5h0m-4-3h0m0 2h0m-9-3h0m-6 2h0m-1-2h0m0 7h0m-6-6h0m-2 1h0m-3-2h0m-4-1h0" stroke="#a8dd98" stroke-width="3.6" stroke-linecap="round" stroke-opacity="0.6" fill="none"/>
<path transform="scale(.25)" d="M1659 1823h0m-15-2h0m-11-1h0m-5 1h0m-2 1h0m-5-5h0m-2 1h0m-20 4h0m-3-1h0m-19 2h0m-46 11h0m7-2h0m1 0h0m4 1h0m5-2h0m0 0h0m4 0h0m7-2h0m9-5h0m4 3h0m2 1h0m6 1h0m3 5h0m7-2h0m5-4h0m5 0h0m6 6h0m1-10h0m1 6h0m5-4h0m1 8h0m2-6h0m4 7h0m1-8h0m1-1h0m3-2h0m4 9h0m1 0h0m0-5h0m15-4h0m1 11h0m2-4h0m0-1h0m15 4h0m-2 8h0m-5-2h0m-2 0h0m-3 0h0m0 5h0m-3-5h0m-2 2h0m-1-5h0m-1 1h0m0 0h0m-1 2h0m0 5h0m-4 0h0m-12 2h0m-5-4h0m-6-4h0m-10-3h0m-1 5h0m0-5h0m-6 5h0m-2-3h0m-9 5h0m-6 4h0m-2-6h0m-2 1h0m-2 5h0m-1-2h0m-16-2h0m-6 3h0m0-8h0m-2 2h0m-7 0h0m-3 4h0m-9-7h0m-1 4h0m-3 1h0m0 1h0m-2-7h0m-4 7h0m-5-2h0m-2 3h0m-2-2h0m-1-1h0m-1 6h0m-6-4h0m0-5h0m0 2h0m0 13h0m6-1h0m1-4h0m1 5h0m1 0h0m5-4h0m4-1h0m2 4h0m6-2h0m2 8h0m2-2h0m8-5h0m8-1h0m2 6h0m5 1h0m1 2h0m2-9h0m2 3h0m2-5h0m1 10h0m2 0h0m3-7h0m1 8h0m2-2h0m2 0h0m1-4h0m2 6h0m2-10h0m24 9h0m5-1h0m1-3h0m8-2h0m8 6h0m7-4h0m5 4h0m2-10h0m0 4h0m14 5h0m0-2h0m4-6h0m1 0h0m3 0h0m1 14h0m-8-2h0m-2 8h0m-6-1h0m0-6h0m-2 7h0m-6-1h0m-6 0h0m-2-7h0m0 3h0m-4-3h0m-1 6h0m-1 3h0m-3-3h0m-4-4h0m-4 6h0m-3-1h0m-9-8h0m-3 9h0m-1-2h0m0 0h0m-6-7h0m0 2h0m-5 8h0m-8-10h0m-7 8h0m-1-2h0m-7-6h0m-8 7h0m-2-4h0m-9-3h0m-4 6h0m-4-1h0m-5 1h0m-12 4h0m0-3h0m-2-3h0m-1 0h0m-2 4h0m-1-5h0m-1 0h0m-4 6h0m-2 2h0m0-6h0m-1 6h0m-3-5h0m0 15h0m1-3h0m5 5h0m3-3h0m5 1h0m8-1h0m2-2h0m6 4h0m1 0h0m0-10h0m9 0h0m5 9h0m3 2h0m17-11h0m12 9h0m4-5h0m7-1h0m1 6h0m0-3h0m6 5h0m10-11h0m2 11h0m1-2h0m3-1h0m2-5h0m1 0h0m2 8h0m6-10h0m17 10h0m2 0h0m1-2h0m9-9h0m1 21h0m-6 0h0m-2-6h0m-4 5h0m-2-2h0m0-4h0m0-2h0m-1 8h0m-11-3h0m-1 3h0m-2 0h0m-5-5h0m-13 5h0m-4-8h0m-17 5h0m-2 6h0m0-4h0m-9-3h0m-2 3h0m-2 3h0m-5-8h0m-6 3h0m-4-3h0m-5 1h0m-3 3h0m-4-5h0m-9 7h0m-22-6h0m7 13h0m4 0h0m3 1h0m0-4h0m1 10h0m1-8h0m4 6h0m2-7h0m0-1h0m7 3h0m2 8h0m2-8h0m2 4h0m4 1h0m3-4h0m2-1h0m7-2h0m2 6h0m1-6h0m2 6h0m2-7h0m3 1h0m1 5h0m0 2h0m1-4h0m8-3h0m8 2h0m4 8h0m4-3h0m3-5h0m6 8h0m1-1h0m4 0h0m0-1h0m1-7h0m10 3h0m4-4h0m1 3h0m9-2h0m12-2h0m-16 14h0m-11 7h0m-6-2h0m-1-1h0m-2 4h0m-4-8h0m-5 6h0m-5-4h0m-1 0h0m-1 1h0m-10 1h0m-1-3h0m-9 1h0m-2 1h0m-5-2h0m-16 3h0m-6 0h0m-5 3h0m0-3h0m-1 4h0m-3 1h0m-4-11h0m-1 7h0m-3-2h0m6 17h0m1-6h0m4 3h0m1-2h0m4-3h0m4 4h0m0 0h0m0-5h0m0 8h0m5-6h0m2 3h0m1-4h0m9 6h0m2-3h0m5 1h0m2 4h0m1-5h0m1 4h0m5-3h0m2 1h0m4 2h0m4-5h0m9 3h0m4 2h0m4-8h0m11 7h0m3-8h0m-6 17h0m-8-2h0m-1 8h0m-1-9h0m-2-1h0m-1 5h0m0-3h0m0-2h0m-3 10h0m-5-3h0m-1-7h0m-5 1h0m-2 5h0m-2-7h0m-13 10h0m-3-3h0m-3 1h0m-2-7h0m-3 0h0m0 9h0m-9-6h0m-3 1h0m-3 2h0m-3-4h0m-5 3h0m24 14h0m1 1h0m0-9h0m1 0h0m1 11h0m1-1h0m6-3h0m3 4h0m10-8h0m18 7h0m9-1h0m6-4h0m-17 7h0m-4 0h0m-4 0h0" stroke="#ffffff" stroke-width="3.2" stroke-linecap="round" stroke-opacity="0.5" fill="none"/>
<path d="M369 421l-2.5 -5" stroke="#e07ec0" stroke-width="1.2" stroke-opacity="0.6"/>
<path transform="scale(.25)" d="M1592 1761h0m-8 3h0m-2 10h0m-6-4h0m-6 6h0" stroke="#a24ff0" stroke-width="4.4" stroke-linecap="round" fill="none"/>
<ellipse cx="361.8" cy="451" rx="6.2" ry="7.2" fill="none" stroke="#333" stroke-width="0.6" stroke-dasharray="1.2 1"/>
<path d="M373.8 458.3C375.4 457 379.6 456.9 382.4 456.2C385.1 455.5 387.2 454.9 390.3 454.3C393.4 453.8 397.2 453.4 400.9 452.9C404.6 452.4 409.7 450.8 412.7 451.4C415.7 452 418 453.8 419 456.5C420 459.2 419.2 464.4 418.5 467.7C417.8 470.9 416.4 473.7 415 476C413.6 478.3 410.9 479.2 409.8 481.5C408.7 483.8 410.9 487.9 408.5 489.5C406.1 491.1 399.4 491.2 395.6 491C391.9 490.8 388.3 490.5 386 488.5C383.7 486.5 383.2 481.2 381.8 479C380.4 476.8 379.2 476.4 377.8 475C376.4 473.6 374.3 472.7 373.5 470.8C372.7 468.9 372.8 465.9 372.8 463.8C372.9 461.7 372.2 459.6 373.8 458.3Z" fill="none" stroke="#333" stroke-width="0.6" stroke-dasharray="1.2 1"/>
<text x="361.8" y="453.4" font-size="9" text-anchor="middle" style="fill:#111">NK</text>
<text x="398.6" y="476.3" font-size="9" text-anchor="middle" style="fill:#111">Tumour</text>
</g>
<circle cx="325.2" cy="502.8" r="2.2" fill="#2f6db4"/>
<text x="336" y="505.6" font-size="7.8">B cell</text>
<circle cx="325.2" cy="513.4" r="2.2" fill="#f5821f"/>
<text x="336" y="516.2" font-size="7.8">CD4 T</text>
<circle cx="325.2" cy="524.6" r="2.2" fill="#2e9a5e"/>
<text x="336" y="527.4" font-size="7.8">CD8 T</text>
<circle cx="325.2" cy="536.4" r="2.2" fill="#d84040"/>
<text x="336" y="539.2" font-size="7.8">Endothelial</text>
<circle cx="325.2" cy="547.6" r="2.2" fill="#a24ff0"/>
<text x="336" y="550.4" font-size="7.8">Fibroblast</text>
<circle cx="381.1" cy="502.8" r="2.2" fill="#8c5a4b"/>
<text x="392.6" y="505.6" font-size="7.8">Mast cell</text>
<circle cx="381.1" cy="513.4" r="2.2" fill="#e07ec0"/>
<text x="392.6" y="516.2" font-size="7.8">Myeloid</text>
<circle cx="381.1" cy="524.6" r="2.2" fill="#b4b24e"/>
<text x="392.6" y="527.4" font-size="7.8">NK</text>
<circle cx="381.1" cy="536.4" r="2.2" fill="#22b9d2"/>
<text x="392.6" y="539.2" font-size="7.8">Plasma</text>
<circle cx="381.1" cy="547.6" r="2.2" fill="#b3cbe4"/>
<text x="392.6" y="550.4" font-size="7.8">T<tspan font-size="5" dy="2">h</tspan></text>
<circle cx="430" cy="502.8" r="2.2" fill="#f9b677"/>
<text x="437" y="505.6" font-size="7.8">T<tspan font-size="5" dy="2">reg</tspan></text>
<circle cx="430" cy="513.4" r="2.2" fill="#a8dd98"/>
<text x="437" y="516.2" font-size="7.8">Tumor</text>
<circle cx="430" cy="524.6" r="2.2" fill="#f49a9a"/>
<text x="437" y="527.4" font-size="7.8">pDC</text>
<path d="M422.2 443.3L455 407.5" stroke="#111" stroke-width="1"/><path d="M456.8 405.6l-4.3 1.6l2.3 2.1z" fill="#222" stroke="#222" stroke-width="0.6"/>
<path d="M422.3 459.1L460.5 494" stroke="#111" stroke-width="1"/><path d="M462.6 496l-4.4 -1.3l2 -2.3z" fill="#222" stroke="#222" stroke-width="0.6"/>
<path d="M591.7 476.6H612.5" stroke="#111" stroke-width="1"/><path d="M615.2 476.6l-3.6 -1.8v3.6z" fill="#222"/>
<text x="482.6" y="394" font-size="9" textLength="113" lengthAdjust="spacingAndGlyphs">Patients (&gt;200 tumour cells)</text>
<text transform="translate(469.4,440.2) rotate(-90)" font-size="9" textLength="38.4" lengthAdjust="spacingAndGlyphs">tsMHC-I%</text>
<rect x="493.80" y="445.81" width="2.02" height="0.79" fill="#e07ec0"/>
<rect x="493.80" y="447.10" width="2.02" height="2.6" fill="#cfcfcf"/>
<rect x="496.07" y="444.29" width="2.02" height="2.31" fill="#e07ec0"/>
<rect x="496.07" y="447.10" width="2.02" height="2.6" fill="#cfcfcf"/>
<rect x="498.34" y="443.37" width="2.02" height="3.23" fill="#e07ec0"/>
<rect x="498.34" y="447.10" width="2.02" height="2.6" fill="#cfcfcf"/>
<rect x="500.61" y="442.30" width="2.02" height="4.30" fill="#e07ec0"/>
<rect x="500.61" y="447.10" width="2.02" height="2.6" fill="#e8101e"/>
<rect x="502.88" y="440.32" width="2.02" height="6.28" fill="#e07ec0"/>
<rect x="502.88" y="447.10" width="2.02" height="2.6" fill="#cfcfcf"/>
<rect x="505.15" y="436.44" width="2.02" height="10.16" fill="#a3dd90"/>
<rect x="505.15" y="447.10" width="2.02" height="2.6" fill="#cfcfcf"/>
<rect x="507.42" y="434.59" width="2.02" height="12.01" fill="#a3dd90"/>
<rect x="507.42" y="447.10" width="2.02" height="2.6" fill="#cfcfcf"/>
<rect x="509.69" y="434.31" width="2.02" height="12.29" fill="#e07ec0"/>
<rect x="509.69" y="447.10" width="2.02" height="2.6" fill="#e8101e"/>
<rect x="511.96" y="431.54" width="2.02" height="15.06" fill="#e07ec0"/>
<rect x="511.96" y="447.10" width="2.02" height="2.6" fill="#e8101e"/>
<rect x="514.23" y="427.33" width="2.02" height="19.27" fill="#a3dd90"/>
<rect x="514.23" y="447.10" width="2.02" height="2.6" fill="#e8101e"/>
<rect x="516.50" y="427.33" width="2.02" height="19.27" fill="#a3dd90"/>
<rect x="516.50" y="447.10" width="2.02" height="2.6" fill="#cfcfcf"/>
<rect x="518.77" y="425.35" width="2.02" height="21.25" fill="#e07ec0"/>
<rect x="518.77" y="447.10" width="2.02" height="2.6" fill="#e8101e"/>
<rect x="521.04" y="424.42" width="2.02" height="22.18" fill="#a3dd90"/>
<rect x="521.04" y="447.10" width="2.02" height="2.6" fill="#e8101e"/>
<rect x="523.31" y="423.50" width="2.02" height="23.10" fill="#e07ec0"/>
<rect x="523.31" y="447.10" width="2.02" height="2.6" fill="#e8101e"/>
<rect x="525.58" y="423.13" width="2.02" height="23.47" fill="#d92b2b"/>
<rect x="525.58" y="447.10" width="2.02" height="2.6" fill="#cfcfcf"/>
<rect x="527.85" y="423.32" width="2.02" height="23.28" fill="#e07ec0"/>
<rect x="527.85" y="447.10" width="2.02" height="2.6" fill="#cfcfcf"/>
<rect x="530.12" y="419.80" width="2.02" height="26.80" fill="#a3dd90"/>
<rect x="530.12" y="447.10" width="2.02" height="2.6" fill="#e8101e"/>
<rect x="532.39" y="415.32" width="2.02" height="31.28" fill="#d92b2b"/>
<rect x="532.39" y="447.10" width="2.02" height="2.6" fill="#cfcfcf"/>
<rect x="534.66" y="412.41" width="2.02" height="34.19" fill="#e07ec0"/>
<rect x="534.66" y="447.10" width="2.02" height="2.6" fill="#e8101e"/>
<rect x="536.93" y="410.33" width="2.02" height="36.27" fill="#e07ec0"/>
<rect x="536.93" y="447.10" width="2.02" height="2.6" fill="#cfcfcf"/>
<rect x="539.20" y="410.33" width="2.02" height="36.27" fill="#a3dd90"/>
<rect x="539.20" y="447.10" width="2.02" height="2.6" fill="#e8101e"/>
<rect x="541.47" y="409.82" width="2.02" height="36.78" fill="#e07ec0"/>
<rect x="541.47" y="447.10" width="2.02" height="2.6" fill="#e8101e"/>
<rect x="543.74" y="409.64" width="2.02" height="36.96" fill="#d92b2b"/>
<rect x="543.74" y="447.10" width="2.02" height="2.6" fill="#cfcfcf"/>
<rect x="546.01" y="409.18" width="2.02" height="37.42" fill="#a3dd90"/>
<rect x="546.01" y="447.10" width="2.02" height="2.6" fill="#e8101e"/>
<rect x="548.28" y="408.72" width="2.02" height="37.88" fill="#a3dd90"/>
<rect x="548.28" y="447.10" width="2.02" height="2.6" fill="#cfcfcf"/>
<rect x="550.55" y="408.49" width="2.02" height="38.12" fill="#a3dd90"/>
<rect x="550.55" y="447.10" width="2.02" height="2.6" fill="#e8101e"/>
<rect x="552.82" y="408.25" width="2.02" height="38.35" fill="#a3dd90"/>
<rect x="552.82" y="447.10" width="2.02" height="2.6" fill="#e8101e"/>
<rect x="555.09" y="407.79" width="2.02" height="38.81" fill="#a3dd90"/>
<rect x="555.09" y="447.10" width="2.02" height="2.6" fill="#cfcfcf"/>
<rect x="557.36" y="407.33" width="2.02" height="39.27" fill="#a3dd90"/>
<rect x="557.36" y="447.10" width="2.02" height="2.6" fill="#e8101e"/>
<rect x="559.63" y="406.87" width="2.02" height="39.73" fill="#a3dd90"/>
<rect x="559.63" y="447.10" width="2.02" height="2.6" fill="#e8101e"/>
<rect x="561.90" y="405.94" width="2.02" height="40.66" fill="#a3dd90"/>
<rect x="561.90" y="447.10" width="2.02" height="2.6" fill="#e8101e"/>
<rect x="564.17" y="405.48" width="2.02" height="41.12" fill="#a3dd90"/>
<rect x="564.17" y="447.10" width="2.02" height="2.6" fill="#e8101e"/>
<rect x="566.44" y="405.02" width="2.02" height="41.58" fill="#a3dd90"/>
<rect x="566.44" y="447.10" width="2.02" height="2.6" fill="#e8101e"/>
<rect x="568.71" y="404.56" width="2.02" height="42.04" fill="#a3dd90"/>
<rect x="568.71" y="447.10" width="2.02" height="2.6" fill="#e8101e"/>
<rect x="570.98" y="404.33" width="2.02" height="42.27" fill="#a3dd90"/>
<rect x="570.98" y="447.10" width="2.02" height="2.6" fill="#e8101e"/>
<rect x="573.25" y="404.10" width="2.02" height="42.50" fill="#ee6d10"/>
<rect x="573.25" y="447.10" width="2.02" height="2.6" fill="#e8101e"/>
<rect x="575.52" y="404.10" width="2.02" height="42.50" fill="#a3dd90"/>
<rect x="575.52" y="447.10" width="2.02" height="2.6" fill="#e8101e"/>
<rect x="577.79" y="403.63" width="2.02" height="42.97" fill="#e07ec0"/>
<rect x="577.79" y="447.10" width="2.02" height="2.6" fill="#e8101e"/>
<rect x="580.06" y="403.17" width="2.02" height="43.43" fill="#a3dd90"/>
<rect x="580.06" y="447.10" width="2.02" height="2.6" fill="#e8101e"/>
<rect x="582.33" y="402.71" width="2.02" height="43.89" fill="#e07ec0"/>
<rect x="582.33" y="447.10" width="2.02" height="2.6" fill="#e8101e"/>
<rect x="584.60" y="402.25" width="2.02" height="44.35" fill="#ee6d10"/>
<rect x="584.60" y="447.10" width="2.02" height="2.6" fill="#cfcfcf"/>
<rect x="586.87" y="401.79" width="2.02" height="44.81" fill="#ee6d10"/>
<rect x="586.87" y="447.10" width="2.02" height="2.6" fill="#cfcfcf"/>
<rect x="589.14" y="401.09" width="2.02" height="45.51" fill="#ee6d10"/>
<rect x="589.14" y="447.10" width="2.02" height="2.6" fill="#cfcfcf"/>
<path d="M492.6 400.5V446.6" stroke="#333" stroke-width="0.8"/>
<path d="M491 400.9H492.6" stroke="#333" stroke-width="0.8"/>
<text x="487.5" y="403.7" font-size="7.8" text-anchor="end">100</text>
<path d="M491 412.4H492.6" stroke="#333" stroke-width="0.8"/>
<text x="487.5" y="415.2" font-size="7.8" text-anchor="end">75</text>
<path d="M491 423.9H492.6" stroke="#333" stroke-width="0.8"/>
<text x="487.5" y="426.7" font-size="7.8" text-anchor="end">50</text>
<path d="M491 435.4H492.6" stroke="#333" stroke-width="0.8"/>
<text x="487.5" y="438.2" font-size="7.8" text-anchor="end">25</text>
<path d="M491 446.6H492.6" stroke="#333" stroke-width="0.8"/>
<text x="487.5" y="449.4" font-size="7.8" text-anchor="end">0</text>
<path d="M493 409.2H592" stroke="#888" stroke-width="0.7" stroke-dasharray="2.2 1.8"/>
<text x="503.6" y="408" font-size="7.8">80%</text>
<rect x="462.0" y="456.3" width="3.8" height="3.8" fill="#ee6d10"/>
<text x="470.9" y="461.0" font-size="7.8">ccRCC</text>
<rect x="501.5" y="456.3" width="3.8" height="3.8" fill="#a3dd90"/>
<text x="510.4" y="461.0" font-size="7.8">CRC</text>
<rect x="532.5" y="456.3" width="3.8" height="3.8" fill="#e07ec0"/>
<text x="541" y="461.0" font-size="7.8">MCC</text>
<rect x="565.2" y="456.3" width="3.8" height="3.8" fill="#d92b2b"/>
<text x="573.7" y="461.0" font-size="7.8">NSCLC</text>
<rect x="462.0" y="467.1" width="3.8" height="3.8" fill="#cfcfcf"/>
<text x="470.9" y="471.8" font-size="7.8">Non-responder</text>
<rect x="532.5" y="467.1" width="3.8" height="3.8" fill="#e8101e"/>
<text x="541" y="471.8" font-size="7.8">Responder</text>
<text x="504" y="492" font-size="8.8" textLength="74.3" lengthAdjust="spacingAndGlyphs">COTL1<tspan font-size="5.6" dy="-3.2">high</tspan><tspan dy="3.2"> NK score</tspan></text>
<path d="M528.8 499.4C530.3 498.2 533.9 497.5 536.1 497.9C538.3 498.3 540.8 499.9 541.9 501.6C543 503.3 542 506.5 542.7 508.1C543.4 509.7 544.5 510.1 546.3 511.1C548.1 512.1 551.9 512.3 553.6 514C555.3 515.7 555.8 518.6 556.5 521.3C557.2 524 558 527.3 558 530C558 532.7 557.5 534.9 556.5 537.3C555.5 539.7 552.9 542.4 552.2 544.6C551.5 546.8 552.9 548.3 552.2 550.5C551.5 552.7 549.5 555.4 547.8 557.8C546.1 560.2 544.1 564.1 541.9 565.1C539.7 566.1 536.8 564.3 534.6 563.6C532.4 562.9 531 561.2 528.8 560.7C526.6 560.2 523.9 561.4 521.5 560.7C519.1 560 515.7 558 514.2 556.3C512.7 554.6 513.9 552.7 512.7 550.5C511.5 548.3 508.6 545.4 506.9 543.2C505.2 541 503.2 539.2 502.5 537.3C501.8 535.3 502 533.2 502.5 531.5C503 529.8 504.3 529.1 505.4 527.1C506.5 525.1 507.6 522.2 509.1 519.8C510.6 517.4 512.1 514.3 514.2 512.5C516.3 510.7 519.3 510.1 521.5 508.9C523.7 507.7 526.1 506.8 527.3 505.2C528.5 503.6 527.3 500.6 528.8 499.4Z" fill="#c4ef35"/>
<path d="M490.8 532.2C490.8 531.2 493.6 529.3 495.2 528.6C496.8 527.9 499.7 527.2 500.3 527.8C500.9 528.4 499.8 531.1 498.9 532.2C498 533.3 496.5 534.4 495.2 534.4C493.9 534.4 490.8 533.2 490.8 532.2Z" fill="#36f293"/>
<path transform="scale(.25)" d="M2086 2051h0m129 4h0m-3 5h0m-23-7h0m-4 3h0m-5 7h0m-13-7h0m-24-4h0m-1 11h0m-9 0h0m-29 5h0m28 4h0m14-4h0m10 0h0m10-3h0m40 1h0m-11 10h0m-9 10h0m-1 1h0m-6-9h0m-8 0h0m-11 0h0m-11 9h0m-1-11h0m-13 6h0m-8-2h0m-9 3h0m-6 2h0m-21 0h0m-15-7h0m-1 9h0m-21-2h0m-2 2h0m-4-3h0m-14 10h0m17 4h0m20-7h0m18 3h0m8-3h0m23 1h0m13 3h0m3-2h0m1 3h0m7 2h0m5-4h0m18 4h0m12-1h0m4-6h0m3-1h0m4 2h0m9-1h0m15 5h0m2-1h0m7-7h0m5 3h0m-4 12h0m-1-3h0m-26 6h0m-8 1h0m-15 3h0m-9-1h0m-7-3h0m-16-3h0m-4 8h0m-8-6h0m-4-3h0m-14 5h0m-21 4h0m0-3h0m-2-2h0m-47 0h0m-4-1h0m-10-1h0m-2 2h0m-15 12h0m5 5h0m60-11h0m18 1h0m38 5h0m10 2h0m18-2h0m14-2h0m19 1h0m12-2h0m5-2h0m2 3h0m20 3h0m-22 13h0m-16-7h0m-3 7h0m-16 0h0m-29 2h0m-13-10h0m-18 7h0m-2-5h0m-1 8h0m-2-5h0m-19-5h0m-10 9h0m-28 2h0m-2-8h0m14 10h0m9 4h0m2 6h0m2-5h0m0-1h0m6 6h0m9-3h0m12-5h0m4-3h0m3 11h0m27-5h0m2 5h0m27-7h0m47 4h0m-37 10h0m-1 0h0m-39-4h0m-16 2h0m-40 2h0m-6-1h0m-10 5h0m-33-6h0m0 12h0m15 1h0m8 1h0m0 4h0m54-1h0m0 1h0m1 1h0m10-4h0m12-5h0m2-1h0m3 6h0m15 2h0m3-5h0m7 4h0m7-1h0m11 0h0m36 2h0m-32 12h0m-9-5h0m-44 7h0m-22-1h0m-9-6h0m-13 6h0m-33-10h0m-12 4h0m7 19h0m7-10h0m38 2h0m2-1h0m6 3h0m7 2h0m1-6h0m35 0h0m25 2h0m8 3h0" stroke="#fab235" stroke-width="4.2" stroke-linecap="round" fill="none"/>
<path transform="scale(.25)" d="M2124 2039h0m-17 9h0m100 2h0m9 11h0m-10-7h0m-15 5h0m-9-2h0m-7 4h0m-3-5h0m-5 5h0m-22-9h0m-15 5h0m-18 6h0m-19-9h0m-10 5h0m-27 14h0m55-3h0m9 2h0m15-1h0m4-7h0m42 8h0m2-3h0m21-5h0m3 0h0m10 5h0m2 4h0m-4 13h0m-18-1h0m-9-6h0m-27-3h0m-8 9h0m-5-9h0m-5 7h0m-5 3h0m-4-6h0m-1-4h0m-13 0h0m-41 0h0m-35 9h0m-3 14h0m1-11h0m10 5h0m6-5h0m10 10h0m14-8h0m9 3h0m1-1h0m22 2h0m6-4h0m2 2h0m19 7h0m4-11h0m0 9h0m3-3h0m3-1h0m4-2h0m2-3h0m3 8h0m2-8h0m12 2h0m36 3h0m17-4h0m2 8h0m-1 3h0m-1 9h0m-19-3h0m-8 3h0m-8 1h0m-2-2h0m0-6h0m-13 8h0m-1-4h0m-19-1h0m-3 5h0m-3-8h0m-6-1h0m-11 9h0m-2-8h0m-6-1h0m-9 6h0m-15 0h0m0 2h0m-9-1h0m-7-8h0m0 3h0m-2 7h0m-1 0h0m-10-4h0m-1 5h0m-6-10h0m-3 10h0m-5-11h0m-7 6h0m-29-1h0m-33 10h0m49 8h0m3-11h0m0 7h0m16-7h0m17 7h0m1-1h0m2-6h0m26 10h0m5-5h0m5 6h0m9-9h0m19 2h0m5 5h0m38-1h0m3-5h0m0 1h0m2-2h0m1-2h0m10 4h0m3 7h0m6-7h0m3 1h0m7 4h0m4-1h0m-4 13h0m-4-9h0m-8 7h0m-18 2h0m-22-6h0m-4 3h0m-6 3h0m-10-4h0m-19 2h0m-8 3h0m-2-1h0m-53-8h0m-12 6h0m-5 4h0m0-1h0m-7-3h0m-6-7h0m-10 11h0m-5-9h0m-13 15h0m15-5h0m4 1h0m18 5h0m1 5h0m22-5h0m4-1h0m8-4h0m0 6h0m22-1h0m1-2h0m9 1h0m23 3h0m1-4h0m11 2h0m8 2h0m18 1h0m4-6h0m8 0h0m4 2h0m25-2h0m0-3h0m5 10h0m3-3h0m0-4h0m-10 14h0m-20 4h0m-2 1h0m-50-10h0m-43 0h0m-35 1h0m-13 6h0m-1 3h0m-12-4h0m-10 0h0m0 3h0m-15-8h0m-2 2h0m23 18h0m4-5h0m1 6h0m8-3h0m13-6h0m17 0h0m2 7h0m7 1h0m6 2h0m6-6h0m6-1h0m5 7h0m2-10h0m23 7h0m10-1h0m23-7h0m1 7h0m0-1h0m4 3h0m5-4h0m7-2h0m18 4h0m16 2h0m3 0h0m-44 12h0m-14-8h0m0 0h0m-4 10h0m-1-7h0m-23 1h0m-10-4h0m-18 5h0m-2-3h0m-1 1h0m-22 0h0m-22 6h0m0 0h0m-30-5h0m13 11h0m12 4h0m2-7h0m17 2h0m6 3h0m5-4h0m1-2h0m10 11h0m5-4h0m1-4h0m10-2h0m1 5h0m11-5h0m7 10h0m1-1h0m2-5h0m2-1h0m9 0h0m9 1h0m8-3h0m5 5h0m26-1h0m-57 7h0m-20 2h0m-33-3h0m-6 5h0m-8-4h0" stroke="#e0da37" stroke-width="4.2" stroke-linecap="round" fill="none"/>
<path transform="scale(.25)" d="M2154 1999h0m-1 19h0m12 5h0m7 9h0m-12-3h0m0 1h0m-3 7h0m-24-5h0m-7 3h0m-21-6h0m-23 22h0m32 0h0m26-8h0m8-3h0m5 3h0m16 3h0m20 2h0m1 3h0m23 7h0m-63-1h0m-15-1h0m-60 3h0m-12 8h0m1-3h0m7 9h0m10-2h0m8-5h0m13-2h0m3 12h0m-29 8h0m-11-6h0m72 12h0m-82 11h0m-39 18h0m218 2h0m-243 10h0m0 1h0m161 17h0m-104 7h0m142 13h0m26-7h0m-14 10h0m-48 22h0m30 0h0m10-6h0m17-2h0m1 7h0m-10 8h0m-19-3h0m-12 0h0m-33 2h0m-39 1h0m-4 3h0m-10-4h0m-11 0h0m-28-3h0m15 13h0m16 2h0m3-2h0m2 5h0m18 0h0m5 1h0m5-8h0m6 8h0m9 3h0m16-2h0m3-9h0m10 2h0m12 2h0m7 0h0m-68 20h0" stroke="#61fb6d" stroke-width="4.2" stroke-linecap="round" fill="none"/>
<path transform="scale(.25)" d="M2132 1997h0m9-3h0m4 3h0m7-5h0m1 5h0m6 8h0m-5 5h0m-22 2h0m-22 5h0m8 1h0m51 7h0m-74 15h0m112 164h0m-98 14h0m7-4h0m55 1h0m24-7h0m5 4h0m2 9h0m-3 1h0m-14 0h0m-9 2h0m-21-4h0m-13 3h0m-12-2h0m-2 7h0m-12-1h0m-4 0h0m-4 3h0m-20-3h0m-15 2h0m-17-7h0m9 11h0m4 3h0m8-1h0m13 3h0m21-2h0m10-1h0m5 7h0m0-9h0m10 10h0m3-11h0m26 13h0m-34 2h0m-8-3h0m-22 1h0" stroke="#428bf9" stroke-width="4.2" stroke-linecap="round" fill="none"/>
<path transform="scale(.25)" d="M2134 2046h0m55 3h0m30 12h0m-5-1h0m-9-1h0m-32-5h0m-7 0h0m-37 7h0m-13 0h0m-4-2h0m-18-1h0m-5 5h0m15 6h0m19-2h0m3 8h0m20-11h0m15 3h0m6-2h0m7 10h0m21-9h0m1-2h0m0 9h0m12-2h0m6-5h0m6 21h0m-11-8h0m-11 7h0m-1-4h0m-14 3h0m-4 2h0m-3 0h0m-3-6h0m-9 4h0m-29 0h0m-16-3h0m0-3h0m-6-1h0m-20 0h0m-40 18h0m1-1h0m3 3h0m8-1h0m22-1h0m1 2h0m1 1h0m7-8h0m11-3h0m0 4h0m6 6h0m2-6h0m1-2h0m4 6h0m11 1h0m3-9h0m14 0h0m3 2h0m11-1h0m3-1h0m2 6h0m4 0h0m17-2h0m3-1h0m3 2h0m0-3h0m6 3h0m20 2h0m12 2h0m-6 5h0m-10 3h0m-13-3h0m-12 5h0m-24-1h0m-21-4h0m-8 9h0m-4-8h0m-1 7h0m-8-6h0m-14-1h0m-8-3h0m-20 7h0m-5 3h0m-4-5h0m-6-5h0m-14 4h0m-5 1h0m-4-5h0m-7 2h0m-19 20h0m12 0h0m32-6h0m20-3h0m2 0h0m7 7h0m6-2h0m20-2h0m1-1h0m13-2h0m12 1h0m2 7h0m28-5h0m3 1h0m6-1h0m15 4h0m10 1h0m7-4h0m9 3h0m-10 14h0m-13-2h0m0-6h0m-16 7h0m-3-6h0m-2 4h0m-1-6h0m-6 3h0m-49 7h0m-18-8h0m0 8h0m-9-3h0m0 1h0m-24-6h0m-1-1h0m-5 6h0m-11-3h0m-46 12h0m3 0h0m13 1h0m1 4h0m1-6h0m31 1h0m2 3h0m1-5h0m3-2h0m3 5h0m1 0h0m9-2h0m10 0h0m21-2h0m8-1h0m6 0h0m19-1h0m7 7h0m1-1h0m27 0h0m0-4h0m2 5h0m13-4h0m13-3h0m2 3h0m6 17h0m-22 3h0m-1-9h0m-15 7h0m-11-5h0m-1 7h0m-14-5h0m-6-3h0m-8 4h0m-7 1h0m-14-8h0m-1 0h0m-5 3h0m-1 3h0m-1 5h0m-1-10h0m-4 3h0m0-1h0m-18-3h0m-12 8h0m-6 1h0m-25-4h0m-16-3h0m-15 2h0m25 10h0m26 1h0m8 7h0m17-3h0m11 4h0m24-3h0m8 1h0m1-5h0m5-1h0m2 6h0m6 1h0m18-9h0m14 9h0m7-9h0m14 5h0m13-4h0m5 13h0m-17-3h0m-25 6h0m0-2h0m-23 1h0m-6 1h0m-1-3h0m-6 6h0m-42 2h0m-5-6h0m-6-1h0m-4 7h0m-1 0h0m-3-10h0m-3 5h0m-4 1h0m-2-4h0m-10 5h0m-6-4h0m9 12h0m8-2h0m2 6h0m7 2h0m14 1h0m5-4h0m4-3h0m1 5h0m10-8h0m6 4h0m17-4h0m27 0h0m28 8h0m-57 4h0" stroke="#f4c137" stroke-width="4.2" stroke-linecap="round" fill="none"/>
<path transform="scale(.25)" d="M2135 1989h0m4 3h0m-2 17h0m66 197h0m-15 13h0m11-8h0m1 11h0m-19 2h0m-7 4h0m-6-2h0m-15 3h0m-2-3h0m-76 14h0m9-4h0m21 2h0m13-5h0m10 5h0m3 1h0m2 2h0m18-5h0m19 1h0m8 12h0m0 3h0m-2-2h0m-15-5h0m-1 4h0m-17 2h0m-56-7h0" stroke="#466be3" stroke-width="4.2" stroke-linecap="round" fill="none"/>
<path transform="scale(.25)" d="M2113 2026h0m29-4h0m9 2h0m15-4h0m3 4h0m-44 12h0m-13-1h0m-39 6h0m9 8h0m13 0h0m16-6h0m14 0h0m9 0h0m2 5h0m14-2h0m6 5h0m18-7h0m6 7h0m27 8h0m-48-5h0m-13 5h0m-36-7h0m-21 3h0m-9 1h0m-5-4h0m-9 10h0m-9-9h0m-2 10h0m-1-6h0m-12 15h0m19-8h0m9 2h0m33 3h0m14-1h0m2 6h0m74-1h0m2 0h0m33 9h0m-64-1h0m-35 6h0m-17-4h0m-32-4h0m-35 0h0m-6 7h0m-7 6h0m11 2h0m4 5h0m2-10h0m76 0h0m20 9h0m43 12h0m-121-8h0m-1 2h0m-6-4h0m-5 6h0m-22-1h0m0 6h0m-12-9h0m-49 19h0m47-3h0m8 5h0m32-4h0m24-7h0m7 1h0m24 6h0m1-4h0m1 0h0m21 7h0m12-2h0m9-5h0m55 1h0m-27 16h0m-16-1h0m-117 2h0m-9-9h0m-9 3h0m-6 7h0m-4-1h0m-15 12h0m11-9h0m56 8h0m9 3h0m12-10h0m4 4h0m11-1h0m52 7h0m36-10h0m9 10h0m8-8h0m-14 14h0m-10 5h0m-10-5h0m-9-1h0m-49 4h0m-45 0h0m-18-8h0m-20 9h0m-19-4h0m-10-5h0m0 2h0m-3 7h0m89 7h0m67 4h0m23-6h0m18 7h0m1 9h0m-22 0h0m-3 4h0m-66-2h0m-67-8h0m-12 8h0m-5-5h0m78 16h0m31 4h0m20-4h0m22-7h0m9 2h0m4 2h0m1 4h0m-17 4h0m-10 4h0m-5 7h0m-6-10h0m-10 6h0m-2-6h0m-39 7h0m-10-5h0m-7 6h0m-1 1h0m-21-4h0m-4 0h0m-10-2h0m13 9h0m31 3h0m23-2h0" stroke="#a4fc3b" stroke-width="4.2" stroke-linecap="round" fill="none"/>
<path transform="scale(.25)" d="M2174 2052h0m-6 3h0m-32 8h0m-8 3h0m19 4h0m25 11h0m-12 0h0m-24-5h0m-13 4h0m-13 4h0m-19 0h0m58 8h0m28 2h0m12-4h0m5 3h0m20-4h0m-16 21h0m-1-10h0m-40 7h0m-47-3h0m-1 2h0m-11 3h0m-1-5h0m-3-4h0m-33 10h0m13 5h0m14 2h0m5 1h0m27-4h0m29-2h0m3 7h0m17-7h0m1 9h0m40-2h0m20 16h0m-6-9h0m-30-2h0m-29 8h0m-33 1h0m-14-4h0m-6-5h0m-81 10h0m45 11h0m12 0h0m1-9h0m14 11h0m23-1h0m20-9h0m13 6h0m3 1h0m2-5h0m31 14h0m-5-2h0m-9 3h0m-58 2h0m-19 1h0m-9-2h0m-4-4h0m0 2h0m-21 0h0m-50 11h0m15 7h0m22-6h0m25 6h0m5-9h0m8 1h0m1 0h0m34 8h0m13-1h0m5-8h0m8 9h0m3-10h0m14 2h0m9 0h0m-50 11h0m-13 7h0m-49-1h0m-3-1h0m-36-4h0m41 19h0m21 0h0" stroke="#fa7d20" stroke-width="4.2" stroke-linecap="round" fill="none"/>
<path transform="scale(.25)" d="M2133 1988h0m-13 4h0m10 0h0m1 6h0m-1 6h0m-18 14h0m72 209h0m-5-7h0m-4 8h0m-92 9h0m5-4h0m1-1h0m6 7h0m5-2h0m1 6h0m12 0h0m5-7h0m2 6h0m2-10h0m2 8h0m0-5h0m6 6h0m5-1h0m8 3h0m6 0h0m1-5h0m0 4h0m1-3h0m1 2h0m6-3h0m5-6h0m0 7h0m1 3h0m1 1h0m5-10h0m1 5h0m2-6h0m5 4h0m2 2h0m1 1h0m1-7h0m2 1h0m5 0h0m-3 12h0m-4 4h0m-3-1h0m-2 5h0m-2-6h0m-1 1h0m0 6h0m-3-10h0m-1 10h0m-2-3h0m-1-3h0m-1 5h0m-7-3h0m-2 2h0m-2 1h0m-1-9h0m-1 10h0m-1-1h0m0-8h0m0 7h0m-2-1h0m-2-3h0m-1 5h0m-3 0h0m-1-9h0m0 8h0m-2-3h0m-5 6h0m-1 0h0m0 0h0m-1-10h0m-3 6h0m-3-1h0m-3-1h0m15 9h0m4-2h0m5 3h0m0 0h0m1-2h0m1 0h0m1 3h0m7 4h0m0-5h0m1 2h0m1-1h0m2-4h0m3 1h0m3 6h0m2-6h0m1 2h0" stroke="#435ac8" stroke-width="4.2" stroke-linecap="round" fill="none"/>
<path transform="scale(.25)" d="M2165 2050h0m4 1h0m41 12h0m-138 11h0m63-10h0m15 8h0m5-7h0m21 0h0m47 22h0m-29-11h0m-29 0h0m-1 5h0m-1-5h0m-11 10h0m-1-7h0m-6 8h0m-11-11h0m-3 8h0m-14-2h0m-4 3h0m-16-3h0m-6 0h0m-5-6h0m-32 11h0m-25 9h0m61 2h0m18-7h0m10 5h0m6-5h0m11 4h0m2-6h0m19 6h0m1-2h0m14 6h0m14-4h0m36-4h0m6 17h0m-25-8h0m-2 2h0m-5-2h0m-36 1h0m-8-1h0m-26 0h0m-19 3h0m-11 0h0m-13 4h0m-1 1h0m-6 0h0m-1 1h0m-12-9h0m-25 9h0m-1 13h0m16-10h0m19 2h0m6 6h0m15-1h0m2-5h0m15-2h0m1 4h0m13 7h0m8-7h0m2 2h0m15 1h0m1-2h0m0 3h0m6 2h0m0-2h0m24 0h0m14-7h0m3 1h0m1-1h0m32 13h0m-33 9h0m-7-9h0m-15 2h0m-7-2h0m-18 5h0m-1 1h0m-21-2h0m-12 2h0m-10-3h0m-49 3h0m-3-6h0m0 7h0m-31 7h0m53-1h0m42 8h0m21 0h0m17-3h0m9 0h0m10 0h0m16-2h0m6-4h0m20-1h0m-10 19h0m-9 2h0m-2-6h0m-30 6h0m-4 0h0m-21-9h0m0 7h0m-23-3h0m-11 4h0m-16-1h0m-27-8h0m-1 1h0m-5 8h0m-2 2h0m-14-5h0m-20 14h0m3 0h0m23-3h0m35 4h0m0-2h0m16 3h0m6 1h0m10-10h0m6 0h0m1 0h0m8 1h0m1 1h0m4 0h0m34 0h0m3 4h0m42 2h0m-18 13h0m-6-9h0m-24 3h0m-26 4h0m-41-8h0m-17 3h0m-9-1h0m-4-2h0m-4 8h0m0-4h0m-14-3h0m17 18h0m25 1h0m8-5h0m23 4h0m33 0h0m19-3h0" stroke="#fca230" stroke-width="4.2" stroke-linecap="round" fill="none"/>
<path transform="scale(.25)" d="M2100 2050h0m9-2h0m13 2h0m21-2h0m25-7h0m22 6h0m24 14h0m-9 2h0m-18-3h0m-15-5h0m-7 3h0m-1 2h0m-9-7h0m-4 5h0m-11-4h0m-4-1h0m-12 8h0m-10 0h0m-5-9h0m-9 1h0m-7 9h0m-1 1h0m-6-8h0m-15 5h0m-32 15h0m30-3h0m41 0h0m0-1h0m1-4h0m7-1h0m22-2h0m17 3h0m0 2h0m2 5h0m9 1h0m1-3h0m10 1h0m14-5h0m3 2h0m29 4h0m3 13h0m-2-9h0m-2 2h0m-10 7h0m-5-3h0m-6-5h0m-6 6h0m-7-8h0m-1-1h0m0 10h0m-3-7h0m-11 1h0m-3-1h0m-5 4h0m-8 4h0m-2-1h0m-10-3h0m-2-6h0m-3 6h0m-1 0h0m-16-1h0m-1-5h0m-8 5h0m-12-3h0m-1-2h0m-2 4h0m-6 3h0m-14-8h0m-16 1h0m-3 8h0m-22-9h0m17 18h0m9 5h0m24-6h0m1-3h0m1 8h0m1-1h0m4-8h0m39 10h0m1-10h0m15 2h0m2 0h0m3 4h0m9-7h0m7 2h0m6 7h0m21-2h0m3 0h0m12-4h0m7 7h0m5-5h0m-28 11h0m-3 5h0m-3-9h0m-1 2h0m-3 0h0m-2 7h0m-17-4h0m-10 0h0m-15 1h0m-16-2h0m-10 6h0m-15-4h0m-11 5h0m-1-11h0m-3 6h0m-2 4h0m-5-7h0m-7 6h0m-7-1h0m-8-6h0m-8 4h0m-21-4h0m-17 18h0m0-2h0m28 5h0m17-4h0m1 0h0m1 1h0m1 0h0m3-7h0m13 4h0m18 2h0m3-2h0m7-2h0m4 7h0m9-8h0m2 0h0m3 0h0m45 9h0m0-11h0m28 9h0m2-5h0m33 0h0m-2 11h0m-29-3h0m-2 0h0m-1 6h0m-8 4h0m-22-10h0m-8 1h0m-10 8h0m-1-1h0m-4-1h0m-11-1h0m-1-4h0m-6 2h0m-7 0h0m-14 5h0m-3-8h0m-16 6h0m-22 2h0m-2-2h0m-11-4h0m-16 1h0m-12 7h0m12 1h0m5 11h0m7-6h0m4-2h0m5-1h0m28 1h0m0 1h0m36 7h0m3-9h0m11 8h0m30-2h0m14 3h0m6-3h0m0 7h0m-3 6h0m-11-9h0m-2 7h0m-2 0h0m-1-5h0m-6 9h0m-2-11h0m-9 0h0m-6 6h0m-5-6h0m-13 4h0m-15 7h0m-10-3h0m-1-2h0m-84 5h0m-3-2h0m27 10h0m15-3h0m15 4h0m9-2h0m10-1h0m37 0h0m2-5h0m1 2h0m9 4h0m1 5h0m5 0h0m3-11h0m21 0h0m6 1h0m6 10h0m1-5h0m18-6h0m21 4h0m-46 16h0m-39-5h0m-42 5h0m-52 3h0m7 1h0m15 5h0m14-1h0m1 0h0m3 7h0m3-6h0m23 2h0m6-6h0m7 6h0m11 4h0m8-5h0m13 2h0m2-7h0m17 1h0" stroke="#edcf39" stroke-width="4.2" stroke-linecap="round" fill="none"/>
<path transform="scale(.25)" d="M2138 1988h0m-5 3h0m-15 8h0m1 3h0m7-1h0m37 7h0m-7 6h0m-26-8h0m-7 5h0m-2 3h0m-4-5h0m2 11h0m3 0h0m55 17h0m-4 1h0m-5-6h0m-6 0h0m-16-2h0m-32 2h0m-20-4h0m-34 18h0m64 1h0m14-3h0m14-3h0m0 2h0m12 0h0m7-2h0m9 0h0m1-1h0m-97 13h0m-34 9h0m-58 53h0m202 91h0m-19-2h0m-19-4h0m-1 7h0m-5-11h0m-30 10h0m-10-2h0m-50 7h0m4 6h0m1-7h0m4 6h0m6-1h0m38-6h0m2 4h0m1 3h0m14-7h0m24 2h0m5 6h0m5 1h0m14-10h0m14 4h0m8-1h0m-49 14h0m-14 2h0m-8-6h0m-47 7h0m-1-6h0m-4 7h0m-13 2h0m7 6h0m8-1h0m47 0h0" stroke="#27e9a8" stroke-width="4.2" stroke-linecap="round" fill="none"/>
<path transform="scale(.25)" d="M2133 2000h0m19 0h0m-16 16h0m16 2h0m0 8h0m18-1h0m-23 7h0m-21 1h0m-3 4h0m-52 10h0m3-3h0m11 1h0m5 5h0m2-6h0m18 7h0m7 0h0m6-2h0m24 2h0m10-9h0m7 6h0m42 5h0m-82 1h0m-26 3h0m-5 1h0m-22-2h0m-6-4h0m-5 3h0m-11 2h0m-3 7h0m8 7h0m5 1h0m8 3h0m1-7h0m1 4h0m1 1h0m18-6h0m21 5h0m3-2h0m25-1h0m71 0h0m5-5h0m-2 14h0m-118 5h0m-11-5h0m-28 6h0m-19-1h0m-4 0h0m-6 16h0m2-9h0m5 2h0m0 0h0m46 6h0m112-3h0m1 12h0m-47-3h0m-133 18h0m3-8h0m15 7h0m5-9h0m6 0h0m10 6h0m4-1h0m55 1h0m108 3h0m-127 12h0m-77-1h0m-29 1h0m-2 2h0m-3-6h0m35 18h0m185-4h0m31 3h0m-11 10h0m-31 3h0m-151-2h0m84 5h0m76 9h0m12-7h0m-97 11h0m-83 4h0m63 16h0m34-1h0m52-8h0m2 7h0m23-7h0m-7 14h0m-7-3h0m-11 10h0m-9-1h0m-20 1h0m-4-1h0m-17-9h0m-9 6h0m-1 3h0m-4 0h0m-1 0h0m0-8h0m-13 5h0m-3 0h0m-3-2h0m-8 0h0m-21 0h0m6 10h0m10-2h0m11-1h0m14 1h0m3 1h0m21 1h0m14 4h0m11-7h0" stroke="#78fd5a" stroke-width="4.2" stroke-linecap="round" fill="none"/>
<path transform="scale(.25)" d="M2120 1996h0m20 7h0m16-1h0m10 5h0m-19 8h0m-21-5h0m-5-1h0m-10 1h0m15 16h0m3 1h0m1-10h0m4 5h0m7 3h0m20 2h0m1-1h0m5-1h0m3-8h0m-21 16h0m-4-3h0m-11 4h0m-35 3h0m-1-3h0m-1-6h0m-4 6h0m-1 1h0m-8 0h0m-6 3h0m5 3h0m19 3h0m29 1h0m16 0h0m27-2h0m6 2h0m-96 10h0m-106 73h0m218 77h0m0 1h0m-4-10h0m-1 8h0m-17 2h0m-91 5h0m1 6h0m2-1h0m1-3h0m11 2h0m8-4h0m8 6h0m17-4h0m0 4h0m2-2h0m14 0h0m5-3h0m5 4h0m5-3h0m1 3h0m6 2h0m12-6h0m2 5h0m9-3h0m6 2h0m-13 9h0m-12 4h0m-36-9h0m-2 8h0m-11-5h0m-10 5h0m-8 1h0m-14 1h0m-31 3h0" stroke="#1ad6ca" stroke-width="4.2" stroke-linecap="round" fill="none"/>
<path transform="scale(.25)" d="M2203 2060h0m-20-8h0m-33 9h0m35 8h0m21 6h0m19 11h0m-5-2h0m-20 0h0m-11-2h0m-7 5h0m-15-8h0m0 1h0m-25 3h0m-12-7h0m-3 0h0m-12 21h0m7-5h0m4 4h0m9 1h0m4-8h0m7 6h0m3 2h0m71 7h0m-20 4h0m-15 3h0m-30-3h0m-22 0h0m0-5h0m-9 0h0m-12 8h0m-6-6h0m-4-2h0m-7 15h0m37 3h0m31 1h0m7-4h0m25 1h0m11-3h0m24 3h0m-16 9h0m-55 7h0m-6-9h0m-9 0h0m-1 1h0m-14-3h0m-8 5h0m-9 0h0m-14 1h0m-7-1h0m0 0h0m-5 4h0m-21-2h0m-9-4h0m-32 6h0m-17-4h0m10 11h0m61 2h0m16-5h0m4-1h0m10 4h0m14 0h0m14-1h0m23-3h0m7 11h0m15-1h0m27 2h0m-22 0h0m-2 5h0m-10 2h0m-15-1h0m-50 5h0m-2-8h0m-10 4h0m-9-1h0m-32 3h0m-6-7h0m-5 3h0m-20 12h0m11 6h0m29-8h0m2 3h0m1 4h0m5-4h0m1-4h0m28-1h0m3 0h0m9 1h0m11-2h0m35 10h0m7-3h0m24-1h0m-27 10h0m-4 4h0m-2 3h0m-6-5h0m-4 2h0m-61 2h0m-3-5h0m-5-3h0m-1 9h0m-6 0h0m-19 2h0m4 3h0m32-4h0m8 10h0m9-6h0" stroke="#fb9028" stroke-width="4.2" stroke-linecap="round" fill="none"/>
<path transform="scale(.25)" d="M2129 1990h0m-13 6h0m7-1h0m0-1h0m14-1h0m6 9h0m-15 6h0m-7 7h0m-20 12h0m11-9h0m5 3h0m23 5h0m26-10h0m-63 13h0m-33 15h0m14-2h0m8-2h0m-38 34h0m-61 47h0m6 0h0m9 6h0m183 73h0m-4 3h0m-17 4h0m-21-11h0m-42 5h0m-56 16h0m1-8h0m24 10h0m4-1h0m10-5h0m75 5h0m19-1h0m0 1h0m12 6h0m-14-2h0m-2 1h0m-20-1h0m-21 2h0m-22 2h0m-2 5h0m-8-8h0m-16 8h0m-4-1h0m-15-9h0m-12 9h0m-6-6h0m-1-4h0m34 17h0m25-2h0m43-1h0m2-1h0" stroke="#21c8da" stroke-width="4.2" stroke-linecap="round" fill="none"/>
<path transform="scale(.25)" d="M2157 2008h0m-31 7h0m-4 8h0m15-5h0m2 13h0m-8 7h0m-18 1h0m-59 11h0m14-5h0m14-5h0m15 8h0m4 2h0m21-6h0m26-1h0m13-1h0m13 2h0m5 0h0m1 7h0m22-4h0m4 14h0m-41-6h0m-59-3h0m-43 11h0m-18 3h0m10-2h0m2 8h0m4 2h0m1-10h0m2 1h0m10 1h0m38 3h0m15-2h0m11 0h0m18 2h0m10 1h0m52 12h0m-11-5h0m-8 3h0m-37-1h0m-91 3h0m-5-1h0m-7-2h0m-14-2h0m-4 7h0m11 12h0m24 2h0m6-4h0m89-4h0m47 7h0m4-4h0m-50 12h0m-36-2h0m-53 8h0m-7-1h0m-29-7h0m-61 20h0m2-9h0m6 1h0m1 8h0m35-2h0m10-8h0m50 5h0m30 1h0m19 4h0m63-10h0m30 2h0m-6 16h0m-15 1h0m-99-8h0m-77 0h0m-19 7h0m-24 1h0m29 10h0m5-5h0m7 4h0m85 3h0m3-4h0m26 7h0m76 0h0m2-7h0m3 3h0m-18 11h0m-92-2h0m-12-4h0m-6 1h0m-62 0h0m-21 7h0m106 10h0m69 13h0m-26 3h0m-1-3h0m-25-7h0m-36 0h0m-23 5h0m-22-3h0m-21 12h0m33 2h0m26 6h0m21-4h0m32-5h0m0 10h0m43-7h0m9 7h0m3-9h0m-59 21h0m-13-4h0m-14 1h0m-1 2h0m-5 0h0m0-7h0m-9 2h0m-7 2h0m-9 0h0m-3-1h0m-7 4h0m-4-2h0m-7-3h0m-1 0h0m-13-4h0m-1 5h0m5 8h0m22 4h0m21 4h0m0-5h0m1 0h0m20 3h0m4-2h0m10-1h0m32 0h0" stroke="#8efc4b" stroke-width="4.2" stroke-linecap="round" fill="none"/>
<path transform="scale(.25)" d="M2149 1997h0m5 4h0m13 9h0m0 0h0m-17-3h0m-6-1h0m-4 8h0m-10-2h0m-22 10h0m18 2h0m5 1h0m8-6h0m7 2h0m22-5h0m2 6h0m-5 14h0m-13-8h0m-22 1h0m-26 4h0m-5 0h0m-2 4h0m-17 0h0m-27 14h0m15-5h0m1 0h0m7-6h0m12 0h0m8 8h0m21-8h0m47 8h0m-58 6h0m-80 44h0m-48 23h0m1-4h0m3 5h0m1-2h0m11 0h0m-4 14h0m51 22h0m-18 7h0m184 35h0m-4-2h0m-5 10h0m-5-7h0m-42 2h0m-71 2h0m-27 13h0m18-2h0m20-1h0m20 5h0m4-3h0m2 3h0m3-1h0m4-6h0m1-3h0m3 0h0m3 0h0m22 4h0m0 4h0m18 3h0m7-10h0m1 10h0m25-6h0m-54 9h0m-6 2h0m-24 0h0m0 0h0m-11 3h0m-19-7h0m-6 2h0m-6-1h0m-1 0h0m28 15h0m25 7h0" stroke="#1ce0b9" stroke-width="4.2" stroke-linecap="round" fill="none"/>
<path transform="scale(.25)" d="M2139 1989h0m-10 6h0m7 7h0m24-1h0m1-2h0m-2 11h0m-19-5h0m-34 17h0m12 1h0m4 1h0m47-3h0m1 2h0m-23 7h0m-36 1h0m-6 3h0m-41 9h0m51-3h0m1 1h0m44 3h0m-175 70h0m175 92h0m-11-1h0m1 12h0m9-8h0m26 8h0m9-6h0m0 10h0m-2 10h0m-3-3h0m-27-2h0m-6 2h0m-5-4h0m-6 4h0m-23 1h0m-2-3h0m-11 0h0m-2-6h0m-13 1h0m-5 10h0m-19-4h0m-2-7h0m-6 11h0m-4-11h0m5 14h0m3 1h0m7 2h0m18-2h0m1 3h0m7-4h0m9 5h0m29-3h0m19 9h0" stroke="#32abf3" stroke-width="4.2" stroke-linecap="round" fill="none"/>
<path transform="scale(.25)" d="M2114 2070h0m56 0h0m53-3h0m-32 17h0m-2-4h0m-88-3h0m-44 16h0m70-2h0m12 0h0m7 4h0m81 9h0m-101 2h0m-1 1h0m-16 2h0m-9-1h0m-26 3h0m-2-5h0m-42 2h0m46 11h0m47 2h0m83 3h0m-16 1h0m-97 2h0m-62-2h0m60 16h0m20 0h0m8-3h0m35 5h0m12 14h0m-50-5h0m-7-3h0m0 2h0m-68-1h0m14 17h0m6 4h0m8-10h0m58 8h0m22-4h0m-45 9h0m-6-2h0m-37 1h0m-14 2h0m-13 3h0m52 13h0" stroke="#f46b19" stroke-width="4.2" stroke-linecap="round" fill="none"/>
<path transform="scale(.25)" d="M2158 2004h0m-31 4h0m0 14h0m23 2h0m10-2h0m13 16h0m-21-1h0m-26-6h0m-2 7h0m-31-9h0m-2 1h0m25 17h0m32-5h0m28 8h0m14-5h0m-16 8h0m-90 0h0m-1 1h0m-3 6h0m-7 0h0m-27 1h0m0-3h0m10 17h0m6-8h0m1 0h0m-14 10h0m-13 2h0m-12 19h0m63-9h0m110 10h0m-147 8h0m-7-3h0m-51 15h0m6 2h0m3-5h0m42-2h0m187 2h0m-235 10h0m-3 2h0m-13-3h0m-14 2h0m231 14h0m25 18h0m-209-6h0m3 7h0m183 22h0m-2-10h0m-16 13h0m31 4h0m-3 12h0m-12-2h0m-1 5h0m-10-8h0m-7 2h0m-4-2h0m-6 1h0m-14 3h0m-22-3h0m-12 3h0m-7 4h0m-12 2h0m-1-4h0m-17 1h0m-7 3h0m0-1h0m-6-8h0m-4 8h0m-6-4h0m-2 1h0m-6-3h0m-1-3h0m9 12h0m6 0h0m20 3h0m2-3h0m9 4h0m61-1h0m13 12h0m-9-3h0m-39 7h0m-14-3h0" stroke="#49f682" stroke-width="4.2" stroke-linecap="round" fill="none"/>
<path transform="scale(.25)" d="M2086 2050h0m122 10h0m-8-5h0m-13 4h0m-21-7h0m-6 11h0m-54-7h0m-24 1h0m-3 3h0m-14 2h0m-4-6h0m-3 2h0m-10 10h0m11 3h0m1-1h0m4-2h0m6-4h0m1 8h0m4-6h0m17 9h0m15-4h0m3-4h0m5 4h0m4-2h0m18 1h0m10-3h0m8 4h0m3-3h0m7 6h0m16-4h0m28 5h0m10 1h0m-9 6h0m-17 5h0m-15-4h0m-1 0h0m-20-7h0m-6 8h0m-17-7h0m-14 4h0m-21-4h0m-1 3h0m-3 1h0m-6 2h0m-5-1h0m-13 1h0m-2 0h0m-8 1h0m-4 3h0m0-10h0m-17 9h0m-6-7h0m-2 7h0m2 9h0m18 3h0m42-8h0m5 4h0m11-5h0m20 9h0m29-1h0m29 1h0m8-7h0m3 1h0m11 7h0m7-1h0m0 1h0m3-9h0m7 15h0m-9 6h0m-39-3h0m-2 1h0m-39 1h0m-12-3h0m-4 2h0m-14-4h0m-24-4h0m-12 3h0m-8-1h0m-5 1h0m-7 2h0m-16-1h0m-5 0h0m-9 18h0m12-4h0m8-3h0m1-3h0m2 1h0m18 3h0m15 2h0m2-7h0m3 2h0m10 9h0m14-7h0m3 3h0m2-5h0m1 8h0m0-8h0m7 3h0m32-3h0m2 6h0m5 0h0m8-5h0m23 7h0m2-6h0m9-2h0m12 6h0m17 4h0m-59 1h0m-35 0h0m-8 9h0m-6-7h0m-4-1h0m0 6h0m-11-1h0m-4-6h0m-51 2h0m-10-2h0m-1 1h0m-14 8h0m-4 1h0m11 7h0m4 1h0m12 3h0m5-10h0m6 9h0m13-8h0m57 0h0m1 6h0m17-3h0m22-1h0m4 0h0m7 2h0m12 4h0m13-2h0m13 16h0m-13-2h0m-1-5h0m-1-2h0m-1 9h0m-8-9h0m-14 6h0m-7-8h0m-13 0h0m-5 6h0m-8 3h0m-24 0h0m-12-6h0m-3 2h0m-42-2h0m-1 4h0m-4-3h0m-1-2h0m0 4h0m-8-2h0m-1-2h0m-10 3h0m-5-5h0m-8 9h0m-2-9h0m-6 7h0m-7-6h0m-3 7h0m26 13h0m2-4h0m4 3h0m0-4h0m25-3h0m2 7h0m25-2h0m16 3h0m16-2h0m11 3h0m8-1h0m14-6h0m4 0h0m7-1h0m14 0h0m17 1h0m3 2h0m15-4h0m-13 20h0m-21 0h0m-7-7h0m-5 9h0m-18-7h0m-4 6h0m-1-3h0m-1-2h0m-3 5h0m0-5h0m-5 2h0m-21 0h0m-13-2h0m-4 5h0m-27-3h0m-15-6h0m-3 8h0m-3-9h0m-2 6h0m-11-1h0m-14-1h0m-3 1h0m19 8h0m20 0h0m17 2h0m7-3h0m27 4h0m10-1h0m15-1h0m4-2h0m15 5h0m1 5h0m2 0h0m6-5h0m13 11h0m-31 2h0m-80-2h0" stroke="#d3e635" stroke-width="4.2" stroke-linecap="round" fill="none"/>
<path transform="scale(.25)" d="M2148 1991h0m-33 9h0m40-4h0m6 7h0m-15 4h0m19 16h0m-19 191h0m23 0h0m19 2h0m-18 5h0m-4 9h0m-22-1h0m-12-3h0m-44 3h0m-22 0h0m7 10h0m22 1h0m11-4h0m15 0h0m1-3h0m27-1h0m7 5h0m5 4h0m28-5h0m-27 12h0m-30 4h0m0-3h0m-49-5h0" stroke="#447bee" stroke-width="4.2" stroke-linecap="round" fill="none"/>
<path transform="scale(.25)" d="M2142 1990h0m-23 9h0m8-5h0m4 9h0m15 0h0m1-8h0m6 3h0m10 3h0m-18 7h0m-10 0h0m-11 7h0m-5-8h0m-6 4h0m-4 11h0m7 1h0m1-6h0m16-1h0m5 3h0m5 0h0m27 8h0m3-10h0m-20 13h0m-11 0h0m-35 5h0m-28 13h0m2-2h0m16 1h0m68-6h0m45 163h0m-12-3h0m-1 5h0m-70-7h0m-51 20h0m6-4h0m4-3h0m23 5h0m10 2h0m4-5h0m26-5h0m12 6h0m11 4h0m13-7h0m13 4h0m-18 6h0m-12-2h0m-8 2h0m-5 1h0m-16 6h0m-10 1h0m-6-4h0m-2 5h0m-2-4h0m-6 3h0m-5 1h0m-31-10h0m-1 8h0m-4-4h0m-5 5h0m35 7h0m2 4h0m2 1h0m5-10h0m3 7h0m10 2h0m12-6h0" stroke="#28bbeb" stroke-width="4.2" stroke-linecap="round" fill="none"/>
<path transform="scale(.25)" d="M2173 2071h0m22 9h0m-35 19h0m14-3h0m47 14h0m-84 0h0m25 13h0m37-1h0m-33 5h0m-32 3h0m-39-5h0m-48 20h0m108 2h0m31 1h0m-41 11h0m25 14h0m-38-1h0m-48 8h0" stroke="#e5490c" stroke-width="4.2" stroke-linecap="round" fill="none"/>
<path transform="scale(.25)" d="M2133 1994h0m15 6h0m24 10h0m-16 1h0m-8 4h0m-4-5h0m-16-1h0m-4-4h0m-5 0h0m-2 19h0m1-8h0m13 7h0m5 0h0m8-4h0m0 2h0m9-1h0m0 5h0m16 3h0m-10 4h0m-6 6h0m-7-6h0m-33 3h0m-2 0h0m-1-5h0m-16 2h0m-2 6h0m-21 5h0m13-1h0m5 3h0m1-3h0m12-1h0m1 3h0m24-3h0m5 6h0m9-5h0m41 1h0m1-1h0m-47 10h0m-45 2h0m-23 9h0m-2-8h0m-15 1h0m12 14h0m23 7h0m-6-1h0m-32 8h0m-11-7h0m-59 43h0m5 1h0m15 5h0m0 4h0m-13 0h0m-11 4h0m-3-1h0m50 33h0m176 29h0m13-2h0m2 5h0m-3-2h0m-3 2h0m-21 0h0m-29 2h0m-5-2h0m-4 3h0m-22-4h0m-4 1h0m-18 5h0m-31-3h0m-26-1h0m0-1h0m10 15h0m8-3h0m1 9h0m14-11h0m3 5h0m10-4h0m0 0h0m1 4h0m11 6h0m17-2h0m5-5h0m4 3h0m14-1h0m7-2h0m49-3h0m3-1h0m-79 14h0m-25 2h0m-3-2h0m-8-2h0m-14 11h0m-11-7h0" stroke="#32f197" stroke-width="4.2" stroke-linecap="round" fill="none"/>
<path transform="scale(.25)" d="M2127 2072h0m21 15h0m-4-3h0m-78 14h0m50-6h0m34-2h0m61 3h0m-31 8h0m-35 3h0m-32 2h0m-52 14h0m26-3h0m12 2h0m18-3h0m48 4h0m5-1h0m38 9h0m-74 13h0m85 1h0m-93 14h0m-43 1h0m-10-8h0m-41 10h0m8 4h0m53 8h0m12-11h0m58 11h0m-47 4h0m-32 8h0m-2-10h0m5 11h0" stroke="#ee5911" stroke-width="4.2" stroke-linecap="round" fill="none"/>
<path transform="scale(.25)" d="M2139 2013h0m-55 28h0m1 7h0m2 0h0m66 1h0m19-3h0m39 11h0m-15-4h0m0 6h0m-2-5h0m-1 0h0m-8 2h0m-22 7h0m-9-11h0m-15 0h0m-5 11h0m-33-7h0m-21 6h0m-32 7h0m44 6h0m35-8h0m10 1h0m32-2h0m1 1h0m13 0h0m3 5h0m17 2h0m13-1h0m2-6h0m-28 9h0m-18 9h0m-13 0h0m-15-6h0m-11 6h0m-16-3h0m-40 0h0m-15-4h0m-3 7h0m-15-2h0m0-5h0m-7 0h0m9 10h0m5 10h0m1-2h0m19-6h0m6-2h0m2 3h0m14 3h0m1-6h0m18 3h0m3 5h0m6-3h0m1-2h0m41 4h0m6 1h0m13 2h0m37-7h0m-96 19h0m-14-5h0m-95 14h0m10 4h0m15-5h0m24 3h0m8 1h0m114-8h0m0 2h0m13 5h0m10 0h0m5-6h0m0 1h0m12 1h0m-9 16h0m-9-3h0m-9 0h0m-60-6h0m-6 2h0m-7 9h0m-8-1h0m-27-4h0m-2 0h0m-29 1h0m-1 1h0m-10-8h0m-4 0h0m0 7h0m-16-5h0m-2 7h0m-12 1h0m-5 13h0m18-5h0m0 4h0m12 1h0m17-11h0m73 7h0m23-1h0m24-5h0m17 10h0m18 0h0m8-2h0m0 3h0m-6 10h0m-19 1h0m-41-8h0m-24 1h0m-3 5h0m-6-7h0m-6 5h0m-22-7h0m-21 8h0m-3-5h0m-51-1h0m43 15h0m19 3h0m3 3h0m12 0h0m11-5h0m18-6h0m58 6h0m2 5h0m25-4h0m3 16h0m-12-7h0m-10 0h0m-9 0h0m-2 4h0m0-7h0m-5 0h0m-9 9h0m-22-8h0m-14 9h0m-11-5h0m-8-5h0m-41 6h0m-6-2h0m-4 1h0m-12 4h0m-1-10h0m-3 7h0m-7 6h0m15 0h0m9 9h0m2-2h0m10-3h0m5-2h0m48 3h0m25-1h0m8-4h0m1 0h0m5 6h0m8 4h0m6-8h0m17-1h0m2 15h0m-23-1h0m-49-4h0m-13 3h0m-6-1h0m-14 2h0m-5 0h0m0 0h0m-24 13h0m64 0h0m14 4h0" stroke="#c4ef35" stroke-width="4.2" stroke-linecap="round" fill="none"/>
<path transform="scale(.25)" d="M2161 2012h0m-72 20h0m6 16h0m8 3h0m43-1h0m17 1h0m6-8h0m15 7h0m2-4h0m20 15h0m-4-7h0m-5 2h0m-23 3h0m-12 3h0m-13-7h0m-6 5h0m-15 0h0m0-1h0m-9 0h0m-13-7h0m0 6h0m-3 2h0m-1-6h0m-31 9h0m-16 7h0m7 2h0m3-5h0m28-2h0m18 3h0m16 7h0m7-6h0m3 2h0m4-2h0m2-5h0m7 2h0m1-2h0m53 0h0m1 3h0m-13 19h0m-24-5h0m-6-4h0m-10 2h0m-1 5h0m-4 2h0m-28-9h0m-1 3h0m-6 0h0m-43-4h0m0 4h0m-18 6h0m-5-9h0m-10 6h0m3 9h0m20 2h0m45 1h0m56-1h0m2-4h0m12 2h0m9-2h0m20 12h0m-37 7h0m-8-2h0m-57-1h0m-7-5h0m-15 10h0m-32-9h0m-8 2h0m-20 12h0m6-4h0m7 4h0m12 0h0m21-4h0m17 4h0m10 1h0m10-4h0m6 4h0m32 1h0m2 0h0m45 0h0m4 3h0m34-1h0m2 5h0m-107-1h0m-7 2h0m-65 0h0m-15 0h0m-2 2h0m-12-1h0m-35 0h0m-19 2h0m-1 1h0m79 6h0m19 0h0m54 7h0m63-5h0m42 5h0m7-4h0m-1 12h0m-2 1h0m-20 0h0m-1 4h0m-54-7h0m-21 1h0m0 1h0m-48-3h0m-23 10h0m-28-6h0m-5 9h0m6 4h0m15 3h0m6-4h0m60 7h0m0-1h0m4-8h0m30 6h0m28 0h0m35-3h0m-4 9h0m0 6h0m0-6h0m-20 9h0m-2-9h0m-11-2h0m-2 9h0m-3-6h0m-15 4h0m-9-6h0m-48 0h0m-3 8h0m-1-3h0m-41-6h0m-12 10h0m-2 5h0m4-1h0m7 7h0m21 0h0m23-1h0m9 1h0m25-9h0m14 1h0m4-1h0m1 4h0m8-2h0m13 2h0m8 4h0m6-2h0m11-4h0m3-1h0m8 1h0m-18 17h0m-12-5h0m-18 0h0m-21 5h0m-5-2h0m-28-2h0m-30 2h0m-20-3h0m59 10h0m36 5h0m40-4h0" stroke="#b4f538" stroke-width="4.2" stroke-linecap="round" fill="none"/>
<path transform="scale(.25)" d="M2132 1991h0m9 8h0m25 12h0m-28 3h0m-12-4h0m-6 2h0m-2-4h0m7 21h0m0 3h0m-60 166h0m73 19h0m13-5h0m15-4h0m37 8h0m4-4h0m-16 12h0m-2-3h0m-2 8h0m-8-5h0m-12 4h0m-8-1h0m-37 0h0m-2 0h0m0 1h0m-6 1h0m-16 2h0m-16 0h0m-23-5h0m-1-3h0m22 13h0m16 4h0m13-6h0m6 2h0m41-3h0m4 3h0m17 12h0m-35-2h0" stroke="#3c9bfa" stroke-width="4.2" stroke-linecap="round" fill="none"/>
<path transform="scale(.25)" d="M2087 2105h0m-13 43h0" stroke="#c02403" stroke-width="4.2" stroke-linecap="round" fill="none"/>
<path transform="scale(.25)" d="M2127 2155h0" stroke="#d02f04" stroke-width="4.2" stroke-linecap="round" fill="none"/>
<path transform="scale(.25)" d="M2196 2096h0m-111 38h0m-44 8h0m33-6h0m127 13h0m-88 28h0m-65-3h0" stroke="#da3c08" stroke-width="4.2" stroke-linecap="round" fill="none"/>
<ellipse cx="533.1" cy="532" rx="30.6" ry="18" transform="rotate(-21 533.1 532)" fill="none" stroke="#1a1a1a" stroke-width="1" stroke-dasharray="2.6 1.8"/>
<defs><linearGradient id="turboV" x1="0" y1="0" x2="0" y2="1"><stop offset="0.000" stop-color="#7a0402"/><stop offset="0.062" stop-color="#a91501"/><stop offset="0.125" stop-color="#d02f04"/><stop offset="0.188" stop-color="#ea500d"/><stop offset="0.250" stop-color="#fa7d20"/><stop offset="0.312" stop-color="#fdab33"/><stop offset="0.375" stop-color="#edcf39"/><stop offset="0.438" stop-color="#cdeb34"/><stop offset="0.500" stop-color="#a4fc3b"/><stop offset="0.562" stop-color="#6dfd62"/><stop offset="0.625" stop-color="#32f197"/><stop offset="0.688" stop-color="#17dcc2"/><stop offset="0.750" stop-color="#28bbeb"/><stop offset="0.812" stop-color="#4193fe"/><stop offset="0.875" stop-color="#466be3"/><stop offset="0.938" stop-color="#4040a1"/><stop offset="1.000" stop-color="#30123b"/></linearGradient></defs>
<rect x="565" y="516.2" width="6.9" height="32.1" fill="url(#turboV)"/>
<text x="575.5" y="525.4" font-size="7.6">0.75</text>
<text x="575.5" y="532.5" font-size="7.6">0.50</text>
<text x="575.5" y="540.0" font-size="7.6">0.25</text>
<text x="575.5" y="546.6" font-size="7.6">0</text>
<text x="654.7" y="392.8" font-size="8.8" text-anchor="middle">Responder</text>
<rect x="619.1" y="395.2" width="64.8" height="63.3" fill="#050210"/>
<clipPath id="dkr"><rect x="619.1" y="395.2" width="64.8" height="63.3"/></clipPath>
<g clip-path="url(#dkr)">
<path d="M659 397C660.3 395.8 663 396.8 664 398C665 399.2 664.3 402 665 404C665.7 406 666.2 408.3 668 410C669.8 411.7 673.7 412.3 676 414C678.3 415.7 680.8 417.3 682 420C683.2 422.7 683.8 426.7 683.5 430C683.2 433.3 681.2 437 680 440C678.8 443 677.3 445.5 676 448C674.7 450.5 673.8 453.6 672 455C670.2 456.4 667 457 665 456.5C663 456 661.7 452.2 660 452C658.3 451.8 657 454.7 655 455.5C653 456.3 650 457.6 648 457C646 456.4 644.2 454 643 452C641.8 450 642.2 447 641 445C639.8 443 637.5 442.2 636 440C634.5 437.8 632.8 434.7 632 432C631.2 429.3 630.8 426.3 631.5 424C632.2 421.7 634.1 419.7 636 418C637.9 416.3 640.7 415.3 643 414C645.3 412.7 647.8 411.5 650 410C652.2 408.5 654.5 407.2 656 405C657.5 402.8 657.7 398.2 659 397Z" fill="#5b1784" stroke="#4a1270" stroke-width="6" filter="url(#glow)"/>
<path d="M659 397C660.3 395.8 663 396.8 664 398C665 399.2 664.3 402 665 404C665.7 406 666.2 408.3 668 410C669.8 411.7 673.7 412.3 676 414C678.3 415.7 680.8 417.3 682 420C683.2 422.7 683.8 426.7 683.5 430C683.2 433.3 681.2 437 680 440C678.8 443 677.3 445.5 676 448C674.7 450.5 673.8 453.6 672 455C670.2 456.4 667 457 665 456.5C663 456 661.7 452.2 660 452C658.3 451.8 657 454.7 655 455.5C653 456.3 650 457.6 648 457C646 456.4 644.2 454 643 452C641.8 450 642.2 447 641 445C639.8 443 637.5 442.2 636 440C634.5 437.8 632.8 434.7 632 432C631.2 429.3 630.8 426.3 631.5 424C632.2 421.7 634.1 419.7 636 418C637.9 416.3 640.7 415.3 643 414C645.3 412.7 647.8 411.5 650 410C652.2 408.5 654.5 407.2 656 405C657.5 402.8 657.7 398.2 659 397Z" fill="#b0305f" fill-opacity="0.5" transform="translate(0 0)" filter="url(#glow)"/>
<path transform="scale(.25)" d="M2635 1608h0m1 9h0m-23 16h0m14 4h0m9 3h0m25 15h0m-14 0h0m-70 6h0m9 1h0m31-1h0m51 2h0m9-6h0m1 7h0m45 15h0m-32-7h0m-8-2h0m0 3h0m-1 6h0m-16-2h0m0-2h0m-3-4h0m-5 6h0m-22-4h0m-14 1h0m-1 5h0m-11-9h0m-65 4h0m39 7h0m26 4h0m2-2h0m16 4h0m3 3h0m18-6h0m3 3h0m16-4h0m13 2h0m37 6h0m-4 2h0m-40 4h0m-43 4h0m-8 1h0m-10-7h0m-32 7h0m-16-5h0m-20 18h0m6-7h0m36 0h0m11 2h0m30-6h0m8 8h0m9-2h0m11 4h0m3-2h0m58-8h0m5 1h0m10 0h0m-18 20h0m-32-6h0m-5 1h0m-10 3h0m-10 3h0m-4-1h0m-63-4h0m-25 17h0m8-6h0m41-2h0m35-2h0m82 7h0m-22 7h0m-41 1h0m-43 4h0m-9 4h0m-73-5h0m52 17h0m5 0h0m43-3h0m4 0h0m0-6h0m14-2h0m5 2h0m26-1h0m6 9h0m-1 9h0m-7-6h0m-20-1h0m-6 10h0m-106-6h0m32 14h0m0-2h0m35 6h0m7-2h0m-54 9h0m34 12h0m4 6h0m21-2h0m6 2h0m25-6h0m17 1h0m-80 10h0m-10 14h0" stroke="#8c2981" stroke-width="4.4" stroke-linecap="round" fill="none"/>
<path transform="scale(.25)" d="M2632 1591h0m26 10h0m-19 2h0m-2 2h0m-3-7h0m-7 1h0m23 11h0m3 4h0m6 3h0m8 8h0m-15 6h0m-1-1h0m-3-4h0m-2 4h0m-2-6h0m-1 2h0m-3 1h0m-3-5h0m-3-1h0m-4 6h0m-3-7h0m-12 7h0m-16 9h0m3 0h0m14-3h0m9 0h0m5 7h0m6-6h0m1-1h0m2 9h0m2-7h0m6 0h0m1 3h0m1 5h0m0-7h0m14-2h0m1 3h0m4 2h0m4-5h0m1 8h0m13 12h0m0 0h0m-14-8h0m-2 3h0m-2-2h0m-11-1h0m-3 9h0m-16-2h0m-9-5h0m0 4h0m-5-2h0m-15-3h0m0 8h0m-1-5h0m-2 4h0m-5-10h0m-7 3h0m-13 3h0m-16 13h0m0 3h0m27-8h0m4 4h0m3 4h0m3-6h0m1-2h0m0 5h0m8-5h0m1 9h0m17-7h0m2 5h0m15-7h0m7 8h0m0 1h0m0-5h0m5 2h0m6-6h0m0 3h0m1-1h0m2-4h0m1 10h0m2-3h0m9-2h0m1-3h0m1 8h0m6-1h0m4 2h0m1-11h0m2 9h0m2-8h0m12 4h0m2 6h0m9-4h0m8 16h0m-16-5h0m-9 5h0m-11-6h0m-16 0h0m-7-4h0m-1 8h0m-7-9h0m-10 9h0m-12-3h0m-1-2h0m-17 0h0m-6-4h0m-4 2h0m-2-2h0m-6 7h0m-2-6h0m-3 10h0m-6-5h0m-3-3h0m-4 3h0m0 3h0m-8-9h0m-5 8h0m-7-2h0m-16 0h0m-16 13h0m4-6h0m21 0h0m1 9h0m3-1h0m8 1h0m3-7h0m14-3h0m5 7h0m1-4h0m3 1h0m0-1h0m17-1h0m2 4h0m6-2h0m3 4h0m3-2h0m11 2h0m2-6h0m19 6h0m7-2h0m5-5h0m2 7h0m4 2h0m3 1h0m7-1h0m32-7h0m0 2h0m7-1h0m3-4h0m8 20h0m-2-5h0m0 4h0m-13-3h0m-3-4h0m-4 11h0m-6-11h0m-25 9h0m-22 2h0m-2-1h0m-31-6h0m-5 6h0m-8 0h0m-21-10h0m-3 0h0m-19 9h0m-2-7h0m-3 9h0m-23-1h0m-12-9h0m-6 3h0m-4 17h0m11 1h0m8-5h0m19 0h0m0 6h0m4-3h0m5 2h0m0 1h0m2-7h0m2 0h0m8-3h0m5 9h0m0-6h0m1-3h0m1-1h0m2 10h0m1-7h0m8-1h0m17-2h0m6 2h0m2 0h0m15 1h0m6 1h0m3 0h0m5 0h0m7-4h0m13 3h0m1 5h0m1-7h0m4 5h0m2-3h0m2 4h0m25-7h0m1 3h0m3 7h0m1 0h0m2-7h0m1-2h0m7 0h0m4 5h0m6 17h0m-16-11h0m-23 10h0m-3-7h0m-2 3h0m-6 1h0m-8 4h0m-2-2h0m-12-8h0m-7 9h0m-4-10h0m-3 1h0m-5 3h0m-15 3h0m-15 2h0m-8-3h0m-1 4h0m-3-10h0m-3 5h0m-5 4h0m-11-8h0m-5 5h0m-4 1h0m0-7h0m-1 6h0m-8-4h0m-1-2h0m-9 3h0m-10 8h0m-14-2h0m1 14h0m13-8h0m7-1h0m8 5h0m7-1h0m1 4h0m10-7h0m7-1h0m0 9h0m7-10h0m5 2h0m3 4h0m0-2h0m8 3h0m1 3h0m0-4h0m0 4h0m1-3h0m21-5h0m1 2h0m4 4h0m5-9h0m2 8h0m5 3h0m2-11h0m0 3h0m21 4h0m0 3h0m5-7h0m1-3h0m8 1h0m8 9h0m16 1h0m8-6h0m13-1h0m6 2h0m0-5h0m-9 13h0m-33 6h0m-1-2h0m-5 5h0m-23-2h0m-4 2h0m-5-1h0m0-7h0m-17 3h0m-1 3h0m-1-1h0m-22-3h0m-6 6h0m-5 0h0m-8-4h0m0 3h0m0-9h0m-7 7h0m-6-4h0m-9 0h0m-12 6h0m-11 0h0m-4 8h0m28 5h0m1-4h0m1 4h0m4-1h0m6-4h0m3-2h0m7 7h0m0-6h0m4 4h0m4 1h0m2-2h0m2-8h0m15 11h0m2-1h0m0-7h0m7 0h0m1 0h0m8-1h0m10 0h0m3-1h0m3 3h0m4-3h0m2 2h0m6 7h0m2-8h0m0 2h0m2-2h0m6 5h0m5-4h0m0 5h0m34-3h0m-4 15h0m-3-2h0m-13-6h0m0 3h0m-1 5h0m-4-5h0m-3 4h0m0 4h0m-1-9h0m-13 1h0m-3-2h0m-2 0h0m-26 1h0m-1-2h0m-15 4h0m-8 7h0m0-1h0m-1-8h0m-1-2h0m-5 3h0m0-3h0m-23 4h0m0 5h0m-8-3h0m-2-2h0m-14 16h0m15-1h0m5-3h0m0 6h0m11-6h0m2 4h0m7-2h0m19 5h0m5-10h0m1 5h0m8-5h0m1 3h0m10 1h0m4-2h0m2 5h0m14-2h0m14 2h0m1-1h0m1-7h0m0 9h0m14-4h0m4-2h0m1 9h0m-8 9h0m-10-8h0m-2 9h0m-1-4h0m0 0h0m-17-6h0m-19 5h0m-1 1h0m-5-3h0m-3 4h0m-4-4h0m-1 0h0m-8-1h0m-3 6h0m-3-2h0m-5 5h0m-2-9h0m0 9h0m-11-11h0m-17 1h0m-1 0h0m-18 4h0m7 9h0m8 0h0m5 3h0m2 4h0m6-4h0m6 5h0m16-7h0m4 5h0m5 1h0m1-2h0m1-5h0m2 9h0m3-8h0m12-1h0m21 6h0m2 2h0m0-2h0m3-4h0m1-3h0m16 6h0m0-3h0m12 7h0m-16 10h0m0-2h0m-11 0h0m-10-6h0m-8 2h0m-1-1h0m0-2h0m-31 10h0m0 1h0m-4-6h0m-31 0h0m-1 3h0m-6-8h0m-8 2h0m18 12h0m64 1h0" stroke="#e8506a" stroke-width="4.6" stroke-linecap="round" fill="none"/>
<path transform="scale(.25)" d="M2642 1591h0m5 0h0m-24 22h0m2-4h0m2 10h0m2-6h0m9 1h0m6 0h0m1 4h0m1-3h0m3 2h0m3-6h0m6 7h0m5-1h0m3 12h0m-6-9h0m-2 8h0m-1 3h0m-17-2h0m-2-1h0m-5-5h0m-4 2h0m-1 3h0m-3-1h0m-3-6h0m-1 8h0m-3-2h0m-19 15h0m6-2h0m3-4h0m1 7h0m1-6h0m4 5h0m2-1h0m0-9h0m7 9h0m2-5h0m1-2h0m7-1h0m1 6h0m11-5h0m2 3h0m2 5h0m2-7h0m3 8h0m0-2h0m3 1h0m2 0h0m2-7h0m0 0h0m1-1h0m8-2h0m6 11h0m30 11h0m-5 1h0m0-3h0m-6-2h0m-1 4h0m-5-2h0m0-1h0m-2-7h0m-1 8h0m-1-6h0m-1 0h0m-1 0h0m0 6h0m-10-1h0m-8 0h0m0 1h0m-7 1h0m-2-1h0m0 3h0m-1-4h0m0 1h0m-4 1h0m-3-2h0m-7-6h0m-4 3h0m-4-4h0m0 9h0m-8-7h0m-1 5h0m-2 0h0m-4 0h0m-1 1h0m-2 0h0m0-2h0m-2 3h0m-2-1h0m-5 2h0m-2-2h0m-2-3h0m-2-5h0m-7 1h0m-1 2h0m-4 4h0m-1 0h0m0-6h0m-5 9h0m-7-4h0m-25 15h0m10-5h0m3-1h0m2-3h0m2 7h0m1 4h0m0-11h0m1 4h0m0-2h0m6-1h0m2 2h0m9 1h0m4 2h0m2-3h0m2 7h0m2-9h0m0 5h0m2 4h0m5-9h0m2 5h0m1-6h0m2 1h0m2-1h0m0 0h0m0 4h0m4 4h0m0-5h0m1 3h0m1-5h0m1 6h0m0 0h0m0 0h0m2-3h0m7-1h0m1-1h0m0 0h0m2 1h0m2 8h0m0 0h0m0-4h0m1 0h0m1-3h0m1 0h0m4 3h0m4-3h0m2-4h0m0 10h0m2 0h0m2-6h0m2 0h0m0 6h0m1-1h0m1-8h0m1 1h0m2 6h0m0 3h0m1-6h0m2-3h0m0 8h0m3-7h0m1 1h0m1 0h0m0-3h0m1 4h0m1-1h0m0 7h0m1-5h0m0-3h0m1 2h0m0-1h0m2 5h0m0-2h0m5-7h0m8 8h0m1-2h0m1 5h0m1-8h0m4 5h0m3-6h0m1 7h0m0-6h0m1 4h0m1-6h0m4 9h0m2-1h0m1-3h0m4 4h0m4-7h0m12 8h0m2 10h0m-4-1h0m-3-7h0m-2 10h0m-5-3h0m-4 3h0m0-2h0m-1-4h0m-2 4h0m0-4h0m-1 0h0m-2 3h0m-1-1h0m-4 3h0m-3-10h0m-5 8h0m-1-8h0m-4 11h0m-2-6h0m0-3h0m-2 0h0m-2 5h0m0 3h0m-1-5h0m-1-2h0m-1-1h0m-3-1h0m-6 1h0m-2 5h0m-1-4h0m0 7h0m-5-6h0m0-2h0m0 2h0m-2 4h0m-1-2h0m-1-2h0m0-4h0m-3 8h0m0-1h0m0-1h0m-4-3h0m-1 1h0m0 6h0m-1 0h0m-1-5h0m0-2h0m-1 1h0m0 0h0m-1 1h0m-2-4h0m-3 4h0m-5 6h0m-2-2h0m-2-2h0m-1 1h0m-1 0h0m-3-8h0m0 2h0m-3 0h0m0-2h0m0 6h0m-1 5h0m-1-7h0m-3 3h0m0-1h0m-2 2h0m-4-7h0m-3 6h0m0 4h0m-3-11h0m-4 7h0m-1-4h0m-2 0h0m-1-2h0m-1 10h0m-2-1h0m-1 0h0m-2-7h0m-3 0h0m-1 1h0m0 7h0m-9-2h0m-1 0h0m-1 2h0m-1-5h0m0-2h0m-3 4h0m-17-8h0m-19 12h0m10 10h0m2-9h0m7 8h0m6-2h0m3-3h0m4 1h0m5 2h0m2-6h0m0 5h0m4 0h0m0 3h0m7-4h0m2 2h0m0 1h0m1-8h0m3 3h0m1 1h0m1-1h0m1 4h0m0 2h0m3-4h0m1-5h0m2 5h0m0 0h0m0 0h0m1 3h0m0-7h0m0 7h0m3-5h0m4 6h0m2-4h0m0 5h0m4 0h0m1-8h0m0 6h0m2 3h0m0-2h0m1-4h0m0 1h0m4 2h0m1 2h0m4-4h0m2-2h0m0-4h0m1 6h0m1 5h0m6-9h0m0 2h0m3 2h0m0-4h0m5 0h0m2 0h0m0 7h0m1-5h0m2-3h0m0 10h0m3-8h0m1-2h0m0 1h0m0-1h0m1 1h0m1 5h0m4 3h0m9-6h0m2 7h0m0-7h0m1-2h0m1 2h0m3 4h0m1 1h0m1 2h0m3-1h0m1-10h0m1 11h0m1-11h0m4 9h0m2-7h0m0 9h0m1-4h0m1-7h0m0 2h0m1 2h0m0-4h0m4 11h0m5-3h0m1-5h0m2 1h0m2 6h0m3-5h0m7 6h0m8-11h0m13 16h0m-1-3h0m-2 5h0m-2 3h0m-5-6h0m-5 4h0m0 1h0m-2-6h0m-4 4h0m-2 1h0m-1-6h0m-5-1h0m-1 3h0m0 5h0m-1 0h0m0 3h0m-1-7h0m-1 2h0m-2 2h0m-3 3h0m-2-7h0m-1 2h0m0 4h0m0 1h0m-3-6h0m-4 1h0m0-4h0m0 5h0m-1-4h0m-2 5h0m-3 0h0m-2 2h0m0 1h0m-1-10h0m-5 6h0m0-7h0m-3 2h0m0-2h0m0 11h0m-1-1h0m-1 1h0m0-11h0m0 8h0m-1-1h0m-4-1h0m0 3h0m0-7h0m-1 9h0m-1 0h0m-3-5h0m-1-2h0m-1 1h0m-5 4h0m0 2h0m-2-5h0m0 4h0m-1 0h0m-1-3h0m-2-4h0m0 1h0m-1-4h0m-1 5h0m-1 6h0m-1-4h0m-3 2h0m-1-6h0m0 2h0m0-5h0m-1 1h0m-1 6h0m-1-3h0m-3-3h0m-1 9h0m-9-9h0m-1 5h0m0-2h0m0-4h0m-8 10h0m0 0h0m-1-10h0m0 4h0m-1-4h0m-1 6h0m0 0h0m-1 3h0m-6-4h0m0 6h0m0-10h0m0-1h0m-4 10h0m-3-5h0m-2 0h0m-2 0h0m-1-1h0m-1-3h0m-2 9h0m0-4h0m0 4h0m-2-3h0m-1 4h0m-2-5h0m0-2h0m0 7h0m-2-6h0m0 2h0m-2 3h0m0-6h0m-2 4h0m-3 0h0m-1-6h0m-1 1h0m-3-2h0m-1 6h0m-2 3h0m-2 1h0m-2-1h0m-14 0h0m-6 0h0m-14 1h0m7 10h0m0-4h0m1 4h0m1-1h0m7 3h0m0-11h0m2 7h0m1 1h0m6-5h0m1 6h0m0-4h0m11 1h0m2-2h0m6 3h0m2-5h0m2 8h0m1-1h0m0-3h0m2-3h0m1 2h0m1-1h0m4 3h0m3 3h0m0-10h0m2 6h0m1-5h0m2 7h0m0 2h0m2-9h0m1 9h0m2-10h0m0 10h0m2-7h0m1-3h0m1 1h0m1 10h0m10-10h0m2-1h0m1 10h0m3 0h0m1-7h0m0-3h0m2 8h0m0 0h0m2-4h0m2-1h0m0 4h0m1-6h0m1 2h0m0 0h0m2 3h0m1 0h0m1-2h0m1-2h0m2 4h0m0 4h0m0-10h0m2 8h0m2-1h0m2-3h0m1 2h0m2 1h0m0-5h0m4 8h0m0-8h0m1 4h0m0-4h0m3 0h0m0 4h0m2-3h0m1 8h0m1-7h0m3 0h0m0 4h0m1-8h0m6 2h0m0-2h0m1 11h0m2 0h0m0-7h0m4 0h0m1 3h0m1-6h0m2 5h0m1-1h0m2-3h0m1 3h0m2-5h0m0 7h0m2 1h0m1-5h0m0 8h0m3-8h0m3 7h0m0-7h0m0 6h0m4 1h0m0-7h0m1-1h0m2 0h0m0 8h0m1-9h0m1-1h0m0 1h0m0 9h0m1-4h0m1 3h0m2-5h0m2-1h0m2 7h0m0 1h0m2-7h0m1-3h0m3 7h0m2-3h0m4-4h0m2-1h0m1 3h0m3 4h0m0 2h0m3 0h0m1-6h0m2 8h0m3 5h0m-4-1h0m-3 1h0m-2-4h0m0 2h0m-2 1h0m-1 7h0m-3-2h0m-1-5h0m-1 2h0m0-2h0m-8 8h0m-1-8h0m-2-3h0m-7 5h0m0-4h0m-2 10h0m0-9h0m-1 1h0m0-3h0m0 0h0m-3 6h0m-2 2h0m0-5h0m-5 0h0m-3 1h0m-1 2h0m-1 5h0m-1-9h0m-1 2h0m0-4h0m-1 10h0m-2-9h0m-2 3h0m0 6h0m-3-4h0m0 3h0m-2-1h0m-2-1h0m0 2h0m-3-6h0m-1 2h0m-5-4h0m0 5h0m-2-4h0m-1 7h0m0-1h0m-2-6h0m0 7h0m-2-4h0m-2-3h0m-1 8h0m-1-9h0m-3 4h0m-4 3h0m-2-6h0m-4 5h0m-3-7h0m-4 1h0m0 1h0m-3 4h0m-1 2h0m-1-3h0m0 1h0m-1 0h0m0-3h0m-2 1h0m-1-3h0m0 9h0m-3 1h0m-2 0h0m0-9h0m-4 6h0m0 3h0m-8-7h0m-1 7h0m-1-1h0m-1-2h0m-4 1h0m-10-4h0m-2-5h0m-1 6h0m-1-2h0m-2 5h0m0-6h0m-1 3h0m-3 3h0m-1-7h0m-4 1h0m-1 1h0m-2 5h0m-9-2h0m-3-1h0m-3-2h0m-6 0h0m-1 1h0m-2 3h0m-3 0h0m-5-4h0m-3 6h0m-2-4h0m-4 0h0m3 16h0m4 1h0m3-4h0m3-1h0m3 1h0m0-6h0m4 2h0m9-2h0m0 0h0m9 0h0m4 3h0m3 5h0m4 2h0m0-9h0m0 3h0m0 4h0m1-9h0m4 4h0m5 3h0m2-2h0m0 2h0m1 3h0m3-1h0m1-4h0m0-2h0m2 6h0m1 0h0m2-6h0m2 6h0m1-3h0m1 0h0m4-2h0m1 2h0m1 2h0m5-4h0m2-3h0m1 2h0m4 1h0m1 7h0m1-5h0m1-4h0m3 1h0m1 4h0m1-3h0m0-2h0m2 4h0m0-5h0m3 2h0m1 4h0m1-5h0m2 9h0m0-7h0m1-1h0m1-3h0m1 9h0m0-6h0m2-3h0m2 1h0m1-1h0m1 2h0m2 1h0m0-1h0m1 6h0m3-7h0m0 8h0m6-4h0m2-2h0m2 5h0m1-6h0m1 1h0m1 2h0m2 6h0m2-9h0m2 5h0m3-5h0m0-1h0m1 9h0m2 0h0m0-3h0m2 3h0m0-4h0m1 1h0m1-2h0m1 0h0m1-5h0m1 7h0m0 0h0m3 2h0m2-1h0m1 0h0m1-6h0m1 0h0m0-1h0m1 0h0m1 8h0m2-1h0m0-1h0m2-7h0m0 3h0m1 5h0m1-4h0m0-2h0m4-2h0m1 1h0m0 10h0m1-7h0m7 3h0m1 2h0m1-5h0m5 6h0m3-2h0m8-4h0m-3 19h0m0-9h0m-4-1h0m-4 5h0m0 0h0m-1 5h0m-10-8h0m-5 6h0m0 0h0m-1 0h0m-2-2h0m-3-6h0m-1 7h0m-2 3h0m-1-7h0m0 1h0m-4-5h0m-1 7h0m-6 2h0m-2-2h0m-1-5h0m-1-2h0m-3 1h0m-1 0h0m-2 1h0m0 5h0m-4-3h0m-1 6h0m0 0h0m-2-5h0m-1-5h0m-4 8h0m-1 1h0m-2-7h0m-1 7h0m0-6h0m-1 0h0m-2 3h0m0-6h0m0 9h0m-3-8h0m-2 0h0m-1-1h0m-1 10h0m0-1h0m-2-6h0m-2 4h0m-2-7h0m0 8h0m-2-2h0m0-6h0m0 7h0m-3 1h0m-1 0h0m0-8h0m-2 3h0m-2 8h0m0-3h0m-3-1h0m-1-7h0m0 9h0m0 1h0m-2-1h0m-1-6h0m-1 2h0m-6 0h0m-1-2h0m0 4h0m-2 0h0m0 4h0m-3-7h0m-1-1h0m0 5h0m-2-1h0m-1-3h0m-1 5h0m-2-8h0m-1 4h0m0-2h0m0 3h0m-1-3h0m0 6h0m-6-7h0m-3 0h0m0 0h0m-1-1h0m-1-1h0m-2 7h0m-3-5h0m-1 2h0m-1-2h0m0 5h0m-3 4h0m-3-1h0m-3-9h0m-1 9h0m-6-8h0m-1 4h0m-3-4h0m-3 3h0m-1-2h0m-1 7h0m-2-7h0m-2-1h0m-5 2h0m-1 0h0m9 13h0m8 1h0m6-4h0m6 0h0m2-1h0m1 0h0m2 3h0m0-3h0m2 9h0m1-5h0m1 1h0m2-5h0m1-1h0m1 1h0m3 5h0m0-1h0m1-5h0m1 3h0m1-3h0m0 8h0m5 3h0m1 0h0m1-8h0m1 6h0m1-2h0m0-7h0m0 0h0m2 5h0m0 6h0m1-5h0m1 1h0m0 1h0m2-1h0m0 4h0m2-11h0m1 4h0m0 7h0m2-7h0m3 6h0m0-3h0m1 3h0m3-9h0m0 1h0m1-1h0m1 7h0m3-5h0m1 7h0m2 0h0m4 1h0m1-9h0m1 1h0m2 1h0m3 6h0m1-7h0m2 6h0m1-7h0m2 9h0m2-2h0m0-4h0m1 4h0m1-5h0m0 2h0m3 3h0m0-8h0m2 4h0m0 3h0m0-6h0m1 0h0m1-1h0m2 1h0m1 4h0m0-3h0m5 8h0m2-1h0m9-2h0m4-2h0m1-3h0m3-1h0m2 3h0m0 3h0m0-6h0m1 3h0m1 6h0m3-3h0m1 3h0m4-6h0m1 3h0m4 1h0m0 1h0m1-8h0m1 4h0m5-4h0m1 4h0m0 3h0m4-5h0m0 0h0m3 1h0m-11 13h0m-1 0h0m-1-3h0m-5 2h0m-4 2h0m0-6h0m-2 9h0m-4 1h0m-4-2h0m-1-8h0m-1 2h0m-3 1h0m-2-4h0m-3 7h0m-2-5h0m-2-1h0m0 8h0m-3-7h0m-1 6h0m-2-8h0m-1 4h0m-3 2h0m-1-5h0m-1 2h0m-1 6h0m-3-8h0m0 3h0m-5-2h0m-1 2h0m-5 1h0m0 6h0m-1-4h0m-1 3h0m-3-10h0m-6 5h0m-2 6h0m-2-9h0m-1 7h0m-1-3h0m0 4h0m-1-3h0m-1 3h0m-6-3h0m-6-1h0m-3 5h0m-1-9h0m-1 0h0m0 9h0m-1-5h0m-1-5h0m-8 0h0m-4 3h0m0 5h0m-1-2h0m0-1h0m-2-2h0m0-1h0m-2 3h0m0-6h0m-2 4h0m-1 2h0m0-4h0m-1 2h0m-2 3h0m-12 4h0m0-9h0m-2-2h0m-2 7h0m-6-2h0m-10 3h0m18 5h0m1 0h0m1 10h0m5-7h0m4 5h0m5-3h0m1 2h0m1-8h0m1 6h0m1-1h0m9 1h0m4 4h0m3-5h0m1 1h0m0-1h0m3 6h0m1-11h0m1 2h0m3 5h0m4-6h0m0 7h0m0-2h0m2-2h0m11-2h0m0 1h0m1 2h0m1-5h0m20 4h0m4-2h0m0-1h0m2 0h0m2 8h0m0 1h0m0-9h0m2 4h0m0-4h0m4 7h0m2-6h0m4 2h0m4-2h0m5 0h0m0-1h0m1 0h0m2 8h0m1-5h0m1-1h0m1-2h0m1 1h0m1 3h0m6-2h0m7 8h0m8-11h0m-15 15h0m-6 4h0m-2 1h0m-5-2h0m-5 0h0m-2 0h0m-8-4h0m-1 5h0m-1-7h0m0 1h0m0 1h0m-3 5h0m0-1h0m-4-1h0m0 3h0m-5-6h0m-3-1h0m-2 3h0m0 7h0m-1 0h0m-8-10h0m-20 1h0m-5 3h0m-1-4h0m0 4h0m-9-4h0m-2 3h0m0 7h0m-4-3h0m-4-4h0m0-2h0m-1 9h0m-1-1h0m-1-8h0m-5-1h0m-3 3h0m-1 6h0m-2 1h0m-2-3h0m-10-5h0m-3 0h0m0 17h0m11-7h0m2 1h0m0 4h0m6 0h0m2 2h0m1-2h0m3 5h0m2-11h0m0 10h0m8-3h0m0 4h0m4-5h0m2-6h0m0 5h0m14-5h0m1 2h0m3 3h0m7-5h0m2 11h0m12-9h0m1 2h0m2-1h0m3-2h0m5 6h0m4 3h0m6-8h0m1 0h0m5-1h0m2 2h0m1-2h0m3-1h0m0 11h0m1 0h0m0-10h0m14 1h0m7-2h0m-18 14h0m-10 5h0m-2-7h0m-1 8h0m-3-2h0m-5-2h0m-14 0h0m-19 0h0m-3-2h0m-2 4h0m-5-6h0m-13 1h0m-15 1h0m-4 2h0m-7-4h0m12 12h0m4 4h0m1 4h0m1-8h0m67 5h0" stroke="#fff4ee" stroke-width="4.2" stroke-linecap="round" fill="none"/>
<path transform="scale(.25)" d="M2615 1688h0m13-6h0m15 1h0m25 18h0m-1 1h0m-15-3h0m-5 0h0m-8-4h0m-31 4h0m-3 3h0m-9 0h0m17 4h0m6 3h0m12-4h0m6 8h0m17-9h0m21 5h0m3 3h0m-1 6h0m0-2h0m-4 0h0m-18 2h0m-10 3h0m-2 4h0m0-6h0m-3 4h0m-7-2h0m-17 2h0m-6 13h0m5-1h0m1-4h0m15-3h0m12 2h0m22-2h0m1 0h0m-36 13h0" stroke="#fdd7a0" stroke-width="4.2" stroke-linecap="round" fill="none"/>
<path transform="scale(.25)" d="M2626 1585h0m39 3h0m4 8h0m-50 3h0m51 12h0m-61 11h0m-16 16h0m107 3h0m11 6h0m-11 6h0m-1-9h0m-113 0h0m-12 5h0m-10 5h0m-24 13h0m11-3h0m7-4h0m2-4h0m6 2h0m160 0h0m7 24h0m11 12h0m-3 1h0m-222 7h0m-4-3h0m2 10h0m7-3h0m220 5h0m1 4h0m-4 11h0m-5-10h0m-213 3h0m0 1h0m-3 3h0m-2 1h0m7 13h0m5-2h0m207-1h0m3 3h0m-1 9h0m-206-4h0m15 35h0m5 4h0m4 1h0m160-5h0m2 12h0m-12 7h0m-143 9h0m141 6h0m-61 3h0m-60 20h0m18-2h0m16 1h0m3-9h0m55 4h0m3 3h0m9 2h0m2-7h0m-92 10h0m-6 0h0" stroke="#f0e0f0" stroke-width="3.6" stroke-linecap="round" fill="none"/>
<path d="M666.5 405.5Q677 405 682.5 414M626 422Q626 431 630.5 439" fill="none" stroke="#fff" stroke-width="1.2" stroke-dasharray="2.4 1.8"/>
</g>
<text x="654.5" y="474" font-size="8.8" text-anchor="middle">Non-responder</text>
<rect x="619" y="476.6" width="64.6" height="64.9" fill="#050210"/>
<clipPath id="dkn"><rect x="619" y="476.6" width="64.6" height="64.9"/></clipPath>
<g clip-path="url(#dkn)">
<path d="M657 477.5C658.2 476.3 661.5 476.2 663 477C664.5 477.8 665.6 479.8 666 482C666.4 484.2 663.9 488 665.5 490C667.1 492 672.8 492.4 675.7 494.1C678.6 495.8 681.6 497.3 683 500C684.4 502.7 684.2 506.8 684 510.2C683.8 513.6 682.4 517.2 681.5 520.4C680.6 523.5 680.1 526.2 678.6 529.1C677.1 532 675.1 536.3 672.7 537.9C670.3 539.5 667.1 539.3 664 538.5C660.9 537.7 657 534.6 653.8 533C650.6 531.4 647.4 531.2 645 529.1C642.6 527 641 522.8 639.2 520.4C637.4 518 636.2 515.7 634 514.5C631.8 513.3 628.2 513.9 626 513C623.8 512.1 621.2 510.7 620.5 509C619.8 507.3 620.8 504.4 622 503C623.2 501.6 626 501.2 628 500.5C630 499.8 632.6 500.3 634 499C635.4 497.7 634.9 494.6 636.3 492.6C637.6 490.6 639.8 487.7 642.1 486.8C644.4 485.9 647.7 487.5 650 487C652.3 486.5 654.8 485.6 656 484C657.2 482.4 655.8 478.7 657 477.5Z" fill="#5b1784" stroke="#4a1270" stroke-width="6" filter="url(#glow)"/>
<path d="M657 477.5C658.2 476.3 661.5 476.2 663 477C664.5 477.8 665.6 479.8 666 482C666.4 484.2 663.9 488 665.5 490C667.1 492 672.8 492.4 675.7 494.1C678.6 495.8 681.6 497.3 683 500C684.4 502.7 684.2 506.8 684 510.2C683.8 513.6 682.4 517.2 681.5 520.4C680.6 523.5 680.1 526.2 678.6 529.1C677.1 532 675.1 536.3 672.7 537.9C670.3 539.5 667.1 539.3 664 538.5C660.9 537.7 657 534.6 653.8 533C650.6 531.4 647.4 531.2 645 529.1C642.6 527 641 522.8 639.2 520.4C637.4 518 636.2 515.7 634 514.5C631.8 513.3 628.2 513.9 626 513C623.8 512.1 621.2 510.7 620.5 509C619.8 507.3 620.8 504.4 622 503C623.2 501.6 626 501.2 628 500.5C630 499.8 632.6 500.3 634 499C635.4 497.7 634.9 494.6 636.3 492.6C637.6 490.6 639.8 487.7 642.1 486.8C644.4 485.9 647.7 487.5 650 487C652.3 486.5 654.8 485.6 656 484C657.2 482.4 655.8 478.7 657 477.5Z" fill="#b0305f" fill-opacity="0.5" transform="translate(0 0)" filter="url(#glow)"/>
<path transform="scale(.25)" d="M2650 1924h0m1-2h0m-87 25h0m2 5h0m22 2h0m23-6h0m34 7h0m25 12h0m-11 0h0m-60-5h0m-11-5h0m-25 7h0m3 9h0m7 6h0m14-10h0m15 7h0m26-7h0m10 1h0m3 0h0m29-1h0m11 6h0m15 1h0m-34 6h0m-24 0h0m-10 8h0m-24-7h0m-1 1h0m-12 6h0m-25 1h0m5 1h0m2 0h0m11 9h0m100 1h0m31-1h0m2 8h0m-21 3h0m-9-7h0m-5 10h0m-74-8h0m-15 0h0m-4 6h0m-44-3h0m-55 15h0m19-9h0m56 6h0m37-2h0m83-4h0m4 0h0m3 10h0m10-1h0m6 2h0m6-10h0m25 5h0m-6 15h0m-9-4h0m-7-2h0m-5 2h0m-15 6h0m-19-9h0m-7 5h0m-74-2h0m-101 2h0m33 16h0m65-10h0m29 9h0m6-2h0m8-4h0m22 4h0m68 3h0m-21 10h0m-10-6h0m-1 7h0m-3-9h0m-12 5h0m-17-4h0m-15 2h0m-48 2h0m-1-3h0m-8 1h0m-15-4h0m2 12h0m38 8h0m46 1h0m20-1h0m0-2h0m32-5h0m6-1h0m-17 14h0m0 7h0m-43-1h0m-1 0h0m-12 2h0m-11-2h0m-31-1h0m-20-1h0m9 17h0m1-8h0m72 1h0m40 4h0m-24 13h0m-4 1h0m-3-10h0m0 10h0m-20-5h0m-4 3h0m-82-5h0m51 18h0m66-5h0m21 2h0m5 8h0m-30 6h0m-20 7h0m3 5h0" stroke="#8c2981" stroke-width="4.4" stroke-linecap="round" fill="none"/>
<path transform="scale(.25)" d="M2659 1913h0m-7-4h0m-4 3h0m-2 1h0m-19 6h0m0-1h0m-5 9h0m8-3h0m8 4h0m1 1h0m7-5h0m3-4h0m15 23h0m-9-11h0m-12 10h0m-1-9h0m-2 7h0m-4-6h0m-3 1h0m-3 2h0m-1 1h0m-1 5h0m-1-9h0m-12 9h0m-53 7h0m1 3h0m4-2h0m13 3h0m3-6h0m9 6h0m5-8h0m2 9h0m2-7h0m4-1h0m0 6h0m3-7h0m13 1h0m1-2h0m1 10h0m13-1h0m8-4h0m2 4h0m13-5h0m2-4h0m-4 15h0m-2-3h0m-3-1h0m-1 6h0m-1 4h0m-3-1h0m0-3h0m-9-1h0m-1-5h0m-7 0h0m0 8h0m-6-2h0m-16 1h0m0-1h0m-3-1h0m-8 6h0m-9-8h0m-4 3h0m-7 0h0m-20-2h0m-14 14h0m13 5h0m6-8h0m11 2h0m33 6h0m6-3h0m4-8h0m1 8h0m10-2h0m5-2h0m6-1h0m4 8h0m4-6h0m12 2h0m11-1h0m13-3h0m17 5h0m23 15h0m-8-3h0m-1-4h0m-1-4h0m-13 10h0m-3 0h0m-2-5h0m-16 2h0m-3 2h0m-1-7h0m-7 9h0m0-9h0m-26 0h0m-1 3h0m-5 3h0m-6-3h0m-4 6h0m-2-1h0m-1-4h0m-1-2h0m-1 3h0m-16 3h0m-1-10h0m-17 5h0m-10-5h0m-13 2h0m-8-1h0m-9 9h0m8 12h0m4-1h0m1 0h0m3-9h0m2 8h0m6 3h0m1-9h0m2 0h0m3 7h0m1-7h0m15 9h0m33-1h0m6-2h0m3-5h0m14 4h0m24-5h0m6 3h0m4 6h0m3-4h0m7 1h0m7-6h0m2 8h0m2-3h0m4-5h0m15 0h0m3 7h0m0-1h0m9 10h0m-7 3h0m-1-9h0m-12 2h0m-5 4h0m-5 4h0m-10-7h0m-9 0h0m-11 0h0m-7 2h0m-2 5h0m-10-2h0m-9-2h0m-8-3h0m-1-3h0m-3 0h0m-21 1h0m-1 4h0m-3-4h0m-8 4h0m-2-4h0m-14 5h0m-13 4h0m-1-1h0m-2-7h0m-11-2h0m-34 10h0m-11-3h0m-25 2h0m17 8h0m17 3h0m22 3h0m7-11h0m14 10h0m10 1h0m15-11h0m6 3h0m1 5h0m7-3h0m4 3h0m8-7h0m2 6h0m0-5h0m1 1h0m0-1h0m3 8h0m4-8h0m1 9h0m1-8h0m17 3h0m8-4h0m6 7h0m1-2h0m1-1h0m6 0h0m17 4h0m6-1h0m1-1h0m9-5h0m3 8h0m1-11h0m15 9h0m5-4h0m9 7h0m-2 3h0m-3-2h0m-6 10h0m-2 0h0m-6-9h0m-1 8h0m-13-4h0m0 0h0m-1 5h0m-6-2h0m-8-7h0m-1-2h0m-20 4h0m-3 2h0m-2-1h0m0 6h0m-4-1h0m-7-7h0m-4 5h0m-5-1h0m-5-4h0m-6 5h0m-3 0h0m-17-4h0m-29 5h0m-15-1h0m-8 2h0m-9 0h0m-8-2h0m-15-8h0m-5 6h0m-24 13h0m59-7h0m4 7h0m17-7h0m5 4h0m1 1h0m5 0h0m10 1h0m8-4h0m5 6h0m13-8h0m3 11h0m5-3h0m5-4h0m30 7h0m0-3h0m10-2h0m8-1h0m7-5h0m20 6h0m2-1h0m1-1h0m0-2h0m2 3h0m1 5h0m3-1h0m8 0h0m2-9h0m1 2h0m0 21h0m-1-10h0m0 2h0m-9 8h0m-2-1h0m-30 1h0m-2-9h0m-3 5h0m-18 4h0m-10-6h0m-2-1h0m-3-1h0m-4 7h0m-19-6h0m-4-2h0m-7 0h0m-2 2h0m-1 4h0m-5-4h0m-8 7h0m-3-9h0m-1-2h0m-11 10h0m-4-7h0m-4 1h0m0 7h0m-8-3h0m-16 7h0m7 5h0m18-7h0m1 1h0m1 9h0m7-3h0m8-3h0m2-3h0m22-2h0m2 10h0m11 1h0m2-9h0m16-2h0m1 0h0m9 11h0m2-9h0m3 3h0m5-4h0m12 0h0m0 5h0m2 4h0m16-3h0m2-1h0m5 3h0m2-8h0m1 5h0m6-1h0m7 0h0m5-5h0m2 8h0m2-4h0m-14 13h0m-7 5h0m-15-8h0m-5 7h0m-4 1h0m-17 1h0m-10-3h0m-20-6h0m-14 6h0m-2-4h0m-7 0h0m-8 4h0m-2 1h0m0-3h0m-5-1h0m-4-4h0m-1 2h0m-12 2h0m-1 5h0m-3-8h0m-6-1h0m-2 9h0m0-5h0m-8 13h0m5 5h0m13-2h0m0-1h0m29-4h0m4 3h0m0-1h0m2 1h0m6-6h0m4 8h0m3-3h0m11-4h0m1-2h0m2 4h0m12 3h0m7-1h0m2 4h0m1-6h0m7 0h0m2 4h0m2 1h0m7-2h0m2 2h0m8-8h0m1 10h0m12-10h0m4 1h0m11 7h0m1-3h0m-13 10h0m-11 1h0m0-4h0m-10 8h0m-1 2h0m-4-8h0m-17 4h0m-1-3h0m-6-2h0m-4 6h0m-3-5h0m-5 1h0m-6 0h0m-22-3h0m-4 1h0m-5-1h0m-17-1h0m-1 4h0m-17 6h0m-3-2h0m19 4h0m19 11h0m8-11h0m3 8h0m12-3h0m13 1h0m7 3h0m4-2h0m4-5h0m16 1h0m2 3h0m10-6h0m0 7h0m4-4h0m3 4h0m6 0h0m2 3h0m1 7h0m-7 5h0m-2-2h0m-2-5h0m-18 5h0m-10-3h0m-2 5h0m-11-10h0m-2 1h0m-8 3h0m-15 5h0m-2-4h0m-1-5h0m0 6h0m-3-1h0m-7 0h0m-13-5h0m12 12h0m9 4h0m16 3h0m3-1h0m11-1h0m4 1h0m9 3h0m5-4h0m2 3h0m8-1h0m13 0h0m-11 12h0m-17 2h0m-4 1h0m-1-5h0m-18-3h0" stroke="#e8506a" stroke-width="4.6" stroke-linecap="round" fill="none"/>
<path transform="scale(.25)" d="M2657 1910h0m-10 6h0m-16 14h0m1 1h0m3-9h0m4 7h0m1-9h0m3 8h0m3-4h0m3 0h0m8 2h0m1-1h0m7 11h0m-3-2h0m-1 8h0m-7-6h0m-7-4h0m-1 9h0m-1 0h0m-1-9h0m0 7h0m-3 3h0m-5-2h0m-5-4h0m0 1h0m-3 5h0m-3-2h0m-2 2h0m-2-3h0m-65 16h0m2-6h0m6 0h0m1 4h0m3-4h0m1-5h0m1 7h0m1-3h0m4-4h0m3 7h0m5-4h0m2-2h0m0 4h0m4 0h0m2 0h0m1-1h0m1 0h0m4 1h0m3 6h0m5-8h0m2 8h0m0-10h0m2 8h0m0-4h0m1-1h0m3 1h0m2 4h0m3-8h0m4 1h0m3 1h0m1 2h0m1 6h0m3-5h0m0 5h0m4-11h0m1 10h0m3 1h0m3-6h0m2-1h0m1-2h0m3-2h0m3 4h0m6-4h0m3 9h0m3-9h0m7 19h0m-12 3h0m-5-3h0m0-7h0m-5 2h0m-1-1h0m-4 0h0m-1 1h0m0 8h0m-3-4h0m0 2h0m-1-1h0m-2-2h0m-3 0h0m-1 3h0m-1-3h0m0 1h0m0 0h0m-1 5h0m-4-9h0m-2 4h0m-1-2h0m0 2h0m0 5h0m-1-9h0m-3 7h0m-1-4h0m-1 0h0m-3-3h0m-2 6h0m-3 2h0m-1-8h0m-2 7h0m-6-8h0m-1 5h0m-3 0h0m-5 1h0m-3-3h0m-1-4h0m-4 4h0m-1 4h0m-1-3h0m-2 2h0m-2-5h0m-7 5h0m-1-6h0m-1 0h0m-2 9h0m-3-9h0m0 7h0m-4-7h0m-4 3h0m-1 4h0m-1 2h0m-2 10h0m1-7h0m2 10h0m1-4h0m6-2h0m3 4h0m1-6h0m2-2h0m0 5h0m1-1h0m0 5h0m1-8h0m1 1h0m2 1h0m2 2h0m1 4h0m1-6h0m6 1h0m0-2h0m1 7h0m0-7h0m2-1h0m2 7h0m1-8h0m1 6h0m2-4h0m0 5h0m2 3h0m2-8h0m0 7h0m1 1h0m5-6h0m5-4h0m1 9h0m1-1h0m3-4h0m2-2h0m2-3h0m0 7h0m1 1h0m1-7h0m2 6h0m1 3h0m3 0h0m0-9h0m1 10h0m5-9h0m1 3h0m2 2h0m3-6h0m1 0h0m1 4h0m0 2h0m5-5h0m6-2h0m2 2h0m2 7h0m0-4h0m1 3h0m6-4h0m3-3h0m2 0h0m1 8h0m2-6h0m0 5h0m1 3h0m0-1h0m0-9h0m1 5h0m5-4h0m2 4h0m0 1h0m1 3h0m9-1h0m5 0h0m3-2h0m2 4h0m6-4h0m10 13h0m-2 0h0m-1 3h0m-3 0h0m-3-9h0m-6 0h0m-1-2h0m0 9h0m0-1h0m-1 1h0m-2 0h0m0-6h0m-4 3h0m-1-6h0m-2 5h0m-1 4h0m0-3h0m-6 3h0m-1-9h0m0 3h0m-1 6h0m-1-1h0m0-1h0m-1-4h0m-1 5h0m0 1h0m-1-8h0m0 7h0m0-8h0m-3 4h0m-5 1h0m-1-5h0m0 7h0m-3-3h0m0 2h0m-6-5h0m-3 3h0m-4 6h0m-3 1h0m-8-3h0m0 1h0m-1 1h0m-1-7h0m-1 0h0m-3-3h0m-8 8h0m-5-6h0m-2-2h0m-1 8h0m-1 1h0m-3 1h0m-4-9h0m-3 7h0m0 2h0m-3-8h0m-1 4h0m-3 0h0m-3 4h0m-2-6h0m-5 5h0m-5 2h0m-3-8h0m-1 8h0m-4-11h0m-4 9h0m-1 1h0m-3 0h0m-1 0h0m-5-3h0m-3-4h0m-5 4h0m-3 1h0m-9-1h0m-27 11h0m39 1h0m10 3h0m2-3h0m0-6h0m2 10h0m10-6h0m3 2h0m0 0h0m3-1h0m2 4h0m1-5h0m2-4h0m5 6h0m3 2h0m1-1h0m3-8h0m0 4h0m7 5h0m0-2h0m2-5h0m4 8h0m0-7h0m3-3h0m3 10h0m2-7h0m0-3h0m2 6h0m2 3h0m2 1h0m7-1h0m2-3h0m1-1h0m2-3h0m0-1h0m3 1h0m4-1h0m3 7h0m0-4h0m4-3h0m1 8h0m1 1h0m5-7h0m2 0h0m3 4h0m3-3h0m5-4h0m0 4h0m6 2h0m2 5h0m1-10h0m3 7h0m0-4h0m5-3h0m3 9h0m0-3h0m5 3h0m0 0h0m5-5h0m0-1h0m2-2h0m1 3h0m2 2h0m0-7h0m2 7h0m4 1h0m5-5h0m0 4h0m0-7h0m2 1h0m3 7h0m2-6h0m15 17h0m-4 2h0m-3-1h0m-4-6h0m0 4h0m-6 1h0m0-1h0m-2 4h0m0 1h0m-4-7h0m0 4h0m0-1h0m-1 4h0m-3-9h0m-1 0h0m-2 6h0m-3-1h0m-2 0h0m-1-3h0m-1 3h0m-1 0h0m-1-5h0m-1-1h0m-9 3h0m-4-2h0m-2 5h0m-1-1h0m-3-3h0m-2 7h0m0-8h0m-1 2h0m-1 7h0m-6-7h0m-2-2h0m0 4h0m0 4h0m-1-3h0m-1-5h0m-1 1h0m-4 8h0m-1-4h0m0 1h0m-1-7h0m-3 7h0m-2 1h0m-4-1h0m-2-5h0m-2 1h0m0 5h0m-1 2h0m-9-8h0m-4 1h0m-1 2h0m-7 0h0m-1-2h0m-4-4h0m-3 6h0m-1 1h0m-3 2h0m-1-6h0m-1 4h0m-6 1h0m-4-5h0m-1 1h0m0 2h0m-14 5h0m-3-2h0m-3-5h0m-6-4h0m-1 4h0m-8 7h0m-17-2h0m-1-3h0m-6 2h0m-15-5h0m-10 4h0m-14-7h0m6 23h0m9-1h0m17-3h0m1 0h0m3-6h0m1 4h0m0 4h0m3 1h0m6-2h0m7-8h0m2 0h0m9 7h0m2 3h0m6-7h0m9 7h0m5-4h0m6 5h0m1-3h0m1 1h0m7-7h0m2 1h0m0 0h0m3 2h0m0-5h0m1 6h0m6-3h0m4 5h0m1 1h0m2-2h0m6-1h0m1 2h0m1 0h0m3 3h0m1-3h0m2 2h0m0-8h0m0 9h0m1 0h0m5-4h0m1-6h0m1 5h0m2-6h0m1 2h0m3 4h0m4 5h0m3-1h0m1-5h0m1 4h0m0-8h0m1 7h0m3 1h0m1-9h0m3 4h0m1-2h0m0 3h0m1 5h0m0-6h0m0-1h0m1 0h0m1 3h0m1 2h0m2-5h0m1 7h0m2-10h0m0 1h0m1 8h0m1-7h0m2 3h0m1-1h0m4 5h0m0-9h0m1 3h0m3-2h0m0 1h0m1 9h0m4-3h0m1-6h0m0 5h0m2-2h0m1-2h0m0-3h0m2 1h0m1-1h0m5 4h0m0-3h0m1 5h0m0 0h0m0 1h0m7-6h0m1 4h0m1 0h0m0-4h0m2 3h0m0 4h0m5-3h0m1 3h0m5 1h0m3 2h0m1-2h0m1-9h0m3 10h0m3 1h0m0-2h0m0 7h0m-9 4h0m-1-3h0m0 5h0m-1-2h0m-3 1h0m0 2h0m-3-1h0m-1-3h0m-2-7h0m0 11h0m-1-5h0m-2 1h0m-3-2h0m0-5h0m-2 3h0m-1 1h0m-2-3h0m-1 8h0m0-6h0m-1-2h0m-1 4h0m-1-4h0m-1 7h0m-4-1h0m-2 3h0m-5-6h0m0 4h0m-3-6h0m0 6h0m0 3h0m-8-9h0m0 6h0m-1-8h0m-1 11h0m-2-2h0m-2-3h0m-2-1h0m-2 6h0m0-10h0m0 2h0m-2-1h0m0-2h0m-1 5h0m0-1h0m-3 0h0m0 6h0m0-4h0m-2-4h0m-1 6h0m-1-1h0m-5 2h0m-2 2h0m0-9h0m-4 6h0m-1-4h0m-1 1h0m-2 5h0m-5-1h0m-5-7h0m-3 2h0m0-1h0m0 6h0m-1-4h0m-1-4h0m-1 7h0m-1 1h0m0-1h0m-2-6h0m0 3h0m-1 6h0m-2-9h0m-3-2h0m-2 5h0m-2 0h0m-3 2h0m0 0h0m-3-7h0m-4 9h0m-2 1h0m-2 0h0m-3-4h0m0 4h0m-1-6h0m-1-3h0m-1 5h0m-3 0h0m-1-4h0m-1 7h0m-1 1h0m-16 0h0m-6-9h0m-4 8h0m-1 0h0m-1-4h0m-3 3h0m-56-1h0m-6 1h0m-3-8h0m2 14h0m1 2h0m18 2h0m18-5h0m2-1h0m17 8h0m9-3h0m7 4h0m0-8h0m2 2h0m2-1h0m1 1h0m4-1h0m3 6h0m1-2h0m5-6h0m2 10h0m0 0h0m6-9h0m1 6h0m0 4h0m5-2h0m2-4h0m1-2h0m5 4h0m2 4h0m1-7h0m1 7h0m0-9h0m0 2h0m1 7h0m0-6h0m4-5h0m1 1h0m2-1h0m1 3h0m8 5h0m1 3h0m2-5h0m0 4h0m1-2h0m0 0h0m1-3h0m0 6h0m2-7h0m2 1h0m2-1h0m4-3h0m0 6h0m2-1h0m1-5h0m0-1h0m3 3h0m2-1h0m2 2h0m3 6h0m1-5h0m4 2h0m4 4h0m1-4h0m0 1h0m1-6h0m3 0h0m5 1h0m3 6h0m1-4h0m1-5h0m0 5h0m2 0h0m1 1h0m1-4h0m2 8h0m1-3h0m0 2h0m1-4h0m0 4h0m1-5h0m2 7h0m2-4h0m0 1h0m2 0h0m2-7h0m0 3h0m5 2h0m2 1h0m2 1h0m1-1h0m2-2h0m0 5h0m1 1h0m1-7h0m1 3h0m0 0h0m2-2h0m1-3h0m3 7h0m1-5h0m3-2h0m2 4h0m1-6h0m0 6h0m3-3h0m3 8h0m1-1h0m-1 12h0m-2 1h0m-2-11h0m-1 5h0m-3 4h0m-2-6h0m-2 3h0m-4 2h0m0 0h0m-2-2h0m0-5h0m0-1h0m-1 5h0m-2 4h0m-4-7h0m-1 7h0m-1 2h0m0-1h0m-1-9h0m-1 8h0m-1 1h0m0-1h0m-2-2h0m-2 4h0m-1-1h0m-3-3h0m-2-6h0m-1-1h0m-3 1h0m-2 6h0m0-5h0m-2-1h0m-2-1h0m-1 3h0m-5-2h0m-1 10h0m0-7h0m-3-1h0m-1 3h0m-2-4h0m-2 0h0m0 9h0m-1-6h0m-1-2h0m0 0h0m-3 1h0m0 6h0m-1-10h0m0 10h0m0-3h0m-1-4h0m-1 2h0m-1-1h0m0-4h0m0 1h0m-3 8h0m0-5h0m-3 0h0m-3 7h0m-2-10h0m0 3h0m-2 0h0m-2 7h0m-5-1h0m-1-4h0m0 0h0m-1 3h0m-1-4h0m0 6h0m-2-11h0m-1 10h0m-3-10h0m-4 9h0m-2-7h0m-3 7h0m0-5h0m-6 2h0m-2 1h0m-2-5h0m-1 5h0m-2-7h0m-2 11h0m-1-11h0m0 4h0m-9-2h0m-7 5h0m-3-4h0m-1 4h0m-1 0h0m-2-5h0m-16 3h0m-4 6h0m-1-3h0m-2-6h0m-3 4h0m-14 0h0m-1 5h0m-3-9h0m-21-2h0m34 15h0m1 3h0m3 3h0m17 1h0m1-2h0m3 1h0m2 1h0m1-6h0m0 6h0m2-10h0m3 4h0m7 7h0m1-1h0m3-9h0m1 1h0m7 0h0m3 4h0m0-4h0m1 5h0m2 3h0m1-1h0m1-7h0m1-2h0m0 7h0m0-4h0m2 5h0m0-4h0m4 2h0m0-2h0m3 6h0m0-3h0m3-3h0m0-1h0m2 1h0m0-1h0m1 1h0m1 5h0m1-4h0m1 0h0m0 5h0m2-10h0m1 11h0m3-7h0m0-1h0m3 8h0m5 0h0m2 0h0m1-6h0m2-4h0m4 4h0m0-4h0m2 1h0m2 0h0m2 6h0m0-1h0m0-7h0m1 3h0m0-3h0m3 4h0m0 7h0m2-4h0m2-4h0m7 4h0m0-5h0m1 5h0m4-1h0m0-3h0m6-3h0m1 2h0m3 2h0m2 7h0m1-6h0m1 1h0m0 5h0m8-6h0m1 5h0m1-4h0m1 0h0m2-3h0m3 8h0m0-7h0m0-2h0m0 9h0m0-7h0m0 4h0m1 3h0m3-2h0m1-4h0m6 2h0m0 4h0m1-2h0m4 2h0m5 3h0m-3 8h0m-2-10h0m-1 1h0m-2 2h0m-3-2h0m-2 7h0m0 0h0m-3-5h0m0 5h0m-1-5h0m-4 7h0m0-3h0m-1 1h0m-2 3h0m-1-4h0m0 2h0m-9-8h0m0 8h0m-3-7h0m0-1h0m-1 0h0m-8 4h0m-1-1h0m-6 1h0m-1 0h0m-3-2h0m-4-3h0m-1 9h0m0-1h0m0 2h0m-2-5h0m0-2h0m-1 5h0m-1 3h0m-2-8h0m0 8h0m-2-8h0m-1-1h0m-1-2h0m-2 0h0m-2 9h0m-3-7h0m-4-2h0m0 11h0m0-8h0m-2-1h0m0 2h0m-7 6h0m0-3h0m0-6h0m-6 9h0m-2-5h0m-2 3h0m0-6h0m-3 9h0m-4-8h0m-1 4h0m-9-6h0m-1 7h0m-3-4h0m-1-1h0m0 4h0m-3 3h0m0-1h0m-8-5h0m-1 5h0m-4-7h0m0 2h0m-7-1h0m-2 3h0m0-5h0m-9 8h0m-9-6h0m-1 4h0m14 7h0m4 0h0m14-2h0m4 8h0m7 2h0m1-8h0m1-1h0m1 9h0m2-9h0m1 8h0m1-5h0m3-3h0m8 5h0m3-1h0m1-4h0m0 3h0m0 3h0m4-1h0m4 1h0m0-4h0m3-3h0m4 7h0m1 1h0m1 2h0m0-3h0m3-1h0m0 2h0m1-4h0m0 3h0m7-4h0m3 3h0m2-5h0m2 4h0m1 5h0m2-6h0m7 2h0m3 3h0m1-8h0m1 1h0m4 5h0m0-2h0m1-2h0m1-2h0m2 3h0m1-1h0m0 8h0m2-9h0m0 5h0m1-1h0m4-3h0m2-2h0m1 2h0m1 8h0m1-7h0m8-1h0m2 8h0m1-9h0m0 9h0m0-8h0m13 6h0m2 3h0m-3 0h0m-1 1h0m-1-1h0m-5 5h0m-4 3h0m0-6h0m-1 4h0m-8 4h0m-1-4h0m0 3h0m0-2h0m-1 0h0m-1-5h0m-5 4h0m-1-5h0m-3 8h0m-1-6h0m-8 3h0m-1-3h0m-9-1h0m0-2h0m-2 5h0m0 0h0m-1 0h0m0-1h0m0 7h0m-3-9h0m-3-2h0m0 0h0m-5 3h0m-5 3h0m-1 3h0m-6-9h0m-1 4h0m-1 0h0m-6 5h0m-2-8h0m-3 5h0m-8-2h0m-4 1h0m0 4h0m-1-2h0m-1-1h0m-1-2h0m-2-1h0m-1 2h0m-2 4h0m-11-6h0m-3 2h0m-2-4h0m-3 2h0m-2 4h0m-1-2h0m-5 1h0m-8-5h0m-11 1h0m33 17h0m1 0h0m10 2h0m12 1h0m3-6h0m0-1h0m1 2h0m6-1h0m6 7h0m3-1h0m0-9h0m3 2h0m0-2h0m4 1h0m3 4h0m0 0h0m6-6h0m1 3h0m2 2h0m6-4h0m0 10h0m9-8h0m1-1h0m3 6h0m2-6h0m0 8h0m2-8h0m6 6h0m1 3h0m1-1h0m2-6h0m2-4h0m9 9h0m2-9h0m4 17h0m-11 2h0m-11-5h0m0 7h0m-4-9h0m-3 10h0m-1-6h0m-2 6h0m-1-6h0m0 0h0m-6 0h0m0 7h0m-1-10h0m-9 6h0m-5-5h0m-1 8h0m-1 0h0m-1-5h0m0-2h0m-8 5h0m-1 3h0m-3-11h0m-6 11h0m-1-10h0m-15 6h0m-4-2h0m-14 0h0m-7-4h0m37 12h0m1 3h0m9 2h0m17-3h0m2-3h0m10 8h0m6-4h0m7 7h0m1-5h0m1-2h0m1 2h0m1-1h0m4 0h0m3 6h0m9-6h0m-10 8h0m-9 5h0m-26-2h0m-4 5h0m-1 0h0m0-6h0m-3-1h0" stroke="#fff4ee" stroke-width="4.2" stroke-linecap="round" fill="none"/>
<path transform="scale(.25)" d="M2613 1966h0m-11-1h0m-7 2h0m-8-4h0m-12 15h0m0-8h0m12 8h0m2 1h0m6 3h0m62 43h0m8-6h0m27-1h0m13 13h0m-6-3h0m-7 3h0m0-1h0m-22-2h0m-15 2h0m6 21h0m11-10h0m1 2h0m3 8h0m9-10h0m5 2h0m14 7h0m3-6h0m-30 13h0m-15 1h0m-5 0h0m0-4h0m-2 3h0m-5 0h0m-7-1h0m0 6h0m5 3h0m1 1h0m6 6h0m20-6h0m13 5h0m3 4h0m5-7h0m-4 9h0m-6 1h0m-1 1h0" stroke="#fdd7a0" stroke-width="4.2" stroke-linecap="round" fill="none"/>
<path transform="scale(.25)" d="M2670 1910h0m-48 2h0m-7 9h0m4 8h0m51 1h0m1-4h0m-5 12h0m-49 1h0m-9 3h0m-28 0h0m83 6h0m40 18h0m-5-2h0m-10 2h0m-149 1h0m163 9h0m4-6h0m3-2h0m19 23h0m-191-8h0m-11 8h0m-12-1h0m-20 12h0m26-8h0m9 1h0m-43 11h0m-5 0h0m-1 14h0m264 12h0m-264-1h0m-2 8h0m7 10h0m0-2h0m54 16h0m-22-6h0m-10-4h0m-10 6h0m37 7h0m7 1h0m194 0h0m0 12h0m-4 1h0m-178 0h0m-4 8h0m14 24h0m2 2h0m3 6h0m10-6h0m141 8h0m-115 13h0m-5-3h0m27 11h0m10 2h0m63 2h0m11-3h0m-50 15h0m-8 0h0m-13-1h0m-8-8h0m58 15h0" stroke="#f0e0f0" stroke-width="3.6" stroke-linecap="round" fill="none"/>
<path d="M626.2 514.5Q627.5 524 634.5 526.8Q637.5 528.5 641 529.3" fill="none" stroke="#fff" stroke-width="1.2" stroke-dasharray="2.4 1.8"/>
</g>
</g>
</svg>
</body></html>
